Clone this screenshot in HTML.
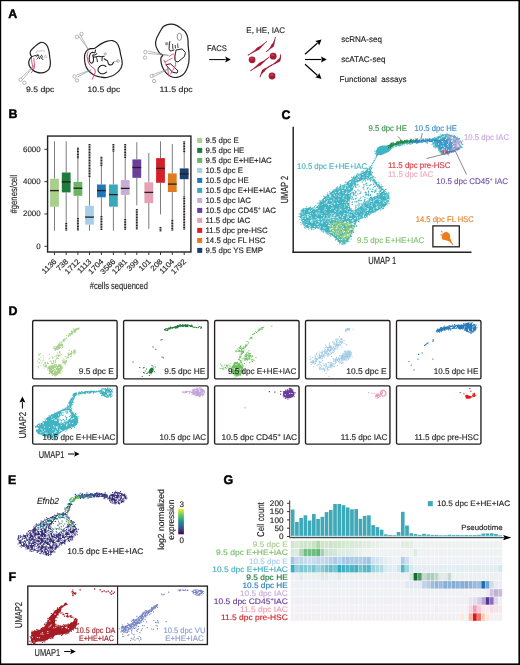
<!DOCTYPE html>
<html><head><meta charset="utf-8"><style>
html,body{margin:0;padding:0;background:#fff;}
body{width:520px;height:665px;overflow:hidden;position:relative;}
svg{position:absolute;left:0;top:0;display:block;will-change:transform;}
text{font-family:"Liberation Sans", sans-serif;text-rendering:geometricPrecision;}
</style></head><body>
<svg width="520" height="665" viewBox="0 0 520 665">
<rect x="0" y="0" width="520" height="665" fill="#fff"/>
<rect x="0.00" y="0.00" width="520.00" height="1.20" fill="#000"/>
<rect x="0.00" y="0.00" width="1.20" height="665.00" fill="#000"/>
<rect x="518.40" y="0.00" width="1.60" height="665.00" fill="#000"/>
<rect x="0.00" y="663.40" width="520.00" height="1.60" fill="#000"/>
<text transform="translate(8.30 17.90)" font-size="12.4" fill="#000" font-weight="bold" stroke="#000" stroke-width="0.45">A</text>
<text transform="translate(8.60 117.70)" font-size="12.4" fill="#000" font-weight="bold" stroke="#000" stroke-width="0.45">B</text>
<text transform="translate(281.60 118.50)" font-size="12.4" fill="#000" font-weight="bold" stroke="#000" stroke-width="0.45">C</text>
<text transform="translate(8.60 314.90)" font-size="12.4" fill="#000" font-weight="bold" stroke="#000" stroke-width="0.45">D</text>
<text transform="translate(8.00 484.30)" font-size="12.4" fill="#000" font-weight="bold" stroke="#000" stroke-width="0.45">E</text>
<text transform="translate(8.60 581.40)" font-size="12.4" fill="#000" font-weight="bold" stroke="#000" stroke-width="0.45">F</text>
<text transform="translate(223.40 483.70)" font-size="12.4" fill="#000" font-weight="bold" stroke="#000" stroke-width="0.45">G</text>
<rect x="47.6" y="136.05" width="143.3" height="115.95" fill="none" stroke="#231f20" stroke-width="1.4"/>
<line x1="44.40" y1="149.31" x2="47.40" y2="149.31" stroke="#231f20" stroke-width="0.9"/>
<text transform="translate(40.60 151.61)" font-size="7.9" fill="#231f20" text-anchor="end" stroke="#231f20" stroke-width="0.15">6000</text>
<line x1="44.40" y1="181.64" x2="47.40" y2="181.64" stroke="#231f20" stroke-width="0.9"/>
<text transform="translate(40.60 183.94)" font-size="7.9" fill="#231f20" text-anchor="end" stroke="#231f20" stroke-width="0.15">4000</text>
<line x1="44.40" y1="213.97" x2="47.40" y2="213.97" stroke="#231f20" stroke-width="0.9"/>
<text transform="translate(40.60 216.27)" font-size="7.9" fill="#231f20" text-anchor="end" stroke="#231f20" stroke-width="0.15">2000</text>
<line x1="44.40" y1="246.30" x2="47.40" y2="246.30" stroke="#231f20" stroke-width="0.9"/>
<text transform="translate(40.60 248.60)" font-size="7.9" fill="#231f20" text-anchor="end" stroke="#231f20" stroke-width="0.15">0</text>
<text transform="translate(16.60 194.00) rotate(-90)" font-size="9.8" fill="#231f20" text-anchor="middle" textLength="39.00" lengthAdjust="spacingAndGlyphs" stroke="#231f20" stroke-width="0.15">#genes/cell</text>
<line x1="54.50" y1="141.30" x2="54.50" y2="178.70" stroke="#6d6e71" stroke-width="0.9"/>
<line x1="54.50" y1="206.70" x2="54.50" y2="230.70" stroke="#6d6e71" stroke-width="0.9"/>
<rect x="50.10" y="178.70" width="8.80" height="28.00" fill="#a8cf8b"/>
<rect x="50.10" y="189.95" width="8.80" height="1.30" fill="#231f20"/>
<line x1="54.50" y1="252.20" x2="54.50" y2="255.00" stroke="#231f20" stroke-width="0.9"/>
<line x1="66.20" y1="141.30" x2="66.20" y2="172.50" stroke="#6d6e71" stroke-width="0.9"/>
<line x1="66.20" y1="192.40" x2="66.20" y2="223.00" stroke="#6d6e71" stroke-width="0.9"/>
<rect x="65.25" y="223.00" width="1.90" height="1.20" fill="#231f20"/>
<rect x="65.25" y="224.60" width="1.90" height="1.20" fill="#231f20"/>
<rect x="65.25" y="226.20" width="1.90" height="1.20" fill="#231f20"/>
<rect x="65.25" y="227.80" width="1.90" height="1.20" fill="#231f20"/>
<rect x="65.25" y="229.40" width="1.90" height="1.20" fill="#231f20"/>
<rect x="61.80" y="172.50" width="8.80" height="19.90" fill="#1e7b3c"/>
<rect x="61.80" y="181.25" width="8.80" height="1.30" fill="#231f20"/>
<line x1="66.20" y1="252.20" x2="66.20" y2="255.00" stroke="#231f20" stroke-width="0.9"/>
<line x1="77.90" y1="158.50" x2="77.90" y2="181.90" stroke="#6d6e71" stroke-width="0.9"/>
<line x1="77.90" y1="195.80" x2="77.90" y2="218.00" stroke="#6d6e71" stroke-width="0.9"/>
<rect x="76.95" y="147.60" width="1.90" height="1.20" fill="#231f20"/>
<rect x="76.95" y="149.20" width="1.90" height="1.20" fill="#231f20"/>
<rect x="76.95" y="150.80" width="1.90" height="1.20" fill="#231f20"/>
<rect x="76.95" y="152.40" width="1.90" height="1.20" fill="#231f20"/>
<rect x="76.95" y="154.00" width="1.90" height="1.20" fill="#231f20"/>
<rect x="76.95" y="155.60" width="1.90" height="1.20" fill="#231f20"/>
<rect x="76.95" y="157.20" width="1.90" height="1.20" fill="#231f20"/>
<rect x="76.95" y="218.00" width="1.90" height="1.20" fill="#231f20"/>
<rect x="76.95" y="219.60" width="1.90" height="1.20" fill="#231f20"/>
<rect x="76.95" y="221.20" width="1.90" height="1.20" fill="#231f20"/>
<rect x="76.95" y="222.80" width="1.90" height="1.20" fill="#231f20"/>
<rect x="76.95" y="224.40" width="1.90" height="1.20" fill="#231f20"/>
<rect x="76.95" y="226.00" width="1.90" height="1.20" fill="#231f20"/>
<rect x="76.95" y="227.60" width="1.90" height="1.20" fill="#231f20"/>
<rect x="76.95" y="229.20" width="1.90" height="1.20" fill="#231f20"/>
<rect x="73.50" y="181.90" width="8.80" height="13.90" fill="#6bb567"/>
<rect x="73.50" y="187.55" width="8.80" height="1.30" fill="#231f20"/>
<line x1="77.90" y1="252.20" x2="77.90" y2="255.00" stroke="#231f20" stroke-width="0.9"/>
<line x1="89.50" y1="177.40" x2="89.50" y2="205.80" stroke="#6d6e71" stroke-width="0.9"/>
<line x1="89.50" y1="224.70" x2="89.50" y2="230.70" stroke="#6d6e71" stroke-width="0.9"/>
<rect x="88.55" y="144.00" width="1.90" height="1.20" fill="#231f20"/>
<rect x="88.55" y="145.60" width="1.90" height="1.20" fill="#231f20"/>
<rect x="88.55" y="147.20" width="1.90" height="1.20" fill="#231f20"/>
<rect x="88.55" y="148.80" width="1.90" height="1.20" fill="#231f20"/>
<rect x="88.55" y="150.40" width="1.90" height="1.20" fill="#231f20"/>
<rect x="88.55" y="152.00" width="1.90" height="1.20" fill="#231f20"/>
<rect x="88.55" y="153.60" width="1.90" height="1.20" fill="#231f20"/>
<rect x="88.55" y="155.20" width="1.90" height="1.20" fill="#231f20"/>
<rect x="88.55" y="156.80" width="1.90" height="1.20" fill="#231f20"/>
<rect x="88.55" y="158.40" width="1.90" height="1.20" fill="#231f20"/>
<rect x="88.55" y="160.00" width="1.90" height="1.20" fill="#231f20"/>
<rect x="88.55" y="161.60" width="1.90" height="1.20" fill="#231f20"/>
<rect x="88.55" y="163.20" width="1.90" height="1.20" fill="#231f20"/>
<rect x="88.55" y="164.80" width="1.90" height="1.20" fill="#231f20"/>
<rect x="88.55" y="166.40" width="1.90" height="1.20" fill="#231f20"/>
<rect x="88.55" y="168.00" width="1.90" height="1.20" fill="#231f20"/>
<rect x="88.55" y="169.60" width="1.90" height="1.20" fill="#231f20"/>
<rect x="88.55" y="171.20" width="1.90" height="1.20" fill="#231f20"/>
<rect x="88.55" y="172.80" width="1.90" height="1.20" fill="#231f20"/>
<rect x="88.55" y="174.40" width="1.90" height="1.20" fill="#231f20"/>
<rect x="88.55" y="176.00" width="1.90" height="1.20" fill="#231f20"/>
<rect x="85.10" y="205.80" width="8.80" height="18.90" fill="#a7cfe9"/>
<rect x="85.10" y="216.45" width="8.80" height="1.30" fill="#231f20"/>
<line x1="89.50" y1="252.20" x2="89.50" y2="255.00" stroke="#231f20" stroke-width="0.9"/>
<line x1="101.40" y1="164.80" x2="101.40" y2="184.50" stroke="#6d6e71" stroke-width="0.9"/>
<line x1="101.40" y1="197.30" x2="101.40" y2="216.00" stroke="#6d6e71" stroke-width="0.9"/>
<rect x="100.45" y="156.70" width="1.90" height="1.20" fill="#231f20"/>
<rect x="100.45" y="158.30" width="1.90" height="1.20" fill="#231f20"/>
<rect x="100.45" y="159.90" width="1.90" height="1.20" fill="#231f20"/>
<rect x="100.45" y="161.50" width="1.90" height="1.20" fill="#231f20"/>
<rect x="100.45" y="163.10" width="1.90" height="1.20" fill="#231f20"/>
<rect x="100.45" y="164.70" width="1.90" height="1.20" fill="#231f20"/>
<rect x="100.45" y="216.00" width="1.90" height="1.20" fill="#231f20"/>
<rect x="100.45" y="217.60" width="1.90" height="1.20" fill="#231f20"/>
<rect x="100.45" y="219.20" width="1.90" height="1.20" fill="#231f20"/>
<rect x="100.45" y="220.80" width="1.90" height="1.20" fill="#231f20"/>
<rect x="100.45" y="222.40" width="1.90" height="1.20" fill="#231f20"/>
<rect x="100.45" y="224.00" width="1.90" height="1.20" fill="#231f20"/>
<rect x="100.45" y="225.60" width="1.90" height="1.20" fill="#231f20"/>
<rect x="100.45" y="227.20" width="1.90" height="1.20" fill="#231f20"/>
<rect x="100.45" y="228.80" width="1.90" height="1.20" fill="#231f20"/>
<rect x="97.00" y="184.50" width="8.80" height="12.80" fill="#1f78b8"/>
<rect x="97.00" y="189.95" width="8.80" height="1.30" fill="#231f20"/>
<line x1="101.40" y1="252.20" x2="101.40" y2="255.00" stroke="#231f20" stroke-width="0.9"/>
<line x1="113.40" y1="151.00" x2="113.40" y2="184.50" stroke="#6d6e71" stroke-width="0.9"/>
<line x1="113.40" y1="206.70" x2="113.40" y2="230.70" stroke="#6d6e71" stroke-width="0.9"/>
<rect x="112.45" y="144.00" width="1.90" height="1.20" fill="#231f20"/>
<rect x="112.45" y="145.60" width="1.90" height="1.20" fill="#231f20"/>
<rect x="112.45" y="147.20" width="1.90" height="1.20" fill="#231f20"/>
<rect x="112.45" y="148.80" width="1.90" height="1.20" fill="#231f20"/>
<rect x="112.45" y="150.40" width="1.90" height="1.20" fill="#231f20"/>
<rect x="109.00" y="184.50" width="8.80" height="22.20" fill="#3ba8b9"/>
<rect x="109.00" y="193.95" width="8.80" height="1.30" fill="#231f20"/>
<line x1="113.40" y1="252.20" x2="113.40" y2="255.00" stroke="#231f20" stroke-width="0.9"/>
<line x1="125.20" y1="157.60" x2="125.20" y2="180.10" stroke="#6d6e71" stroke-width="0.9"/>
<line x1="125.20" y1="194.90" x2="125.20" y2="219.00" stroke="#6d6e71" stroke-width="0.9"/>
<rect x="124.25" y="144.00" width="1.90" height="1.20" fill="#231f20"/>
<rect x="124.25" y="145.60" width="1.90" height="1.20" fill="#231f20"/>
<rect x="124.25" y="147.20" width="1.90" height="1.20" fill="#231f20"/>
<rect x="124.25" y="148.80" width="1.90" height="1.20" fill="#231f20"/>
<rect x="124.25" y="150.40" width="1.90" height="1.20" fill="#231f20"/>
<rect x="124.25" y="152.00" width="1.90" height="1.20" fill="#231f20"/>
<rect x="124.25" y="153.60" width="1.90" height="1.20" fill="#231f20"/>
<rect x="124.25" y="155.20" width="1.90" height="1.20" fill="#231f20"/>
<rect x="124.25" y="156.80" width="1.90" height="1.20" fill="#231f20"/>
<rect x="124.25" y="219.00" width="1.90" height="1.20" fill="#231f20"/>
<rect x="124.25" y="220.60" width="1.90" height="1.20" fill="#231f20"/>
<rect x="124.25" y="222.20" width="1.90" height="1.20" fill="#231f20"/>
<rect x="124.25" y="223.80" width="1.90" height="1.20" fill="#231f20"/>
<rect x="124.25" y="225.40" width="1.90" height="1.20" fill="#231f20"/>
<rect x="124.25" y="227.00" width="1.90" height="1.20" fill="#231f20"/>
<rect x="124.25" y="228.60" width="1.90" height="1.20" fill="#231f20"/>
<rect x="120.80" y="180.10" width="8.80" height="14.80" fill="#c8aed7"/>
<rect x="120.80" y="187.75" width="8.80" height="1.30" fill="#231f20"/>
<line x1="125.20" y1="252.20" x2="125.20" y2="255.00" stroke="#231f20" stroke-width="0.9"/>
<line x1="136.80" y1="142.20" x2="136.80" y2="159.40" stroke="#6d6e71" stroke-width="0.9"/>
<line x1="136.80" y1="177.80" x2="136.80" y2="205.40" stroke="#6d6e71" stroke-width="0.9"/>
<rect x="135.85" y="209.00" width="1.90" height="1.20" fill="#231f20"/>
<rect x="135.85" y="210.60" width="1.90" height="1.20" fill="#231f20"/>
<rect x="135.85" y="212.20" width="1.90" height="1.20" fill="#231f20"/>
<rect x="135.85" y="213.80" width="1.90" height="1.20" fill="#231f20"/>
<rect x="135.85" y="215.40" width="1.90" height="1.20" fill="#231f20"/>
<rect x="135.85" y="217.00" width="1.90" height="1.20" fill="#231f20"/>
<rect x="135.85" y="218.60" width="1.90" height="1.20" fill="#231f20"/>
<rect x="135.85" y="220.20" width="1.90" height="1.20" fill="#231f20"/>
<rect x="135.85" y="221.80" width="1.90" height="1.20" fill="#231f20"/>
<rect x="135.85" y="223.40" width="1.90" height="1.20" fill="#231f20"/>
<rect x="135.85" y="225.00" width="1.90" height="1.20" fill="#231f20"/>
<rect x="135.85" y="226.60" width="1.90" height="1.20" fill="#231f20"/>
<rect x="135.85" y="228.20" width="1.90" height="1.20" fill="#231f20"/>
<rect x="132.40" y="159.40" width="8.80" height="18.40" fill="#6a3e9b"/>
<rect x="132.40" y="166.85" width="8.80" height="1.30" fill="#231f20"/>
<line x1="136.80" y1="252.20" x2="136.80" y2="255.00" stroke="#231f20" stroke-width="0.9"/>
<line x1="148.80" y1="153.00" x2="148.80" y2="182.30" stroke="#6d6e71" stroke-width="0.9"/>
<line x1="148.80" y1="203.20" x2="148.80" y2="228.90" stroke="#6d6e71" stroke-width="0.9"/>
<rect x="144.40" y="182.30" width="8.80" height="20.90" fill="#e6a1b5"/>
<rect x="144.40" y="191.75" width="8.80" height="1.30" fill="#231f20"/>
<line x1="148.80" y1="252.20" x2="148.80" y2="255.00" stroke="#231f20" stroke-width="0.9"/>
<line x1="160.50" y1="141.30" x2="160.50" y2="158.10" stroke="#6d6e71" stroke-width="0.9"/>
<line x1="160.50" y1="182.80" x2="160.50" y2="214.40" stroke="#6d6e71" stroke-width="0.9"/>
<rect x="159.55" y="227.00" width="1.90" height="1.20" fill="#231f20"/>
<rect x="159.55" y="228.60" width="1.90" height="1.20" fill="#231f20"/>
<rect x="159.55" y="230.20" width="1.90" height="1.20" fill="#231f20"/>
<rect x="156.10" y="158.10" width="8.80" height="24.70" fill="#d42128"/>
<rect x="156.10" y="167.75" width="8.80" height="1.30" fill="#231f20"/>
<line x1="160.50" y1="252.20" x2="160.50" y2="255.00" stroke="#231f20" stroke-width="0.9"/>
<line x1="172.30" y1="144.00" x2="172.30" y2="173.40" stroke="#6d6e71" stroke-width="0.9"/>
<line x1="172.30" y1="192.00" x2="172.30" y2="219.80" stroke="#6d6e71" stroke-width="0.9"/>
<rect x="171.35" y="219.80" width="1.90" height="1.20" fill="#231f20"/>
<rect x="171.35" y="221.40" width="1.90" height="1.20" fill="#231f20"/>
<rect x="171.35" y="223.00" width="1.90" height="1.20" fill="#231f20"/>
<rect x="171.35" y="224.60" width="1.90" height="1.20" fill="#231f20"/>
<rect x="171.35" y="226.20" width="1.90" height="1.20" fill="#231f20"/>
<rect x="171.35" y="227.80" width="1.90" height="1.20" fill="#231f20"/>
<rect x="171.35" y="229.40" width="1.90" height="1.20" fill="#231f20"/>
<rect x="167.90" y="173.40" width="8.80" height="18.60" fill="#e17b21"/>
<rect x="167.90" y="183.45" width="8.80" height="1.30" fill="#231f20"/>
<line x1="172.30" y1="252.20" x2="172.30" y2="255.00" stroke="#231f20" stroke-width="0.9"/>
<line x1="184.20" y1="151.20" x2="184.20" y2="168.40" stroke="#6d6e71" stroke-width="0.9"/>
<line x1="184.20" y1="179.20" x2="184.20" y2="196.40" stroke="#6d6e71" stroke-width="0.9"/>
<rect x="183.25" y="141.30" width="1.90" height="1.20" fill="#231f20"/>
<rect x="183.25" y="142.90" width="1.90" height="1.20" fill="#231f20"/>
<rect x="183.25" y="144.50" width="1.90" height="1.20" fill="#231f20"/>
<rect x="183.25" y="146.10" width="1.90" height="1.20" fill="#231f20"/>
<rect x="183.25" y="147.70" width="1.90" height="1.20" fill="#231f20"/>
<rect x="183.25" y="149.30" width="1.90" height="1.20" fill="#231f20"/>
<rect x="183.25" y="150.90" width="1.90" height="1.20" fill="#231f20"/>
<rect x="183.25" y="196.40" width="1.90" height="1.20" fill="#231f20"/>
<rect x="183.25" y="198.00" width="1.90" height="1.20" fill="#231f20"/>
<rect x="183.25" y="199.60" width="1.90" height="1.20" fill="#231f20"/>
<rect x="183.25" y="201.20" width="1.90" height="1.20" fill="#231f20"/>
<rect x="183.25" y="202.80" width="1.90" height="1.20" fill="#231f20"/>
<rect x="183.25" y="204.40" width="1.90" height="1.20" fill="#231f20"/>
<rect x="183.25" y="206.00" width="1.90" height="1.20" fill="#231f20"/>
<rect x="183.25" y="207.60" width="1.90" height="1.20" fill="#231f20"/>
<rect x="183.25" y="209.20" width="1.90" height="1.20" fill="#231f20"/>
<rect x="183.25" y="210.80" width="1.90" height="1.20" fill="#231f20"/>
<rect x="183.25" y="212.40" width="1.90" height="1.20" fill="#231f20"/>
<rect x="183.25" y="214.00" width="1.90" height="1.20" fill="#231f20"/>
<rect x="183.25" y="215.60" width="1.90" height="1.20" fill="#231f20"/>
<rect x="183.25" y="217.20" width="1.90" height="1.20" fill="#231f20"/>
<rect x="183.25" y="218.80" width="1.90" height="1.20" fill="#231f20"/>
<rect x="183.25" y="220.40" width="1.90" height="1.20" fill="#231f20"/>
<rect x="183.25" y="222.00" width="1.90" height="1.20" fill="#231f20"/>
<rect x="183.25" y="223.60" width="1.90" height="1.20" fill="#231f20"/>
<rect x="183.25" y="225.20" width="1.90" height="1.20" fill="#231f20"/>
<rect x="183.25" y="226.80" width="1.90" height="1.20" fill="#231f20"/>
<rect x="183.25" y="228.40" width="1.90" height="1.20" fill="#231f20"/>
<rect x="179.80" y="168.40" width="8.80" height="10.80" fill="#1b3f71"/>
<rect x="179.80" y="173.15" width="8.80" height="1.30" fill="#231f20"/>
<line x1="184.20" y1="252.20" x2="184.20" y2="255.00" stroke="#231f20" stroke-width="0.9"/>
<text transform="translate(57.00 262.00) rotate(-45) scale(1.060 1)" font-size="7.6" fill="#231f20" text-anchor="end" stroke="#231f20" stroke-width="0.15">1136</text>
<text transform="translate(68.70 262.00) rotate(-45) scale(1.060 1)" font-size="7.6" fill="#231f20" text-anchor="end" stroke="#231f20" stroke-width="0.15">738</text>
<text transform="translate(80.40 262.00) rotate(-45) scale(1.060 1)" font-size="7.6" fill="#231f20" text-anchor="end" stroke="#231f20" stroke-width="0.15">1712</text>
<text transform="translate(92.00 262.00) rotate(-45) scale(1.060 1)" font-size="7.6" fill="#231f20" text-anchor="end" stroke="#231f20" stroke-width="0.15">1113</text>
<text transform="translate(103.90 262.00) rotate(-45) scale(1.060 1)" font-size="7.6" fill="#231f20" text-anchor="end" stroke="#231f20" stroke-width="0.15">1704</text>
<text transform="translate(115.90 262.00) rotate(-45) scale(1.060 1)" font-size="7.6" fill="#231f20" text-anchor="end" stroke="#231f20" stroke-width="0.15">3586</text>
<text transform="translate(127.70 262.00) rotate(-45) scale(1.060 1)" font-size="7.6" fill="#231f20" text-anchor="end" stroke="#231f20" stroke-width="0.15">1281</text>
<text transform="translate(139.30 262.00) rotate(-45) scale(1.060 1)" font-size="7.6" fill="#231f20" text-anchor="end" stroke="#231f20" stroke-width="0.15">399</text>
<text transform="translate(151.30 262.00) rotate(-45) scale(1.060 1)" font-size="7.6" fill="#231f20" text-anchor="end" stroke="#231f20" stroke-width="0.15">101</text>
<text transform="translate(163.00 262.00) rotate(-45) scale(1.060 1)" font-size="7.6" fill="#231f20" text-anchor="end" stroke="#231f20" stroke-width="0.15">208</text>
<text transform="translate(174.80 262.00) rotate(-45) scale(1.060 1)" font-size="7.6" fill="#231f20" text-anchor="end" stroke="#231f20" stroke-width="0.15">1104</text>
<text transform="translate(186.70 262.00) rotate(-45) scale(1.060 1)" font-size="7.6" fill="#231f20" text-anchor="end" stroke="#231f20" stroke-width="0.15">1792</text>
<text transform="translate(89.70 288.90)" font-size="9.8" fill="#231f20" textLength="58.30" lengthAdjust="spacingAndGlyphs" stroke="#231f20" stroke-width="0.15">#cells sequenced</text>
<rect x="197.20" y="137.90" width="5.00" height="5.00" fill="#a8cf8b"/>
<text transform="translate(205.50 142.90)" font-size="7.85" fill="#231f20" stroke="#231f20" stroke-width="0.15">9.5 dpc E</text>
<rect x="197.20" y="147.90" width="5.00" height="5.00" fill="#1e7b3c"/>
<text transform="translate(205.50 152.90)" font-size="7.85" fill="#231f20" stroke="#231f20" stroke-width="0.15">9.5 dpc HE</text>
<rect x="197.20" y="157.90" width="5.00" height="5.00" fill="#6bb567"/>
<text transform="translate(205.50 162.90)" font-size="7.85" fill="#231f20" stroke="#231f20" stroke-width="0.15">9.5 dpc E+HE+IAC</text>
<rect x="197.20" y="167.90" width="5.00" height="5.00" fill="#a7cfe9"/>
<text transform="translate(205.50 172.90)" font-size="7.85" fill="#231f20" stroke="#231f20" stroke-width="0.15">10.5 dpc E</text>
<rect x="197.20" y="177.90" width="5.00" height="5.00" fill="#1f78b8"/>
<text transform="translate(205.50 182.90)" font-size="7.85" fill="#231f20" stroke="#231f20" stroke-width="0.15">10.5 dpc HE</text>
<rect x="197.20" y="187.90" width="5.00" height="5.00" fill="#3ba8b9"/>
<text transform="translate(205.50 192.90)" font-size="7.85" fill="#231f20" stroke="#231f20" stroke-width="0.15">10.5 dpc E+HE+IAC</text>
<rect x="197.20" y="197.90" width="5.00" height="5.00" fill="#c8aed7"/>
<text transform="translate(205.50 202.90)" font-size="7.85" fill="#231f20" stroke="#231f20" stroke-width="0.15">10.5 dpc IAC</text>
<rect x="197.20" y="207.90" width="5.00" height="5.00" fill="#6a3e9b"/>
<text transform="translate(205.50 212.90)" font-size="7.85" fill="#231f20" stroke="#231f20" stroke-width="0.15">10.5 dpc CD45<tspan dy="-2.6" font-size="4.8">+</tspan><tspan dy="2.6"> IAC</tspan></text>
<rect x="197.20" y="217.90" width="5.00" height="5.00" fill="#e6a1b5"/>
<text transform="translate(205.50 222.90)" font-size="7.85" fill="#231f20" stroke="#231f20" stroke-width="0.15">11.5 dpc IAC</text>
<rect x="197.20" y="227.90" width="5.00" height="5.00" fill="#d42128"/>
<text transform="translate(205.50 232.90)" font-size="7.85" fill="#231f20" stroke="#231f20" stroke-width="0.15">11.5 dpc pre-HSC</text>
<rect x="197.20" y="237.90" width="5.00" height="5.00" fill="#e17b21"/>
<text transform="translate(205.50 242.90)" font-size="7.85" fill="#231f20" stroke="#231f20" stroke-width="0.15">14.5 dpc FL HSC</text>
<rect x="197.20" y="247.90" width="5.00" height="5.00" fill="#1b3f71"/>
<text transform="translate(205.50 252.90)" font-size="7.85" fill="#231f20" stroke="#231f20" stroke-width="0.15">9.5 dpc YS EMP</text>
<path d="M41.0 42.3 C42.3 42.1 43.9 42.8 45.0 43.5 C46.1 44.2 46.8 45.2 47.5 46.5 C48.2 47.8 48.6 49.7 49.0 51.5 C49.4 53.3 49.6 55.5 49.8 57.5 C50.0 59.5 50.5 61.6 50.4 63.5 C50.3 65.4 50.0 67.4 49.2 68.8 C48.4 70.2 47.1 71.1 45.8 71.8 C44.5 72.5 42.8 72.9 41.2 72.9 C39.7 73.0 38.0 72.6 36.5 72.1 C35.0 71.6 33.6 70.8 32.5 69.8 C31.4 68.8 30.2 67.5 29.6 66.3 C29.0 65.1 28.7 63.8 28.7 62.6 C28.7 61.4 29.3 60.0 29.8 59.0 C30.3 58.0 31.5 57.5 31.6 56.8 C31.7 56.0 30.6 55.4 30.4 54.5 C30.2 53.6 30.0 52.3 30.5 51.2 C31.0 50.1 32.2 49.1 33.3 48.0 C34.4 46.9 36.0 45.6 37.3 44.6 C38.6 43.6 39.7 42.5 41.0 42.3 Z" fill="none" stroke="#231f20" stroke-width="1.2" stroke-linecap="round" stroke-linejoin="round"/>
<path d="M32.0 56.6 C32.5 56.4 34.0 55.9 35.0 55.6 C36.0 55.3 37.5 55.1 38.0 55.0" fill="none" stroke="#231f20" stroke-width="0.9" stroke-linecap="round" stroke-linejoin="round"/>
<path d="M36.3 56.5 C36.5 56.3 37.3 55.3 37.8 55.2 C38.2 55.1 38.9 55.4 39.0 55.8 C39.1 56.2 38.5 57.1 38.2 57.6 C37.9 58.1 37.2 58.8 37.0 59.0" fill="none" stroke="#231f20" stroke-width="1.0" stroke-linecap="round" stroke-linejoin="round"/>
<path d="M39.5 58.8 C39.7 58.4 40.2 57.1 40.5 56.5 C40.8 55.9 41.2 55.2 41.5 55.2 C41.8 55.2 42.3 56.2 42.3 56.8 C42.3 57.3 41.5 58.1 41.6 58.5 C41.7 58.9 42.8 59.2 43.0 59.3" fill="none" stroke="#231f20" stroke-width="1.0" stroke-linecap="round" stroke-linejoin="round"/>
<path d="M36.0 52.8 C36.2 52.5 36.9 51.1 37.5 50.8 C38.1 50.5 38.8 51.2 39.5 51.2 C40.2 51.2 41.1 50.6 42.0 50.6 C42.9 50.6 44.2 51.1 44.6 51.2" fill="none" stroke="#999" stroke-width="0.6" stroke-linecap="round" stroke-linejoin="round"/>
<circle cx="45.6" cy="56.6" r="1.1" fill="none" stroke="#888" stroke-width="0.5"/>
<path d="M31.5 58.0 C31.6 58.7 31.6 60.7 31.8 62.0 C32.0 63.3 32.3 64.9 32.6 66.0 C32.9 67.1 33.8 67.8 33.8 68.6 C33.8 69.4 33.0 70.3 32.6 71.0 C32.2 71.7 31.4 72.5 31.2 72.8" fill="none" stroke="#e0407a" stroke-width="0.9" stroke-linecap="round" stroke-linejoin="round"/>
<path d="M33.8 58.3 C33.8 58.9 34.0 60.7 34.1 62.0 C34.2 63.3 34.6 64.9 34.6 66.0 C34.6 67.1 34.3 68.0 34.2 68.4" fill="none" stroke="#e0407a" stroke-width="0.9" stroke-linecap="round" stroke-linejoin="round"/>
<line x1="35.00" y1="64.50" x2="22.80" y2="79.50" stroke="#8a8c8e" stroke-width="0.6"/>
<line x1="35.00" y1="64.50" x2="21.09" y2="78.11" stroke="#8a8c8e" stroke-width="0.6"/>
<circle cx="20.6" cy="79.6" r="1.7" fill="none" stroke="#8a8c8e" stroke-width="0.6"/>
<circle cx="24.4" cy="82.8" r="1.7" fill="none" stroke="#8a8c8e" stroke-width="0.6"/>
<path d="M95.5 47.8 C96.8 47.0 99.5 44.7 101.5 43.6 C103.4 42.5 105.5 41.6 107.4 41.1 C109.2 40.6 110.9 40.4 112.5 40.6 C114.0 40.9 115.6 41.6 116.7 42.8 C117.8 44.0 118.6 46.0 119.2 47.8 C119.9 49.7 120.1 51.8 120.5 53.8 C120.9 55.7 121.5 58.0 121.8 59.7 C122.0 61.4 122.3 62.5 122.2 63.9 C122.0 65.3 121.7 66.7 120.9 68.2 C120.1 69.6 118.9 71.1 117.5 72.4 C116.1 73.6 114.3 74.9 112.5 75.8 C110.6 76.6 108.5 77.2 106.5 77.5 C104.6 77.7 102.4 77.3 100.6 77.0 C98.8 76.7 97.1 76.4 95.5 75.8 C94.0 75.1 92.6 74.2 91.3 73.2 C90.0 72.2 88.9 71.3 87.9 69.8 C86.9 68.4 85.9 66.6 85.4 64.8 C84.8 62.9 84.6 60.7 84.5 58.8 C84.5 57.0 84.5 55.2 85.0 53.8 C85.4 52.4 86.2 51.2 87.1 50.4 C88.0 49.5 89.3 49.0 90.5 48.7 C91.6 48.4 93.0 48.7 93.8 48.5 C94.7 48.4 94.3 48.7 95.5 47.8 Z" fill="none" stroke="#231f20" stroke-width="1.2" stroke-linecap="round" stroke-linejoin="round"/>
<path d="M95.5 50.0 C95.4 50.5 95.3 52.5 94.7 52.9 C94.1 53.3 92.9 52.0 92.2 52.2 C91.4 52.5 90.5 53.2 90.0 54.2 C89.5 55.1 89.3 56.8 89.2 58.0 C89.1 59.2 89.3 60.5 89.6 61.4 C90.0 62.3 90.7 63.2 91.3 63.2 C91.9 63.3 92.8 62.7 93.2 61.8 C93.5 60.9 93.5 59.1 93.4 58.0 C93.4 56.9 92.6 55.5 92.8 55.0 C93.0 54.5 94.0 55.3 94.7 55.0 C95.4 54.8 96.5 54.0 96.8 53.8" fill="none" stroke="#231f20" stroke-width="1.1" stroke-linecap="round" stroke-linejoin="round"/>
<path d="M93.8 57.1 C94.3 57.1 95.5 56.9 96.4 56.7 C97.2 56.6 98.1 56.3 98.9 56.3 C99.8 56.3 100.6 56.7 101.5 56.7 C102.3 56.7 103.7 56.4 104.2 56.3" fill="none" stroke="#231f20" stroke-width="1.1" stroke-linecap="round" stroke-linejoin="round"/>
<path d="M96.4 57.6 C96.5 57.9 96.9 59.0 97.1 59.7 C97.2 60.4 97.3 61.4 97.4 61.8" fill="none" stroke="#231f20" stroke-width="1.0" stroke-linecap="round" stroke-linejoin="round"/>
<path d="M102.3 57.0 C102.3 57.3 102.2 58.2 102.1 58.8 C102.1 59.5 101.9 60.4 101.9 60.7" fill="none" stroke="#231f20" stroke-width="1.0" stroke-linecap="round" stroke-linejoin="round"/>
<path d="M104.2 58.8 C104.6 59.1 105.9 59.7 106.5 60.1 C107.1 60.5 107.5 60.7 107.8 61.4 C108.1 62.0 108.0 63.3 108.4 63.9 C108.8 64.5 109.7 64.9 110.3 64.9 C111.0 65.0 111.8 64.8 112.3 64.3 C112.8 63.9 113.3 62.6 113.5 62.2" fill="none" stroke="#231f20" stroke-width="1.1" stroke-linecap="round" stroke-linejoin="round"/>
<path d="M105.9 66.5 C105.4 66.2 104.1 65.3 103.2 65.2 C102.2 65.1 101.0 65.5 100.2 66.0 C99.4 66.6 98.6 67.7 98.2 68.6 C97.9 69.4 97.9 70.3 98.2 71.1 C98.6 71.9 99.3 72.8 100.2 73.2 C101.1 73.7 102.7 73.9 103.8 73.7 C104.9 73.5 106.2 72.3 106.7 72.0" fill="none" stroke="#231f20" stroke-width="1.1" stroke-linecap="round" stroke-linejoin="round"/>
<circle cx="105.3" cy="53.8" r="1.1" fill="none" stroke="#777" stroke-width="0.6"/>
<circle cx="118.0" cy="61.0" r="1.3" fill="none" stroke="#777" stroke-width="0.6"/>
<line x1="113.50" y1="61.60" x2="116.70" y2="61.20" stroke="#777" stroke-width="0.5"/>
<path d="M88.1 51.9 C87.9 52.6 87.0 54.5 87.1 56.3 C87.2 58.1 87.8 61.1 88.6 62.9 C89.4 64.7 91.0 66.1 92.0 67.1 C93.0 68.2 94.2 68.3 94.7 69.2 C95.2 70.0 95.3 71.3 95.2 72.4 C95.1 73.5 94.5 74.6 94.0 75.8 C93.5 76.9 92.5 78.6 92.2 79.2" fill="none" stroke="#e0407a" stroke-width="1.0" stroke-linecap="round" stroke-linejoin="round"/>
<line x1="88.30" y1="49.50" x2="78.50" y2="36.00" stroke="#8a8c8e" stroke-width="0.6"/>
<line x1="88.30" y1="49.50" x2="80.28" y2="34.71" stroke="#8a8c8e" stroke-width="0.6"/>
<circle cx="77.0" cy="36.8" r="1.7" fill="none" stroke="#8a8c8e" stroke-width="0.6"/>
<circle cx="81.5" cy="34.0" r="1.7" fill="none" stroke="#8a8c8e" stroke-width="0.6"/>
<line x1="91.30" y1="69.80" x2="77.50" y2="77.00" stroke="#8a8c8e" stroke-width="0.6"/>
<line x1="91.30" y1="69.80" x2="76.48" y2="75.05" stroke="#8a8c8e" stroke-width="0.6"/>
<circle cx="74.5" cy="76.5" r="1.7" fill="none" stroke="#8a8c8e" stroke-width="0.6"/>
<circle cx="77.0" cy="80.5" r="1.7" fill="none" stroke="#8a8c8e" stroke-width="0.6"/>
<path d="M164.0 26.1 C165.5 25.3 168.3 24.3 170.5 24.2 C172.7 24.1 175.2 24.8 177.0 25.6 C178.9 26.4 180.3 27.8 181.7 28.9 C183.1 29.9 184.4 30.6 185.4 32.1 C186.4 33.6 187.3 35.4 187.7 37.7 C188.2 40.0 188.0 43.2 188.2 46.1 C188.4 49.0 189.1 52.6 189.1 55.4 C189.2 58.2 189.1 60.4 188.7 62.9 C188.2 65.4 187.4 68.3 186.3 70.3 C185.3 72.3 184.2 73.8 182.6 75.0 C181.1 76.2 178.9 77.0 177.0 77.3 C175.2 77.6 173.1 77.5 171.4 76.8 C169.7 76.2 168.2 75.0 166.8 73.6 C165.4 72.2 164.0 70.2 163.1 68.5 C162.1 66.7 161.5 64.7 161.2 62.9 C160.8 61.1 160.7 59.0 161.0 57.7 C161.3 56.5 163.0 55.9 162.9 55.2 C162.7 54.6 161.2 54.6 160.2 53.7 C159.3 52.8 158.2 51.4 157.5 49.8 C156.7 48.2 155.7 46.1 155.6 44.2 C155.4 42.4 155.9 40.5 156.5 38.6 C157.1 36.8 158.5 34.7 159.3 33.0 C160.2 31.4 160.9 30.0 161.7 28.9 C162.4 27.7 162.5 26.8 164.0 26.1 Z" fill="none" stroke="#231f20" stroke-width="1.2" stroke-linecap="round" stroke-linejoin="round"/>
<ellipse cx="179.4" cy="36.8" rx="2.2" ry="3.6" fill="none" stroke="#666" stroke-width="0.7"/>
<circle cx="166.8" cy="43.8" r="1.8" fill="#9a9a9a"/>
<path d="M169.8 41.6 C169.7 42.4 169.3 44.7 169.2 46.1 C169.1 47.5 169.0 49.2 169.3 50.0 C169.6 50.8 170.2 50.9 171.0 50.9 C171.8 50.9 173.5 50.2 174.0 50.0" fill="none" stroke="#231f20" stroke-width="1.0" stroke-linecap="round" stroke-linejoin="round"/>
<path d="M172.6 44.4 C172.6 44.8 172.7 46.1 172.7 46.8 C172.8 47.6 172.9 48.7 172.9 49.1" fill="none" stroke="#231f20" stroke-width="0.9" stroke-linecap="round" stroke-linejoin="round"/>
<path d="M175.2 45.4 C175.2 45.6 175.3 46.6 175.3 47.0 C175.4 47.5 175.6 48.0 175.6 48.1" fill="none" stroke="#231f20" stroke-width="0.9" stroke-linecap="round" stroke-linejoin="round"/>
<path d="M177.6 43.9 C177.6 44.2 177.7 45.1 177.8 45.7 C177.8 46.3 177.9 47.3 178.0 47.6" fill="none" stroke="#231f20" stroke-width="0.9" stroke-linecap="round" stroke-linejoin="round"/>
<path d="M176.1 50.0 L182.2 48.9 L185.4 52.6 L184.5 56.5 L178.0 61.9 L175.2 61.0 L174.7 57.3 Z" fill="none" stroke="#231f20" stroke-width="1.0" stroke-linejoin="round"/>
<path d="M165.8 64.7 L170.5 63.8 L178.0 70.8 L177.0 73.1 L172.4 72.2 Z" fill="none" stroke="#231f20" stroke-width="1.0" stroke-linejoin="round"/>
<path d="M164.0 60.1 C164.4 60.8 165.7 63.3 166.3 64.7 C166.9 66.1 167.4 67.2 167.7 68.5 C168.0 69.7 168.0 70.9 168.2 72.2 C168.3 73.4 168.6 75.3 168.6 75.9" fill="none" stroke="#e0407a" stroke-width="0.9" stroke-linecap="round" stroke-linejoin="round"/>
<path d="M169.1 56.5 C169.8 56.1 172.3 53.9 173.3 54.0 C174.3 54.1 174.8 55.5 175.2 57.3 C175.5 59.1 175.9 62.7 175.6 64.7 C175.3 66.7 174.2 67.8 173.3 69.4 C172.4 70.9 171.0 73.3 170.5 74.0" fill="none" stroke="#e0407a" stroke-width="0.9" stroke-linecap="round" stroke-linejoin="round"/>
<path d="M164.9 62.1 C165.5 61.8 167.4 60.7 168.6 60.1 C169.9 59.4 171.7 58.5 172.4 58.2" fill="none" stroke="#e0407a" stroke-width="0.8" stroke-linecap="round" stroke-linejoin="round"/>
<line x1="168.60" y1="55.40" x2="148.00" y2="53.40" stroke="#8a8c8e" stroke-width="0.6"/>
<line x1="168.60" y1="55.40" x2="148.21" y2="51.21" stroke="#8a8c8e" stroke-width="0.6"/>
<circle cx="145.4" cy="52.0" r="1.7" fill="none" stroke="#8a8c8e" stroke-width="0.6"/>
<circle cx="145.0" cy="57.6" r="1.7" fill="none" stroke="#8a8c8e" stroke-width="0.6"/>
<line x1="169.60" y1="68.50" x2="153.00" y2="77.00" stroke="#8a8c8e" stroke-width="0.6"/>
<line x1="169.60" y1="68.50" x2="152.00" y2="75.04" stroke="#8a8c8e" stroke-width="0.6"/>
<circle cx="151.6" cy="76.0" r="1.7" fill="none" stroke="#8a8c8e" stroke-width="0.6"/>
<circle cx="154.0" cy="81.0" r="1.7" fill="none" stroke="#8a8c8e" stroke-width="0.6"/>
<text transform="translate(26.00 92.20) scale(1.110 1)" font-size="7.8" fill="#231f20" stroke="#231f20" stroke-width="0.15">9.5 dpc</text>
<text transform="translate(87.60 92.40) scale(1.090 1)" font-size="7.8" fill="#231f20" stroke="#231f20" stroke-width="0.15">10.5 dpc</text>
<text transform="translate(159.60 92.40) scale(1.130 1)" font-size="7.8" fill="#231f20" stroke="#231f20" stroke-width="0.15">11.5 dpc</text>
<text transform="translate(207.00 51.30) scale(0.930 1)" font-size="8.2" fill="#231f20" stroke="#231f20" stroke-width="0.15">FACS</text>
<line x1="209.20" y1="59.60" x2="225.70" y2="59.60" stroke="#000" stroke-width="1.0"/>
<path d="M230.80 59.60 L225.20 62.60 L226.20 59.60 L225.20 56.60 Z" fill="#000"/>
<text transform="translate(246.30 32.50) scale(0.965 1)" font-size="8.3" fill="#231f20" stroke="#231f20" stroke-width="0.15">E, HE, IAC</text>
<path d="M248.0 55.7 L248.5 55.4 L249.2 55.0 L249.9 54.5 L250.8 54.0 L251.7 53.4 L252.8 52.9 L253.8 52.3 L254.9 51.8 L256.0 51.3 L257.1 50.7 L258.1 50.3 L259.1 49.8 L259.8 49.0 L260.5 48.2 L261.3 47.4 L262.0 46.6 L262.8 45.8 L263.5 45.0 L264.2 44.3 L264.9 43.6 L265.6 43.0 L266.2 42.5 L266.7 42.1 L267.1 41.7 L266.5 41.1 L266.1 41.4 L265.6 41.9 L265.0 42.4 L264.3 42.9 L263.6 43.6 L262.8 44.2 L261.9 44.8 L261.0 45.4 L260.1 45.9 L259.1 46.5 L258.2 47.0 L257.3 47.4 L256.6 48.1 L255.8 48.9 L255.0 49.7 L254.1 50.5 L253.1 51.2 L252.2 51.9 L251.2 52.6 L250.3 53.2 L249.5 53.7 L248.7 54.2 L248.1 54.6 L247.6 54.9 Z" fill="#a51d35"/>
<path d="M266.3 52.3 L266.6 52.0 L267.1 51.7 L267.6 51.2 L268.1 50.7 L268.8 50.2 L269.5 49.7 L270.2 49.1 L271.0 48.6 L271.7 48.1 L272.5 47.5 L273.2 46.9 L273.9 46.3 L274.1 45.4 L274.3 44.6 L274.5 43.7 L274.7 42.8 L274.8 41.9 L275.0 41.0 L275.1 40.2 L275.3 39.5 L275.5 38.8 L275.7 38.2 L275.8 37.6 L275.9 37.2 L275.1 37.0 L274.9 37.4 L274.8 37.9 L274.6 38.5 L274.5 39.2 L274.2 40.0 L273.9 40.7 L273.6 41.5 L273.2 42.3 L272.8 43.0 L272.3 43.7 L271.8 44.2 L271.3 44.7 L271.1 45.3 L270.8 46.0 L270.4 46.8 L269.9 47.5 L269.3 48.2 L268.8 48.9 L268.2 49.5 L267.6 50.0 L267.0 50.5 L266.5 51.0 L266.0 51.4 L265.7 51.7 Z" fill="#a51d35"/>
<path d="M250.7 71.3 L251.1 70.9 L251.7 70.5 L252.4 70.1 L253.1 69.6 L254.0 69.0 L254.9 68.4 L255.8 67.9 L256.8 67.4 L257.8 66.8 L258.9 66.3 L259.8 65.8 L260.8 65.4 L261.5 64.6 L262.3 63.8 L263.1 63.0 L263.9 62.2 L264.7 61.4 L265.6 60.6 L266.4 59.9 L267.2 59.2 L268.0 58.7 L268.6 58.1 L269.2 57.7 L269.7 57.4 L269.1 56.6 L268.7 57.0 L268.1 57.4 L267.4 57.9 L266.7 58.5 L265.8 59.1 L264.9 59.7 L263.9 60.4 L262.9 60.9 L261.9 61.5 L260.9 62.1 L259.9 62.6 L259.0 63.0 L258.3 63.7 L257.6 64.5 L256.8 65.3 L255.9 66.1 L255.1 66.8 L254.2 67.6 L253.4 68.2 L252.6 68.8 L251.8 69.3 L251.2 69.8 L250.6 70.2 L250.1 70.5 Z" fill="#a51d35"/>
<path d="M260.3 77.4 L260.5 77.1 L260.6 76.7 L260.8 76.2 L261.0 75.7 L261.3 75.1 L261.6 74.5 L262.0 74.0 L262.4 73.4 L262.9 72.9 L263.4 72.5 L263.9 72.1 L264.5 71.7 L264.8 71.1 L265.3 70.5 L265.9 69.8 L266.7 69.1 L267.4 68.4 L268.2 67.8 L269.0 67.2 L269.8 66.7 L270.6 66.2 L271.2 65.8 L271.8 65.5 L272.2 65.2 L271.8 64.4 L271.3 64.7 L270.8 65.1 L270.1 65.5 L269.3 65.9 L268.5 66.4 L267.6 66.9 L266.7 67.4 L265.8 67.8 L264.8 68.3 L264.0 68.7 L263.1 69.2 L262.3 69.7 L261.9 70.4 L261.6 71.2 L261.3 71.9 L261.0 72.7 L260.8 73.4 L260.6 74.1 L260.4 74.7 L260.2 75.3 L260.0 75.9 L259.8 76.3 L259.6 76.7 L259.5 77.0 Z" fill="#a51d35"/>
<path d="M267.9 67.8 L268.5 67.5 L269.2 67.0 L270.1 66.5 L271.1 66.0 L272.2 65.4 L273.4 64.8 L274.6 64.2 L275.8 63.7 L276.9 63.1 L278.0 62.6 L279.0 62.1 L279.9 61.6 L280.3 60.7 L280.6 59.9 L280.8 59.1 L280.9 58.4 L281.0 57.7 L281.0 57.1 L281.0 56.5 L281.0 56.0 L281.0 55.5 L281.0 55.1 L281.1 54.8 L281.1 54.5 L280.3 54.3 L280.2 54.6 L280.2 55.0 L280.1 55.5 L280.1 55.9 L280.0 56.4 L279.9 56.9 L279.7 57.5 L279.4 57.9 L279.1 58.4 L278.7 58.8 L278.3 59.2 L277.7 59.4 L277.3 60.1 L276.7 60.8 L275.9 61.5 L275.0 62.3 L273.9 63.1 L272.9 63.9 L271.8 64.6 L270.7 65.2 L269.7 65.7 L268.8 66.2 L268.0 66.7 L267.5 67.0 Z" fill="#a51d35"/>
<circle cx="252.1" cy="59.8" r="3.4" fill="#a51d35"/>
<ellipse cx="251.7" cy="58.599999999999994" rx="2.0" ry="1.1" fill="#c2455a" opacity="0.8"/>
<circle cx="273.2" cy="56.2" r="3.4" fill="#a51d35"/>
<ellipse cx="272.8" cy="55.0" rx="2.0" ry="1.1" fill="#c2455a" opacity="0.8"/>
<circle cx="272.0" cy="76.0" r="3.4" fill="#a51d35"/>
<ellipse cx="271.6" cy="74.8" rx="2.0" ry="1.1" fill="#c2455a" opacity="0.8"/>
<line x1="305.00" y1="54.20" x2="317.54" y2="43.03" stroke="#000" stroke-width="1.15"/>
<path d="M321.50 39.50 L319.16 45.60 L317.92 42.69 L315.17 41.12 Z" fill="#000"/>
<line x1="305.00" y1="59.50" x2="321.50" y2="59.50" stroke="#000" stroke-width="1.15"/>
<path d="M326.80 59.50 L321.00 62.50 L322.00 59.50 L321.00 56.50 Z" fill="#000"/>
<line x1="305.00" y1="64.20" x2="317.55" y2="75.46" stroke="#000" stroke-width="1.15"/>
<path d="M321.50 79.00 L315.18 77.36 L317.93 75.79 L319.19 72.89 Z" fill="#000"/>
<text transform="translate(341.20 42.30)" font-size="8.2" fill="#231f20" textLength="40.70" lengthAdjust="spacingAndGlyphs" stroke="#231f20" stroke-width="0.15">scRNA-seq</text>
<text transform="translate(341.20 62.00)" font-size="8.2" fill="#231f20" textLength="44.30" lengthAdjust="spacingAndGlyphs" stroke="#231f20" stroke-width="0.15">scATAC-seq</text>
<text transform="translate(339.60 81.50)" font-size="8.2" fill="#231f20" textLength="66.90" lengthAdjust="spacingAndGlyphs" stroke="#231f20" stroke-width="0.15">Functional&#160; assays</text>
<path d="M300.3 214.6 L301.5 220.4 L303.2 225.2 L306.0 227.6 L310.0 228.6 L315.3 227.8 L321.1 229.5 L325.7 232.0 L330.3 234.2 L336.1 238.8 L340.7 243.5 L343.0 244.6 L346.5 242.3 L351.1 236.5 L352.0 233.3 L354.4 227.3 L356.8 221.3 L360.4 218.9 L365.2 216.5 L372.5 212.9 L379.7 209.3 L385.7 205.7 L388.7 202.1 L389.3 198.5 L388.7 194.9 L385.7 191.3 L380.9 186.5 L376.1 181.6 L373.1 176.8 L371.3 173.2 L371.3 169.5 L370.6 166.6 L368.5 168.5 L364.0 172.0 L356.8 175.6 L349.6 180.4 L344.2 184.6 L336.1 188.1 L330.3 192.7 L324.5 197.3 L319.9 201.9 L317.6 206.5 L311.8 207.7 L304.9 208.3 L300.9 210.0 L300.3 214.6ZM356.7 183.1 L358.0 182.2 L359.5 181.2 L361.1 180.4 L362.6 179.7 L364.0 179.2 L365.3 179.0 L366.6 179.0 L367.9 179.2 L369.1 179.5 L370.2 179.9 L371.3 180.4 L372.3 181.0 L373.1 181.7 L373.9 182.5 L374.7 183.4 L375.4 184.3 L376.1 185.2 L376.9 186.2 L377.7 187.2 L378.4 188.2 L379.1 189.3 L379.5 190.3 L379.7 191.3 L379.5 192.2 L379.1 193.1 L378.5 193.9 L377.7 194.7 L376.9 195.5 L376.1 196.1 L375.2 196.6 L374.3 197.0 L373.3 197.3 L372.2 197.6 L371.1 198.0 L370.1 198.5 L369.1 199.2 L368.1 199.9 L367.1 200.8 L366.0 201.6 L365.0 202.5 L364.0 203.3 L363.0 204.1 L361.9 205.0 L360.9 205.9 L359.9 206.7 L358.9 207.4 L358.0 208.1 L357.1 208.7 L356.3 209.3 L355.4 209.9 L354.7 210.3 L353.9 210.5 L353.2 210.5 L352.5 210.2 L351.7 209.6 L351.0 208.9 L350.4 207.9 L349.9 206.9 L349.6 205.7 L349.5 204.4 L349.6 202.8 L349.8 201.0 L350.1 199.3 L350.5 197.6 L350.8 196.1 L351.1 194.7 L351.5 193.4 L351.9 192.2 L352.4 191.0 L352.8 189.9 L353.2 188.9 L353.5 187.9 L353.8 187.1 L354.0 186.3 L354.4 185.5 L354.9 184.8 L355.6 184.0 L356.7 183.1Z" fill="#41b4c3" fill-rule="evenodd"/>
<path d="M362.6 196.1h1.1v1.1h-1.1zM376.9 193.1h1.1v1.1h-1.1zM364.3 197.0h1.1v1.1h-1.1zM354.5 194.6h1.1v1.1h-1.1zM351.7 204.0h1.1v1.1h-1.1zM369.9 179.8h1.1v1.1h-1.1zM368.7 197.9h1.1v1.1h-1.1zM364.9 180.3h1.1v1.1h-1.1zM354.7 186.1h1.1v1.1h-1.1zM364.6 198.7h1.1v1.1h-1.1zM364.0 199.4h1.1v1.1h-1.1zM362.8 187.2h1.1v1.1h-1.1zM358.5 185.7h1.1v1.1h-1.1zM372.1 191.1h1.1v1.1h-1.1zM374.5 190.6h1.1v1.1h-1.1zM376.4 193.3h1.1v1.1h-1.1zM378.6 191.0h1.1v1.1h-1.1zM351.2 198.3h1.1v1.1h-1.1zM372.5 187.0h1.1v1.1h-1.1zM373.0 184.1h1.1v1.1h-1.1zM365.8 192.6h1.1v1.1h-1.1zM354.7 201.5h1.1v1.1h-1.1zM352.9 198.8h1.1v1.1h-1.1zM352.5 191.7h1.1v1.1h-1.1zM355.4 187.0h1.1v1.1h-1.1zM358.1 206.4h1.1v1.1h-1.1zM355.3 190.9h1.1v1.1h-1.1zM355.4 186.6h1.1v1.1h-1.1zM372.3 188.8h1.1v1.1h-1.1zM351.7 196.8h1.1v1.1h-1.1zM356.3 197.4h1.1v1.1h-1.1zM360.2 192.8h1.1v1.1h-1.1zM356.5 184.4h1.1v1.1h-1.1zM354.9 208.4h1.1v1.1h-1.1zM361.7 181.7h1.1v1.1h-1.1zM356.2 200.7h1.1v1.1h-1.1zM356.7 204.4h1.1v1.1h-1.1zM367.0 187.7h1.1v1.1h-1.1zM354.3 201.2h1.1v1.1h-1.1zM367.5 187.3h1.1v1.1h-1.1zM362.4 180.4h1.1v1.1h-1.1zM354.3 190.1h1.1v1.1h-1.1zM366.2 182.6h1.1v1.1h-1.1zM369.8 196.9h1.1v1.1h-1.1zM363.5 201.5h1.1v1.1h-1.1zM351.2 195.7h1.1v1.1h-1.1zM359.6 200.1h1.1v1.1h-1.1zM361.6 203.4h1.1v1.1h-1.1zM367.8 190.5h1.1v1.1h-1.1zM366.6 197.7h1.1v1.1h-1.1zM351.4 198.6h1.1v1.1h-1.1zM370.9 190.7h1.1v1.1h-1.1zM371.2 196.8h1.1v1.1h-1.1zM351.5 202.1h1.1v1.1h-1.1zM349.9 197.4h1.1v1.1h-1.1zM363.5 185.7h1.1v1.1h-1.1zM370.0 194.1h1.1v1.1h-1.1zM358.0 199.8h1.1v1.1h-1.1zM355.1 183.8h1.1v1.1h-1.1zM358.8 199.5h1.1v1.1h-1.1zM355.0 192.0h1.1v1.1h-1.1zM375.5 190.6h1.1v1.1h-1.1zM366.6 188.4h1.1v1.1h-1.1zM353.1 194.1h1.1v1.1h-1.1zM357.3 183.8h1.1v1.1h-1.1zM362.6 187.1h1.1v1.1h-1.1zM355.4 191.5h1.1v1.1h-1.1zM367.9 194.0h1.1v1.1h-1.1zM358.5 204.9h1.1v1.1h-1.1zM370.4 196.5h1.1v1.1h-1.1zM358.3 203.4h1.1v1.1h-1.1zM362.7 179.2h1.1v1.1h-1.1zM374.0 185.9h1.1v1.1h-1.1zM368.0 192.5h1.1v1.1h-1.1zM369.6 184.7h1.1v1.1h-1.1zM363.3 184.1h1.1v1.1h-1.1zM370.5 184.1h1.1v1.1h-1.1zM357.2 189.4h1.1v1.1h-1.1zM370.0 194.9h1.1v1.1h-1.1zM360.8 203.4h1.1v1.1h-1.1zM352.9 192.8h1.1v1.1h-1.1zM360.3 196.4h1.1v1.1h-1.1zM377.5 193.1h1.1v1.1h-1.1zM368.6 184.9h1.1v1.1h-1.1zM355.4 206.8h1.1v1.1h-1.1zM374.8 189.5h1.1v1.1h-1.1zM351.5 192.4h1.1v1.1h-1.1zM363.7 179.4h1.1v1.1h-1.1zM373.1 183.9h1.1v1.1h-1.1zM359.1 203.3h1.1v1.1h-1.1zM364.6 201.3h1.1v1.1h-1.1zM355.6 195.1h1.1v1.1h-1.1zM357.7 201.4h1.1v1.1h-1.1zM368.2 194.9h1.1v1.1h-1.1zM374.4 196.1h1.1v1.1h-1.1zM358.4 190.5h1.1v1.1h-1.1zM355.2 205.3h1.1v1.1h-1.1zM366.3 184.8h1.1v1.1h-1.1zM365.1 194.3h1.1v1.1h-1.1zM367.2 179.3h1.1v1.1h-1.1zM361.1 203.7h1.1v1.1h-1.1zM366.0 193.9h1.1v1.1h-1.1zM369.8 180.5h1.1v1.1h-1.1zM365.2 191.5h1.1v1.1h-1.1zM357.1 193.4h1.1v1.1h-1.1zM352.8 192.1h1.1v1.1h-1.1zM363.3 188.5h1.1v1.1h-1.1zM354.7 197.9h1.1v1.1h-1.1zM354.8 185.6h1.1v1.1h-1.1zM369.7 188.6h1.1v1.1h-1.1zM359.7 198.0h1.1v1.1h-1.1zM352.1 201.5h1.1v1.1h-1.1zM352.7 194.6h1.1v1.1h-1.1zM356.5 184.7h1.1v1.1h-1.1zM365.0 192.2h1.1v1.1h-1.1zM360.3 191.5h1.1v1.1h-1.1zM364.9 183.5h1.1v1.1h-1.1zM355.1 198.4h1.1v1.1h-1.1zM368.2 195.2h1.1v1.1h-1.1zM374.8 185.8h1.1v1.1h-1.1zM376.2 188.4h1.1v1.1h-1.1zM356.2 201.4h1.1v1.1h-1.1zM374.1 191.8h1.1v1.1h-1.1zM372.8 182.4h1.1v1.1h-1.1zM361.1 200.1h1.1v1.1h-1.1zM364.1 200.1h1.1v1.1h-1.1zM365.6 194.7h1.1v1.1h-1.1zM366.1 183.1h1.1v1.1h-1.1zM354.5 184.9h1.1v1.1h-1.1zM350.8 208.5h1.1v1.1h-1.1zM362.9 202.6h1.1v1.1h-1.1zM358.8 193.2h1.1v1.1h-1.1zM364.5 192.0h1.1v1.1h-1.1zM367.1 178.9h1.1v1.1h-1.1zM354.4 192.8h1.1v1.1h-1.1zM371.3 191.2h1.1v1.1h-1.1zM354.8 183.7h1.1v1.1h-1.1zM364.4 178.9h1.1v1.1h-1.1zM368.0 191.2h1.1v1.1h-1.1zM367.1 194.4h1.1v1.1h-1.1z" fill="#41b4c3"/>
<path d="M377.0 148.5 L377.3 148.1 L377.7 147.6 L378.2 147.2 L378.7 146.8 L379.4 146.5 L380.0 146.2 L380.7 146.0 L381.5 145.8 L382.4 145.6 L383.3 145.5 L384.1 145.4 L385.0 145.4 L385.9 145.4 L386.8 145.4 L387.7 145.5 L388.6 145.6 L389.4 145.8 L390.0 146.0 L390.5 146.3 L390.9 146.7 L391.2 147.1 L391.4 147.6 L391.5 148.0 L391.5 148.5 L391.3 149.0 L391.0 149.5 L390.6 150.0 L390.1 150.6 L389.5 151.1 L389.0 151.5 L388.4 151.9 L387.8 152.3 L387.1 152.6 L386.4 152.9 L385.7 153.2 L385.0 153.5 L384.3 153.8 L383.6 154.2 L382.9 154.5 L382.3 154.8 L381.6 155.1 L381.0 155.2 L380.4 155.2 L379.9 155.2 L379.3 155.1 L378.8 155.0 L378.4 154.8 L378.0 154.5 L377.7 154.1 L377.4 153.7 L377.2 153.1 L377.0 152.6 L376.9 152.0 L376.8 151.5 L376.7 151.0 L376.7 150.5 L376.6 150.0 L376.7 149.4 L376.8 149.0 L377.0 148.5Z" fill="#41b4c3" fill-rule="evenodd"/>
<path d="M436.0 138.0 L436.7 137.4 L437.5 136.8 L438.3 136.3 L439.2 135.8 L440.1 135.4 L441.0 135.0 L441.9 134.7 L442.9 134.5 L444.0 134.3 L445.0 134.2 L446.0 134.1 L446.9 134.1 L447.7 134.2 L448.5 134.3 L449.2 134.5 L450.0 134.8 L450.8 135.1 L451.7 135.4 L452.8 135.8 L453.9 136.2 L455.2 136.6 L456.4 137.1 L457.5 137.7 L458.5 138.3 L459.4 139.0 L460.2 139.9 L460.9 140.7 L461.5 141.6 L462.0 142.5 L462.3 143.3 L462.4 144.0 L462.4 144.7 L462.2 145.3 L461.9 145.9 L461.6 146.5 L461.3 147.1 L461.0 147.6 L460.6 148.2 L460.1 148.7 L459.6 149.1 L459.1 149.6 L458.5 150.0 L457.8 150.4 L457.1 150.7 L456.2 151.0 L455.4 151.3 L454.5 151.6 L453.7 151.9 L452.9 152.2 L452.1 152.6 L451.3 152.9 L450.5 153.3 L449.7 153.6 L448.8 153.8 L447.9 154.0 L446.8 154.2 L445.8 154.3 L444.7 154.4 L443.8 154.4 L443.0 154.3 L442.4 154.1 L441.8 153.8 L441.4 153.4 L441.0 152.9 L440.6 152.4 L440.2 151.9 L439.7 151.3 L439.3 150.7 L438.8 150.0 L438.3 149.3 L437.8 148.7 L437.3 148.1 L436.7 147.6 L436.0 147.2 L435.3 146.8 L434.6 146.4 L434.0 146.0 L433.5 145.5 L433.1 145.0 L432.8 144.4 L432.5 143.8 L432.4 143.2 L432.4 142.6 L432.5 142.0 L432.8 141.4 L433.3 140.7 L433.9 140.0 L434.6 139.3 L435.3 138.6 L436.0 138.0Z" fill="#41b4c3" fill-rule="evenodd"/>
<path d="M406.8 143.6h1.0v1.0h-1.0zM398.3 142.2h1.0v1.0h-1.0zM431.1 139.4h1.0v1.0h-1.0zM435.1 139.0h1.0v1.0h-1.0zM400.5 142.1h1.0v1.0h-1.0zM417.1 141.8h1.0v1.0h-1.0zM394.0 143.7h1.0v1.0h-1.0zM413.1 139.3h1.0v1.0h-1.0zM427.2 138.5h1.0v1.0h-1.0zM396.5 142.2h1.0v1.0h-1.0zM405.6 141.4h1.0v1.0h-1.0zM436.2 139.2h1.0v1.0h-1.0zM419.5 141.7h1.0v1.0h-1.0zM408.5 142.3h1.0v1.0h-1.0zM397.5 144.0h1.0v1.0h-1.0zM392.1 146.3h1.0v1.0h-1.0zM415.7 140.3h1.0v1.0h-1.0zM431.3 139.5h1.0v1.0h-1.0zM390.7 146.8h1.0v1.0h-1.0zM399.4 144.5h1.0v1.0h-1.0zM408.7 140.5h1.0v1.0h-1.0zM412.3 140.7h1.0v1.0h-1.0zM412.8 140.8h1.0v1.0h-1.0zM428.4 139.9h1.0v1.0h-1.0zM402.0 143.4h1.0v1.0h-1.0zM428.3 140.1h1.0v1.0h-1.0zM418.9 139.4h1.0v1.0h-1.0zM398.9 143.2h1.0v1.0h-1.0zM418.5 140.4h1.0v1.0h-1.0zM394.6 144.6h1.0v1.0h-1.0zM392.5 144.2h1.0v1.0h-1.0zM425.2 138.1h1.0v1.0h-1.0zM399.2 144.4h1.0v1.0h-1.0zM406.6 143.8h1.0v1.0h-1.0zM395.9 142.5h1.0v1.0h-1.0zM414.6 140.3h1.0v1.0h-1.0zM410.2 140.9h1.0v1.0h-1.0zM410.6 142.5h1.0v1.0h-1.0zM421.6 139.4h1.0v1.0h-1.0zM436.8 139.4h1.0v1.0h-1.0zM393.6 144.7h1.0v1.0h-1.0zM427.7 138.8h1.0v1.0h-1.0zM422.9 138.9h1.0v1.0h-1.0zM399.1 142.3h1.0v1.0h-1.0zM389.2 146.4h1.0v1.0h-1.0zM393.3 143.9h1.0v1.0h-1.0zM428.1 139.6h1.0v1.0h-1.0zM413.6 140.9h1.0v1.0h-1.0zM396.3 144.3h1.0v1.0h-1.0zM434.5 138.7h1.0v1.0h-1.0zM418.3 141.6h1.0v1.0h-1.0zM435.9 139.7h1.0v1.0h-1.0zM422.7 140.8h1.0v1.0h-1.0zM401.5 143.2h1.0v1.0h-1.0zM392.3 143.7h1.0v1.0h-1.0zM398.4 142.1h1.0v1.0h-1.0zM415.3 142.3h1.0v1.0h-1.0zM396.0 142.1h1.0v1.0h-1.0zM392.3 146.0h1.0v1.0h-1.0zM396.1 143.3h1.0v1.0h-1.0zM427.5 139.7h1.0v1.0h-1.0zM422.3 142.0h1.0v1.0h-1.0zM402.3 141.5h1.0v1.0h-1.0zM427.9 140.1h1.0v1.0h-1.0zM401.9 142.0h1.0v1.0h-1.0zM401.8 144.4h1.0v1.0h-1.0zM409.5 141.3h1.0v1.0h-1.0zM402.1 142.3h1.0v1.0h-1.0zM424.8 141.0h1.0v1.0h-1.0zM411.5 141.1h1.0v1.0h-1.0zM390.8 144.7h1.0v1.0h-1.0zM412.8 141.2h1.0v1.0h-1.0zM402.5 141.4h1.0v1.0h-1.0zM426.6 142.1h1.0v1.0h-1.0zM405.7 142.2h1.0v1.0h-1.0zM393.0 145.0h1.0v1.0h-1.0zM394.2 143.2h1.0v1.0h-1.0zM394.3 143.7h1.0v1.0h-1.0zM431.4 138.8h1.0v1.0h-1.0zM432.2 138.1h1.0v1.0h-1.0zM403.7 144.5h1.0v1.0h-1.0zM432.8 137.8h1.0v1.0h-1.0zM391.3 147.5h1.0v1.0h-1.0zM392.5 142.5h1.0v1.0h-1.0zM430.8 139.7h1.0v1.0h-1.0zM422.9 140.0h1.0v1.0h-1.0zM425.5 140.0h1.0v1.0h-1.0zM436.0 138.8h1.0v1.0h-1.0zM392.7 147.3h1.0v1.0h-1.0zM411.8 142.5h1.0v1.0h-1.0zM396.5 142.5h1.0v1.0h-1.0zM401.3 143.3h1.0v1.0h-1.0zM433.2 139.0h1.0v1.0h-1.0zM405.9 140.9h1.0v1.0h-1.0zM394.2 145.4h1.0v1.0h-1.0zM434.3 139.2h1.0v1.0h-1.0zM414.6 140.3h1.0v1.0h-1.0zM412.8 141.0h1.0v1.0h-1.0zM392.6 143.6h1.0v1.0h-1.0zM433.9 139.8h1.0v1.0h-1.0zM399.1 143.7h1.0v1.0h-1.0zM395.1 145.8h1.0v1.0h-1.0zM397.3 142.3h1.0v1.0h-1.0zM437.2 139.2h1.0v1.0h-1.0zM391.8 146.2h1.0v1.0h-1.0zM394.7 143.4h1.0v1.0h-1.0zM399.8 143.2h1.0v1.0h-1.0zM408.8 141.1h1.0v1.0h-1.0zM389.7 144.5h1.0v1.0h-1.0zM424.4 140.3h1.0v1.0h-1.0zM404.5 140.3h1.0v1.0h-1.0zM431.5 140.5h1.0v1.0h-1.0zM410.1 143.7h1.0v1.0h-1.0zM405.0 142.8h1.0v1.0h-1.0zM411.5 141.4h1.0v1.0h-1.0zM393.8 144.7h1.0v1.0h-1.0zM414.8 140.8h1.0v1.0h-1.0zM395.8 145.8h1.0v1.0h-1.0zM420.4 141.4h1.0v1.0h-1.0zM434.6 139.4h1.0v1.0h-1.0zM400.6 142.4h1.0v1.0h-1.0zM431.2 139.8h1.0v1.0h-1.0zM412.3 141.2h1.0v1.0h-1.0zM401.3 143.8h1.0v1.0h-1.0zM431.9 139.2h1.0v1.0h-1.0zM398.8 143.1h1.0v1.0h-1.0zM391.0 145.7h1.0v1.0h-1.0zM411.8 140.7h1.0v1.0h-1.0zM417.4 142.0h1.0v1.0h-1.0zM419.1 141.4h1.0v1.0h-1.0zM434.4 142.0h1.0v1.0h-1.0zM413.8 139.9h1.0v1.0h-1.0zM411.9 140.7h1.0v1.0h-1.0zM417.4 141.0h1.0v1.0h-1.0zM437.3 137.0h1.0v1.0h-1.0zM401.0 142.4h1.0v1.0h-1.0zM406.1 139.4h1.0v1.0h-1.0zM406.3 143.1h1.0v1.0h-1.0zM425.7 141.1h1.0v1.0h-1.0zM411.4 142.6h1.0v1.0h-1.0zM437.2 139.8h1.0v1.0h-1.0zM431.9 139.6h1.0v1.0h-1.0zM409.6 141.0h1.0v1.0h-1.0zM409.3 143.5h1.0v1.0h-1.0zM431.5 139.2h1.0v1.0h-1.0zM393.1 144.8h1.0v1.0h-1.0zM431.0 140.2h1.0v1.0h-1.0zM437.2 138.7h1.0v1.0h-1.0zM429.3 138.0h1.0v1.0h-1.0zM414.1 140.6h1.0v1.0h-1.0zM390.0 145.8h1.0v1.0h-1.0zM432.3 140.4h1.0v1.0h-1.0zM401.4 141.9h1.0v1.0h-1.0zM393.4 143.2h1.0v1.0h-1.0zM410.5 139.7h1.0v1.0h-1.0zM405.3 141.4h1.0v1.0h-1.0zM436.9 139.1h1.0v1.0h-1.0zM431.6 139.4h1.0v1.0h-1.0zM418.2 141.3h1.0v1.0h-1.0zM426.2 139.7h1.0v1.0h-1.0zM423.3 139.4h1.0v1.0h-1.0zM417.7 141.3h1.0v1.0h-1.0zM436.4 138.5h1.0v1.0h-1.0zM421.8 139.0h1.0v1.0h-1.0zM429.6 138.3h1.0v1.0h-1.0zM389.9 145.2h1.0v1.0h-1.0zM430.9 141.0h1.0v1.0h-1.0zM416.2 140.5h1.0v1.0h-1.0zM434.0 137.3h1.0v1.0h-1.0zM414.9 140.0h1.0v1.0h-1.0zM416.3 142.9h1.0v1.0h-1.0zM417.3 139.5h1.0v1.0h-1.0zM414.6 139.8h1.0v1.0h-1.0zM406.2 141.4h1.0v1.0h-1.0zM399.1 142.7h1.0v1.0h-1.0zM434.7 140.0h1.0v1.0h-1.0zM408.1 142.4h1.0v1.0h-1.0zM437.2 138.2h1.0v1.0h-1.0zM417.2 140.1h1.0v1.0h-1.0zM401.2 143.4h1.0v1.0h-1.0zM404.1 141.9h1.0v1.0h-1.0zM407.0 142.5h1.0v1.0h-1.0zM390.3 147.9h1.0v1.0h-1.0zM404.7 141.4h1.0v1.0h-1.0zM429.6 141.1h1.0v1.0h-1.0zM417.2 141.2h1.0v1.0h-1.0zM431.7 141.0h1.0v1.0h-1.0zM429.0 139.6h1.0v1.0h-1.0zM422.5 140.7h1.0v1.0h-1.0zM393.9 144.9h1.0v1.0h-1.0zM425.2 139.1h1.0v1.0h-1.0zM412.6 141.3h1.0v1.0h-1.0zM434.3 137.4h1.0v1.0h-1.0zM406.1 142.0h1.0v1.0h-1.0zM420.3 140.6h1.0v1.0h-1.0zM433.0 138.8h1.0v1.0h-1.0zM398.1 144.7h1.0v1.0h-1.0zM400.2 144.9h1.0v1.0h-1.0zM409.2 142.1h1.0v1.0h-1.0zM420.5 140.2h1.0v1.0h-1.0zM423.5 140.7h1.0v1.0h-1.0zM436.6 139.3h1.0v1.0h-1.0zM428.8 139.1h1.0v1.0h-1.0zM412.1 139.9h1.0v1.0h-1.0zM433.1 140.3h1.0v1.0h-1.0zM402.1 142.5h1.0v1.0h-1.0zM419.7 141.2h1.0v1.0h-1.0zM393.5 144.4h1.0v1.0h-1.0zM400.0 143.5h1.0v1.0h-1.0zM394.9 143.0h1.0v1.0h-1.0zM423.0 139.9h1.0v1.0h-1.0zM403.6 142.3h1.0v1.0h-1.0zM430.3 140.7h1.0v1.0h-1.0zM426.5 139.7h1.0v1.0h-1.0zM434.2 139.9h1.0v1.0h-1.0zM404.5 142.5h1.0v1.0h-1.0zM404.0 140.1h1.0v1.0h-1.0zM397.0 141.1h1.0v1.0h-1.0zM401.4 140.7h1.0v1.0h-1.0zM395.4 143.9h1.0v1.0h-1.0zM415.7 139.6h1.0v1.0h-1.0zM405.3 140.7h1.0v1.0h-1.0zM403.6 141.2h1.0v1.0h-1.0zM410.0 140.9h1.0v1.0h-1.0zM426.7 143.1h1.0v1.0h-1.0zM396.5 143.1h1.0v1.0h-1.0zM414.6 139.7h1.0v1.0h-1.0zM397.6 143.0h1.0v1.0h-1.0zM403.8 141.6h1.0v1.0h-1.0zM412.0 141.6h1.0v1.0h-1.0zM432.9 139.1h1.0v1.0h-1.0zM400.2 142.0h1.0v1.0h-1.0zM406.0 142.0h1.0v1.0h-1.0zM392.4 144.9h1.0v1.0h-1.0zM429.6 139.3h1.0v1.0h-1.0zM414.8 141.4h1.0v1.0h-1.0zM390.2 145.5h1.0v1.0h-1.0zM390.4 143.6h1.0v1.0h-1.0zM413.9 141.8h1.0v1.0h-1.0zM402.5 141.9h1.0v1.0h-1.0zM431.7 139.9h1.0v1.0h-1.0zM417.5 140.7h1.0v1.0h-1.0zM428.8 138.4h1.0v1.0h-1.0zM408.3 140.9h1.0v1.0h-1.0zM435.5 138.7h1.0v1.0h-1.0zM397.0 144.8h1.0v1.0h-1.0zM402.9 141.9h1.0v1.0h-1.0zM425.3 139.8h1.0v1.0h-1.0zM399.8 142.8h1.0v1.0h-1.0zM419.0 140.0h1.0v1.0h-1.0zM412.4 141.2h1.0v1.0h-1.0zM422.2 142.1h1.0v1.0h-1.0zM407.8 140.6h1.0v1.0h-1.0zM425.8 139.7h1.0v1.0h-1.0zM390.6 147.3h1.0v1.0h-1.0zM391.6 145.9h1.0v1.0h-1.0zM431.5 140.2h1.0v1.0h-1.0zM396.9 143.0h1.0v1.0h-1.0zM431.2 140.7h1.0v1.0h-1.0zM393.9 145.1h1.0v1.0h-1.0zM437.0 137.7h1.0v1.0h-1.0zM402.2 143.1h1.0v1.0h-1.0zM431.3 139.6h1.0v1.0h-1.0zM392.2 145.1h1.0v1.0h-1.0zM402.9 142.1h1.0v1.0h-1.0zM418.8 140.8h1.0v1.0h-1.0zM389.1 144.7h1.0v1.0h-1.0zM401.7 141.9h1.0v1.0h-1.0zM403.0 143.3h1.0v1.0h-1.0zM425.8 138.6h1.0v1.0h-1.0zM393.0 144.9h1.0v1.0h-1.0zM412.3 142.2h1.0v1.0h-1.0zM425.5 141.2h1.0v1.0h-1.0zM391.4 144.7h1.0v1.0h-1.0zM389.3 144.2h1.0v1.0h-1.0zM392.5 146.7h1.0v1.0h-1.0zM436.4 139.3h1.0v1.0h-1.0zM411.3 141.3h1.0v1.0h-1.0zM391.2 143.9h1.0v1.0h-1.0zM436.4 141.6h1.0v1.0h-1.0zM427.1 139.5h1.0v1.0h-1.0zM407.7 140.7h1.0v1.0h-1.0zM413.9 140.2h1.0v1.0h-1.0zM398.4 144.4h1.0v1.0h-1.0zM413.5 140.6h1.0v1.0h-1.0zM396.4 144.0h1.0v1.0h-1.0zM410.2 140.7h1.0v1.0h-1.0zM433.9 140.1h1.0v1.0h-1.0zM401.9 141.6h1.0v1.0h-1.0zM435.0 140.0h1.0v1.0h-1.0zM436.9 139.1h1.0v1.0h-1.0zM413.9 140.9h1.0v1.0h-1.0zM435.2 139.3h1.0v1.0h-1.0zM421.7 142.1h1.0v1.0h-1.0zM414.8 141.7h1.0v1.0h-1.0zM435.6 138.9h1.0v1.0h-1.0zM402.7 143.2h1.0v1.0h-1.0zM416.0 139.6h1.0v1.0h-1.0zM409.8 141.9h1.0v1.0h-1.0zM431.4 140.4h1.0v1.0h-1.0zM414.9 141.8h1.0v1.0h-1.0zM413.8 142.1h1.0v1.0h-1.0zM431.9 141.2h1.0v1.0h-1.0zM395.2 142.7h1.0v1.0h-1.0zM413.1 140.0h1.0v1.0h-1.0zM430.9 139.6h1.0v1.0h-1.0zM435.1 140.5h1.0v1.0h-1.0zM408.5 142.9h1.0v1.0h-1.0zM408.0 142.8h1.0v1.0h-1.0zM418.3 140.8h1.0v1.0h-1.0zM423.0 140.8h1.0v1.0h-1.0zM414.5 141.6h1.0v1.0h-1.0zM401.3 143.2h1.0v1.0h-1.0zM389.7 145.4h1.0v1.0h-1.0zM414.8 141.8h1.0v1.0h-1.0zM408.2 143.0h1.0v1.0h-1.0zM433.4 140.3h1.0v1.0h-1.0zM422.0 141.7h1.0v1.0h-1.0zM406.1 142.9h1.0v1.0h-1.0zM435.2 137.6h1.0v1.0h-1.0zM417.7 141.2h1.0v1.0h-1.0zM397.6 145.3h1.0v1.0h-1.0zM423.5 139.9h1.0v1.0h-1.0zM404.0 143.1h1.0v1.0h-1.0zM418.6 141.9h1.0v1.0h-1.0zM388.6 145.1h1.0v1.0h-1.0zM430.1 139.3h1.0v1.0h-1.0zM431.4 138.6h1.0v1.0h-1.0zM401.7 143.8h1.0v1.0h-1.0zM422.6 138.2h1.0v1.0h-1.0zM404.8 141.4h1.0v1.0h-1.0zM409.1 142.1h1.0v1.0h-1.0zM395.9 144.5h1.0v1.0h-1.0zM398.6 142.3h1.0v1.0h-1.0zM398.0 142.9h1.0v1.0h-1.0zM427.4 139.7h1.0v1.0h-1.0zM430.3 139.4h1.0v1.0h-1.0zM435.9 139.8h1.0v1.0h-1.0zM408.5 143.1h1.0v1.0h-1.0zM420.3 140.2h1.0v1.0h-1.0zM416.0 141.4h1.0v1.0h-1.0zM424.8 140.4h1.0v1.0h-1.0zM405.3 141.1h1.0v1.0h-1.0zM400.5 144.8h1.0v1.0h-1.0zM412.7 139.2h1.0v1.0h-1.0zM397.5 143.9h1.0v1.0h-1.0zM404.3 141.7h1.0v1.0h-1.0zM411.1 141.8h1.0v1.0h-1.0zM425.3 140.0h1.0v1.0h-1.0zM420.6 139.5h1.0v1.0h-1.0zM411.6 140.0h1.0v1.0h-1.0zM418.0 141.9h1.0v1.0h-1.0zM393.7 143.6h1.0v1.0h-1.0zM402.3 143.5h1.0v1.0h-1.0zM417.9 141.0h1.0v1.0h-1.0zM398.4 143.9h1.0v1.0h-1.0zM428.4 139.3h1.0v1.0h-1.0zM417.4 140.8h1.0v1.0h-1.0zM398.8 145.6h1.0v1.0h-1.0zM392.6 145.5h1.0v1.0h-1.0zM435.0 138.8h1.0v1.0h-1.0zM430.4 140.0h1.0v1.0h-1.0zM420.2 140.0h1.0v1.0h-1.0zM434.9 138.9h1.0v1.0h-1.0zM429.4 138.7h1.0v1.0h-1.0zM437.0 138.8h1.0v1.0h-1.0zM434.2 138.8h1.0v1.0h-1.0zM415.2 141.9h1.0v1.0h-1.0zM421.3 142.2h1.0v1.0h-1.0zM398.8 142.9h1.0v1.0h-1.0zM393.7 145.1h1.0v1.0h-1.0zM393.2 144.9h1.0v1.0h-1.0zM406.0 140.6h1.0v1.0h-1.0zM416.6 140.5h1.0v1.0h-1.0zM425.6 141.7h1.0v1.0h-1.0zM395.1 144.2h1.0v1.0h-1.0zM425.0 140.4h1.0v1.0h-1.0zM418.8 140.2h1.0v1.0h-1.0zM395.4 143.3h1.0v1.0h-1.0zM423.6 140.0h1.0v1.0h-1.0z" fill="#41b4c3"/>
<path d="M376.3 153.5h1.0v1.0h-1.0zM375.4 153.1h1.0v1.0h-1.0zM376.6 149.7h1.0v1.0h-1.0zM378.1 150.3h1.0v1.0h-1.0zM376.9 152.3h1.0v1.0h-1.0zM377.3 154.3h1.0v1.0h-1.0zM378.4 153.5h1.0v1.0h-1.0zM376.0 154.2h1.0v1.0h-1.0zM376.1 155.7h1.0v1.0h-1.0zM376.1 150.6h1.0v1.0h-1.0zM377.8 150.8h1.0v1.0h-1.0zM377.9 153.7h1.0v1.0h-1.0zM375.9 151.5h1.0v1.0h-1.0zM377.5 154.2h1.0v1.0h-1.0zM376.5 151.3h1.0v1.0h-1.0zM377.0 149.8h1.0v1.0h-1.0zM377.7 149.9h1.0v1.0h-1.0zM377.1 153.3h1.0v1.0h-1.0zM377.8 152.9h1.0v1.0h-1.0zM375.8 150.3h1.0v1.0h-1.0zM377.0 154.0h1.0v1.0h-1.0zM374.2 150.8h1.0v1.0h-1.0zM376.1 152.0h1.0v1.0h-1.0zM376.8 149.9h1.0v1.0h-1.0zM375.5 152.5h1.0v1.0h-1.0zM376.1 151.9h1.0v1.0h-1.0zM375.6 151.3h1.0v1.0h-1.0zM378.9 151.1h1.0v1.0h-1.0zM374.7 153.3h1.0v1.0h-1.0zM376.6 154.9h1.0v1.0h-1.0z" fill="#41b4c3"/>
<path d="M370.6 167.5 L373.5 162 L376 157.5 L378.2 153" stroke="#3db0c0" stroke-width="1.2" fill="none" stroke-dasharray="1.2 0.6"/>
<path d="M341.4 236.0h1.0v1.0h-1.0zM346.4 224.1h1.0v1.0h-1.0zM329.3 229.4h1.0v1.0h-1.0zM347.1 234.7h1.0v1.0h-1.0zM343.6 236.1h1.0v1.0h-1.0zM332.8 231.0h1.0v1.0h-1.0zM337.8 230.1h1.0v1.0h-1.0zM342.3 222.9h1.0v1.0h-1.0zM331.9 230.6h1.0v1.0h-1.0zM332.5 228.0h1.0v1.0h-1.0zM345.3 224.6h1.0v1.0h-1.0zM347.2 222.0h1.0v1.0h-1.0zM339.5 230.5h1.0v1.0h-1.0zM344.6 231.8h1.0v1.0h-1.0zM339.0 221.5h1.0v1.0h-1.0zM338.3 229.2h1.0v1.0h-1.0zM347.1 236.4h1.0v1.0h-1.0zM332.0 226.2h1.0v1.0h-1.0zM338.5 232.6h1.0v1.0h-1.0zM350.2 232.3h1.0v1.0h-1.0zM340.2 232.8h1.0v1.0h-1.0zM334.8 230.7h1.0v1.0h-1.0zM339.1 238.6h1.0v1.0h-1.0zM331.7 233.5h1.0v1.0h-1.0zM329.9 227.2h1.0v1.0h-1.0zM338.0 235.5h1.0v1.0h-1.0zM330.3 231.4h1.0v1.0h-1.0zM334.4 227.3h1.0v1.0h-1.0zM341.4 243.0h1.0v1.0h-1.0zM341.6 242.9h1.0v1.0h-1.0zM338.5 225.2h1.0v1.0h-1.0zM329.1 227.0h1.0v1.0h-1.0zM349.2 228.7h1.0v1.0h-1.0zM342.2 221.3h1.0v1.0h-1.0zM337.4 239.0h1.0v1.0h-1.0zM335.0 233.0h1.0v1.0h-1.0zM341.5 235.3h1.0v1.0h-1.0zM352.4 224.5h1.0v1.0h-1.0zM342.5 236.9h1.0v1.0h-1.0zM347.4 225.7h1.0v1.0h-1.0zM336.4 226.7h1.0v1.0h-1.0zM346.9 236.8h1.0v1.0h-1.0zM340.0 226.4h1.0v1.0h-1.0zM343.6 235.2h1.0v1.0h-1.0zM348.9 230.4h1.0v1.0h-1.0zM344.4 241.6h1.0v1.0h-1.0zM349.6 234.2h1.0v1.0h-1.0zM338.1 229.3h1.0v1.0h-1.0zM348.3 233.8h1.0v1.0h-1.0zM343.0 239.0h1.0v1.0h-1.0zM338.9 223.1h1.0v1.0h-1.0zM338.2 228.0h1.0v1.0h-1.0zM343.2 235.2h1.0v1.0h-1.0zM332.2 233.1h1.0v1.0h-1.0zM347.3 229.9h1.0v1.0h-1.0zM335.4 230.2h1.0v1.0h-1.0zM337.4 236.6h1.0v1.0h-1.0zM332.7 222.9h1.0v1.0h-1.0zM337.2 236.9h1.0v1.0h-1.0zM348.9 236.0h1.0v1.0h-1.0zM340.6 224.9h1.0v1.0h-1.0zM346.5 228.7h1.0v1.0h-1.0zM335.2 228.4h1.0v1.0h-1.0zM338.4 227.2h1.0v1.0h-1.0zM334.2 230.8h1.0v1.0h-1.0zM342.1 236.9h1.0v1.0h-1.0zM333.2 231.5h1.0v1.0h-1.0zM344.9 240.3h1.0v1.0h-1.0zM335.5 231.4h1.0v1.0h-1.0zM334.9 233.2h1.0v1.0h-1.0zM348.9 229.9h1.0v1.0h-1.0zM346.6 236.1h1.0v1.0h-1.0zM346.8 228.9h1.0v1.0h-1.0zM348.2 228.2h1.0v1.0h-1.0zM342.1 229.1h1.0v1.0h-1.0zM337.0 223.9h1.0v1.0h-1.0zM334.9 233.4h1.0v1.0h-1.0zM335.6 221.8h1.0v1.0h-1.0zM350.0 227.4h1.0v1.0h-1.0zM339.2 241.0h1.0v1.0h-1.0zM352.5 228.2h1.0v1.0h-1.0zM349.5 230.3h1.0v1.0h-1.0zM345.2 226.9h1.0v1.0h-1.0zM339.6 229.6h1.0v1.0h-1.0zM339.0 230.0h1.0v1.0h-1.0zM350.1 224.7h1.0v1.0h-1.0zM334.3 226.7h1.0v1.0h-1.0zM338.4 237.8h1.0v1.0h-1.0zM337.0 224.0h1.0v1.0h-1.0zM329.6 227.9h1.0v1.0h-1.0zM336.7 225.2h1.0v1.0h-1.0zM333.8 228.0h1.0v1.0h-1.0zM343.0 231.2h1.0v1.0h-1.0zM342.8 235.8h1.0v1.0h-1.0zM350.0 232.5h1.0v1.0h-1.0zM345.6 231.6h1.0v1.0h-1.0zM345.6 229.8h1.0v1.0h-1.0zM339.8 232.7h1.0v1.0h-1.0zM347.7 227.2h1.0v1.0h-1.0zM340.2 230.2h1.0v1.0h-1.0zM344.9 238.2h1.0v1.0h-1.0zM351.0 223.8h1.0v1.0h-1.0zM330.6 223.3h1.0v1.0h-1.0zM329.2 226.6h1.0v1.0h-1.0zM341.4 225.6h1.0v1.0h-1.0zM348.8 230.6h1.0v1.0h-1.0zM343.2 228.1h1.0v1.0h-1.0zM335.3 222.8h1.0v1.0h-1.0zM344.7 236.3h1.0v1.0h-1.0zM329.3 226.1h1.0v1.0h-1.0zM341.6 237.7h1.0v1.0h-1.0zM337.9 229.6h1.0v1.0h-1.0zM341.7 225.3h1.0v1.0h-1.0zM345.3 233.2h1.0v1.0h-1.0zM338.4 226.1h1.0v1.0h-1.0zM339.1 234.9h1.0v1.0h-1.0zM332.3 233.3h1.0v1.0h-1.0zM335.6 230.5h1.0v1.0h-1.0zM345.5 224.8h1.0v1.0h-1.0zM343.3 234.6h1.0v1.0h-1.0zM344.1 229.5h1.0v1.0h-1.0zM337.1 229.0h1.0v1.0h-1.0zM342.1 231.4h1.0v1.0h-1.0zM333.5 230.0h1.0v1.0h-1.0zM334.3 228.2h1.0v1.0h-1.0zM338.6 228.9h1.0v1.0h-1.0zM353.5 227.6h1.0v1.0h-1.0zM337.7 236.0h1.0v1.0h-1.0zM339.4 232.7h1.0v1.0h-1.0zM345.9 222.5h1.0v1.0h-1.0zM346.6 223.1h1.0v1.0h-1.0zM333.5 230.9h1.0v1.0h-1.0zM335.1 225.3h1.0v1.0h-1.0zM345.7 235.5h1.0v1.0h-1.0zM344.4 231.9h1.0v1.0h-1.0zM341.2 229.1h1.0v1.0h-1.0zM347.7 238.2h1.0v1.0h-1.0zM335.2 232.9h1.0v1.0h-1.0zM348.0 232.4h1.0v1.0h-1.0zM346.3 235.0h1.0v1.0h-1.0zM347.7 229.0h1.0v1.0h-1.0zM337.0 221.4h1.0v1.0h-1.0zM352.6 224.3h1.0v1.0h-1.0zM350.9 230.5h1.0v1.0h-1.0zM337.2 226.8h1.0v1.0h-1.0zM339.8 222.0h1.0v1.0h-1.0zM330.3 223.5h1.0v1.0h-1.0zM337.0 224.4h1.0v1.0h-1.0zM338.9 232.1h1.0v1.0h-1.0zM344.7 242.4h1.0v1.0h-1.0zM332.8 226.1h1.0v1.0h-1.0zM338.6 225.1h1.0v1.0h-1.0zM343.4 239.1h1.0v1.0h-1.0zM335.8 233.1h1.0v1.0h-1.0zM352.7 223.3h1.0v1.0h-1.0zM345.1 225.1h1.0v1.0h-1.0zM345.8 230.9h1.0v1.0h-1.0zM338.4 230.0h1.0v1.0h-1.0zM342.6 233.8h1.0v1.0h-1.0zM343.4 233.4h1.0v1.0h-1.0zM351.2 229.4h1.0v1.0h-1.0zM349.8 233.0h1.0v1.0h-1.0zM334.7 230.2h1.0v1.0h-1.0zM342.7 238.7h1.0v1.0h-1.0zM346.7 240.9h1.0v1.0h-1.0zM346.0 229.2h1.0v1.0h-1.0zM336.5 222.7h1.0v1.0h-1.0zM354.5 224.0h1.0v1.0h-1.0zM344.8 223.9h1.0v1.0h-1.0zM334.8 230.1h1.0v1.0h-1.0zM346.3 227.3h1.0v1.0h-1.0zM343.9 237.0h1.0v1.0h-1.0zM348.6 227.4h1.0v1.0h-1.0zM348.8 230.8h1.0v1.0h-1.0zM345.3 229.1h1.0v1.0h-1.0zM331.4 232.1h1.0v1.0h-1.0zM339.8 228.3h1.0v1.0h-1.0zM343.8 233.2h1.0v1.0h-1.0zM342.9 243.6h1.0v1.0h-1.0zM352.7 227.7h1.0v1.0h-1.0zM351.8 228.1h1.0v1.0h-1.0zM346.3 237.1h1.0v1.0h-1.0zM334.3 223.6h1.0v1.0h-1.0zM333.6 230.7h1.0v1.0h-1.0zM340.4 241.9h1.0v1.0h-1.0zM337.3 222.0h1.0v1.0h-1.0zM346.3 231.9h1.0v1.0h-1.0zM334.3 225.9h1.0v1.0h-1.0zM330.7 223.0h1.0v1.0h-1.0zM341.5 241.5h1.0v1.0h-1.0zM346.6 231.6h1.0v1.0h-1.0zM349.3 237.1h1.0v1.0h-1.0zM346.7 234.4h1.0v1.0h-1.0zM333.4 231.7h1.0v1.0h-1.0zM340.7 224.3h1.0v1.0h-1.0zM334.3 230.3h1.0v1.0h-1.0zM333.6 235.2h1.0v1.0h-1.0zM346.9 232.7h1.0v1.0h-1.0zM340.3 229.8h1.0v1.0h-1.0zM346.0 224.1h1.0v1.0h-1.0zM343.2 224.6h1.0v1.0h-1.0zM337.5 234.4h1.0v1.0h-1.0zM333.4 226.2h1.0v1.0h-1.0zM348.1 232.0h1.0v1.0h-1.0zM352.3 224.5h1.0v1.0h-1.0zM344.9 236.8h1.0v1.0h-1.0zM343.5 224.2h1.0v1.0h-1.0zM352.8 224.2h1.0v1.0h-1.0zM336.2 233.5h1.0v1.0h-1.0zM335.8 222.6h1.0v1.0h-1.0zM333.2 227.1h1.0v1.0h-1.0zM346.5 230.6h1.0v1.0h-1.0zM332.3 225.4h1.0v1.0h-1.0zM340.4 240.7h1.0v1.0h-1.0zM333.8 222.2h1.0v1.0h-1.0zM348.2 224.0h1.0v1.0h-1.0zM336.8 225.6h1.0v1.0h-1.0zM340.5 242.1h1.0v1.0h-1.0zM351.0 233.2h1.0v1.0h-1.0zM331.3 224.8h1.0v1.0h-1.0zM336.7 239.1h1.0v1.0h-1.0zM332.9 222.6h1.0v1.0h-1.0zM335.9 237.5h1.0v1.0h-1.0zM333.4 234.5h1.0v1.0h-1.0zM331.7 227.1h1.0v1.0h-1.0zM341.5 220.9h1.0v1.0h-1.0zM346.8 240.7h1.0v1.0h-1.0zM347.2 235.9h1.0v1.0h-1.0zM347.1 222.9h1.0v1.0h-1.0zM352.3 224.4h1.0v1.0h-1.0zM340.6 236.7h1.0v1.0h-1.0zM337.2 227.7h1.0v1.0h-1.0zM348.0 221.9h1.0v1.0h-1.0zM351.9 228.1h1.0v1.0h-1.0zM339.3 228.0h1.0v1.0h-1.0zM347.7 224.8h1.0v1.0h-1.0zM332.5 222.3h1.0v1.0h-1.0zM341.1 229.0h1.0v1.0h-1.0zM337.1 228.7h1.0v1.0h-1.0zM331.8 230.6h1.0v1.0h-1.0zM335.9 222.2h1.0v1.0h-1.0zM334.9 223.3h1.0v1.0h-1.0zM347.9 224.1h1.0v1.0h-1.0zM349.7 233.2h1.0v1.0h-1.0zM331.3 225.6h1.0v1.0h-1.0zM331.4 222.7h1.0v1.0h-1.0zM348.6 228.9h1.0v1.0h-1.0zM341.5 224.0h1.0v1.0h-1.0zM333.6 232.3h1.0v1.0h-1.0zM340.2 225.1h1.0v1.0h-1.0zM332.9 231.1h1.0v1.0h-1.0zM341.4 222.0h1.0v1.0h-1.0zM348.2 238.5h1.0v1.0h-1.0zM333.3 230.5h1.0v1.0h-1.0zM339.8 222.5h1.0v1.0h-1.0zM349.4 234.2h1.0v1.0h-1.0zM346.0 231.9h1.0v1.0h-1.0zM343.3 230.1h1.0v1.0h-1.0zM345.4 234.3h1.0v1.0h-1.0zM337.6 237.4h1.0v1.0h-1.0zM335.1 231.9h1.0v1.0h-1.0zM342.8 237.6h1.0v1.0h-1.0zM330.9 224.2h1.0v1.0h-1.0zM333.8 235.1h1.0v1.0h-1.0zM333.4 233.7h1.0v1.0h-1.0zM352.1 230.7h1.0v1.0h-1.0zM334.8 234.6h1.0v1.0h-1.0zM339.7 230.9h1.0v1.0h-1.0zM342.0 236.6h1.0v1.0h-1.0zM349.6 226.7h1.0v1.0h-1.0zM347.7 233.8h1.0v1.0h-1.0zM340.8 235.3h1.0v1.0h-1.0zM340.9 236.0h1.0v1.0h-1.0zM345.7 237.1h1.0v1.0h-1.0zM343.2 224.1h1.0v1.0h-1.0zM332.2 229.7h1.0v1.0h-1.0zM345.3 221.5h1.0v1.0h-1.0zM340.7 239.2h1.0v1.0h-1.0zM339.0 224.8h1.0v1.0h-1.0zM345.7 227.3h1.0v1.0h-1.0zM343.6 236.6h1.0v1.0h-1.0zM334.4 226.4h1.0v1.0h-1.0zM353.2 225.6h1.0v1.0h-1.0zM341.8 231.3h1.0v1.0h-1.0zM349.0 235.3h1.0v1.0h-1.0zM343.1 222.9h1.0v1.0h-1.0zM344.0 230.8h1.0v1.0h-1.0zM348.8 229.5h1.0v1.0h-1.0zM332.2 229.6h1.0v1.0h-1.0zM350.7 232.3h1.0v1.0h-1.0zM346.5 222.1h1.0v1.0h-1.0zM334.8 226.9h1.0v1.0h-1.0zM341.7 223.5h1.0v1.0h-1.0zM342.1 235.0h1.0v1.0h-1.0zM350.3 222.8h1.0v1.0h-1.0zM342.5 235.7h1.0v1.0h-1.0zM337.0 224.2h1.0v1.0h-1.0zM344.7 231.8h1.0v1.0h-1.0zM347.0 223.1h1.0v1.0h-1.0zM348.7 224.8h1.0v1.0h-1.0zM344.5 235.2h1.0v1.0h-1.0zM338.8 233.8h1.0v1.0h-1.0zM331.7 231.3h1.0v1.0h-1.0zM339.4 241.8h1.0v1.0h-1.0zM349.8 230.5h1.0v1.0h-1.0zM349.0 236.5h1.0v1.0h-1.0zM332.0 227.6h1.0v1.0h-1.0zM339.3 227.7h1.0v1.0h-1.0zM348.5 238.6h1.0v1.0h-1.0zM344.2 223.6h1.0v1.0h-1.0zM351.3 223.3h1.0v1.0h-1.0zM344.2 243.0h1.0v1.0h-1.0zM336.0 231.9h1.0v1.0h-1.0zM346.7 235.7h1.0v1.0h-1.0zM337.4 230.4h1.0v1.0h-1.0zM352.4 226.9h1.0v1.0h-1.0zM335.7 223.7h1.0v1.0h-1.0zM350.5 225.4h1.0v1.0h-1.0zM348.4 225.3h1.0v1.0h-1.0zM344.1 238.1h1.0v1.0h-1.0zM342.2 235.3h1.0v1.0h-1.0zM332.1 231.4h1.0v1.0h-1.0zM349.5 229.4h1.0v1.0h-1.0zM348.5 234.6h1.0v1.0h-1.0zM350.4 230.7h1.0v1.0h-1.0zM347.8 230.4h1.0v1.0h-1.0zM344.1 228.3h1.0v1.0h-1.0zM341.1 227.9h1.0v1.0h-1.0zM345.1 232.9h1.0v1.0h-1.0zM341.1 224.8h1.0v1.0h-1.0z" fill="#8cc760"/>
<path d="M336.1 226.7h1.0v1.0h-1.0zM348.2 236.0h1.0v1.0h-1.0zM336.9 236.6h1.0v1.0h-1.0zM339.4 238.8h1.0v1.0h-1.0zM332.1 225.9h1.0v1.0h-1.0zM352.6 229.1h1.0v1.0h-1.0zM345.5 224.2h1.0v1.0h-1.0zM343.4 236.1h1.0v1.0h-1.0zM333.3 235.9h1.0v1.0h-1.0zM332.2 228.6h1.0v1.0h-1.0zM331.2 225.5h1.0v1.0h-1.0zM344.9 241.0h1.0v1.0h-1.0zM347.0 223.4h1.0v1.0h-1.0zM344.4 235.4h1.0v1.0h-1.0zM333.7 223.0h1.0v1.0h-1.0zM334.0 231.2h1.0v1.0h-1.0zM342.1 223.1h1.0v1.0h-1.0zM350.4 222.9h1.0v1.0h-1.0zM336.3 221.4h1.0v1.0h-1.0zM348.4 223.4h1.0v1.0h-1.0zM342.7 222.9h1.0v1.0h-1.0zM341.6 236.6h1.0v1.0h-1.0zM343.0 231.3h1.0v1.0h-1.0zM341.7 230.9h1.0v1.0h-1.0zM344.6 223.0h1.0v1.0h-1.0zM341.4 226.2h1.0v1.0h-1.0zM330.7 224.1h1.0v1.0h-1.0zM347.4 234.0h1.0v1.0h-1.0zM338.1 233.9h1.0v1.0h-1.0zM353.6 226.9h1.0v1.0h-1.0zM336.9 225.1h1.0v1.0h-1.0zM345.4 231.6h1.0v1.0h-1.0zM335.7 229.8h1.0v1.0h-1.0zM329.9 228.0h1.0v1.0h-1.0zM338.4 226.6h1.0v1.0h-1.0zM329.9 224.2h1.0v1.0h-1.0zM334.2 226.1h1.0v1.0h-1.0zM351.8 226.9h1.0v1.0h-1.0zM335.5 234.7h1.0v1.0h-1.0zM353.0 227.5h1.0v1.0h-1.0zM348.9 229.3h1.0v1.0h-1.0zM343.7 234.6h1.0v1.0h-1.0zM342.3 240.2h1.0v1.0h-1.0zM338.6 229.7h1.0v1.0h-1.0zM349.2 228.1h1.0v1.0h-1.0zM341.3 228.6h1.0v1.0h-1.0zM335.9 223.2h1.0v1.0h-1.0zM334.2 236.8h1.0v1.0h-1.0zM332.7 226.8h1.0v1.0h-1.0zM340.7 233.4h1.0v1.0h-1.0zM338.9 238.9h1.0v1.0h-1.0zM335.7 229.3h1.0v1.0h-1.0zM340.1 223.8h1.0v1.0h-1.0zM334.8 224.2h1.0v1.0h-1.0zM348.0 224.2h1.0v1.0h-1.0zM346.5 225.9h1.0v1.0h-1.0zM345.9 236.0h1.0v1.0h-1.0zM346.2 233.7h1.0v1.0h-1.0zM330.2 230.2h1.0v1.0h-1.0zM335.9 231.6h1.0v1.0h-1.0z" fill="#b5d65a"/>
<path d="M406.7 140.4h1.0v1.0h-1.0zM392.5 142.2h1.0v1.0h-1.0zM389.5 145.6h1.0v1.0h-1.0zM398.2 141.8h1.0v1.0h-1.0zM411.9 141.0h1.0v1.0h-1.0zM402.2 143.1h1.0v1.0h-1.0zM389.8 146.0h1.0v1.0h-1.0zM389.6 144.7h1.0v1.0h-1.0zM412.6 140.5h1.0v1.0h-1.0zM406.9 139.8h1.0v1.0h-1.0zM417.4 142.0h1.0v1.0h-1.0zM406.6 141.1h1.0v1.0h-1.0zM394.7 142.9h1.0v1.0h-1.0zM406.7 140.5h1.0v1.0h-1.0zM408.4 140.4h1.0v1.0h-1.0zM398.9 142.2h1.0v1.0h-1.0zM396.3 143.0h1.0v1.0h-1.0zM410.4 138.8h1.0v1.0h-1.0zM403.2 142.0h1.0v1.0h-1.0zM395.4 144.2h1.0v1.0h-1.0zM417.5 140.9h1.0v1.0h-1.0zM388.5 147.4h1.0v1.0h-1.0zM410.7 140.0h1.0v1.0h-1.0zM399.8 142.8h1.0v1.0h-1.0zM396.1 141.7h1.0v1.0h-1.0zM397.9 143.0h1.0v1.0h-1.0zM398.0 142.6h1.0v1.0h-1.0zM397.8 142.1h1.0v1.0h-1.0zM402.6 141.1h1.0v1.0h-1.0zM410.3 140.5h1.0v1.0h-1.0zM402.0 142.2h1.0v1.0h-1.0zM389.3 145.7h1.0v1.0h-1.0zM397.6 143.0h1.0v1.0h-1.0zM404.0 141.7h1.0v1.0h-1.0zM408.0 140.6h1.0v1.0h-1.0zM402.7 142.3h1.0v1.0h-1.0zM404.9 141.6h1.0v1.0h-1.0zM410.5 140.2h1.0v1.0h-1.0zM404.0 142.2h1.0v1.0h-1.0zM387.4 145.3h1.0v1.0h-1.0zM389.2 145.5h1.0v1.0h-1.0zM405.6 140.5h1.0v1.0h-1.0zM390.0 144.3h1.0v1.0h-1.0zM401.0 141.6h1.0v1.0h-1.0zM388.0 147.0h1.0v1.0h-1.0zM409.5 139.8h1.0v1.0h-1.0zM405.9 141.1h1.0v1.0h-1.0zM412.6 140.8h1.0v1.0h-1.0zM396.8 141.7h1.0v1.0h-1.0zM397.8 143.6h1.0v1.0h-1.0zM417.3 140.6h1.0v1.0h-1.0zM396.4 144.3h1.0v1.0h-1.0zM391.0 143.3h1.0v1.0h-1.0zM390.6 145.2h1.0v1.0h-1.0zM405.1 141.3h1.0v1.0h-1.0zM401.9 141.6h1.0v1.0h-1.0zM396.2 141.6h1.0v1.0h-1.0zM400.4 142.2h1.0v1.0h-1.0zM396.4 143.3h1.0v1.0h-1.0zM392.3 145.5h1.0v1.0h-1.0zM408.9 141.8h1.0v1.0h-1.0zM414.5 140.2h1.0v1.0h-1.0zM390.8 143.9h1.0v1.0h-1.0zM389.6 144.5h1.0v1.0h-1.0zM400.2 141.9h1.0v1.0h-1.0zM399.3 142.5h1.0v1.0h-1.0zM390.1 145.4h1.0v1.0h-1.0zM403.6 141.2h1.0v1.0h-1.0zM408.8 142.4h1.0v1.0h-1.0zM415.0 140.4h1.0v1.0h-1.0zM404.4 139.9h1.0v1.0h-1.0zM405.3 140.9h1.0v1.0h-1.0zM394.0 144.0h1.0v1.0h-1.0zM404.0 141.1h1.0v1.0h-1.0zM403.6 141.5h1.0v1.0h-1.0zM406.2 140.3h1.0v1.0h-1.0zM393.5 143.6h1.0v1.0h-1.0zM397.6 142.2h1.0v1.0h-1.0zM402.8 141.3h1.0v1.0h-1.0zM416.3 138.5h1.0v1.0h-1.0zM401.5 142.7h1.0v1.0h-1.0zM404.8 141.6h1.0v1.0h-1.0zM409.5 141.9h1.0v1.0h-1.0zM391.4 144.9h1.0v1.0h-1.0zM412.4 141.2h1.0v1.0h-1.0zM400.6 141.8h1.0v1.0h-1.0zM407.1 141.6h1.0v1.0h-1.0zM412.9 141.1h1.0v1.0h-1.0zM415.5 139.8h1.0v1.0h-1.0zM416.3 139.0h1.0v1.0h-1.0zM398.4 141.2h1.0v1.0h-1.0zM390.0 147.1h1.0v1.0h-1.0zM397.5 142.5h1.0v1.0h-1.0zM411.1 138.7h1.0v1.0h-1.0zM393.0 144.1h1.0v1.0h-1.0zM403.0 141.0h1.0v1.0h-1.0zM405.7 141.6h1.0v1.0h-1.0zM397.7 142.5h1.0v1.0h-1.0zM396.4 142.8h1.0v1.0h-1.0zM399.4 142.6h1.0v1.0h-1.0zM395.2 143.1h1.0v1.0h-1.0zM391.1 146.1h1.0v1.0h-1.0zM401.1 142.1h1.0v1.0h-1.0zM412.9 140.4h1.0v1.0h-1.0zM410.9 140.8h1.0v1.0h-1.0zM410.6 140.3h1.0v1.0h-1.0zM396.2 143.2h1.0v1.0h-1.0zM400.0 141.1h1.0v1.0h-1.0zM405.8 141.0h1.0v1.0h-1.0zM412.7 141.2h1.0v1.0h-1.0zM406.6 141.0h1.0v1.0h-1.0zM390.4 142.9h1.0v1.0h-1.0zM410.7 141.4h1.0v1.0h-1.0zM397.2 142.5h1.0v1.0h-1.0zM406.5 141.9h1.0v1.0h-1.0zM409.7 141.4h1.0v1.0h-1.0zM387.9 145.0h1.0v1.0h-1.0zM409.2 140.5h1.0v1.0h-1.0zM400.0 142.2h1.0v1.0h-1.0zM395.7 143.2h1.0v1.0h-1.0zM390.4 145.3h1.0v1.0h-1.0zM414.0 141.1h1.0v1.0h-1.0zM392.3 143.3h1.0v1.0h-1.0zM406.6 140.7h1.0v1.0h-1.0zM416.2 139.4h1.0v1.0h-1.0zM402.1 142.4h1.0v1.0h-1.0zM391.2 142.6h1.0v1.0h-1.0zM409.5 141.0h1.0v1.0h-1.0zM393.2 143.6h1.0v1.0h-1.0zM399.6 142.5h1.0v1.0h-1.0zM401.1 142.3h1.0v1.0h-1.0zM417.1 140.6h1.0v1.0h-1.0zM398.6 141.0h1.0v1.0h-1.0zM398.3 140.8h1.0v1.0h-1.0zM397.3 142.3h1.0v1.0h-1.0zM389.6 145.4h1.0v1.0h-1.0zM391.3 144.0h1.0v1.0h-1.0zM410.4 139.4h1.0v1.0h-1.0zM391.5 144.1h1.0v1.0h-1.0zM409.1 142.2h1.0v1.0h-1.0zM398.9 142.3h1.0v1.0h-1.0zM390.0 144.4h1.0v1.0h-1.0zM414.7 140.7h1.0v1.0h-1.0zM399.6 141.4h1.0v1.0h-1.0zM414.8 138.4h1.0v1.0h-1.0zM387.6 145.3h1.0v1.0h-1.0zM406.7 140.9h1.0v1.0h-1.0zM415.1 141.3h1.0v1.0h-1.0zM387.9 145.2h1.0v1.0h-1.0zM401.5 140.6h1.0v1.0h-1.0zM390.6 143.6h1.0v1.0h-1.0zM403.4 141.5h1.0v1.0h-1.0zM404.1 141.0h1.0v1.0h-1.0zM394.7 144.0h1.0v1.0h-1.0zM409.3 141.6h1.0v1.0h-1.0zM407.2 141.0h1.0v1.0h-1.0zM400.4 140.8h1.0v1.0h-1.0zM402.4 142.2h1.0v1.0h-1.0zM389.0 145.0h1.0v1.0h-1.0zM416.8 138.2h1.0v1.0h-1.0zM413.3 141.2h1.0v1.0h-1.0zM393.0 144.2h1.0v1.0h-1.0zM412.2 140.9h1.0v1.0h-1.0zM414.3 140.8h1.0v1.0h-1.0zM393.1 144.0h1.0v1.0h-1.0zM400.0 140.0h1.0v1.0h-1.0zM402.2 143.1h1.0v1.0h-1.0zM392.4 145.0h1.0v1.0h-1.0zM409.8 140.5h1.0v1.0h-1.0zM416.9 139.5h1.0v1.0h-1.0z" fill="#268a3e"/>
<path d="M414.9 141.8h1.0v1.0h-1.0zM416.9 141.7h1.0v1.0h-1.0zM415.4 140.2h1.0v1.0h-1.0zM417.9 141.0h1.0v1.0h-1.0zM423.3 140.7h1.0v1.0h-1.0zM417.1 140.5h1.0v1.0h-1.0zM412.3 141.3h1.0v1.0h-1.0zM441.0 141.0h1.0v1.0h-1.0zM421.0 141.0h1.0v1.0h-1.0zM438.6 140.4h1.0v1.0h-1.0zM426.7 139.9h1.0v1.0h-1.0zM419.6 139.6h1.0v1.0h-1.0zM418.5 140.6h1.0v1.0h-1.0zM411.9 140.9h1.0v1.0h-1.0zM434.6 139.7h1.0v1.0h-1.0zM427.1 139.9h1.0v1.0h-1.0zM438.8 140.4h1.0v1.0h-1.0zM424.0 140.9h1.0v1.0h-1.0zM416.5 140.8h1.0v1.0h-1.0zM434.4 140.3h1.0v1.0h-1.0zM435.8 139.6h1.0v1.0h-1.0zM419.3 141.3h1.0v1.0h-1.0zM440.0 141.4h1.0v1.0h-1.0zM416.7 140.1h1.0v1.0h-1.0zM416.7 141.0h1.0v1.0h-1.0zM432.2 139.7h1.0v1.0h-1.0zM424.2 141.0h1.0v1.0h-1.0zM438.9 140.5h1.0v1.0h-1.0zM421.1 140.0h1.0v1.0h-1.0zM423.4 139.3h1.0v1.0h-1.0zM426.5 141.2h1.0v1.0h-1.0zM427.1 139.3h1.0v1.0h-1.0zM427.8 139.5h1.0v1.0h-1.0zM431.6 140.5h1.0v1.0h-1.0zM418.8 141.2h1.0v1.0h-1.0zM418.4 140.3h1.0v1.0h-1.0zM440.3 141.4h1.0v1.0h-1.0zM428.1 140.4h1.0v1.0h-1.0zM424.7 141.0h1.0v1.0h-1.0zM426.6 139.3h1.0v1.0h-1.0zM411.7 142.0h1.0v1.0h-1.0zM422.3 140.5h1.0v1.0h-1.0zM418.1 140.9h1.0v1.0h-1.0zM415.5 141.4h1.0v1.0h-1.0zM431.7 139.9h1.0v1.0h-1.0zM431.1 141.1h1.0v1.0h-1.0zM413.7 141.2h1.0v1.0h-1.0zM435.7 139.6h1.0v1.0h-1.0zM438.2 139.7h1.0v1.0h-1.0zM426.7 140.6h1.0v1.0h-1.0zM438.4 141.7h1.0v1.0h-1.0zM423.5 140.3h1.0v1.0h-1.0zM423.5 140.3h1.0v1.0h-1.0zM435.2 139.4h1.0v1.0h-1.0zM421.7 139.7h1.0v1.0h-1.0zM427.2 139.9h1.0v1.0h-1.0zM436.7 141.3h1.0v1.0h-1.0zM430.8 139.3h1.0v1.0h-1.0zM423.4 139.8h1.0v1.0h-1.0zM436.9 140.8h1.0v1.0h-1.0zM433.6 140.7h1.0v1.0h-1.0zM413.4 141.5h1.0v1.0h-1.0zM420.6 141.2h1.0v1.0h-1.0zM412.1 140.3h1.0v1.0h-1.0zM434.0 139.5h1.0v1.0h-1.0zM412.4 140.6h1.0v1.0h-1.0zM412.1 142.7h1.0v1.0h-1.0zM423.8 141.2h1.0v1.0h-1.0zM413.3 141.5h1.0v1.0h-1.0zM421.7 139.7h1.0v1.0h-1.0zM423.3 140.6h1.0v1.0h-1.0zM435.2 140.3h1.0v1.0h-1.0zM438.1 139.7h1.0v1.0h-1.0zM437.5 141.1h1.0v1.0h-1.0zM412.3 141.6h1.0v1.0h-1.0zM422.7 140.5h1.0v1.0h-1.0zM413.4 141.3h1.0v1.0h-1.0zM419.2 141.2h1.0v1.0h-1.0zM425.0 139.8h1.0v1.0h-1.0zM433.7 139.4h1.0v1.0h-1.0zM439.9 140.7h1.0v1.0h-1.0zM429.1 141.0h1.0v1.0h-1.0zM417.7 142.3h1.0v1.0h-1.0zM426.8 140.7h1.0v1.0h-1.0zM422.6 140.2h1.0v1.0h-1.0zM422.6 140.0h1.0v1.0h-1.0zM415.9 140.3h1.0v1.0h-1.0zM428.0 140.6h1.0v1.0h-1.0zM437.7 140.6h1.0v1.0h-1.0zM429.0 139.1h1.0v1.0h-1.0zM437.3 141.3h1.0v1.0h-1.0zM416.4 142.6h1.0v1.0h-1.0zM438.0 139.1h1.0v1.0h-1.0zM440.8 140.7h1.0v1.0h-1.0zM412.5 141.1h1.0v1.0h-1.0zM420.8 141.0h1.0v1.0h-1.0zM419.0 139.9h1.0v1.0h-1.0zM419.2 139.4h1.0v1.0h-1.0zM423.8 140.7h1.0v1.0h-1.0zM416.4 141.2h1.0v1.0h-1.0zM413.4 141.5h1.0v1.0h-1.0zM432.0 139.6h1.0v1.0h-1.0zM434.5 140.2h1.0v1.0h-1.0zM430.4 141.1h1.0v1.0h-1.0zM425.1 140.2h1.0v1.0h-1.0zM437.3 140.1h1.0v1.0h-1.0zM441.1 142.1h1.0v1.0h-1.0zM429.3 139.9h1.0v1.0h-1.0zM418.0 141.5h1.0v1.0h-1.0zM417.5 141.4h1.0v1.0h-1.0z" fill="#3580c4"/>
<path d="M446.0 135.0 L446.3 134.2 L447.1 134.0 L448.2 134.3 L449.5 134.9 L450.8 135.5 L452.0 136.0 L453.1 136.4 L454.2 136.8 L455.4 137.3 L456.6 137.8 L457.6 138.4 L458.5 139.0 L459.3 139.7 L460.0 140.4 L460.6 141.2 L461.2 142.0 L461.6 142.8 L461.8 143.5 L461.9 144.2 L461.8 144.9 L461.6 145.6 L461.3 146.3 L460.9 146.9 L460.5 147.5 L460.1 148.1 L459.6 148.7 L459.0 149.2 L458.4 149.7 L457.7 150.2 L457.0 150.5 L456.3 150.9 L455.5 151.5 L454.7 151.9 L453.8 152.1 L452.9 151.9 L452.0 151.0 L450.9 149.1 L449.6 146.3 L448.3 143.0 L447.1 139.7 L446.3 136.9 L446.0 135.0Z" fill="#c9a8dc" fill-rule="evenodd"/>
<path d="M449.6 145.9h1.1v1.1h-1.1zM456.3 148.9h1.1v1.1h-1.1zM448.4 137.6h1.1v1.1h-1.1zM447.8 137.5h1.1v1.1h-1.1zM453.9 137.3h1.1v1.1h-1.1zM450.1 141.3h1.1v1.1h-1.1zM458.7 144.5h1.1v1.1h-1.1zM458.3 148.1h1.1v1.1h-1.1zM458.6 147.0h1.1v1.1h-1.1zM453.2 147.2h1.1v1.1h-1.1zM454.4 141.2h1.1v1.1h-1.1zM451.2 141.3h1.1v1.1h-1.1zM450.4 135.6h1.1v1.1h-1.1zM458.5 147.9h1.1v1.1h-1.1zM454.2 147.0h1.1v1.1h-1.1zM452.5 136.7h1.1v1.1h-1.1zM448.7 142.9h1.1v1.1h-1.1zM449.5 141.8h1.1v1.1h-1.1zM455.1 140.6h1.1v1.1h-1.1zM449.2 137.7h1.1v1.1h-1.1zM448.5 140.1h1.1v1.1h-1.1zM446.1 136.0h1.1v1.1h-1.1zM458.2 148.7h1.1v1.1h-1.1zM452.0 149.2h1.1v1.1h-1.1zM451.4 146.5h1.1v1.1h-1.1zM455.0 146.6h1.1v1.1h-1.1zM448.8 144.7h1.1v1.1h-1.1zM454.7 144.2h1.1v1.1h-1.1zM451.2 146.7h1.1v1.1h-1.1zM450.9 138.8h1.1v1.1h-1.1zM447.2 137.5h1.1v1.1h-1.1zM454.3 143.3h1.1v1.1h-1.1zM447.4 138.9h1.1v1.1h-1.1zM449.7 144.3h1.1v1.1h-1.1zM451.3 148.6h1.1v1.1h-1.1zM453.3 151.0h1.1v1.1h-1.1zM453.7 142.1h1.1v1.1h-1.1zM456.1 138.8h1.1v1.1h-1.1zM459.9 146.9h1.1v1.1h-1.1zM449.6 145.9h1.1v1.1h-1.1zM454.8 139.9h1.1v1.1h-1.1zM449.3 138.7h1.1v1.1h-1.1zM448.7 139.8h1.1v1.1h-1.1zM453.1 143.5h1.1v1.1h-1.1zM450.7 138.7h1.1v1.1h-1.1zM452.4 135.9h1.1v1.1h-1.1zM450.3 140.5h1.1v1.1h-1.1zM446.0 135.8h1.1v1.1h-1.1zM451.2 141.5h1.1v1.1h-1.1zM453.1 140.2h1.1v1.1h-1.1zM450.9 148.0h1.1v1.1h-1.1zM453.7 150.2h1.1v1.1h-1.1zM452.4 143.9h1.1v1.1h-1.1zM455.3 148.7h1.1v1.1h-1.1zM458.3 143.1h1.1v1.1h-1.1zM450.2 135.0h1.1v1.1h-1.1zM446.3 134.0h1.1v1.1h-1.1zM456.8 149.2h1.1v1.1h-1.1zM452.2 144.7h1.1v1.1h-1.1zM458.7 146.4h1.1v1.1h-1.1z" fill="#41b4c3"/>
<path d="M437.0 141.0 L437.7 140.3 L438.8 139.7 L440.1 139.1 L441.4 138.6 L442.8 138.2 L444.0 138.0 L445.1 138.0 L446.2 138.2 L447.2 138.5 L448.3 138.9 L449.2 139.4 L450.0 140.0 L450.8 140.7 L451.5 141.4 L452.1 142.3 L452.6 143.2 L452.9 144.1 L453.0 145.0 L452.8 145.9 L452.3 146.8 L451.6 147.8 L450.8 148.7 L449.9 149.4 L449.0 150.0 L448.0 150.4 L446.8 150.7 L445.5 150.8 L444.2 150.9 L443.0 150.8 L442.0 150.5 L441.1 150.0 L440.3 149.4 L439.6 148.6 L439.0 147.7 L438.5 146.8 L438.0 146.0 L437.6 145.2 L437.1 144.3 L436.8 143.4 L436.6 142.5 L436.7 141.7 L437.0 141.0Z" fill="#3f8fcb" fill-rule="evenodd" opacity="0.75"/>
<path d="M441.0 150.8 L441.6 150.6 L442.6 150.4 L443.7 150.2 L444.9 150.2 L446.0 150.2 L447.0 150.3 L447.9 150.5 L448.8 150.9 L449.7 151.3 L450.4 151.8 L450.9 152.2 L451.0 152.6 L450.7 152.9 L450.0 153.3 L449.0 153.6 L447.9 153.9 L446.9 154.2 L446.0 154.3 L445.2 154.3 L444.5 154.3 L443.8 154.2 L443.1 154.1 L442.5 153.9 L442.0 153.6 L441.6 153.2 L441.2 152.7 L440.9 152.2 L440.7 151.6 L440.7 151.2 L441.0 150.8Z" fill="#e04a62" fill-rule="evenodd" opacity="0.9"/>
<path d="M446 152.6 C452 152.2 456 150.2 459.5 147.2" stroke="#6b4fb3" stroke-width="1.2" fill="none" opacity="0.8"/>
<path d="M314.5 219.9h1.0v1.0h-1.0zM319.0 227.9h1.0v1.0h-1.0zM371.7 206.1h1.0v1.0h-1.0zM344.8 184.5h1.0v1.0h-1.0zM384.5 194.8h1.0v1.0h-1.0zM340.1 209.2h1.0v1.0h-1.0zM330.3 203.9h1.0v1.0h-1.0zM376.9 184.4h1.0v1.0h-1.0zM351.5 223.0h1.0v1.0h-1.0zM373.4 181.8h1.0v1.0h-1.0zM336.3 194.6h1.0v1.0h-1.0zM340.0 196.2h1.0v1.0h-1.0zM388.3 196.3h1.0v1.0h-1.0zM343.9 204.4h1.0v1.0h-1.0zM348.8 224.5h1.0v1.0h-1.0zM319.6 213.6h1.0v1.0h-1.0zM349.3 214.7h1.0v1.0h-1.0zM330.6 212.7h1.0v1.0h-1.0zM378.4 204.4h1.0v1.0h-1.0zM368.7 203.8h1.0v1.0h-1.0zM366.2 203.5h1.0v1.0h-1.0zM346.6 222.9h1.0v1.0h-1.0zM337.7 211.4h1.0v1.0h-1.0zM347.4 187.6h1.0v1.0h-1.0zM301.9 212.4h1.0v1.0h-1.0zM351.8 186.2h1.0v1.0h-1.0zM358.1 176.0h1.0v1.0h-1.0zM347.7 191.4h1.0v1.0h-1.0zM333.4 221.5h1.0v1.0h-1.0zM305.5 225.7h1.0v1.0h-1.0zM315.4 221.6h1.0v1.0h-1.0zM322.3 220.4h1.0v1.0h-1.0zM334.4 190.2h1.0v1.0h-1.0zM380.0 189.1h1.0v1.0h-1.0zM344.6 208.9h1.0v1.0h-1.0zM327.4 220.7h1.0v1.0h-1.0zM346.6 209.8h1.0v1.0h-1.0zM386.7 193.8h1.0v1.0h-1.0zM367.4 201.0h1.0v1.0h-1.0zM345.9 196.5h1.0v1.0h-1.0zM321.8 221.0h1.0v1.0h-1.0zM334.1 204.1h1.0v1.0h-1.0zM343.6 222.0h1.0v1.0h-1.0zM334.1 214.0h1.0v1.0h-1.0zM365.9 202.2h1.0v1.0h-1.0zM329.6 216.1h1.0v1.0h-1.0zM384.5 191.2h1.0v1.0h-1.0zM313.5 219.2h1.0v1.0h-1.0zM317.6 212.7h1.0v1.0h-1.0zM383.5 202.5h1.0v1.0h-1.0zM338.7 214.2h1.0v1.0h-1.0zM303.3 213.5h1.0v1.0h-1.0zM340.2 235.9h1.0v1.0h-1.0zM348.9 183.7h1.0v1.0h-1.0zM301.4 211.5h1.0v1.0h-1.0zM326.3 215.0h1.0v1.0h-1.0zM360.4 217.0h1.0v1.0h-1.0zM336.1 220.0h1.0v1.0h-1.0zM364.6 207.0h1.0v1.0h-1.0zM331.2 207.6h1.0v1.0h-1.0zM355.7 179.7h1.0v1.0h-1.0zM363.0 204.6h1.0v1.0h-1.0zM347.3 237.0h1.0v1.0h-1.0zM386.1 196.5h1.0v1.0h-1.0zM331.1 214.0h1.0v1.0h-1.0zM353.8 225.0h1.0v1.0h-1.0zM357.4 178.7h1.0v1.0h-1.0zM378.4 194.4h1.0v1.0h-1.0zM315.7 208.2h1.0v1.0h-1.0zM337.4 211.4h1.0v1.0h-1.0zM302.1 218.0h1.0v1.0h-1.0zM382.4 206.9h1.0v1.0h-1.0zM379.5 206.2h1.0v1.0h-1.0zM337.6 216.1h1.0v1.0h-1.0zM338.1 195.6h1.0v1.0h-1.0zM343.4 186.8h1.0v1.0h-1.0zM347.7 201.9h1.0v1.0h-1.0zM352.0 228.7h1.0v1.0h-1.0zM388.2 195.5h1.0v1.0h-1.0zM358.9 211.5h1.0v1.0h-1.0zM332.8 230.6h1.0v1.0h-1.0zM344.3 202.1h1.0v1.0h-1.0zM334.5 215.1h1.0v1.0h-1.0zM353.1 220.2h1.0v1.0h-1.0zM356.2 177.5h1.0v1.0h-1.0zM344.1 221.7h1.0v1.0h-1.0zM319.2 219.6h1.0v1.0h-1.0zM329.6 216.7h1.0v1.0h-1.0zM364.3 212.5h1.0v1.0h-1.0zM339.3 205.1h1.0v1.0h-1.0zM385.4 195.3h1.0v1.0h-1.0zM356.4 215.7h1.0v1.0h-1.0zM332.3 193.1h1.0v1.0h-1.0zM340.5 206.2h1.0v1.0h-1.0zM319.7 227.7h1.0v1.0h-1.0zM301.6 216.3h1.0v1.0h-1.0zM352.0 211.6h1.0v1.0h-1.0zM335.9 225.4h1.0v1.0h-1.0zM317.9 220.7h1.0v1.0h-1.0zM321.4 212.9h1.0v1.0h-1.0zM351.1 229.9h1.0v1.0h-1.0zM346.1 217.9h1.0v1.0h-1.0zM331.6 227.3h1.0v1.0h-1.0zM351.4 180.3h1.0v1.0h-1.0zM363.9 207.5h1.0v1.0h-1.0zM358.9 217.3h1.0v1.0h-1.0zM334.4 228.6h1.0v1.0h-1.0zM309.8 217.7h1.0v1.0h-1.0zM333.1 233.6h1.0v1.0h-1.0zM337.6 220.0h1.0v1.0h-1.0zM349.3 194.5h1.0v1.0h-1.0zM365.3 207.3h1.0v1.0h-1.0zM378.0 185.3h1.0v1.0h-1.0zM323.6 228.0h1.0v1.0h-1.0zM354.3 224.1h1.0v1.0h-1.0zM362.2 206.2h1.0v1.0h-1.0zM338.1 217.9h1.0v1.0h-1.0zM340.2 225.6h1.0v1.0h-1.0zM304.1 215.8h1.0v1.0h-1.0zM326.1 200.9h1.0v1.0h-1.0zM334.7 222.9h1.0v1.0h-1.0zM383.1 193.6h1.0v1.0h-1.0zM324.6 227.2h1.0v1.0h-1.0zM371.3 179.6h1.0v1.0h-1.0zM350.8 209.3h1.0v1.0h-1.0zM355.1 179.3h1.0v1.0h-1.0zM367.5 173.7h1.0v1.0h-1.0zM382.4 190.2h1.0v1.0h-1.0zM335.1 227.8h1.0v1.0h-1.0zM338.4 234.3h1.0v1.0h-1.0zM340.8 220.1h1.0v1.0h-1.0zM307.3 221.8h1.0v1.0h-1.0zM343.1 237.0h1.0v1.0h-1.0zM314.7 208.9h1.0v1.0h-1.0zM356.4 215.2h1.0v1.0h-1.0zM385.7 200.5h1.0v1.0h-1.0zM339.0 224.6h1.0v1.0h-1.0zM331.2 208.0h1.0v1.0h-1.0zM310.1 207.7h1.0v1.0h-1.0zM341.9 226.3h1.0v1.0h-1.0zM354.6 224.2h1.0v1.0h-1.0zM347.4 224.8h1.0v1.0h-1.0zM323.3 218.5h1.0v1.0h-1.0zM347.4 185.5h1.0v1.0h-1.0zM357.1 215.1h1.0v1.0h-1.0zM347.7 220.4h1.0v1.0h-1.0zM345.2 209.3h1.0v1.0h-1.0zM337.2 219.4h1.0v1.0h-1.0zM376.1 204.4h1.0v1.0h-1.0zM333.1 192.7h1.0v1.0h-1.0zM329.6 228.2h1.0v1.0h-1.0zM320.0 226.2h1.0v1.0h-1.0zM315.2 212.5h1.0v1.0h-1.0zM375.3 203.6h1.0v1.0h-1.0zM372.8 202.3h1.0v1.0h-1.0zM316.4 211.8h1.0v1.0h-1.0zM330.3 218.5h1.0v1.0h-1.0zM318.0 206.2h1.0v1.0h-1.0zM333.7 217.0h1.0v1.0h-1.0zM348.7 228.2h1.0v1.0h-1.0zM346.5 185.6h1.0v1.0h-1.0zM331.6 205.0h1.0v1.0h-1.0zM335.3 217.3h1.0v1.0h-1.0zM336.4 216.4h1.0v1.0h-1.0zM341.8 187.3h1.0v1.0h-1.0zM370.6 199.4h1.0v1.0h-1.0zM332.0 227.6h1.0v1.0h-1.0zM339.5 241.1h1.0v1.0h-1.0zM384.1 202.7h1.0v1.0h-1.0zM322.9 227.1h1.0v1.0h-1.0zM312.2 208.7h1.0v1.0h-1.0zM343.5 236.6h1.0v1.0h-1.0zM366.8 177.4h1.0v1.0h-1.0zM343.7 198.6h1.0v1.0h-1.0zM353.1 212.7h1.0v1.0h-1.0zM365.3 210.4h1.0v1.0h-1.0zM382.3 188.0h1.0v1.0h-1.0zM308.1 211.5h1.0v1.0h-1.0zM343.0 196.0h1.0v1.0h-1.0zM330.5 195.3h1.0v1.0h-1.0zM342.3 217.1h1.0v1.0h-1.0zM348.9 212.1h1.0v1.0h-1.0zM327.8 221.1h1.0v1.0h-1.0zM351.5 187.1h1.0v1.0h-1.0zM363.8 176.4h1.0v1.0h-1.0zM353.0 179.3h1.0v1.0h-1.0zM375.3 196.4h1.0v1.0h-1.0zM346.3 227.7h1.0v1.0h-1.0zM342.0 227.2h1.0v1.0h-1.0zM322.1 204.0h1.0v1.0h-1.0zM321.5 218.0h1.0v1.0h-1.0zM342.3 216.6h1.0v1.0h-1.0zM314.4 207.5h1.0v1.0h-1.0zM342.5 186.3h1.0v1.0h-1.0zM357.1 217.4h1.0v1.0h-1.0zM356.3 181.8h1.0v1.0h-1.0zM326.4 196.2h1.0v1.0h-1.0zM330.1 209.0h1.0v1.0h-1.0zM377.8 186.9h1.0v1.0h-1.0zM346.8 215.7h1.0v1.0h-1.0zM353.7 210.9h1.0v1.0h-1.0zM371.0 178.3h1.0v1.0h-1.0zM346.5 231.0h1.0v1.0h-1.0zM346.0 200.1h1.0v1.0h-1.0zM357.3 177.6h1.0v1.0h-1.0zM377.5 206.5h1.0v1.0h-1.0zM337.7 186.8h1.0v1.0h-1.0zM341.7 218.6h1.0v1.0h-1.0zM315.4 221.6h1.0v1.0h-1.0zM338.7 220.3h1.0v1.0h-1.0zM342.9 229.5h1.0v1.0h-1.0zM345.4 242.2h1.0v1.0h-1.0zM343.4 213.6h1.0v1.0h-1.0zM341.9 242.6h1.0v1.0h-1.0zM350.6 229.9h1.0v1.0h-1.0zM346.1 227.7h1.0v1.0h-1.0zM333.1 218.9h1.0v1.0h-1.0zM370.7 212.9h1.0v1.0h-1.0zM301.7 217.3h1.0v1.0h-1.0zM310.0 225.6h1.0v1.0h-1.0zM314.8 222.2h1.0v1.0h-1.0zM306.2 214.0h1.0v1.0h-1.0zM335.2 214.6h1.0v1.0h-1.0zM343.5 213.9h1.0v1.0h-1.0zM311.7 219.6h1.0v1.0h-1.0zM355.3 215.0h1.0v1.0h-1.0zM331.6 197.0h1.0v1.0h-1.0zM327.0 216.2h1.0v1.0h-1.0zM306.7 216.6h1.0v1.0h-1.0zM363.2 207.6h1.0v1.0h-1.0zM327.6 203.6h1.0v1.0h-1.0zM348.9 199.8h1.0v1.0h-1.0zM330.7 200.7h1.0v1.0h-1.0zM317.6 223.1h1.0v1.0h-1.0zM386.7 194.2h1.0v1.0h-1.0zM338.5 188.3h1.0v1.0h-1.0zM332.3 212.7h1.0v1.0h-1.0zM342.5 191.4h1.0v1.0h-1.0zM327.1 200.0h1.0v1.0h-1.0zM368.0 199.7h1.0v1.0h-1.0zM336.8 217.1h1.0v1.0h-1.0zM324.4 209.0h1.0v1.0h-1.0zM317.1 214.2h1.0v1.0h-1.0zM347.8 217.1h1.0v1.0h-1.0zM384.7 200.8h1.0v1.0h-1.0zM332.4 201.6h1.0v1.0h-1.0zM346.9 213.9h1.0v1.0h-1.0zM318.9 227.5h1.0v1.0h-1.0zM331.5 214.4h1.0v1.0h-1.0zM346.2 202.6h1.0v1.0h-1.0zM386.5 200.6h1.0v1.0h-1.0zM332.9 222.8h1.0v1.0h-1.0zM350.1 233.0h1.0v1.0h-1.0zM349.4 232.5h1.0v1.0h-1.0zM336.4 230.6h1.0v1.0h-1.0zM339.5 194.1h1.0v1.0h-1.0zM344.4 240.9h1.0v1.0h-1.0zM352.4 226.0h1.0v1.0h-1.0zM311.3 217.5h1.0v1.0h-1.0zM379.6 187.7h1.0v1.0h-1.0zM341.4 188.3h1.0v1.0h-1.0zM352.1 189.9h1.0v1.0h-1.0zM335.8 199.8h1.0v1.0h-1.0zM345.4 199.1h1.0v1.0h-1.0zM370.2 176.3h1.0v1.0h-1.0zM348.4 201.5h1.0v1.0h-1.0zM385.8 201.1h1.0v1.0h-1.0zM310.1 213.1h1.0v1.0h-1.0zM346.2 189.3h1.0v1.0h-1.0zM358.5 207.2h1.0v1.0h-1.0zM329.9 213.2h1.0v1.0h-1.0zM330.3 229.6h1.0v1.0h-1.0zM349.0 233.7h1.0v1.0h-1.0zM370.5 175.4h1.0v1.0h-1.0zM325.7 201.8h1.0v1.0h-1.0zM386.7 202.8h1.0v1.0h-1.0zM373.1 198.4h1.0v1.0h-1.0zM340.8 227.6h1.0v1.0h-1.0zM323.7 220.8h1.0v1.0h-1.0zM342.1 230.1h1.0v1.0h-1.0zM370.4 210.1h1.0v1.0h-1.0zM317.1 208.0h1.0v1.0h-1.0zM325.8 209.0h1.0v1.0h-1.0zM377.9 199.3h1.0v1.0h-1.0zM367.9 178.2h1.0v1.0h-1.0zM339.4 222.8h1.0v1.0h-1.0zM381.0 190.6h1.0v1.0h-1.0zM307.7 213.9h1.0v1.0h-1.0zM323.9 230.1h1.0v1.0h-1.0zM363.2 173.7h1.0v1.0h-1.0zM333.1 213.3h1.0v1.0h-1.0zM360.0 175.6h1.0v1.0h-1.0zM382.8 200.4h1.0v1.0h-1.0zM345.6 232.6h1.0v1.0h-1.0zM302.5 223.5h1.0v1.0h-1.0zM319.3 222.1h1.0v1.0h-1.0zM369.9 200.8h1.0v1.0h-1.0zM315.4 218.7h1.0v1.0h-1.0zM370.5 201.0h1.0v1.0h-1.0zM335.9 231.6h1.0v1.0h-1.0zM331.6 203.2h1.0v1.0h-1.0zM375.0 199.0h1.0v1.0h-1.0zM347.7 230.0h1.0v1.0h-1.0zM342.6 243.3h1.0v1.0h-1.0zM350.6 214.9h1.0v1.0h-1.0zM369.6 178.7h1.0v1.0h-1.0zM334.5 234.4h1.0v1.0h-1.0zM335.1 234.7h1.0v1.0h-1.0zM372.8 209.4h1.0v1.0h-1.0zM352.3 181.8h1.0v1.0h-1.0zM346.0 191.4h1.0v1.0h-1.0zM339.2 209.9h1.0v1.0h-1.0zM362.0 215.4h1.0v1.0h-1.0zM376.5 207.9h1.0v1.0h-1.0zM363.1 178.4h1.0v1.0h-1.0zM340.8 232.5h1.0v1.0h-1.0zM317.4 220.2h1.0v1.0h-1.0zM300.9 217.5h1.0v1.0h-1.0zM371.3 203.1h1.0v1.0h-1.0zM368.9 201.5h1.0v1.0h-1.0zM340.5 231.4h1.0v1.0h-1.0zM339.6 221.0h1.0v1.0h-1.0zM370.6 205.1h1.0v1.0h-1.0zM362.3 177.1h1.0v1.0h-1.0zM347.7 215.5h1.0v1.0h-1.0zM376.5 203.4h1.0v1.0h-1.0zM374.2 210.6h1.0v1.0h-1.0zM316.8 214.8h1.0v1.0h-1.0zM373.2 200.9h1.0v1.0h-1.0zM327.6 221.5h1.0v1.0h-1.0zM327.4 204.0h1.0v1.0h-1.0zM348.4 188.5h1.0v1.0h-1.0zM342.3 230.8h1.0v1.0h-1.0zM305.5 221.2h1.0v1.0h-1.0zM319.4 225.8h1.0v1.0h-1.0zM333.1 223.7h1.0v1.0h-1.0zM348.1 224.0h1.0v1.0h-1.0zM350.8 233.8h1.0v1.0h-1.0zM381.7 206.6h1.0v1.0h-1.0zM331.9 205.4h1.0v1.0h-1.0zM301.8 214.0h1.0v1.0h-1.0zM352.9 183.7h1.0v1.0h-1.0zM365.8 174.8h1.0v1.0h-1.0zM345.0 201.5h1.0v1.0h-1.0zM300.5 211.7h1.0v1.0h-1.0zM346.5 216.7h1.0v1.0h-1.0zM363.3 212.3h1.0v1.0h-1.0zM347.9 216.5h1.0v1.0h-1.0zM347.5 212.7h1.0v1.0h-1.0zM373.3 180.9h1.0v1.0h-1.0zM342.3 236.1h1.0v1.0h-1.0zM373.7 207.5h1.0v1.0h-1.0zM324.9 219.7h1.0v1.0h-1.0zM338.4 211.5h1.0v1.0h-1.0zM334.2 210.0h1.0v1.0h-1.0zM370.5 200.8h1.0v1.0h-1.0zM349.3 195.2h1.0v1.0h-1.0zM357.4 175.1h1.0v1.0h-1.0zM323.3 209.9h1.0v1.0h-1.0zM303.6 222.3h1.0v1.0h-1.0zM341.0 225.0h1.0v1.0h-1.0zM307.1 215.2h1.0v1.0h-1.0zM342.9 229.7h1.0v1.0h-1.0zM323.0 229.9h1.0v1.0h-1.0zM322.5 229.8h1.0v1.0h-1.0zM303.9 211.3h1.0v1.0h-1.0zM301.8 220.2h1.0v1.0h-1.0zM337.0 236.7h1.0v1.0h-1.0zM334.1 231.2h1.0v1.0h-1.0zM369.1 212.9h1.0v1.0h-1.0zM313.5 206.9h1.0v1.0h-1.0zM346.0 199.8h1.0v1.0h-1.0zM308.6 210.0h1.0v1.0h-1.0zM342.5 226.3h1.0v1.0h-1.0zM318.4 212.9h1.0v1.0h-1.0zM318.3 218.1h1.0v1.0h-1.0zM336.9 202.0h1.0v1.0h-1.0zM304.1 215.2h1.0v1.0h-1.0zM308.8 214.7h1.0v1.0h-1.0zM372.2 176.8h1.0v1.0h-1.0zM367.2 175.0h1.0v1.0h-1.0zM378.3 196.5h1.0v1.0h-1.0zM386.6 198.4h1.0v1.0h-1.0zM319.3 204.6h1.0v1.0h-1.0zM366.6 208.0h1.0v1.0h-1.0zM340.4 228.8h1.0v1.0h-1.0zM329.8 194.8h1.0v1.0h-1.0zM348.5 188.7h1.0v1.0h-1.0zM340.4 187.5h1.0v1.0h-1.0zM339.1 228.4h1.0v1.0h-1.0zM342.9 190.0h1.0v1.0h-1.0zM343.7 214.7h1.0v1.0h-1.0zM346.5 217.8h1.0v1.0h-1.0zM352.5 223.3h1.0v1.0h-1.0zM338.4 237.2h1.0v1.0h-1.0zM368.1 205.5h1.0v1.0h-1.0zM350.6 228.9h1.0v1.0h-1.0zM344.2 205.6h1.0v1.0h-1.0zM347.8 220.7h1.0v1.0h-1.0zM373.0 208.2h1.0v1.0h-1.0zM354.2 213.9h1.0v1.0h-1.0zM350.6 223.4h1.0v1.0h-1.0zM331.2 228.6h1.0v1.0h-1.0zM349.3 218.0h1.0v1.0h-1.0zM332.8 217.7h1.0v1.0h-1.0zM355.6 211.7h1.0v1.0h-1.0zM372.5 176.7h1.0v1.0h-1.0zM333.1 199.7h1.0v1.0h-1.0zM344.8 186.2h1.0v1.0h-1.0zM344.3 238.6h1.0v1.0h-1.0zM350.6 213.9h1.0v1.0h-1.0zM326.0 222.9h1.0v1.0h-1.0zM343.8 206.8h1.0v1.0h-1.0zM359.4 215.9h1.0v1.0h-1.0zM335.3 213.3h1.0v1.0h-1.0zM340.4 223.1h1.0v1.0h-1.0zM348.0 206.0h1.0v1.0h-1.0zM353.8 225.1h1.0v1.0h-1.0zM332.9 215.8h1.0v1.0h-1.0zM336.8 234.1h1.0v1.0h-1.0zM334.1 231.2h1.0v1.0h-1.0zM345.0 192.7h1.0v1.0h-1.0zM342.0 226.6h1.0v1.0h-1.0zM338.8 207.5h1.0v1.0h-1.0zM311.9 213.3h1.0v1.0h-1.0zM336.2 194.3h1.0v1.0h-1.0zM318.6 212.2h1.0v1.0h-1.0zM373.6 207.7h1.0v1.0h-1.0zM332.4 212.9h1.0v1.0h-1.0zM303.3 223.6h1.0v1.0h-1.0zM342.0 237.8h1.0v1.0h-1.0zM307.9 216.7h1.0v1.0h-1.0zM331.3 205.0h1.0v1.0h-1.0zM346.6 213.0h1.0v1.0h-1.0zM361.3 210.5h1.0v1.0h-1.0zM350.6 192.1h1.0v1.0h-1.0zM366.7 172.7h1.0v1.0h-1.0zM369.9 200.2h1.0v1.0h-1.0zM338.7 208.8h1.0v1.0h-1.0zM341.9 201.9h1.0v1.0h-1.0zM315.4 208.8h1.0v1.0h-1.0zM345.9 217.7h1.0v1.0h-1.0zM346.8 210.5h1.0v1.0h-1.0zM351.7 187.0h1.0v1.0h-1.0zM326.0 202.8h1.0v1.0h-1.0zM386.9 195.6h1.0v1.0h-1.0zM366.4 177.0h1.0v1.0h-1.0zM307.6 220.0h1.0v1.0h-1.0zM338.6 228.5h1.0v1.0h-1.0zM353.0 183.4h1.0v1.0h-1.0zM318.0 223.4h1.0v1.0h-1.0zM349.0 201.9h1.0v1.0h-1.0zM348.9 213.7h1.0v1.0h-1.0zM329.5 200.0h1.0v1.0h-1.0zM328.0 204.8h1.0v1.0h-1.0zM339.4 219.0h1.0v1.0h-1.0zM309.7 211.1h1.0v1.0h-1.0zM332.9 234.4h1.0v1.0h-1.0zM328.4 232.6h1.0v1.0h-1.0zM333.7 194.5h1.0v1.0h-1.0zM352.2 224.3h1.0v1.0h-1.0zM305.2 216.6h1.0v1.0h-1.0zM345.1 193.3h1.0v1.0h-1.0zM332.3 230.1h1.0v1.0h-1.0zM369.2 202.2h1.0v1.0h-1.0zM331.1 207.5h1.0v1.0h-1.0zM347.3 205.0h1.0v1.0h-1.0zM367.3 202.4h1.0v1.0h-1.0zM322.4 220.5h1.0v1.0h-1.0zM380.3 203.6h1.0v1.0h-1.0zM341.4 209.8h1.0v1.0h-1.0zM310.8 222.0h1.0v1.0h-1.0zM340.1 231.7h1.0v1.0h-1.0zM385.8 197.1h1.0v1.0h-1.0zM338.4 199.2h1.0v1.0h-1.0zM342.6 226.1h1.0v1.0h-1.0zM357.3 218.8h1.0v1.0h-1.0zM335.5 232.7h1.0v1.0h-1.0zM324.5 208.0h1.0v1.0h-1.0zM349.5 233.0h1.0v1.0h-1.0zM329.8 223.5h1.0v1.0h-1.0zM364.4 202.2h1.0v1.0h-1.0zM334.1 216.2h1.0v1.0h-1.0zM376.6 205.9h1.0v1.0h-1.0zM335.4 219.3h1.0v1.0h-1.0zM312.2 219.7h1.0v1.0h-1.0zM360.5 214.3h1.0v1.0h-1.0zM325.6 198.6h1.0v1.0h-1.0zM323.8 227.4h1.0v1.0h-1.0zM356.0 212.9h1.0v1.0h-1.0zM302.4 217.9h1.0v1.0h-1.0zM313.4 219.0h1.0v1.0h-1.0zM328.6 214.6h1.0v1.0h-1.0zM359.3 209.4h1.0v1.0h-1.0zM318.8 227.7h1.0v1.0h-1.0zM316.1 218.8h1.0v1.0h-1.0zM342.7 192.2h1.0v1.0h-1.0zM333.9 231.3h1.0v1.0h-1.0zM351.1 215.5h1.0v1.0h-1.0zM359.5 209.3h1.0v1.0h-1.0zM364.5 209.5h1.0v1.0h-1.0zM304.4 215.4h1.0v1.0h-1.0zM346.2 189.2h1.0v1.0h-1.0zM326.1 212.6h1.0v1.0h-1.0zM349.5 236.6h1.0v1.0h-1.0zM329.3 195.6h1.0v1.0h-1.0zM342.7 231.2h1.0v1.0h-1.0zM332.4 202.6h1.0v1.0h-1.0zM371.3 201.1h1.0v1.0h-1.0zM379.6 187.8h1.0v1.0h-1.0zM341.2 242.6h1.0v1.0h-1.0zM344.3 222.3h1.0v1.0h-1.0zM337.7 217.6h1.0v1.0h-1.0zM380.6 200.1h1.0v1.0h-1.0zM370.1 211.8h1.0v1.0h-1.0zM358.9 174.7h1.0v1.0h-1.0zM332.9 228.3h1.0v1.0h-1.0zM324.8 206.9h1.0v1.0h-1.0zM323.8 199.9h1.0v1.0h-1.0zM367.3 200.5h1.0v1.0h-1.0zM349.1 228.5h1.0v1.0h-1.0zM327.3 218.6h1.0v1.0h-1.0zM332.1 216.9h1.0v1.0h-1.0zM351.1 212.1h1.0v1.0h-1.0zM338.0 198.8h1.0v1.0h-1.0zM310.9 216.5h1.0v1.0h-1.0zM379.7 198.7h1.0v1.0h-1.0zM309.4 214.7h1.0v1.0h-1.0zM335.4 196.1h1.0v1.0h-1.0zM379.6 189.4h1.0v1.0h-1.0zM313.6 207.5h1.0v1.0h-1.0z" fill="#a8dde4"/>
<path d="M348.6 193.1h1.0v1.0h-1.0zM345.2 192.9h1.0v1.0h-1.0zM336.1 227.9h1.0v1.0h-1.0zM349.9 181.4h1.0v1.0h-1.0zM345.4 183.2h1.0v1.0h-1.0zM336.4 227.4h1.0v1.0h-1.0zM345.7 224.8h1.0v1.0h-1.0zM367.1 211.9h1.0v1.0h-1.0zM336.7 217.2h1.0v1.0h-1.0zM341.3 239.1h1.0v1.0h-1.0zM350.8 190.7h1.0v1.0h-1.0zM325.4 218.6h1.0v1.0h-1.0zM338.5 195.6h1.0v1.0h-1.0zM344.3 235.9h1.0v1.0h-1.0zM341.7 216.5h1.0v1.0h-1.0zM315.3 216.7h1.0v1.0h-1.0zM357.9 179.1h1.0v1.0h-1.0zM302.6 215.9h1.0v1.0h-1.0zM304.5 208.9h1.0v1.0h-1.0zM386.3 202.3h1.0v1.0h-1.0zM310.2 220.9h1.0v1.0h-1.0zM353.4 222.1h1.0v1.0h-1.0zM332.7 229.9h1.0v1.0h-1.0zM329.7 196.6h1.0v1.0h-1.0zM326.4 217.5h1.0v1.0h-1.0zM332.3 217.1h1.0v1.0h-1.0zM310.8 220.4h1.0v1.0h-1.0zM371.3 179.7h1.0v1.0h-1.0zM347.2 214.2h1.0v1.0h-1.0zM321.6 221.8h1.0v1.0h-1.0zM377.3 183.0h1.0v1.0h-1.0zM344.6 234.4h1.0v1.0h-1.0zM321.4 215.0h1.0v1.0h-1.0zM341.9 189.9h1.0v1.0h-1.0zM379.3 199.2h1.0v1.0h-1.0zM309.7 214.7h1.0v1.0h-1.0zM354.0 217.9h1.0v1.0h-1.0zM307.3 216.6h1.0v1.0h-1.0zM347.3 233.9h1.0v1.0h-1.0zM358.3 176.3h1.0v1.0h-1.0zM329.7 194.2h1.0v1.0h-1.0zM351.5 220.5h1.0v1.0h-1.0zM320.9 201.0h1.0v1.0h-1.0zM344.4 188.3h1.0v1.0h-1.0zM327.6 197.9h1.0v1.0h-1.0zM348.0 208.3h1.0v1.0h-1.0zM345.7 183.2h1.0v1.0h-1.0zM367.5 208.3h1.0v1.0h-1.0zM380.0 192.1h1.0v1.0h-1.0zM330.7 216.7h1.0v1.0h-1.0zM343.2 227.9h1.0v1.0h-1.0zM344.0 231.0h1.0v1.0h-1.0zM328.6 193.3h1.0v1.0h-1.0zM363.5 213.8h1.0v1.0h-1.0zM343.2 232.3h1.0v1.0h-1.0zM342.4 218.9h1.0v1.0h-1.0zM333.9 194.7h1.0v1.0h-1.0zM329.4 195.4h1.0v1.0h-1.0zM348.8 187.9h1.0v1.0h-1.0zM345.1 187.3h1.0v1.0h-1.0zM328.8 222.7h1.0v1.0h-1.0zM339.8 215.6h1.0v1.0h-1.0zM341.1 186.2h1.0v1.0h-1.0zM368.8 169.7h1.0v1.0h-1.0zM321.4 222.6h1.0v1.0h-1.0zM337.3 232.8h1.0v1.0h-1.0zM373.4 210.4h1.0v1.0h-1.0zM373.4 177.9h1.0v1.0h-1.0zM379.7 206.4h1.0v1.0h-1.0zM366.7 209.9h1.0v1.0h-1.0zM313.6 207.9h1.0v1.0h-1.0zM347.8 208.3h1.0v1.0h-1.0zM304.7 217.9h1.0v1.0h-1.0zM328.6 204.1h1.0v1.0h-1.0zM332.6 207.6h1.0v1.0h-1.0zM387.4 199.1h1.0v1.0h-1.0zM338.2 191.7h1.0v1.0h-1.0zM302.7 219.9h1.0v1.0h-1.0zM323.8 215.5h1.0v1.0h-1.0zM329.8 225.6h1.0v1.0h-1.0zM384.5 200.6h1.0v1.0h-1.0zM350.7 234.3h1.0v1.0h-1.0zM352.9 224.0h1.0v1.0h-1.0zM328.6 193.9h1.0v1.0h-1.0zM336.8 188.5h1.0v1.0h-1.0zM306.2 223.9h1.0v1.0h-1.0zM300.6 213.8h1.0v1.0h-1.0zM307.0 214.4h1.0v1.0h-1.0zM317.8 219.1h1.0v1.0h-1.0zM355.1 217.7h1.0v1.0h-1.0zM335.3 187.8h1.0v1.0h-1.0zM353.1 223.5h1.0v1.0h-1.0zM317.2 218.2h1.0v1.0h-1.0zM309.0 226.7h1.0v1.0h-1.0zM320.9 218.7h1.0v1.0h-1.0zM330.5 215.4h1.0v1.0h-1.0zM324.0 199.1h1.0v1.0h-1.0zM338.1 186.7h1.0v1.0h-1.0zM373.6 200.1h1.0v1.0h-1.0zM343.2 215.0h1.0v1.0h-1.0zM330.8 199.8h1.0v1.0h-1.0zM372.1 178.4h1.0v1.0h-1.0zM350.0 218.2h1.0v1.0h-1.0zM317.7 225.9h1.0v1.0h-1.0zM382.8 202.2h1.0v1.0h-1.0zM308.5 224.9h1.0v1.0h-1.0zM328.1 218.1h1.0v1.0h-1.0zM329.7 220.0h1.0v1.0h-1.0zM362.0 174.0h1.0v1.0h-1.0zM346.7 235.1h1.0v1.0h-1.0zM367.6 209.3h1.0v1.0h-1.0zM321.3 200.4h1.0v1.0h-1.0zM336.8 225.7h1.0v1.0h-1.0zM340.4 208.8h1.0v1.0h-1.0zM324.4 202.7h1.0v1.0h-1.0zM328.0 224.8h1.0v1.0h-1.0zM375.2 181.1h1.0v1.0h-1.0zM384.9 191.9h1.0v1.0h-1.0zM350.5 217.9h1.0v1.0h-1.0zM315.8 213.3h1.0v1.0h-1.0zM312.0 221.5h1.0v1.0h-1.0zM318.5 220.9h1.0v1.0h-1.0zM308.9 210.4h1.0v1.0h-1.0zM378.9 189.5h1.0v1.0h-1.0zM345.8 204.3h1.0v1.0h-1.0zM326.5 201.6h1.0v1.0h-1.0zM381.6 191.0h1.0v1.0h-1.0zM362.8 215.9h1.0v1.0h-1.0zM304.7 224.4h1.0v1.0h-1.0zM314.2 226.1h1.0v1.0h-1.0zM343.5 195.4h1.0v1.0h-1.0zM337.7 231.3h1.0v1.0h-1.0zM344.2 221.8h1.0v1.0h-1.0zM348.2 222.6h1.0v1.0h-1.0zM342.5 197.6h1.0v1.0h-1.0zM358.7 176.6h1.0v1.0h-1.0zM309.9 226.6h1.0v1.0h-1.0zM340.6 242.1h1.0v1.0h-1.0zM376.4 198.4h1.0v1.0h-1.0zM347.3 220.9h1.0v1.0h-1.0zM348.1 201.5h1.0v1.0h-1.0zM349.2 182.2h1.0v1.0h-1.0zM324.4 211.5h1.0v1.0h-1.0zM348.3 234.8h1.0v1.0h-1.0zM345.5 185.1h1.0v1.0h-1.0zM367.7 168.7h1.0v1.0h-1.0zM332.0 225.3h1.0v1.0h-1.0zM349.5 224.1h1.0v1.0h-1.0zM338.1 223.8h1.0v1.0h-1.0zM387.8 199.3h1.0v1.0h-1.0zM371.4 175.7h1.0v1.0h-1.0zM350.7 229.1h1.0v1.0h-1.0zM321.1 214.7h1.0v1.0h-1.0zM348.0 231.0h1.0v1.0h-1.0zM323.2 217.2h1.0v1.0h-1.0zM333.6 198.6h1.0v1.0h-1.0zM335.7 208.8h1.0v1.0h-1.0zM381.9 190.2h1.0v1.0h-1.0zM352.1 220.5h1.0v1.0h-1.0zM332.4 218.8h1.0v1.0h-1.0zM378.7 193.4h1.0v1.0h-1.0zM370.1 175.8h1.0v1.0h-1.0zM329.7 218.2h1.0v1.0h-1.0zM363.4 205.5h1.0v1.0h-1.0zM349.5 211.1h1.0v1.0h-1.0zM339.2 190.4h1.0v1.0h-1.0zM379.2 200.9h1.0v1.0h-1.0zM314.9 207.2h1.0v1.0h-1.0zM333.5 219.2h1.0v1.0h-1.0zM339.1 239.1h1.0v1.0h-1.0zM377.0 209.9h1.0v1.0h-1.0zM350.1 228.8h1.0v1.0h-1.0zM352.4 219.3h1.0v1.0h-1.0zM363.1 214.9h1.0v1.0h-1.0zM318.6 210.3h1.0v1.0h-1.0zM329.7 232.3h1.0v1.0h-1.0zM316.6 223.9h1.0v1.0h-1.0zM351.9 223.3h1.0v1.0h-1.0zM353.6 211.4h1.0v1.0h-1.0zM376.8 207.7h1.0v1.0h-1.0zM334.1 203.1h1.0v1.0h-1.0zM352.8 185.3h1.0v1.0h-1.0zM376.2 206.8h1.0v1.0h-1.0zM337.5 203.0h1.0v1.0h-1.0zM335.2 192.0h1.0v1.0h-1.0zM329.6 229.0h1.0v1.0h-1.0zM344.3 213.0h1.0v1.0h-1.0zM346.1 192.4h1.0v1.0h-1.0zM350.5 228.0h1.0v1.0h-1.0zM345.2 221.5h1.0v1.0h-1.0zM357.2 217.3h1.0v1.0h-1.0zM310.9 209.8h1.0v1.0h-1.0zM349.8 192.1h1.0v1.0h-1.0zM382.8 195.0h1.0v1.0h-1.0zM345.4 238.8h1.0v1.0h-1.0zM357.3 210.5h1.0v1.0h-1.0zM369.0 176.7h1.0v1.0h-1.0zM333.6 215.1h1.0v1.0h-1.0zM311.2 219.6h1.0v1.0h-1.0zM328.5 225.0h1.0v1.0h-1.0zM310.3 220.2h1.0v1.0h-1.0zM338.9 191.0h1.0v1.0h-1.0zM353.5 227.2h1.0v1.0h-1.0zM331.4 231.9h1.0v1.0h-1.0zM316.2 208.0h1.0v1.0h-1.0zM307.5 215.9h1.0v1.0h-1.0zM334.7 210.7h1.0v1.0h-1.0zM355.7 182.3h1.0v1.0h-1.0zM331.2 227.9h1.0v1.0h-1.0zM367.6 170.3h1.0v1.0h-1.0zM371.4 204.6h1.0v1.0h-1.0zM370.2 167.9h1.0v1.0h-1.0z" fill="#fff"/>
<path d="M451.5 140.6h1.0v1.0h-1.0zM449.9 152.5h1.0v1.0h-1.0zM458.4 145.6h1.0v1.0h-1.0zM441.2 137.5h1.0v1.0h-1.0zM457.4 145.4h1.0v1.0h-1.0zM460.8 145.1h1.0v1.0h-1.0zM452.9 146.0h1.0v1.0h-1.0zM441.3 149.5h1.0v1.0h-1.0zM460.6 146.8h1.0v1.0h-1.0zM451.9 137.4h1.0v1.0h-1.0zM433.4 144.4h1.0v1.0h-1.0zM447.1 144.1h1.0v1.0h-1.0zM444.2 147.0h1.0v1.0h-1.0zM459.4 139.8h1.0v1.0h-1.0zM443.1 145.4h1.0v1.0h-1.0zM440.8 145.7h1.0v1.0h-1.0zM448.2 142.4h1.0v1.0h-1.0zM452.1 144.3h1.0v1.0h-1.0zM442.6 142.4h1.0v1.0h-1.0zM444.0 152.5h1.0v1.0h-1.0zM460.5 144.0h1.0v1.0h-1.0zM443.9 135.6h1.0v1.0h-1.0zM448.3 140.7h1.0v1.0h-1.0zM441.7 140.9h1.0v1.0h-1.0zM448.0 149.8h1.0v1.0h-1.0zM451.3 137.7h1.0v1.0h-1.0zM444.2 150.4h1.0v1.0h-1.0zM459.6 142.9h1.0v1.0h-1.0zM457.3 143.7h1.0v1.0h-1.0zM447.6 145.5h1.0v1.0h-1.0zM446.1 148.4h1.0v1.0h-1.0zM451.2 140.8h1.0v1.0h-1.0zM455.4 150.2h1.0v1.0h-1.0zM432.4 143.7h1.0v1.0h-1.0zM450.9 140.5h1.0v1.0h-1.0zM437.0 147.6h1.0v1.0h-1.0zM444.9 139.1h1.0v1.0h-1.0zM442.5 136.0h1.0v1.0h-1.0zM438.4 138.8h1.0v1.0h-1.0zM440.2 135.6h1.0v1.0h-1.0zM446.0 137.8h1.0v1.0h-1.0zM442.2 148.5h1.0v1.0h-1.0zM433.0 141.3h1.0v1.0h-1.0zM438.0 143.5h1.0v1.0h-1.0zM443.4 148.8h1.0v1.0h-1.0zM453.5 143.0h1.0v1.0h-1.0zM439.4 138.3h1.0v1.0h-1.0zM439.9 134.9h1.0v1.0h-1.0zM451.9 136.8h1.0v1.0h-1.0zM458.6 146.7h1.0v1.0h-1.0zM433.6 143.7h1.0v1.0h-1.0z" fill="#fff"/>
<path d="M306.2 225.8h1.0v1.0h-1.0zM313.5 228.8h1.0v1.0h-1.0zM368.6 214.3h1.0v1.0h-1.0zM383.0 207.9h1.0v1.0h-1.0zM340.2 185.4h1.0v1.0h-1.0zM346.5 181.8h1.0v1.0h-1.0zM306.2 206.3h1.0v1.0h-1.0zM350.9 235.9h1.0v1.0h-1.0zM385.4 203.8h1.0v1.0h-1.0zM372.1 172.1h1.0v1.0h-1.0zM337.5 239.8h1.0v1.0h-1.0zM354.9 223.2h1.0v1.0h-1.0zM299.9 216.9h1.0v1.0h-1.0zM341.6 244.1h1.0v1.0h-1.0zM372.8 211.4h1.0v1.0h-1.0zM365.6 168.2h1.0v1.0h-1.0zM387.7 195.5h1.0v1.0h-1.0zM368.9 214.1h1.0v1.0h-1.0zM357.8 221.0h1.0v1.0h-1.0zM336.9 186.4h1.0v1.0h-1.0zM330.4 235.4h1.0v1.0h-1.0zM323.3 195.7h1.0v1.0h-1.0zM309.8 206.6h1.0v1.0h-1.0zM372.4 211.1h1.0v1.0h-1.0zM369.4 166.2h1.0v1.0h-1.0zM360.7 172.2h1.0v1.0h-1.0zM338.4 240.9h1.0v1.0h-1.0zM353.6 175.4h1.0v1.0h-1.0zM337.6 239.4h1.0v1.0h-1.0zM327.9 233.7h1.0v1.0h-1.0zM378.5 207.7h1.0v1.0h-1.0zM367.7 212.9h1.0v1.0h-1.0zM335.6 189.5h1.0v1.0h-1.0zM314.1 206.3h1.0v1.0h-1.0zM306.1 208.6h1.0v1.0h-1.0zM351.1 229.7h1.0v1.0h-1.0zM334.0 235.2h1.0v1.0h-1.0zM379.8 206.6h1.0v1.0h-1.0zM344.4 243.4h1.0v1.0h-1.0zM299.8 216.0h1.0v1.0h-1.0zM340.0 184.2h1.0v1.0h-1.0zM388.3 193.0h1.0v1.0h-1.0zM304.5 224.4h1.0v1.0h-1.0zM344.7 181.7h1.0v1.0h-1.0zM383.2 207.6h1.0v1.0h-1.0zM379.0 207.8h1.0v1.0h-1.0zM353.0 177.0h1.0v1.0h-1.0zM311.2 228.0h1.0v1.0h-1.0zM369.4 168.7h1.0v1.0h-1.0zM332.2 234.0h1.0v1.0h-1.0zM352.7 230.5h1.0v1.0h-1.0zM351.0 231.3h1.0v1.0h-1.0zM358.3 220.5h1.0v1.0h-1.0zM362.4 171.7h1.0v1.0h-1.0zM339.5 242.0h1.0v1.0h-1.0zM377.6 208.4h1.0v1.0h-1.0zM323.4 198.0h1.0v1.0h-1.0zM369.8 166.4h1.0v1.0h-1.0zM326.4 232.9h1.0v1.0h-1.0zM300.3 222.0h1.0v1.0h-1.0zM375.3 210.6h1.0v1.0h-1.0zM349.5 179.9h1.0v1.0h-1.0zM388.4 194.5h1.0v1.0h-1.0zM350.7 238.5h1.0v1.0h-1.0zM372.1 177.1h1.0v1.0h-1.0zM330.3 193.3h1.0v1.0h-1.0zM343.2 185.0h1.0v1.0h-1.0zM335.8 187.3h1.0v1.0h-1.0zM380.9 184.6h1.0v1.0h-1.0zM351.4 233.2h1.0v1.0h-1.0zM352.2 230.7h1.0v1.0h-1.0zM376.7 210.0h1.0v1.0h-1.0zM363.7 172.8h1.0v1.0h-1.0zM320.3 202.4h1.0v1.0h-1.0zM320.4 228.9h1.0v1.0h-1.0zM338.8 240.8h1.0v1.0h-1.0zM365.8 216.2h1.0v1.0h-1.0zM367.2 168.0h1.0v1.0h-1.0zM364.9 172.3h1.0v1.0h-1.0zM370.9 168.0h1.0v1.0h-1.0zM378.7 185.8h1.0v1.0h-1.0zM388.4 196.4h1.0v1.0h-1.0zM353.3 176.3h1.0v1.0h-1.0zM318.9 200.6h1.0v1.0h-1.0zM356.1 176.6h1.0v1.0h-1.0zM388.6 203.1h1.0v1.0h-1.0zM387.9 192.2h1.0v1.0h-1.0zM374.5 211.4h1.0v1.0h-1.0zM321.2 230.2h1.0v1.0h-1.0zM322.8 231.1h1.0v1.0h-1.0zM300.3 213.9h1.0v1.0h-1.0zM311.0 208.2h1.0v1.0h-1.0zM357.9 173.8h1.0v1.0h-1.0zM331.2 192.5h1.0v1.0h-1.0zM320.4 201.5h1.0v1.0h-1.0zM374.8 181.0h1.0v1.0h-1.0zM361.4 171.0h1.0v1.0h-1.0zM307.7 227.1h1.0v1.0h-1.0zM336.1 189.2h1.0v1.0h-1.0zM308.2 228.8h1.0v1.0h-1.0zM304.9 208.1h1.0v1.0h-1.0zM329.5 193.4h1.0v1.0h-1.0zM387.4 194.5h1.0v1.0h-1.0zM373.2 210.8h1.0v1.0h-1.0zM330.0 233.4h1.0v1.0h-1.0zM368.9 214.6h1.0v1.0h-1.0zM327.2 192.6h1.0v1.0h-1.0zM321.4 230.5h1.0v1.0h-1.0zM381.1 185.9h1.0v1.0h-1.0zM362.2 217.1h1.0v1.0h-1.0zM321.3 229.6h1.0v1.0h-1.0zM370.6 173.4h1.0v1.0h-1.0zM344.3 241.3h1.0v1.0h-1.0zM366.7 170.6h1.0v1.0h-1.0zM301.4 214.3h1.0v1.0h-1.0zM326.8 194.1h1.0v1.0h-1.0zM339.7 240.9h1.0v1.0h-1.0zM310.0 207.0h1.0v1.0h-1.0zM347.9 238.1h1.0v1.0h-1.0zM381.8 208.3h1.0v1.0h-1.0zM378.2 181.7h1.0v1.0h-1.0zM366.6 168.8h1.0v1.0h-1.0zM329.7 233.3h1.0v1.0h-1.0zM379.1 183.5h1.0v1.0h-1.0zM367.0 169.5h1.0v1.0h-1.0zM384.8 189.0h1.0v1.0h-1.0zM329.9 233.5h1.0v1.0h-1.0zM300.6 217.6h1.0v1.0h-1.0zM361.5 217.8h1.0v1.0h-1.0zM364.2 214.8h1.0v1.0h-1.0zM300.3 214.2h1.0v1.0h-1.0zM382.4 186.0h1.0v1.0h-1.0zM325.4 232.0h1.0v1.0h-1.0zM374.7 177.0h1.0v1.0h-1.0zM308.7 207.1h1.0v1.0h-1.0zM300.9 215.7h1.0v1.0h-1.0zM350.2 235.3h1.0v1.0h-1.0zM357.0 173.6h1.0v1.0h-1.0zM366.8 216.5h1.0v1.0h-1.0zM369.4 213.6h1.0v1.0h-1.0zM380.3 209.5h1.0v1.0h-1.0zM317.0 206.0h1.0v1.0h-1.0zM330.6 192.1h1.0v1.0h-1.0zM365.7 170.3h1.0v1.0h-1.0zM343.7 242.9h1.0v1.0h-1.0zM382.6 207.9h1.0v1.0h-1.0zM369.3 169.5h1.0v1.0h-1.0zM356.1 174.4h1.0v1.0h-1.0zM388.3 200.2h1.0v1.0h-1.0zM335.5 239.1h1.0v1.0h-1.0zM299.3 219.1h1.0v1.0h-1.0zM336.2 238.6h1.0v1.0h-1.0zM311.3 229.0h1.0v1.0h-1.0zM351.0 230.2h1.0v1.0h-1.0zM355.6 226.0h1.0v1.0h-1.0zM306.6 225.8h1.0v1.0h-1.0zM324.2 198.1h1.0v1.0h-1.0zM317.2 202.8h1.0v1.0h-1.0zM335.5 237.3h1.0v1.0h-1.0zM301.5 220.1h1.0v1.0h-1.0zM386.7 204.6h1.0v1.0h-1.0zM372.2 210.6h1.0v1.0h-1.0zM355.3 220.2h1.0v1.0h-1.0zM341.8 185.7h1.0v1.0h-1.0zM348.4 241.0h1.0v1.0h-1.0zM329.5 234.8h1.0v1.0h-1.0zM344.9 181.4h1.0v1.0h-1.0zM355.9 224.9h1.0v1.0h-1.0zM298.5 215.9h1.0v1.0h-1.0zM332.8 235.0h1.0v1.0h-1.0zM373.6 211.4h1.0v1.0h-1.0zM334.8 237.1h1.0v1.0h-1.0zM329.7 193.5h1.0v1.0h-1.0zM370.5 171.2h1.0v1.0h-1.0zM385.0 203.4h1.0v1.0h-1.0zM377.7 184.9h1.0v1.0h-1.0zM318.2 202.6h1.0v1.0h-1.0zM353.7 226.2h1.0v1.0h-1.0zM327.0 233.4h1.0v1.0h-1.0zM333.9 235.7h1.0v1.0h-1.0zM329.1 191.3h1.0v1.0h-1.0zM369.8 211.8h1.0v1.0h-1.0zM363.7 216.8h1.0v1.0h-1.0zM386.1 202.5h1.0v1.0h-1.0zM384.1 205.7h1.0v1.0h-1.0zM367.6 213.0h1.0v1.0h-1.0zM334.7 236.2h1.0v1.0h-1.0zM356.1 175.6h1.0v1.0h-1.0zM329.8 232.9h1.0v1.0h-1.0zM302.8 221.0h1.0v1.0h-1.0zM326.8 194.6h1.0v1.0h-1.0zM371.7 172.2h1.0v1.0h-1.0zM386.7 201.0h1.0v1.0h-1.0zM339.0 243.6h1.0v1.0h-1.0zM351.8 177.6h1.0v1.0h-1.0zM315.1 227.5h1.0v1.0h-1.0zM333.2 189.7h1.0v1.0h-1.0zM351.1 176.8h1.0v1.0h-1.0zM367.7 212.8h1.0v1.0h-1.0zM339.1 240.8h1.0v1.0h-1.0zM331.9 190.8h1.0v1.0h-1.0zM358.0 218.7h1.0v1.0h-1.0zM385.3 188.9h1.0v1.0h-1.0zM304.3 227.0h1.0v1.0h-1.0zM346.4 241.5h1.0v1.0h-1.0zM337.6 241.1h1.0v1.0h-1.0zM320.0 200.4h1.0v1.0h-1.0zM387.7 197.0h1.0v1.0h-1.0zM376.3 182.6h1.0v1.0h-1.0zM372.1 176.9h1.0v1.0h-1.0zM336.6 188.5h1.0v1.0h-1.0zM300.7 223.8h1.0v1.0h-1.0zM322.0 228.7h1.0v1.0h-1.0zM353.1 232.1h1.0v1.0h-1.0zM346.5 239.8h1.0v1.0h-1.0zM360.1 216.7h1.0v1.0h-1.0zM302.4 222.5h1.0v1.0h-1.0zM304.5 227.8h1.0v1.0h-1.0zM363.2 171.7h1.0v1.0h-1.0zM383.3 204.7h1.0v1.0h-1.0zM358.4 218.9h1.0v1.0h-1.0zM361.2 216.1h1.0v1.0h-1.0zM375.5 182.1h1.0v1.0h-1.0zM366.8 215.3h1.0v1.0h-1.0zM371.5 167.3h1.0v1.0h-1.0zM302.7 207.9h1.0v1.0h-1.0zM362.8 170.4h1.0v1.0h-1.0zM389.2 198.3h1.0v1.0h-1.0zM305.7 226.0h1.0v1.0h-1.0zM353.6 224.7h1.0v1.0h-1.0zM357.3 173.2h1.0v1.0h-1.0zM364.9 216.9h1.0v1.0h-1.0zM299.7 213.2h1.0v1.0h-1.0zM314.9 228.1h1.0v1.0h-1.0zM320.7 200.7h1.0v1.0h-1.0zM352.7 231.9h1.0v1.0h-1.0zM305.9 225.4h1.0v1.0h-1.0zM351.1 229.7h1.0v1.0h-1.0zM298.7 213.6h1.0v1.0h-1.0zM346.9 239.4h1.0v1.0h-1.0zM347.7 240.5h1.0v1.0h-1.0zM379.4 208.3h1.0v1.0h-1.0zM322.7 231.8h1.0v1.0h-1.0zM373.1 175.9h1.0v1.0h-1.0zM335.0 239.4h1.0v1.0h-1.0zM315.3 205.1h1.0v1.0h-1.0zM324.3 196.3h1.0v1.0h-1.0zM319.7 229.2h1.0v1.0h-1.0zM322.1 199.4h1.0v1.0h-1.0zM369.8 166.4h1.0v1.0h-1.0zM344.5 243.0h1.0v1.0h-1.0zM346.8 240.2h1.0v1.0h-1.0zM323.4 229.6h1.0v1.0h-1.0zM311.0 227.1h1.0v1.0h-1.0zM359.6 173.5h1.0v1.0h-1.0zM339.9 241.4h1.0v1.0h-1.0zM346.7 239.2h1.0v1.0h-1.0zM329.2 233.3h1.0v1.0h-1.0zM358.5 221.1h1.0v1.0h-1.0zM387.8 196.4h1.0v1.0h-1.0z" fill="#41b4c3"/>
<path d="M442.7 153.0h1.0v1.0h-1.0zM448.3 135.1h1.0v1.0h-1.0zM449.3 134.6h1.0v1.0h-1.0zM441.8 134.7h1.0v1.0h-1.0zM446.2 134.1h1.0v1.0h-1.0zM442.0 152.9h1.0v1.0h-1.0zM460.3 145.7h1.0v1.0h-1.0zM434.2 137.4h1.0v1.0h-1.0zM456.5 149.0h1.0v1.0h-1.0zM440.6 152.7h1.0v1.0h-1.0zM456.8 138.3h1.0v1.0h-1.0zM441.4 134.9h1.0v1.0h-1.0zM435.1 147.4h1.0v1.0h-1.0zM459.1 138.1h1.0v1.0h-1.0zM455.2 151.0h1.0v1.0h-1.0zM433.4 143.7h1.0v1.0h-1.0zM457.5 138.7h1.0v1.0h-1.0zM439.7 133.8h1.0v1.0h-1.0zM446.0 153.0h1.0v1.0h-1.0zM437.7 146.9h1.0v1.0h-1.0zM434.0 146.5h1.0v1.0h-1.0zM441.3 151.8h1.0v1.0h-1.0zM441.8 134.1h1.0v1.0h-1.0zM446.6 132.8h1.0v1.0h-1.0zM459.0 148.2h1.0v1.0h-1.0zM433.4 138.2h1.0v1.0h-1.0zM457.1 148.6h1.0v1.0h-1.0zM439.5 151.1h1.0v1.0h-1.0zM452.9 135.8h1.0v1.0h-1.0zM454.2 136.3h1.0v1.0h-1.0zM447.4 153.8h1.0v1.0h-1.0zM437.9 149.4h1.0v1.0h-1.0zM459.3 147.4h1.0v1.0h-1.0zM453.9 135.0h1.0v1.0h-1.0zM452.8 151.7h1.0v1.0h-1.0zM433.0 145.8h1.0v1.0h-1.0zM461.9 140.6h1.0v1.0h-1.0zM461.1 147.0h1.0v1.0h-1.0zM460.2 146.3h1.0v1.0h-1.0zM438.4 136.8h1.0v1.0h-1.0zM442.7 153.1h1.0v1.0h-1.0zM455.2 150.5h1.0v1.0h-1.0zM462.2 143.9h1.0v1.0h-1.0zM451.6 134.5h1.0v1.0h-1.0zM456.9 136.7h1.0v1.0h-1.0zM432.7 143.1h1.0v1.0h-1.0zM448.1 154.5h1.0v1.0h-1.0zM454.4 136.1h1.0v1.0h-1.0zM444.0 154.1h1.0v1.0h-1.0zM448.3 152.3h1.0v1.0h-1.0zM454.9 135.9h1.0v1.0h-1.0zM439.4 151.7h1.0v1.0h-1.0zM441.6 153.7h1.0v1.0h-1.0zM436.6 136.5h1.0v1.0h-1.0zM440.2 135.4h1.0v1.0h-1.0zM435.4 146.5h1.0v1.0h-1.0zM431.6 144.1h1.0v1.0h-1.0zM461.6 146.8h1.0v1.0h-1.0zM439.0 136.1h1.0v1.0h-1.0zM439.3 136.2h1.0v1.0h-1.0z" fill="#41b4c3"/>
<line x1="293.20" y1="126.70" x2="293.20" y2="252.90" stroke="#231f20" stroke-width="1.45"/>
<line x1="292.50" y1="252.15" x2="471.50" y2="252.15" stroke="#231f20" stroke-width="1.45"/>
<text transform="translate(288.20 189.50) rotate(-90)" font-size="10.3" fill="#231f20" text-anchor="middle" textLength="27.50" lengthAdjust="spacingAndGlyphs" stroke="#231f20" stroke-width="0.15">UMAP 2</text>
<text transform="translate(368.20 264.30)" font-size="10.3" fill="#231f20" textLength="28.00" lengthAdjust="spacingAndGlyphs" stroke="#231f20" stroke-width="0.15">UMAP 1</text>
<text transform="translate(297.10 169.00)" font-size="8.3" fill="#45b2c2" textLength="69.90" lengthAdjust="spacingAndGlyphs" stroke="#45b2c2" stroke-width="0.15">10.5 dpc E+HE+IAC</text>
<text transform="translate(368.50 130.60)" font-size="8.3" fill="#3a904a" textLength="38.40" lengthAdjust="spacingAndGlyphs" stroke="#3a904a" stroke-width="0.15">9.5 dpc HE</text>
<text transform="translate(414.60 130.60)" font-size="8.3" fill="#3d8cc6" textLength="42.30" lengthAdjust="spacingAndGlyphs" stroke="#3d8cc6" stroke-width="0.15">10.5 dpc HE</text>
<text transform="translate(464.00 140.00)" font-size="8.3" fill="#c9a9dc" textLength="45.00" lengthAdjust="spacingAndGlyphs" stroke="#c9a9dc" stroke-width="0.15">10.5 dpc IAC</text>
<text transform="translate(388.00 168.30)" font-size="8.3" fill="#d8353c" textLength="62.50" lengthAdjust="spacingAndGlyphs" stroke="#d8353c" stroke-width="0.15">11.5 dpc pre-HSC</text>
<text transform="translate(388.00 177.00)" font-size="8.3" fill="#eeaabb" textLength="45.20" lengthAdjust="spacingAndGlyphs" stroke="#eeaabb" stroke-width="0.15">11.5 dpc IAC</text>
<text transform="translate(436.30 183.80)" font-size="8.3" fill="#7050a8" textLength="71.70" lengthAdjust="spacingAndGlyphs" stroke="#7050a8" stroke-width="0.15">10.5 dpc CD45<tspan dy="-2.8" font-size="5">+</tspan><tspan dy="2.8"> IAC</tspan></text>
<text transform="translate(357.00 243.00)" font-size="8.3" fill="#7cc26c" textLength="67.30" lengthAdjust="spacingAndGlyphs" stroke="#7cc26c" stroke-width="0.15">9.5 dpc E+HE+IAC</text>
<text transform="translate(415.70 222.00)" font-size="8.3" fill="#e8822a" textLength="58.10" lengthAdjust="spacingAndGlyphs" stroke="#e8822a" stroke-width="0.15">14.5 dpc FL HSC</text>
<line x1="397.70" y1="136.30" x2="402.50" y2="141.20" stroke="#555" stroke-width="0.7"/>
<line x1="422.30" y1="133.10" x2="420.90" y2="139.20" stroke="#555" stroke-width="0.7"/>
<line x1="426.50" y1="158.60" x2="445.00" y2="153.80" stroke="#555" stroke-width="0.7"/>
<line x1="455.50" y1="151.50" x2="466.50" y2="174.50" stroke="#555" stroke-width="0.7"/>
<rect x="432.9" y="225.9" width="26.4" height="20.9" fill="#fff" stroke="#231f20" stroke-width="1.3"/>
<path d="M442.1 234.7 C442.5 233.9 443.4 233.3 444.1 232.8 C444.8 232.3 445.6 231.8 446.3 231.8 C447.1 231.9 448.0 232.6 448.6 233.1 C449.2 233.6 449.6 234.2 449.9 235.1 C450.2 236.0 450.0 237.2 450.3 238.3 C450.6 239.4 451.2 240.6 451.6 241.6 C452.0 242.6 452.9 244.0 452.8 244.3 C452.7 244.6 451.5 243.7 450.9 243.2 C450.3 242.7 449.9 241.8 449.0 241.3 C448.1 240.8 446.8 240.6 445.7 240.3 C444.6 240.0 443.3 240.0 442.7 239.6 C442.1 239.2 441.9 238.5 441.8 237.7 C441.7 236.9 441.7 235.5 442.1 234.7 Z" fill="#f07d1a"/>
<circle cx="441.8" cy="231.6" r="0.8" fill="#e77"/><circle cx="441.2" cy="235.0" r="0.8" fill="#e77"/><circle cx="442.8" cy="233.0" r="0.6" fill="#8ad"/><circle cx="452.6" cy="244.3" r="0.6" fill="#e77"/>
<rect x="32.65" y="320.50" width="84.45" height="58.3" rx="1.4" fill="none" stroke="#231f20" stroke-width="1.35"/>
<rect x="123.60" y="320.50" width="84.45" height="58.3" rx="1.4" fill="none" stroke="#231f20" stroke-width="1.35"/>
<rect x="214.60" y="320.50" width="84.45" height="58.3" rx="1.4" fill="none" stroke="#231f20" stroke-width="1.35"/>
<rect x="305.50" y="320.50" width="84.45" height="58.3" rx="1.4" fill="none" stroke="#231f20" stroke-width="1.35"/>
<rect x="396.50" y="320.50" width="84.45" height="58.3" rx="1.4" fill="none" stroke="#231f20" stroke-width="1.35"/>
<rect x="32.65" y="385.90" width="84.45" height="58.3" rx="1.4" fill="none" stroke="#231f20" stroke-width="1.35"/>
<rect x="123.60" y="385.90" width="84.45" height="58.3" rx="1.4" fill="none" stroke="#231f20" stroke-width="1.35"/>
<rect x="214.60" y="385.90" width="84.45" height="58.3" rx="1.4" fill="none" stroke="#231f20" stroke-width="1.35"/>
<rect x="305.50" y="385.90" width="84.45" height="58.3" rx="1.4" fill="none" stroke="#231f20" stroke-width="1.35"/>
<rect x="396.50" y="385.90" width="84.45" height="58.3" rx="1.4" fill="none" stroke="#231f20" stroke-width="1.35"/>
<path d="M36.4 426.9 L38.8 428.3 L36.8 430.2 L37.8 434.1 L42.6 435.0 L47.4 437.0 L52.2 439.8 L54.2 439.4 L57.0 436.0 L60.9 432.2 L66.7 429.3 L73.4 427.3 L77.2 424.5 L78.2 420.6 L77.2 416.8 L73.4 412.9 L71.0 409.1 L71.5 405.2 L73.4 400.4 L75.0 397.2 L74.0 396.8 L73.1 398.6 L71.5 401.4 L69.5 404.3 L67.6 406.7 L63.8 409.1 L58.0 411.5 L52.2 414.4 L47.4 417.7 L43.6 422.5 L38.8 423.5 L35.9 425.4 L36.4 426.9ZM62.6 411.3 L63.6 410.9 L64.7 410.6 L65.7 410.4 L66.7 410.4 L67.6 410.5 L68.4 410.8 L69.1 411.3 L69.7 411.9 L70.2 412.6 L70.7 413.3 L71.0 413.9 L71.2 414.5 L71.3 415.1 L71.3 415.8 L71.1 416.4 L70.9 417.1 L70.5 417.7 L70.0 418.4 L69.3 419.1 L68.4 419.8 L67.5 420.4 L66.6 421.1 L65.7 421.6 L64.7 422.1 L63.7 422.6 L62.6 423.0 L61.5 423.4 L60.6 423.5 L59.9 423.5 L59.4 423.2 L59.1 422.8 L58.9 422.2 L58.8 421.5 L58.9 420.6 L59.0 419.7 L59.2 418.6 L59.5 417.2 L60.0 415.7 L60.5 414.3 L61.1 413.0 L61.8 412.0 L62.6 411.3Z" fill="#41b4c3" fill-rule="evenodd"/>
<path d="M63.2 418.9h1.0v1.0h-1.0zM61.2 419.9h1.0v1.0h-1.0zM60.2 419.6h1.0v1.0h-1.0zM66.6 411.7h1.0v1.0h-1.0zM65.0 415.8h1.0v1.0h-1.0zM70.0 415.2h1.0v1.0h-1.0zM60.8 414.2h1.0v1.0h-1.0zM61.0 412.7h1.0v1.0h-1.0zM65.6 417.1h1.0v1.0h-1.0zM62.8 412.6h1.0v1.0h-1.0zM58.7 419.6h1.0v1.0h-1.0zM61.1 420.4h1.0v1.0h-1.0zM67.4 412.4h1.0v1.0h-1.0zM66.3 412.8h1.0v1.0h-1.0zM62.5 415.1h1.0v1.0h-1.0zM62.2 412.2h1.0v1.0h-1.0zM66.1 417.1h1.0v1.0h-1.0zM66.7 411.1h1.0v1.0h-1.0zM60.7 422.0h1.0v1.0h-1.0zM65.8 419.0h1.0v1.0h-1.0zM59.5 415.1h1.0v1.0h-1.0zM64.0 420.4h1.0v1.0h-1.0zM63.9 420.3h1.0v1.0h-1.0zM65.3 411.4h1.0v1.0h-1.0zM59.6 422.8h1.0v1.0h-1.0zM62.5 419.3h1.0v1.0h-1.0zM69.0 416.1h1.0v1.0h-1.0zM64.5 420.3h1.0v1.0h-1.0zM61.8 414.8h1.0v1.0h-1.0zM66.0 418.3h1.0v1.0h-1.0z" fill="#41b4c3"/>
<path d="M101.0 390.0 L101.4 389.6 L101.9 389.3 L102.5 389.0 L103.2 388.8 L103.8 388.6 L104.5 388.4 L105.1 388.3 L105.8 388.2 L106.5 388.1 L107.2 388.1 L107.9 388.1 L108.5 388.2 L109.1 388.3 L109.6 388.5 L110.2 388.7 L110.7 388.9 L111.1 389.2 L111.5 389.5 L111.8 389.8 L112.1 390.2 L112.4 390.6 L112.5 391.1 L112.7 391.5 L112.7 392.0 L112.7 392.5 L112.6 393.1 L112.4 393.7 L112.2 394.3 L111.9 394.9 L111.5 395.3 L111.1 395.6 L110.5 395.9 L109.9 396.1 L109.3 396.3 L108.6 396.4 L108.0 396.5 L107.3 396.6 L106.7 396.6 L106.0 396.6 L105.3 396.5 L104.6 396.4 L104.0 396.2 L103.4 395.9 L102.9 395.5 L102.4 395.0 L101.9 394.5 L101.5 394.0 L101.2 393.5 L101.0 392.9 L100.8 392.3 L100.7 391.7 L100.7 391.1 L100.8 390.5 L101.0 390.0Z" fill="#41b4c3" fill-rule="evenodd"/>
<path d="M72.5 395.5 L72.5 395.1 L72.6 394.7 L72.8 394.3 L73.0 393.9 L73.2 393.6 L73.5 393.3 L73.8 393.1 L74.2 392.9 L74.6 392.8 L75.1 392.7 L75.5 392.6 L75.8 392.6 L76.1 392.7 L76.4 392.8 L76.7 392.9 L76.9 393.1 L77.1 393.4 L77.2 393.6 L77.2 393.9 L77.1 394.2 L76.9 394.6 L76.7 394.9 L76.5 395.3 L76.2 395.6 L75.9 395.9 L75.5 396.3 L75.0 396.6 L74.6 396.9 L74.2 397.1 L73.8 397.2 L73.5 397.1 L73.2 396.9 L72.9 396.6 L72.7 396.2 L72.6 395.9 L72.5 395.5Z" fill="#41b4c3" fill-rule="evenodd"/>
<path d="M70.2 400.2h1.0v1.0h-1.0zM69.8 402.5h1.0v1.0h-1.0zM70.7 398.3h1.0v1.0h-1.0zM69.6 401.5h1.0v1.0h-1.0zM69.2 401.3h1.0v1.0h-1.0zM71.0 399.2h1.0v1.0h-1.0zM70.2 401.5h1.0v1.0h-1.0zM71.3 399.4h1.0v1.0h-1.0zM68.2 402.4h1.0v1.0h-1.0zM70.8 399.2h1.0v1.0h-1.0zM72.3 397.2h1.0v1.0h-1.0zM71.5 398.5h1.0v1.0h-1.0zM70.9 398.8h1.0v1.0h-1.0zM71.8 397.3h1.0v1.0h-1.0zM69.0 401.9h1.0v1.0h-1.0zM71.9 397.4h1.0v1.0h-1.0zM69.7 402.8h1.0v1.0h-1.0zM69.0 402.9h1.0v1.0h-1.0zM70.7 400.1h1.0v1.0h-1.0zM71.0 398.4h1.0v1.0h-1.0zM69.6 400.2h1.0v1.0h-1.0zM69.6 401.5h1.0v1.0h-1.0zM68.7 402.1h1.0v1.0h-1.0zM70.7 400.6h1.0v1.0h-1.0zM72.5 397.9h1.0v1.0h-1.0zM70.1 399.2h1.0v1.0h-1.0zM69.7 401.0h1.0v1.0h-1.0zM70.9 397.9h1.0v1.0h-1.0zM69.3 401.6h1.0v1.0h-1.0zM69.8 400.9h1.0v1.0h-1.0z" fill="#41b4c3"/>
<path d="M84.4 393.3h1.0v1.0h-1.0zM99.1 390.5h1.0v1.0h-1.0zM95.9 391.0h1.0v1.0h-1.0zM91.8 391.3h1.0v1.0h-1.0zM82.2 392.1h1.0v1.0h-1.0zM90.1 391.0h1.0v1.0h-1.0zM89.6 390.7h1.0v1.0h-1.0zM100.7 389.9h1.0v1.0h-1.0zM84.7 392.4h1.0v1.0h-1.0zM85.8 390.9h1.0v1.0h-1.0zM78.9 392.1h1.0v1.0h-1.0zM89.2 391.6h1.0v1.0h-1.0zM80.6 392.3h1.0v1.0h-1.0zM98.3 390.4h1.0v1.0h-1.0zM80.1 392.1h1.0v1.0h-1.0zM100.8 390.1h1.0v1.0h-1.0zM79.7 393.2h1.0v1.0h-1.0zM85.3 391.5h1.0v1.0h-1.0zM81.1 391.1h1.0v1.0h-1.0zM101.2 390.3h1.0v1.0h-1.0zM99.6 390.3h1.0v1.0h-1.0zM88.8 391.4h1.0v1.0h-1.0zM92.3 390.9h1.0v1.0h-1.0zM78.7 394.6h1.0v1.0h-1.0zM81.9 392.3h1.0v1.0h-1.0zM77.8 393.7h1.0v1.0h-1.0zM81.9 391.4h1.0v1.0h-1.0zM89.8 392.4h1.0v1.0h-1.0zM91.7 391.2h1.0v1.0h-1.0zM90.2 391.8h1.0v1.0h-1.0zM94.4 391.8h1.0v1.0h-1.0zM81.3 392.7h1.0v1.0h-1.0zM93.4 391.0h1.0v1.0h-1.0zM79.6 393.0h1.0v1.0h-1.0zM96.0 390.8h1.0v1.0h-1.0zM98.8 390.7h1.0v1.0h-1.0zM83.0 392.1h1.0v1.0h-1.0zM83.5 392.1h1.0v1.0h-1.0zM90.1 391.9h1.0v1.0h-1.0zM88.5 391.4h1.0v1.0h-1.0zM78.1 393.1h1.0v1.0h-1.0zM85.4 391.5h1.0v1.0h-1.0zM82.9 392.7h1.0v1.0h-1.0zM79.1 391.5h1.0v1.0h-1.0zM87.4 392.4h1.0v1.0h-1.0zM99.0 391.2h1.0v1.0h-1.0zM79.2 392.7h1.0v1.0h-1.0zM87.3 391.3h1.0v1.0h-1.0zM90.4 390.9h1.0v1.0h-1.0zM84.3 392.5h1.0v1.0h-1.0zM88.5 391.3h1.0v1.0h-1.0zM79.8 393.2h1.0v1.0h-1.0zM85.0 392.5h1.0v1.0h-1.0zM86.5 392.3h1.0v1.0h-1.0zM86.6 392.1h1.0v1.0h-1.0zM89.3 391.4h1.0v1.0h-1.0zM91.3 390.8h1.0v1.0h-1.0zM84.9 391.3h1.0v1.0h-1.0zM99.3 390.5h1.0v1.0h-1.0zM91.2 391.2h1.0v1.0h-1.0zM89.1 392.4h1.0v1.0h-1.0zM93.0 390.9h1.0v1.0h-1.0zM93.1 391.1h1.0v1.0h-1.0zM88.3 391.1h1.0v1.0h-1.0zM89.4 392.2h1.0v1.0h-1.0zM86.7 391.9h1.0v1.0h-1.0zM86.7 391.1h1.0v1.0h-1.0zM85.8 391.6h1.0v1.0h-1.0zM90.5 391.6h1.0v1.0h-1.0zM92.9 392.7h1.0v1.0h-1.0zM93.6 391.2h1.0v1.0h-1.0zM80.4 392.4h1.0v1.0h-1.0zM85.5 391.4h1.0v1.0h-1.0zM89.1 391.8h1.0v1.0h-1.0zM91.8 391.3h1.0v1.0h-1.0zM86.2 391.0h1.0v1.0h-1.0zM97.5 391.4h1.0v1.0h-1.0zM76.1 392.6h1.0v1.0h-1.0zM90.6 391.9h1.0v1.0h-1.0zM100.0 391.4h1.0v1.0h-1.0zM92.8 390.8h1.0v1.0h-1.0zM89.0 392.6h1.0v1.0h-1.0zM93.5 391.3h1.0v1.0h-1.0zM97.1 391.1h1.0v1.0h-1.0zM97.7 390.7h1.0v1.0h-1.0zM83.5 392.2h1.0v1.0h-1.0zM99.0 390.8h1.0v1.0h-1.0zM84.0 392.9h1.0v1.0h-1.0zM99.7 389.9h1.0v1.0h-1.0zM88.8 392.7h1.0v1.0h-1.0zM76.3 393.4h1.0v1.0h-1.0zM80.0 393.0h1.0v1.0h-1.0zM78.0 392.5h1.0v1.0h-1.0zM94.4 390.8h1.0v1.0h-1.0zM84.2 392.3h1.0v1.0h-1.0zM94.2 391.7h1.0v1.0h-1.0zM81.4 393.4h1.0v1.0h-1.0zM84.4 391.1h1.0v1.0h-1.0zM79.6 392.5h1.0v1.0h-1.0zM98.6 390.7h1.0v1.0h-1.0zM90.8 390.6h1.0v1.0h-1.0zM95.6 391.6h1.0v1.0h-1.0zM94.8 391.5h1.0v1.0h-1.0zM84.7 392.3h1.0v1.0h-1.0zM97.7 390.8h1.0v1.0h-1.0zM87.3 392.0h1.0v1.0h-1.0zM83.7 391.8h1.0v1.0h-1.0zM79.0 392.5h1.0v1.0h-1.0zM92.9 392.0h1.0v1.0h-1.0zM90.3 391.2h1.0v1.0h-1.0z" fill="#41b4c3"/>
<path d="M48.2 435.0h1.0v1.0h-1.0zM56.4 427.3h1.0v1.0h-1.0zM71.1 418.8h1.0v1.0h-1.0zM48.5 436.2h1.0v1.0h-1.0zM42.5 431.3h1.0v1.0h-1.0zM66.6 420.7h1.0v1.0h-1.0zM59.8 429.4h1.0v1.0h-1.0zM52.3 438.8h1.0v1.0h-1.0zM55.6 431.2h1.0v1.0h-1.0zM54.2 426.5h1.0v1.0h-1.0zM71.9 422.9h1.0v1.0h-1.0zM57.6 418.2h1.0v1.0h-1.0zM71.4 418.2h1.0v1.0h-1.0zM68.4 409.9h1.0v1.0h-1.0zM44.3 429.8h1.0v1.0h-1.0zM65.9 425.3h1.0v1.0h-1.0zM54.5 435.2h1.0v1.0h-1.0zM46.1 419.9h1.0v1.0h-1.0zM72.8 417.9h1.0v1.0h-1.0zM48.9 427.0h1.0v1.0h-1.0zM57.0 428.6h1.0v1.0h-1.0zM51.3 416.6h1.0v1.0h-1.0zM44.7 432.7h1.0v1.0h-1.0zM49.0 437.7h1.0v1.0h-1.0zM69.7 407.9h1.0v1.0h-1.0zM55.5 419.3h1.0v1.0h-1.0zM46.2 436.0h1.0v1.0h-1.0zM69.2 422.4h1.0v1.0h-1.0zM57.6 417.4h1.0v1.0h-1.0zM73.2 417.5h1.0v1.0h-1.0zM52.0 433.3h1.0v1.0h-1.0zM60.8 430.1h1.0v1.0h-1.0zM66.5 423.4h1.0v1.0h-1.0zM60.8 424.9h1.0v1.0h-1.0zM63.7 423.2h1.0v1.0h-1.0zM61.5 411.3h1.0v1.0h-1.0zM53.0 425.3h1.0v1.0h-1.0zM42.7 423.3h1.0v1.0h-1.0zM71.4 426.7h1.0v1.0h-1.0zM52.5 429.2h1.0v1.0h-1.0zM54.3 419.8h1.0v1.0h-1.0zM40.4 432.2h1.0v1.0h-1.0zM66.3 407.8h1.0v1.0h-1.0zM40.5 428.4h1.0v1.0h-1.0zM71.5 411.2h1.0v1.0h-1.0zM57.3 426.3h1.0v1.0h-1.0zM53.4 418.2h1.0v1.0h-1.0zM38.1 424.9h1.0v1.0h-1.0zM54.4 432.1h1.0v1.0h-1.0zM56.0 426.5h1.0v1.0h-1.0zM46.4 432.8h1.0v1.0h-1.0zM52.3 437.9h1.0v1.0h-1.0zM35.6 425.1h1.0v1.0h-1.0zM53.1 436.6h1.0v1.0h-1.0zM43.9 426.4h1.0v1.0h-1.0zM66.3 424.6h1.0v1.0h-1.0zM68.6 405.6h1.0v1.0h-1.0zM41.7 429.6h1.0v1.0h-1.0zM39.7 423.5h1.0v1.0h-1.0zM55.2 430.4h1.0v1.0h-1.0zM58.1 414.4h1.0v1.0h-1.0zM55.8 419.9h1.0v1.0h-1.0zM59.2 429.5h1.0v1.0h-1.0zM68.6 406.8h1.0v1.0h-1.0zM51.7 419.1h1.0v1.0h-1.0zM59.0 430.9h1.0v1.0h-1.0z" fill="#fff"/>
<path d="M107.0 393.0h1.0v1.0h-1.0zM110.0 390.0h1.0v1.0h-1.0zM108.0 395.2h1.0v1.0h-1.0zM111.1 389.2h1.0v1.0h-1.0zM108.0 392.8h1.0v1.0h-1.0zM106.2 395.8h1.0v1.0h-1.0zM106.5 391.4h1.0v1.0h-1.0zM111.5 393.0h1.0v1.0h-1.0zM103.8 390.2h1.0v1.0h-1.0zM106.2 388.1h1.0v1.0h-1.0zM107.5 393.9h1.0v1.0h-1.0zM105.3 394.8h1.0v1.0h-1.0zM111.3 392.3h1.0v1.0h-1.0zM108.4 388.6h1.0v1.0h-1.0zM103.6 389.4h1.0v1.0h-1.0zM111.0 394.0h1.0v1.0h-1.0zM101.7 390.3h1.0v1.0h-1.0zM103.1 389.9h1.0v1.0h-1.0zM103.8 391.0h1.0v1.0h-1.0zM102.4 388.5h1.0v1.0h-1.0zM109.2 392.4h1.0v1.0h-1.0zM101.7 388.9h1.0v1.0h-1.0zM101.6 390.3h1.0v1.0h-1.0z" fill="#fff"/>
<path d="M76.4 416.3h1.0v1.0h-1.0zM47.7 435.8h1.0v1.0h-1.0zM42.2 434.9h1.0v1.0h-1.0zM36.2 429.5h1.0v1.0h-1.0zM69.1 401.9h1.0v1.0h-1.0zM75.5 413.9h1.0v1.0h-1.0zM67.5 406.2h1.0v1.0h-1.0zM54.5 437.0h1.0v1.0h-1.0zM44.5 418.6h1.0v1.0h-1.0zM65.2 407.6h1.0v1.0h-1.0zM48.1 436.4h1.0v1.0h-1.0zM37.0 431.6h1.0v1.0h-1.0zM71.1 427.9h1.0v1.0h-1.0zM69.9 401.2h1.0v1.0h-1.0zM76.6 417.1h1.0v1.0h-1.0zM77.4 422.1h1.0v1.0h-1.0zM71.8 404.2h1.0v1.0h-1.0zM50.7 438.5h1.0v1.0h-1.0zM57.0 434.0h1.0v1.0h-1.0zM67.1 404.7h1.0v1.0h-1.0zM68.8 405.7h1.0v1.0h-1.0zM53.7 439.1h1.0v1.0h-1.0zM55.3 437.6h1.0v1.0h-1.0zM44.1 436.4h1.0v1.0h-1.0zM57.5 432.9h1.0v1.0h-1.0zM71.6 403.5h1.0v1.0h-1.0zM49.5 414.7h1.0v1.0h-1.0zM62.3 408.5h1.0v1.0h-1.0zM43.4 420.9h1.0v1.0h-1.0zM46.9 417.3h1.0v1.0h-1.0zM72.8 402.0h1.0v1.0h-1.0zM36.0 430.5h1.0v1.0h-1.0zM75.8 416.7h1.0v1.0h-1.0zM55.7 434.7h1.0v1.0h-1.0zM73.8 425.1h1.0v1.0h-1.0zM43.9 421.9h1.0v1.0h-1.0zM71.7 398.8h1.0v1.0h-1.0zM55.1 436.3h1.0v1.0h-1.0zM72.2 398.1h1.0v1.0h-1.0zM68.4 406.2h1.0v1.0h-1.0zM74.0 426.7h1.0v1.0h-1.0zM77.8 416.3h1.0v1.0h-1.0zM66.8 406.4h1.0v1.0h-1.0zM38.2 426.8h1.0v1.0h-1.0zM76.7 418.8h1.0v1.0h-1.0zM65.0 408.1h1.0v1.0h-1.0zM34.8 425.7h1.0v1.0h-1.0zM38.0 431.5h1.0v1.0h-1.0zM73.7 396.6h1.0v1.0h-1.0zM35.1 426.7h1.0v1.0h-1.0zM70.8 409.5h1.0v1.0h-1.0zM53.4 439.5h1.0v1.0h-1.0zM56.9 434.5h1.0v1.0h-1.0zM45.6 435.4h1.0v1.0h-1.0zM45.1 435.5h1.0v1.0h-1.0zM77.3 418.0h1.0v1.0h-1.0zM72.2 401.8h1.0v1.0h-1.0zM73.4 412.5h1.0v1.0h-1.0zM51.3 413.9h1.0v1.0h-1.0zM36.0 430.2h1.0v1.0h-1.0zM37.0 426.1h1.0v1.0h-1.0zM71.2 408.1h1.0v1.0h-1.0zM43.1 433.7h1.0v1.0h-1.0zM70.6 402.2h1.0v1.0h-1.0zM56.8 434.8h1.0v1.0h-1.0zM48.3 415.5h1.0v1.0h-1.0zM60.0 431.7h1.0v1.0h-1.0zM66.5 429.2h1.0v1.0h-1.0zM42.9 434.1h1.0v1.0h-1.0zM71.8 412.2h1.0v1.0h-1.0zM69.6 403.0h1.0v1.0h-1.0zM75.0 416.1h1.0v1.0h-1.0zM36.3 431.3h1.0v1.0h-1.0zM55.0 438.1h1.0v1.0h-1.0zM42.4 433.6h1.0v1.0h-1.0zM65.6 430.4h1.0v1.0h-1.0zM69.2 402.1h1.0v1.0h-1.0zM75.0 413.0h1.0v1.0h-1.0zM42.5 421.2h1.0v1.0h-1.0zM44.6 435.3h1.0v1.0h-1.0zM44.7 434.4h1.0v1.0h-1.0zM76.5 421.2h1.0v1.0h-1.0zM70.6 405.4h1.0v1.0h-1.0zM54.1 412.6h1.0v1.0h-1.0zM46.1 418.1h1.0v1.0h-1.0zM38.5 429.2h1.0v1.0h-1.0zM58.2 435.4h1.0v1.0h-1.0zM35.9 426.3h1.0v1.0h-1.0zM66.0 429.2h1.0v1.0h-1.0zM55.4 437.5h1.0v1.0h-1.0z" fill="#41b4c3"/>
<path d="M106.4 396.9h1.0v1.0h-1.0zM108.4 395.2h1.0v1.0h-1.0zM101.8 394.5h1.0v1.0h-1.0zM108.1 396.2h1.0v1.0h-1.0zM111.7 395.2h1.0v1.0h-1.0zM106.4 395.9h1.0v1.0h-1.0zM109.4 387.8h1.0v1.0h-1.0zM104.6 396.1h1.0v1.0h-1.0zM101.1 390.9h1.0v1.0h-1.0zM101.1 394.9h1.0v1.0h-1.0zM102.5 387.9h1.0v1.0h-1.0zM111.1 389.7h1.0v1.0h-1.0zM102.1 394.6h1.0v1.0h-1.0zM107.8 395.8h1.0v1.0h-1.0zM101.4 388.8h1.0v1.0h-1.0zM107.1 387.5h1.0v1.0h-1.0zM100.9 389.5h1.0v1.0h-1.0zM99.6 392.6h1.0v1.0h-1.0zM110.0 396.4h1.0v1.0h-1.0zM111.8 388.8h1.0v1.0h-1.0zM101.6 393.6h1.0v1.0h-1.0zM100.1 393.0h1.0v1.0h-1.0zM105.2 395.7h1.0v1.0h-1.0zM110.8 393.7h1.0v1.0h-1.0zM108.3 396.3h1.0v1.0h-1.0zM105.2 396.1h1.0v1.0h-1.0zM107.1 387.9h1.0v1.0h-1.0zM101.7 388.5h1.0v1.0h-1.0zM110.8 396.1h1.0v1.0h-1.0zM107.6 396.8h1.0v1.0h-1.0z" fill="#41b4c3"/>
<path d="M48.0 367.3 L48.3 366.8 L48.8 366.5 L49.4 366.2 L50.1 365.9 L50.8 365.8 L51.5 365.6 L52.2 365.5 L53.0 365.5 L53.7 365.5 L54.5 365.6 L55.3 365.6 L56.1 365.6 L56.9 365.5 L57.7 365.4 L58.6 365.2 L59.4 365.1 L60.1 365.0 L60.7 365.0 L61.2 365.1 L61.6 365.2 L61.9 365.4 L62.1 365.6 L62.3 365.9 L62.4 366.2 L62.5 366.6 L62.4 367.2 L62.4 367.8 L62.2 368.4 L62.0 369.0 L61.8 369.6 L61.5 370.2 L61.2 370.8 L60.8 371.4 L60.4 372.0 L60.0 372.6 L59.5 373.1 L59.0 373.6 L58.5 374.1 L57.9 374.5 L57.3 374.9 L56.7 375.2 L56.1 375.4 L55.4 375.4 L54.7 375.3 L54.0 375.1 L53.3 374.8 L52.6 374.5 L52.0 374.2 L51.4 373.9 L50.9 373.6 L50.4 373.3 L50.0 372.9 L49.6 372.4 L49.2 371.9 L48.9 371.2 L48.5 370.4 L48.2 369.6 L48.0 368.7 L47.9 367.9 L48.0 367.3Z" fill="#a6d08a" fill-rule="evenodd"/>
<path d="M52.5 369.0h1.0v1.0h-1.0zM54.0 368.1h1.0v1.0h-1.0zM54.9 368.6h1.0v1.0h-1.0zM48.0 368.9h1.0v1.0h-1.0zM54.4 370.2h1.0v1.0h-1.0zM55.7 366.9h1.0v1.0h-1.0zM55.0 368.2h1.0v1.0h-1.0zM61.3 364.8h1.0v1.0h-1.0zM52.9 371.7h1.0v1.0h-1.0zM56.1 370.3h1.0v1.0h-1.0zM58.5 367.0h1.0v1.0h-1.0z" fill="#fff"/>
<path d="M60.5 372.3h1.0v1.0h-1.0zM54.3 375.3h1.0v1.0h-1.0zM47.1 369.4h1.0v1.0h-1.0zM52.1 374.9h1.0v1.0h-1.0zM48.4 368.1h1.0v1.0h-1.0zM51.3 365.4h1.0v1.0h-1.0zM55.7 365.1h1.0v1.0h-1.0zM48.8 372.9h1.0v1.0h-1.0zM55.6 364.1h1.0v1.0h-1.0zM49.6 365.4h1.0v1.0h-1.0zM53.6 364.2h1.0v1.0h-1.0zM54.8 375.4h1.0v1.0h-1.0zM60.7 364.2h1.0v1.0h-1.0zM49.3 373.0h1.0v1.0h-1.0zM56.4 373.5h1.0v1.0h-1.0zM59.5 372.8h1.0v1.0h-1.0zM52.5 365.4h1.0v1.0h-1.0zM54.0 364.8h1.0v1.0h-1.0zM50.9 372.6h1.0v1.0h-1.0zM58.0 364.4h1.0v1.0h-1.0zM58.5 364.1h1.0v1.0h-1.0zM61.7 370.4h1.0v1.0h-1.0zM51.6 364.2h1.0v1.0h-1.0zM60.2 364.6h1.0v1.0h-1.0zM59.8 364.3h1.0v1.0h-1.0zM52.3 373.4h1.0v1.0h-1.0zM61.0 367.0h1.0v1.0h-1.0zM47.7 366.9h1.0v1.0h-1.0zM55.5 375.1h1.0v1.0h-1.0zM62.4 367.5h1.0v1.0h-1.0zM52.0 374.8h1.0v1.0h-1.0zM59.0 371.9h1.0v1.0h-1.0zM50.7 372.1h1.0v1.0h-1.0zM53.6 364.2h1.0v1.0h-1.0zM58.2 365.5h1.0v1.0h-1.0zM58.5 372.3h1.0v1.0h-1.0zM61.7 367.6h1.0v1.0h-1.0zM47.2 367.6h1.0v1.0h-1.0zM61.4 367.4h1.0v1.0h-1.0zM49.9 371.4h1.0v1.0h-1.0z" fill="#a6d08a"/>
<path d="M63.2 340.5h1.0v1.0h-1.0zM77.3 328.8h1.0v1.0h-1.0zM67.8 335.4h1.0v1.0h-1.0zM62.6 339.7h1.0v1.0h-1.0zM70.9 330.9h1.0v1.0h-1.0zM69.6 333.1h1.0v1.0h-1.0zM74.6 329.2h1.0v1.0h-1.0zM57.2 346.0h1.0v1.0h-1.0zM72.0 332.3h1.0v1.0h-1.0zM69.9 335.3h1.0v1.0h-1.0zM54.8 348.1h1.0v1.0h-1.0zM75.5 328.9h1.0v1.0h-1.0zM75.0 329.8h1.0v1.0h-1.0zM72.7 332.6h1.0v1.0h-1.0zM56.3 346.3h1.0v1.0h-1.0zM76.9 328.1h1.0v1.0h-1.0zM70.9 333.0h1.0v1.0h-1.0zM61.4 341.9h1.0v1.0h-1.0zM68.8 334.3h1.0v1.0h-1.0zM76.1 328.5h1.0v1.0h-1.0zM74.9 329.3h1.0v1.0h-1.0zM70.6 333.7h1.0v1.0h-1.0zM63.5 339.5h1.0v1.0h-1.0zM63.0 339.5h1.0v1.0h-1.0zM54.3 349.4h1.0v1.0h-1.0zM72.2 332.3h1.0v1.0h-1.0zM64.3 339.4h1.0v1.0h-1.0zM75.6 328.0h1.0v1.0h-1.0zM69.8 333.6h1.0v1.0h-1.0zM55.2 348.2h1.0v1.0h-1.0zM55.0 349.3h1.0v1.0h-1.0zM71.3 330.4h1.0v1.0h-1.0zM55.9 346.7h1.0v1.0h-1.0zM76.2 328.4h1.0v1.0h-1.0zM69.9 333.7h1.0v1.0h-1.0zM63.4 338.8h1.0v1.0h-1.0zM75.3 329.9h1.0v1.0h-1.0zM64.6 339.1h1.0v1.0h-1.0zM71.5 331.4h1.0v1.0h-1.0zM64.5 338.3h1.0v1.0h-1.0zM78.7 327.4h1.0v1.0h-1.0zM71.1 333.3h1.0v1.0h-1.0zM60.7 343.2h1.0v1.0h-1.0zM77.2 327.8h1.0v1.0h-1.0zM63.7 341.3h1.0v1.0h-1.0zM71.1 331.1h1.0v1.0h-1.0zM58.8 344.3h1.0v1.0h-1.0zM58.0 345.2h1.0v1.0h-1.0zM70.6 333.8h1.0v1.0h-1.0zM68.0 336.1h1.0v1.0h-1.0zM57.0 345.5h1.0v1.0h-1.0zM70.8 333.5h1.0v1.0h-1.0zM57.0 347.4h1.0v1.0h-1.0zM71.3 332.2h1.0v1.0h-1.0zM65.9 334.9h1.0v1.0h-1.0zM76.5 328.7h1.0v1.0h-1.0zM74.7 330.8h1.0v1.0h-1.0zM78.1 328.1h1.0v1.0h-1.0zM68.7 333.3h1.0v1.0h-1.0zM57.7 345.1h1.0v1.0h-1.0zM71.7 331.9h1.0v1.0h-1.0zM66.3 337.2h1.0v1.0h-1.0zM68.0 334.8h1.0v1.0h-1.0zM77.8 329.1h1.0v1.0h-1.0zM76.8 328.3h1.0v1.0h-1.0zM75.4 329.7h1.0v1.0h-1.0zM69.5 335.3h1.0v1.0h-1.0zM59.5 341.7h1.0v1.0h-1.0zM68.0 335.1h1.0v1.0h-1.0zM71.8 333.7h1.0v1.0h-1.0zM58.6 342.9h1.0v1.0h-1.0zM59.2 343.8h1.0v1.0h-1.0zM57.7 344.8h1.0v1.0h-1.0zM66.2 337.9h1.0v1.0h-1.0zM78.0 328.1h1.0v1.0h-1.0zM74.2 329.6h1.0v1.0h-1.0zM71.4 332.1h1.0v1.0h-1.0zM72.3 330.9h1.0v1.0h-1.0zM58.4 344.9h1.0v1.0h-1.0zM62.3 340.3h1.0v1.0h-1.0z" fill="#a6d08a"/>
<path d="M59.5 347.0h1.0v1.0h-1.0zM55.8 347.9h1.0v1.0h-1.0zM59.7 344.5h1.0v1.0h-1.0zM53.1 346.4h1.0v1.0h-1.0zM57.8 347.5h1.0v1.0h-1.0zM58.0 346.5h1.0v1.0h-1.0zM54.6 349.4h1.0v1.0h-1.0zM58.9 348.1h1.0v1.0h-1.0zM54.5 346.0h1.0v1.0h-1.0zM53.3 347.9h1.0v1.0h-1.0zM60.6 345.1h1.0v1.0h-1.0zM54.5 347.2h1.0v1.0h-1.0zM62.0 344.8h1.0v1.0h-1.0zM55.1 348.9h1.0v1.0h-1.0zM60.5 343.5h1.0v1.0h-1.0zM59.6 344.3h1.0v1.0h-1.0zM58.7 347.6h1.0v1.0h-1.0zM58.3 346.0h1.0v1.0h-1.0zM60.4 343.5h1.0v1.0h-1.0zM58.1 344.3h1.0v1.0h-1.0zM60.1 346.7h1.0v1.0h-1.0zM56.4 347.6h1.0v1.0h-1.0zM54.7 348.6h1.0v1.0h-1.0zM56.5 348.0h1.0v1.0h-1.0zM58.9 345.1h1.0v1.0h-1.0zM56.2 348.7h1.0v1.0h-1.0zM57.2 349.0h1.0v1.0h-1.0zM58.7 345.3h1.0v1.0h-1.0zM55.3 348.0h1.0v1.0h-1.0zM56.5 346.2h1.0v1.0h-1.0zM62.1 343.9h1.0v1.0h-1.0zM59.2 344.5h1.0v1.0h-1.0zM61.1 345.6h1.0v1.0h-1.0zM53.7 348.0h1.0v1.0h-1.0zM56.4 347.2h1.0v1.0h-1.0zM62.3 346.1h1.0v1.0h-1.0zM61.1 344.6h1.0v1.0h-1.0zM58.2 348.3h1.0v1.0h-1.0zM61.4 344.2h1.0v1.0h-1.0zM56.1 347.9h1.0v1.0h-1.0zM58.5 346.1h1.0v1.0h-1.0zM62.1 347.1h1.0v1.0h-1.0zM57.6 347.5h1.0v1.0h-1.0zM59.4 350.9h1.0v1.0h-1.0zM55.1 349.0h1.0v1.0h-1.0zM59.2 346.2h1.0v1.0h-1.0zM60.5 345.1h1.0v1.0h-1.0zM57.1 347.1h1.0v1.0h-1.0zM61.4 341.5h1.0v1.0h-1.0zM61.0 344.7h1.0v1.0h-1.0z" fill="#a6d08a"/>
<path d="M62.8 362.5h1.0v1.0h-1.0zM67.9 354.9h1.0v1.0h-1.0zM71.4 352.0h1.0v1.0h-1.0zM67.9 353.9h1.0v1.0h-1.0zM61.9 362.3h1.0v1.0h-1.0zM73.1 350.6h1.0v1.0h-1.0zM69.6 353.9h1.0v1.0h-1.0zM63.7 359.5h1.0v1.0h-1.0zM73.0 350.6h1.0v1.0h-1.0zM62.9 361.0h1.0v1.0h-1.0zM67.4 353.2h1.0v1.0h-1.0zM70.2 353.1h1.0v1.0h-1.0zM68.2 353.9h1.0v1.0h-1.0zM62.7 362.1h1.0v1.0h-1.0zM65.0 363.5h1.0v1.0h-1.0zM65.6 357.7h1.0v1.0h-1.0zM74.4 350.7h1.0v1.0h-1.0zM73.6 350.4h1.0v1.0h-1.0zM71.3 354.3h1.0v1.0h-1.0zM63.1 361.2h1.0v1.0h-1.0zM71.0 353.0h1.0v1.0h-1.0zM64.7 356.1h1.0v1.0h-1.0zM69.1 354.1h1.0v1.0h-1.0zM74.0 349.9h1.0v1.0h-1.0zM73.8 350.8h1.0v1.0h-1.0zM67.6 357.2h1.0v1.0h-1.0zM62.8 358.6h1.0v1.0h-1.0zM68.1 352.6h1.0v1.0h-1.0zM62.3 360.1h1.0v1.0h-1.0zM74.6 352.2h1.0v1.0h-1.0zM74.1 352.9h1.0v1.0h-1.0zM70.9 353.4h1.0v1.0h-1.0zM63.9 362.1h1.0v1.0h-1.0zM71.4 352.1h1.0v1.0h-1.0zM64.6 360.8h1.0v1.0h-1.0zM68.9 353.8h1.0v1.0h-1.0zM68.2 355.7h1.0v1.0h-1.0zM74.0 351.3h1.0v1.0h-1.0zM73.8 353.3h1.0v1.0h-1.0zM73.9 353.6h1.0v1.0h-1.0zM73.4 351.7h1.0v1.0h-1.0zM71.2 350.6h1.0v1.0h-1.0zM70.2 355.8h1.0v1.0h-1.0zM74.0 349.8h1.0v1.0h-1.0zM74.7 349.7h1.0v1.0h-1.0zM64.7 362.4h1.0v1.0h-1.0zM66.0 360.4h1.0v1.0h-1.0zM71.0 351.2h1.0v1.0h-1.0zM69.8 353.3h1.0v1.0h-1.0zM72.8 352.3h1.0v1.0h-1.0zM66.3 357.4h1.0v1.0h-1.0zM65.3 360.6h1.0v1.0h-1.0zM73.9 349.4h1.0v1.0h-1.0zM68.8 350.0h1.0v1.0h-1.0zM74.6 352.3h1.0v1.0h-1.0zM65.9 360.0h1.0v1.0h-1.0zM68.1 357.2h1.0v1.0h-1.0zM68.3 355.4h1.0v1.0h-1.0zM64.5 363.1h1.0v1.0h-1.0zM70.6 352.9h1.0v1.0h-1.0zM70.7 355.8h1.0v1.0h-1.0zM75.6 351.5h1.0v1.0h-1.0zM69.9 353.3h1.0v1.0h-1.0zM72.9 350.6h1.0v1.0h-1.0zM66.0 361.7h1.0v1.0h-1.0zM64.1 361.2h1.0v1.0h-1.0zM70.8 352.8h1.0v1.0h-1.0zM63.7 363.8h1.0v1.0h-1.0zM66.9 356.5h1.0v1.0h-1.0zM64.9 361.5h1.0v1.0h-1.0z" fill="#a6d08a"/>
<path d="M73.6 328.7h1.0v1.0h-1.0zM73.7 330.0h1.0v1.0h-1.0zM74.1 330.6h1.0v1.0h-1.0zM73.6 330.6h1.0v1.0h-1.0zM72.7 328.2h1.0v1.0h-1.0zM74.8 329.6h1.0v1.0h-1.0zM73.8 329.2h1.0v1.0h-1.0zM74.5 330.8h1.0v1.0h-1.0zM73.9 331.0h1.0v1.0h-1.0zM73.3 329.6h1.0v1.0h-1.0zM74.4 331.9h1.0v1.0h-1.0zM74.2 331.4h1.0v1.0h-1.0zM74.8 330.1h1.0v1.0h-1.0zM74.3 330.1h1.0v1.0h-1.0zM74.7 330.4h1.0v1.0h-1.0zM73.9 330.0h1.0v1.0h-1.0zM74.5 331.3h1.0v1.0h-1.0zM75.3 330.0h1.0v1.0h-1.0zM74.9 331.2h1.0v1.0h-1.0zM75.1 330.0h1.0v1.0h-1.0z" fill="#a6d08a"/>
<path d="M42.4 360.3h1.0v1.0h-1.0zM38.6 358.1h1.0v1.0h-1.0zM38.4 353.2h1.0v1.0h-1.0zM42.7 354.8h1.0v1.0h-1.0zM43.2 364.2h1.0v1.0h-1.0zM37.7 362.4h1.0v1.0h-1.0zM39.7 364.9h1.0v1.0h-1.0zM51.7 356.2h1.0v1.0h-1.0zM54.0 363.8h1.0v1.0h-1.0zM38.5 359.1h1.0v1.0h-1.0zM51.0 366.8h1.0v1.0h-1.0zM40.4 356.8h1.0v1.0h-1.0zM52.5 367.4h1.0v1.0h-1.0zM38.9 354.3h1.0v1.0h-1.0zM52.0 357.8h1.0v1.0h-1.0zM44.7 366.1h1.0v1.0h-1.0zM51.9 362.9h1.0v1.0h-1.0zM54.4 364.0h1.0v1.0h-1.0zM53.2 362.6h1.0v1.0h-1.0zM48.9 353.9h1.0v1.0h-1.0zM55.2 366.7h1.0v1.0h-1.0zM44.0 362.4h1.0v1.0h-1.0zM37.3 360.5h1.0v1.0h-1.0zM49.5 357.4h1.0v1.0h-1.0zM45.3 365.5h1.0v1.0h-1.0zM39.9 359.8h1.0v1.0h-1.0zM38.7 358.8h1.0v1.0h-1.0zM54.7 362.2h1.0v1.0h-1.0zM37.6 365.9h1.0v1.0h-1.0zM50.2 360.8h1.0v1.0h-1.0zM42.8 357.5h1.0v1.0h-1.0zM40.7 362.3h1.0v1.0h-1.0zM38.0 367.2h1.0v1.0h-1.0zM39.1 362.4h1.0v1.0h-1.0zM48.5 358.4h1.0v1.0h-1.0zM42.6 359.6h1.0v1.0h-1.0zM43.6 367.6h1.0v1.0h-1.0zM49.9 360.8h1.0v1.0h-1.0zM50.3 360.4h1.0v1.0h-1.0zM40.0 353.3h1.0v1.0h-1.0zM56.4 365.7h1.0v1.0h-1.0zM38.9 362.2h1.0v1.0h-1.0zM52.7 366.4h1.0v1.0h-1.0zM38.3 355.0h1.0v1.0h-1.0zM44.8 362.0h1.0v1.0h-1.0z" fill="#a6d08a"/>
<path d="M56.7 352.6h1.0v1.0h-1.0zM58.9 354.7h1.0v1.0h-1.0zM47.0 361.4h1.0v1.0h-1.0zM58.7 352.3h1.0v1.0h-1.0zM44.7 366.3h1.0v1.0h-1.0zM57.9 355.0h1.0v1.0h-1.0zM59.6 355.6h1.0v1.0h-1.0zM54.9 361.5h1.0v1.0h-1.0zM59.7 352.4h1.0v1.0h-1.0zM59.0 351.8h1.0v1.0h-1.0zM53.0 360.9h1.0v1.0h-1.0zM45.6 366.1h1.0v1.0h-1.0zM55.9 355.6h1.0v1.0h-1.0zM47.8 363.1h1.0v1.0h-1.0zM52.9 359.9h1.0v1.0h-1.0zM45.0 363.3h1.0v1.0h-1.0zM51.1 362.9h1.0v1.0h-1.0zM58.5 354.2h1.0v1.0h-1.0zM46.7 362.9h1.0v1.0h-1.0zM48.6 365.9h1.0v1.0h-1.0zM45.7 364.4h1.0v1.0h-1.0zM57.9 357.9h1.0v1.0h-1.0zM56.6 358.0h1.0v1.0h-1.0zM46.0 364.8h1.0v1.0h-1.0zM52.6 357.6h1.0v1.0h-1.0zM55.1 360.4h1.0v1.0h-1.0zM54.7 359.4h1.0v1.0h-1.0zM45.6 366.4h1.0v1.0h-1.0zM45.7 365.1h1.0v1.0h-1.0zM43.2 364.8h1.0v1.0h-1.0zM56.5 356.9h1.0v1.0h-1.0zM54.7 359.8h1.0v1.0h-1.0zM60.7 353.9h1.0v1.0h-1.0zM44.3 365.5h1.0v1.0h-1.0zM56.4 355.3h1.0v1.0h-1.0zM51.2 361.7h1.0v1.0h-1.0zM55.9 358.5h1.0v1.0h-1.0zM57.8 356.1h1.0v1.0h-1.0zM57.1 354.6h1.0v1.0h-1.0zM54.5 355.8h1.0v1.0h-1.0z" fill="#a6d08a"/>
<path d="M170.3 327.3h1.0v1.0h-1.0zM186.5 325.2h1.0v1.0h-1.0zM169.8 326.6h1.0v1.0h-1.0zM174.5 326.2h1.0v1.0h-1.0zM190.6 325.5h1.0v1.0h-1.0zM181.0 324.9h1.0v1.0h-1.0zM179.7 324.6h1.0v1.0h-1.0zM175.1 327.8h1.0v1.0h-1.0zM191.0 325.7h1.0v1.0h-1.0zM170.7 327.4h1.0v1.0h-1.0zM176.8 326.3h1.0v1.0h-1.0zM180.7 325.3h1.0v1.0h-1.0zM173.8 327.0h1.0v1.0h-1.0zM184.8 324.1h1.0v1.0h-1.0zM169.0 328.0h1.0v1.0h-1.0zM186.9 324.6h1.0v1.0h-1.0zM176.8 327.4h1.0v1.0h-1.0zM186.5 324.3h1.0v1.0h-1.0zM186.6 325.5h1.0v1.0h-1.0zM168.3 327.5h1.0v1.0h-1.0zM191.1 325.5h1.0v1.0h-1.0zM175.6 326.3h1.0v1.0h-1.0zM175.2 326.8h1.0v1.0h-1.0zM167.2 329.9h1.0v1.0h-1.0zM188.9 324.9h1.0v1.0h-1.0zM173.5 326.7h1.0v1.0h-1.0zM176.1 326.9h1.0v1.0h-1.0zM181.7 326.1h1.0v1.0h-1.0zM190.9 326.0h1.0v1.0h-1.0zM191.5 324.9h1.0v1.0h-1.0zM189.7 325.0h1.0v1.0h-1.0zM178.0 325.4h1.0v1.0h-1.0zM186.3 326.1h1.0v1.0h-1.0zM187.0 324.7h1.0v1.0h-1.0zM164.5 329.3h1.0v1.0h-1.0zM179.9 325.8h1.0v1.0h-1.0zM179.6 324.8h1.0v1.0h-1.0zM169.8 327.3h1.0v1.0h-1.0zM183.9 325.0h1.0v1.0h-1.0zM190.9 325.4h1.0v1.0h-1.0zM165.0 328.6h1.0v1.0h-1.0zM180.1 325.8h1.0v1.0h-1.0zM191.2 324.6h1.0v1.0h-1.0zM171.7 326.9h1.0v1.0h-1.0zM177.0 326.6h1.0v1.0h-1.0zM175.4 326.9h1.0v1.0h-1.0zM185.5 325.7h1.0v1.0h-1.0zM190.3 325.9h1.0v1.0h-1.0zM164.0 329.2h1.0v1.0h-1.0zM183.8 324.7h1.0v1.0h-1.0zM178.9 324.5h1.0v1.0h-1.0zM171.4 327.3h1.0v1.0h-1.0zM183.1 325.0h1.0v1.0h-1.0zM176.7 325.4h1.0v1.0h-1.0zM164.3 329.6h1.0v1.0h-1.0zM185.4 324.8h1.0v1.0h-1.0zM191.1 325.7h1.0v1.0h-1.0zM187.5 324.6h1.0v1.0h-1.0zM174.2 326.3h1.0v1.0h-1.0zM181.8 326.1h1.0v1.0h-1.0zM182.6 324.9h1.0v1.0h-1.0zM184.3 325.2h1.0v1.0h-1.0zM172.6 327.0h1.0v1.0h-1.0zM167.3 328.5h1.0v1.0h-1.0zM187.8 325.2h1.0v1.0h-1.0zM165.4 329.7h1.0v1.0h-1.0zM184.9 325.2h1.0v1.0h-1.0zM171.2 327.5h1.0v1.0h-1.0zM189.6 325.4h1.0v1.0h-1.0zM190.2 325.4h1.0v1.0h-1.0zM165.5 328.4h1.0v1.0h-1.0zM185.4 325.3h1.0v1.0h-1.0zM167.7 328.6h1.0v1.0h-1.0zM184.1 325.0h1.0v1.0h-1.0zM189.5 325.3h1.0v1.0h-1.0zM182.1 325.4h1.0v1.0h-1.0zM175.6 326.2h1.0v1.0h-1.0zM166.4 327.9h1.0v1.0h-1.0zM179.3 325.1h1.0v1.0h-1.0zM180.5 324.7h1.0v1.0h-1.0zM180.7 325.6h1.0v1.0h-1.0zM187.6 324.8h1.0v1.0h-1.0zM179.7 325.5h1.0v1.0h-1.0zM178.1 325.7h1.0v1.0h-1.0zM175.0 326.8h1.0v1.0h-1.0zM187.3 326.3h1.0v1.0h-1.0zM176.5 327.5h1.0v1.0h-1.0zM167.2 329.3h1.0v1.0h-1.0zM177.5 325.1h1.0v1.0h-1.0zM181.8 325.1h1.0v1.0h-1.0zM180.2 324.2h1.0v1.0h-1.0zM186.4 325.1h1.0v1.0h-1.0zM173.5 327.2h1.0v1.0h-1.0zM176.9 324.9h1.0v1.0h-1.0zM166.5 330.1h1.0v1.0h-1.0zM169.5 328.4h1.0v1.0h-1.0zM186.0 325.4h1.0v1.0h-1.0zM168.2 328.6h1.0v1.0h-1.0zM186.4 325.7h1.0v1.0h-1.0zM186.2 325.5h1.0v1.0h-1.0zM178.2 326.0h1.0v1.0h-1.0zM186.8 325.2h1.0v1.0h-1.0zM172.1 327.7h1.0v1.0h-1.0zM185.5 325.6h1.0v1.0h-1.0zM172.0 327.4h1.0v1.0h-1.0zM176.8 326.4h1.0v1.0h-1.0zM185.4 326.0h1.0v1.0h-1.0zM182.6 325.9h1.0v1.0h-1.0zM179.1 325.7h1.0v1.0h-1.0zM177.6 326.1h1.0v1.0h-1.0zM175.0 326.4h1.0v1.0h-1.0zM168.2 328.1h1.0v1.0h-1.0zM164.2 329.4h1.0v1.0h-1.0zM178.4 325.9h1.0v1.0h-1.0zM175.7 326.1h1.0v1.0h-1.0zM189.2 325.6h1.0v1.0h-1.0zM177.0 326.7h1.0v1.0h-1.0zM184.9 325.7h1.0v1.0h-1.0zM177.2 326.8h1.0v1.0h-1.0zM182.5 324.8h1.0v1.0h-1.0zM164.3 329.0h1.0v1.0h-1.0zM168.5 328.5h1.0v1.0h-1.0zM177.4 325.6h1.0v1.0h-1.0zM184.7 324.5h1.0v1.0h-1.0zM184.4 325.1h1.0v1.0h-1.0zM177.6 326.7h1.0v1.0h-1.0zM184.7 325.5h1.0v1.0h-1.0zM183.6 325.6h1.0v1.0h-1.0zM183.8 325.5h1.0v1.0h-1.0zM185.3 326.2h1.0v1.0h-1.0zM181.5 325.3h1.0v1.0h-1.0zM170.0 327.7h1.0v1.0h-1.0zM184.9 325.6h1.0v1.0h-1.0zM164.7 329.2h1.0v1.0h-1.0zM173.3 327.2h1.0v1.0h-1.0zM189.7 325.3h1.0v1.0h-1.0zM185.5 326.1h1.0v1.0h-1.0zM182.3 324.1h1.0v1.0h-1.0zM169.0 327.5h1.0v1.0h-1.0zM182.1 325.7h1.0v1.0h-1.0z" fill="#1f7a35"/>
<path d="M200.7 327.8h1.0v1.0h-1.0zM196.0 327.0h1.0v1.0h-1.0zM200.5 326.2h1.0v1.0h-1.0zM192.9 326.8h1.0v1.0h-1.0zM201.0 326.8h1.0v1.0h-1.0zM194.7 326.7h1.0v1.0h-1.0zM197.4 327.3h1.0v1.0h-1.0zM191.6 326.1h1.0v1.0h-1.0zM192.1 326.3h1.0v1.0h-1.0zM194.0 326.7h1.0v1.0h-1.0zM198.9 326.1h1.0v1.0h-1.0zM200.0 327.5h1.0v1.0h-1.0zM200.0 327.6h1.0v1.0h-1.0zM197.9 326.7h1.0v1.0h-1.0z" fill="#1f7a35"/>
<path d="M149.0 370.5 L149.2 370.1 L149.5 369.6 L149.9 369.1 L150.2 368.6 L150.6 368.3 L151.0 368.0 L151.4 367.9 L151.9 367.8 L152.4 367.8 L152.9 367.9 L153.2 368.0 L153.5 368.3 L153.6 368.7 L153.7 369.2 L153.6 369.8 L153.5 370.4 L153.4 371.0 L153.2 371.5 L152.9 371.9 L152.6 372.3 L152.2 372.7 L151.8 373.1 L151.4 373.3 L151.0 373.5 L150.6 373.6 L150.1 373.6 L149.6 373.5 L149.1 373.4 L148.7 373.2 L148.5 373.0 L148.4 372.7 L148.4 372.3 L148.5 371.9 L148.6 371.4 L148.8 370.9 L149.0 370.5Z" fill="#1f7a35" fill-rule="evenodd"/>
<path d="M148.9 374.9h1.0v1.0h-1.0zM146.3 373.1h1.0v1.0h-1.0zM154.0 371.2h1.0v1.0h-1.0zM150.7 373.3h1.0v1.0h-1.0zM152.7 366.4h1.0v1.0h-1.0zM141.7 376.0h1.0v1.0h-1.0zM150.9 368.6h1.0v1.0h-1.0zM150.9 367.7h1.0v1.0h-1.0zM144.8 370.4h1.0v1.0h-1.0zM142.7 367.4h1.0v1.0h-1.0zM147.1 372.5h1.0v1.0h-1.0zM144.1 372.6h1.0v1.0h-1.0zM154.7 366.6h1.0v1.0h-1.0zM143.5 366.9h1.0v1.0h-1.0zM149.8 370.1h1.0v1.0h-1.0zM146.0 368.5h1.0v1.0h-1.0z" fill="#1f7a35"/>
<rect x="160.50" y="339.50" width="1.10" height="1.10" fill="#1f7a35"/>
<rect x="161.50" y="339.00" width="1.10" height="1.10" fill="#1f7a35"/>
<rect x="152.50" y="346.50" width="1.10" height="1.10" fill="#1f7a35"/>
<rect x="155.30" y="348.80" width="1.10" height="1.10" fill="#1f7a35"/>
<rect x="161.50" y="356.50" width="1.10" height="1.10" fill="#1f7a35"/>
<rect x="162.80" y="357.30" width="1.10" height="1.10" fill="#1f7a35"/>
<rect x="132.50" y="361.50" width="1.10" height="1.10" fill="#1f7a35"/>
<rect x="139.20" y="367.00" width="1.10" height="1.10" fill="#1f7a35"/>
<rect x="143.00" y="372.00" width="1.10" height="1.10" fill="#1f7a35"/>
<rect x="151.50" y="365.00" width="1.10" height="1.10" fill="#1f7a35"/>
<path d="M235.8 362.5 L236.3 362.5 L236.8 362.6 L237.4 362.7 L237.9 362.9 L238.5 363.2 L239.0 363.5 L239.5 363.8 L240.1 364.2 L240.6 364.6 L241.1 365.0 L241.6 365.5 L242.0 366.0 L242.4 366.5 L242.8 367.1 L243.2 367.7 L243.5 368.4 L243.7 369.0 L243.8 369.6 L243.7 370.2 L243.5 370.8 L243.2 371.4 L242.8 371.9 L242.4 372.5 L242.0 373.0 L241.6 373.5 L241.1 374.0 L240.5 374.4 L240.0 374.8 L239.5 375.2 L239.0 375.5 L238.6 375.8 L238.3 376.1 L238.0 376.3 L237.7 376.5 L237.4 376.6 L237.0 376.6 L236.6 376.5 L236.1 376.4 L235.5 376.1 L235.0 375.8 L234.5 375.4 L234.0 375.0 L233.5 374.5 L232.9 373.8 L232.4 373.1 L231.9 372.4 L231.5 371.7 L231.2 371.0 L231.1 370.4 L231.0 369.7 L231.0 369.1 L231.2 368.5 L231.3 367.9 L231.5 367.3 L231.7 366.8 L232.0 366.3 L232.4 365.8 L232.7 365.3 L233.1 364.9 L233.5 364.5 L233.9 364.1 L234.2 363.7 L234.6 363.3 L235.0 362.9 L235.4 362.7 L235.8 362.5Z" fill="#6cbd5f" fill-rule="evenodd"/>
<path d="M231.4 368.1h1.0v1.0h-1.0zM233.7 368.3h1.0v1.0h-1.0zM233.8 374.1h1.0v1.0h-1.0zM237.7 372.5h1.0v1.0h-1.0zM242.4 369.0h1.0v1.0h-1.0zM236.5 363.8h1.0v1.0h-1.0zM235.2 364.3h1.0v1.0h-1.0zM239.8 368.4h1.0v1.0h-1.0zM237.0 369.4h1.0v1.0h-1.0zM235.2 374.4h1.0v1.0h-1.0zM239.6 371.8h1.0v1.0h-1.0zM234.6 368.8h1.0v1.0h-1.0z" fill="#fff"/>
<path d="M237.8 363.4h1.0v1.0h-1.0zM234.2 362.4h1.0v1.0h-1.0zM233.4 363.2h1.0v1.0h-1.0zM234.2 373.8h1.0v1.0h-1.0zM242.9 365.6h1.0v1.0h-1.0zM242.2 364.6h1.0v1.0h-1.0zM240.3 374.8h1.0v1.0h-1.0zM239.1 362.8h1.0v1.0h-1.0zM240.3 372.4h1.0v1.0h-1.0zM235.8 362.3h1.0v1.0h-1.0zM233.0 364.8h1.0v1.0h-1.0zM241.5 364.3h1.0v1.0h-1.0zM242.7 373.0h1.0v1.0h-1.0zM234.6 363.1h1.0v1.0h-1.0zM231.0 368.0h1.0v1.0h-1.0zM234.7 361.9h1.0v1.0h-1.0zM237.0 361.9h1.0v1.0h-1.0zM239.4 373.4h1.0v1.0h-1.0zM235.4 362.8h1.0v1.0h-1.0zM243.2 372.2h1.0v1.0h-1.0zM234.6 374.3h1.0v1.0h-1.0zM234.3 374.4h1.0v1.0h-1.0zM239.9 374.3h1.0v1.0h-1.0zM236.0 362.9h1.0v1.0h-1.0zM234.6 376.4h1.0v1.0h-1.0zM241.6 365.8h1.0v1.0h-1.0zM232.6 371.7h1.0v1.0h-1.0zM240.1 373.7h1.0v1.0h-1.0zM230.6 372.7h1.0v1.0h-1.0zM233.8 362.6h1.0v1.0h-1.0zM235.1 363.1h1.0v1.0h-1.0zM230.2 366.4h1.0v1.0h-1.0zM239.3 374.5h1.0v1.0h-1.0zM243.0 370.3h1.0v1.0h-1.0zM242.9 369.8h1.0v1.0h-1.0zM231.6 371.3h1.0v1.0h-1.0zM231.3 368.2h1.0v1.0h-1.0zM241.7 371.6h1.0v1.0h-1.0zM229.5 369.4h1.0v1.0h-1.0zM232.0 373.0h1.0v1.0h-1.0z" fill="#6cbd5f"/>
<path d="M246.6 341.0h1.0v1.0h-1.0zM242.8 347.9h1.0v1.0h-1.0zM242.9 348.0h1.0v1.0h-1.0zM243.6 346.2h1.0v1.0h-1.0zM245.4 345.0h1.0v1.0h-1.0zM251.4 336.7h1.0v1.0h-1.0zM259.6 328.1h1.0v1.0h-1.0zM242.8 346.8h1.0v1.0h-1.0zM246.8 344.4h1.0v1.0h-1.0zM243.5 349.5h1.0v1.0h-1.0zM243.2 349.6h1.0v1.0h-1.0zM263.2 326.7h1.0v1.0h-1.0zM250.7 337.0h1.0v1.0h-1.0zM239.6 353.6h1.0v1.0h-1.0zM253.4 333.6h1.0v1.0h-1.0zM240.4 356.3h1.0v1.0h-1.0zM238.4 359.0h1.0v1.0h-1.0zM245.0 345.8h1.0v1.0h-1.0zM258.5 330.1h1.0v1.0h-1.0zM239.3 356.9h1.0v1.0h-1.0zM244.2 347.4h1.0v1.0h-1.0zM250.9 336.9h1.0v1.0h-1.0zM251.3 337.5h1.0v1.0h-1.0zM246.1 344.5h1.0v1.0h-1.0zM245.7 345.7h1.0v1.0h-1.0zM239.7 357.4h1.0v1.0h-1.0zM252.1 334.0h1.0v1.0h-1.0zM244.9 344.5h1.0v1.0h-1.0zM262.2 326.9h1.0v1.0h-1.0zM244.9 346.4h1.0v1.0h-1.0zM260.8 328.7h1.0v1.0h-1.0zM262.0 328.5h1.0v1.0h-1.0zM257.7 328.8h1.0v1.0h-1.0zM259.0 329.1h1.0v1.0h-1.0zM253.4 333.8h1.0v1.0h-1.0zM250.1 337.0h1.0v1.0h-1.0zM254.2 332.8h1.0v1.0h-1.0zM258.0 330.1h1.0v1.0h-1.0zM248.7 338.4h1.0v1.0h-1.0zM242.3 350.9h1.0v1.0h-1.0zM242.2 351.3h1.0v1.0h-1.0zM240.4 355.5h1.0v1.0h-1.0zM260.2 329.2h1.0v1.0h-1.0zM238.8 357.6h1.0v1.0h-1.0zM250.5 337.9h1.0v1.0h-1.0zM240.2 356.3h1.0v1.0h-1.0zM248.2 341.8h1.0v1.0h-1.0zM241.7 351.8h1.0v1.0h-1.0zM247.7 343.2h1.0v1.0h-1.0zM255.3 331.1h1.0v1.0h-1.0zM253.6 333.0h1.0v1.0h-1.0zM238.4 359.0h1.0v1.0h-1.0zM239.2 355.6h1.0v1.0h-1.0zM261.2 327.6h1.0v1.0h-1.0zM241.5 353.3h1.0v1.0h-1.0zM251.0 337.8h1.0v1.0h-1.0zM238.0 359.1h1.0v1.0h-1.0zM257.4 330.8h1.0v1.0h-1.0zM256.0 331.9h1.0v1.0h-1.0zM261.3 327.0h1.0v1.0h-1.0z" fill="#6cbd5f"/>
<path d="M241.1 353.3h1.0v1.0h-1.0zM236.3 350.3h1.0v1.0h-1.0zM239.4 350.1h1.0v1.0h-1.0zM241.2 349.0h1.0v1.0h-1.0zM235.3 350.4h1.0v1.0h-1.0zM239.7 346.8h1.0v1.0h-1.0zM240.1 346.0h1.0v1.0h-1.0zM241.6 351.4h1.0v1.0h-1.0zM240.3 348.0h1.0v1.0h-1.0zM239.5 347.5h1.0v1.0h-1.0zM239.9 345.7h1.0v1.0h-1.0zM241.5 349.8h1.0v1.0h-1.0zM243.1 351.8h1.0v1.0h-1.0zM239.3 350.2h1.0v1.0h-1.0zM243.1 351.9h1.0v1.0h-1.0zM239.2 349.9h1.0v1.0h-1.0zM241.6 350.5h1.0v1.0h-1.0zM240.9 351.5h1.0v1.0h-1.0zM241.1 349.8h1.0v1.0h-1.0zM239.3 347.9h1.0v1.0h-1.0zM240.3 345.6h1.0v1.0h-1.0zM240.9 354.1h1.0v1.0h-1.0zM243.3 350.7h1.0v1.0h-1.0zM241.3 352.8h1.0v1.0h-1.0zM241.3 347.3h1.0v1.0h-1.0zM238.6 349.5h1.0v1.0h-1.0zM241.9 348.1h1.0v1.0h-1.0zM238.8 351.1h1.0v1.0h-1.0zM236.7 348.5h1.0v1.0h-1.0zM238.4 347.3h1.0v1.0h-1.0zM241.1 350.7h1.0v1.0h-1.0zM238.2 349.8h1.0v1.0h-1.0zM240.4 351.1h1.0v1.0h-1.0zM240.4 351.2h1.0v1.0h-1.0zM235.5 351.2h1.0v1.0h-1.0zM243.0 352.1h1.0v1.0h-1.0zM241.2 353.3h1.0v1.0h-1.0zM242.8 351.0h1.0v1.0h-1.0zM237.5 351.1h1.0v1.0h-1.0zM241.5 353.0h1.0v1.0h-1.0z" fill="#6cbd5f"/>
<path d="M249.7 355.4h1.0v1.0h-1.0zM247.0 358.8h1.0v1.0h-1.0zM246.2 353.2h1.0v1.0h-1.0zM247.6 353.7h1.0v1.0h-1.0zM247.6 351.6h1.0v1.0h-1.0zM252.0 355.8h1.0v1.0h-1.0zM246.0 355.6h1.0v1.0h-1.0zM250.0 353.2h1.0v1.0h-1.0zM249.1 353.3h1.0v1.0h-1.0zM255.5 357.1h1.0v1.0h-1.0zM252.7 359.3h1.0v1.0h-1.0zM251.2 356.6h1.0v1.0h-1.0zM249.8 355.1h1.0v1.0h-1.0zM248.1 353.1h1.0v1.0h-1.0zM251.7 360.7h1.0v1.0h-1.0zM247.9 355.4h1.0v1.0h-1.0zM252.1 361.3h1.0v1.0h-1.0zM252.0 361.0h1.0v1.0h-1.0zM249.4 358.4h1.0v1.0h-1.0zM249.5 355.5h1.0v1.0h-1.0zM249.2 354.8h1.0v1.0h-1.0zM245.3 353.9h1.0v1.0h-1.0zM253.6 360.2h1.0v1.0h-1.0zM251.5 355.1h1.0v1.0h-1.0zM246.6 354.6h1.0v1.0h-1.0zM249.2 362.0h1.0v1.0h-1.0zM249.3 356.0h1.0v1.0h-1.0zM248.7 350.0h1.0v1.0h-1.0zM249.3 354.6h1.0v1.0h-1.0zM249.2 357.4h1.0v1.0h-1.0zM246.2 356.5h1.0v1.0h-1.0zM247.3 357.5h1.0v1.0h-1.0zM251.3 359.6h1.0v1.0h-1.0zM248.7 357.2h1.0v1.0h-1.0zM246.4 352.2h1.0v1.0h-1.0zM248.3 356.0h1.0v1.0h-1.0zM247.6 355.1h1.0v1.0h-1.0zM248.8 353.2h1.0v1.0h-1.0zM251.0 356.4h1.0v1.0h-1.0zM251.6 358.8h1.0v1.0h-1.0zM248.7 358.6h1.0v1.0h-1.0zM248.6 355.8h1.0v1.0h-1.0zM244.6 354.7h1.0v1.0h-1.0zM253.7 360.2h1.0v1.0h-1.0zM249.9 355.7h1.0v1.0h-1.0z" fill="#6cbd5f"/>
<path d="M246.8 359.7h1.0v1.0h-1.0zM246.3 356.3h1.0v1.0h-1.0zM239.9 359.9h1.0v1.0h-1.0zM241.4 359.7h1.0v1.0h-1.0zM245.4 355.8h1.0v1.0h-1.0zM244.0 362.9h1.0v1.0h-1.0zM244.3 359.3h1.0v1.0h-1.0zM238.8 359.2h1.0v1.0h-1.0zM246.1 358.8h1.0v1.0h-1.0zM240.6 361.8h1.0v1.0h-1.0zM244.7 359.0h1.0v1.0h-1.0zM244.4 359.9h1.0v1.0h-1.0zM242.3 358.2h1.0v1.0h-1.0zM245.0 357.9h1.0v1.0h-1.0zM247.8 358.5h1.0v1.0h-1.0zM244.5 358.3h1.0v1.0h-1.0zM243.6 357.7h1.0v1.0h-1.0zM241.4 362.8h1.0v1.0h-1.0zM245.7 355.0h1.0v1.0h-1.0zM245.4 358.5h1.0v1.0h-1.0zM239.6 360.1h1.0v1.0h-1.0zM240.8 361.6h1.0v1.0h-1.0zM244.5 356.5h1.0v1.0h-1.0zM240.3 362.2h1.0v1.0h-1.0zM245.7 355.1h1.0v1.0h-1.0zM246.6 359.0h1.0v1.0h-1.0zM240.3 361.1h1.0v1.0h-1.0zM244.7 355.8h1.0v1.0h-1.0zM245.8 357.7h1.0v1.0h-1.0zM248.4 358.2h1.0v1.0h-1.0z" fill="#6cbd5f"/>
<rect x="271.20" y="325.60" width="1.10" height="1.10" fill="#6cbd5f"/>
<path d="M224.3 364.5h1.0v1.0h-1.0zM229.2 365.5h1.0v1.0h-1.0zM225.6 366.2h1.0v1.0h-1.0zM223.5 366.7h1.0v1.0h-1.0zM229.9 363.2h1.0v1.0h-1.0zM226.0 364.4h1.0v1.0h-1.0zM227.1 366.6h1.0v1.0h-1.0zM220.1 363.4h1.0v1.0h-1.0zM225.6 368.1h1.0v1.0h-1.0zM228.7 367.9h1.0v1.0h-1.0zM221.2 364.9h1.0v1.0h-1.0zM226.2 365.0h1.0v1.0h-1.0zM222.2 368.5h1.0v1.0h-1.0zM226.8 365.2h1.0v1.0h-1.0zM225.0 367.1h1.0v1.0h-1.0zM228.3 367.6h1.0v1.0h-1.0zM223.4 368.8h1.0v1.0h-1.0zM228.3 364.4h1.0v1.0h-1.0zM221.6 365.4h1.0v1.0h-1.0zM222.6 368.2h1.0v1.0h-1.0zM219.7 367.9h1.0v1.0h-1.0zM221.4 367.8h1.0v1.0h-1.0z" fill="#6cbd5f"/>
<path d="M321.0 355.2h1.0v1.0h-1.0zM341.7 338.8h1.0v1.0h-1.0zM338.1 344.7h1.0v1.0h-1.0zM317.2 358.5h1.0v1.0h-1.0zM312.2 361.4h1.0v1.0h-1.0zM333.0 346.6h1.0v1.0h-1.0zM323.6 355.7h1.0v1.0h-1.0zM319.4 351.6h1.0v1.0h-1.0zM315.9 358.8h1.0v1.0h-1.0zM331.7 347.7h1.0v1.0h-1.0zM318.7 361.4h1.0v1.0h-1.0zM327.4 356.0h1.0v1.0h-1.0zM343.6 342.7h1.0v1.0h-1.0zM318.5 356.9h1.0v1.0h-1.0zM315.4 359.6h1.0v1.0h-1.0zM329.7 354.0h1.0v1.0h-1.0zM321.8 357.9h1.0v1.0h-1.0zM323.5 353.9h1.0v1.0h-1.0zM312.6 360.9h1.0v1.0h-1.0zM325.4 354.8h1.0v1.0h-1.0zM323.6 347.5h1.0v1.0h-1.0zM319.0 354.5h1.0v1.0h-1.0zM313.2 359.9h1.0v1.0h-1.0zM330.2 350.4h1.0v1.0h-1.0zM325.6 351.2h1.0v1.0h-1.0zM335.2 345.6h1.0v1.0h-1.0zM328.8 345.6h1.0v1.0h-1.0zM336.4 340.0h1.0v1.0h-1.0zM311.9 362.5h1.0v1.0h-1.0zM334.7 348.1h1.0v1.0h-1.0zM325.4 349.2h1.0v1.0h-1.0zM318.6 357.4h1.0v1.0h-1.0zM340.4 344.3h1.0v1.0h-1.0zM325.5 351.6h1.0v1.0h-1.0zM314.1 358.6h1.0v1.0h-1.0zM330.0 347.0h1.0v1.0h-1.0zM316.5 352.6h1.0v1.0h-1.0zM321.4 356.5h1.0v1.0h-1.0zM327.0 349.2h1.0v1.0h-1.0zM340.0 344.2h1.0v1.0h-1.0zM328.1 353.2h1.0v1.0h-1.0zM324.9 351.7h1.0v1.0h-1.0zM328.8 344.3h1.0v1.0h-1.0zM320.1 356.2h1.0v1.0h-1.0zM310.2 361.2h1.0v1.0h-1.0zM319.0 357.7h1.0v1.0h-1.0zM328.5 346.9h1.0v1.0h-1.0zM329.0 342.4h1.0v1.0h-1.0zM327.4 348.3h1.0v1.0h-1.0zM321.5 358.2h1.0v1.0h-1.0zM312.2 357.1h1.0v1.0h-1.0zM320.1 355.2h1.0v1.0h-1.0zM332.9 343.2h1.0v1.0h-1.0zM337.6 342.0h1.0v1.0h-1.0zM310.8 361.6h1.0v1.0h-1.0zM333.5 348.4h1.0v1.0h-1.0zM319.7 358.1h1.0v1.0h-1.0zM325.0 352.2h1.0v1.0h-1.0zM325.7 351.7h1.0v1.0h-1.0zM315.0 357.5h1.0v1.0h-1.0zM334.8 345.5h1.0v1.0h-1.0zM337.7 338.5h1.0v1.0h-1.0zM321.6 351.4h1.0v1.0h-1.0zM315.1 360.7h1.0v1.0h-1.0zM337.7 343.7h1.0v1.0h-1.0zM340.0 341.3h1.0v1.0h-1.0zM327.2 354.8h1.0v1.0h-1.0zM319.3 362.3h1.0v1.0h-1.0zM326.1 353.3h1.0v1.0h-1.0zM326.2 351.6h1.0v1.0h-1.0zM334.9 348.3h1.0v1.0h-1.0zM333.2 349.9h1.0v1.0h-1.0zM333.9 348.9h1.0v1.0h-1.0zM310.0 361.5h1.0v1.0h-1.0zM312.5 361.9h1.0v1.0h-1.0zM319.0 356.0h1.0v1.0h-1.0zM331.3 346.9h1.0v1.0h-1.0zM325.8 346.1h1.0v1.0h-1.0zM321.5 355.7h1.0v1.0h-1.0zM318.9 356.8h1.0v1.0h-1.0zM343.4 340.2h1.0v1.0h-1.0zM332.8 352.1h1.0v1.0h-1.0zM329.6 346.2h1.0v1.0h-1.0zM336.3 340.9h1.0v1.0h-1.0zM311.8 360.2h1.0v1.0h-1.0zM336.8 348.5h1.0v1.0h-1.0zM330.6 346.8h1.0v1.0h-1.0zM328.6 346.9h1.0v1.0h-1.0zM329.4 349.8h1.0v1.0h-1.0zM318.8 355.1h1.0v1.0h-1.0zM321.8 356.4h1.0v1.0h-1.0zM328.9 354.4h1.0v1.0h-1.0zM313.6 363.2h1.0v1.0h-1.0zM335.8 341.4h1.0v1.0h-1.0zM333.3 343.4h1.0v1.0h-1.0zM329.1 350.9h1.0v1.0h-1.0zM342.2 341.7h1.0v1.0h-1.0zM325.1 344.4h1.0v1.0h-1.0zM327.5 349.1h1.0v1.0h-1.0zM330.4 352.0h1.0v1.0h-1.0zM336.6 346.8h1.0v1.0h-1.0zM316.0 353.4h1.0v1.0h-1.0zM332.5 348.8h1.0v1.0h-1.0zM330.5 349.1h1.0v1.0h-1.0zM311.1 364.1h1.0v1.0h-1.0zM317.0 355.6h1.0v1.0h-1.0zM324.2 353.0h1.0v1.0h-1.0zM339.2 340.0h1.0v1.0h-1.0zM330.6 345.7h1.0v1.0h-1.0zM330.4 347.6h1.0v1.0h-1.0zM320.8 361.6h1.0v1.0h-1.0zM323.3 356.4h1.0v1.0h-1.0zM333.3 341.5h1.0v1.0h-1.0zM323.3 354.1h1.0v1.0h-1.0zM337.1 343.5h1.0v1.0h-1.0zM326.9 347.6h1.0v1.0h-1.0zM321.1 358.5h1.0v1.0h-1.0zM328.9 347.3h1.0v1.0h-1.0zM330.2 350.6h1.0v1.0h-1.0zM336.2 345.2h1.0v1.0h-1.0zM329.5 348.8h1.0v1.0h-1.0zM339.3 343.3h1.0v1.0h-1.0zM337.3 344.3h1.0v1.0h-1.0zM327.6 349.0h1.0v1.0h-1.0zM323.4 350.8h1.0v1.0h-1.0zM331.8 348.3h1.0v1.0h-1.0zM329.4 349.7h1.0v1.0h-1.0zM316.6 359.3h1.0v1.0h-1.0zM338.0 345.4h1.0v1.0h-1.0zM320.7 352.0h1.0v1.0h-1.0zM327.1 349.4h1.0v1.0h-1.0zM340.4 338.8h1.0v1.0h-1.0zM341.4 342.3h1.0v1.0h-1.0zM319.9 357.0h1.0v1.0h-1.0zM341.2 346.5h1.0v1.0h-1.0zM322.3 350.2h1.0v1.0h-1.0zM328.2 350.1h1.0v1.0h-1.0zM331.4 348.0h1.0v1.0h-1.0zM330.8 353.1h1.0v1.0h-1.0zM325.3 346.9h1.0v1.0h-1.0zM309.6 356.3h1.0v1.0h-1.0zM324.3 349.6h1.0v1.0h-1.0zM329.5 345.2h1.0v1.0h-1.0zM324.1 352.8h1.0v1.0h-1.0zM315.5 354.3h1.0v1.0h-1.0zM335.1 346.2h1.0v1.0h-1.0zM311.3 361.8h1.0v1.0h-1.0zM313.8 361.4h1.0v1.0h-1.0zM310.3 361.8h1.0v1.0h-1.0zM330.7 345.6h1.0v1.0h-1.0zM337.8 343.7h1.0v1.0h-1.0zM315.0 361.5h1.0v1.0h-1.0zM317.2 364.5h1.0v1.0h-1.0zM341.1 338.9h1.0v1.0h-1.0zM315.4 356.2h1.0v1.0h-1.0zM313.2 362.3h1.0v1.0h-1.0zM333.9 350.6h1.0v1.0h-1.0zM335.9 338.6h1.0v1.0h-1.0zM320.9 356.3h1.0v1.0h-1.0zM324.4 350.7h1.0v1.0h-1.0zM313.1 361.6h1.0v1.0h-1.0zM322.5 355.1h1.0v1.0h-1.0zM333.5 343.7h1.0v1.0h-1.0zM319.7 355.8h1.0v1.0h-1.0zM323.1 355.3h1.0v1.0h-1.0zM341.6 340.7h1.0v1.0h-1.0zM335.3 343.6h1.0v1.0h-1.0zM326.4 349.9h1.0v1.0h-1.0zM336.3 344.5h1.0v1.0h-1.0zM321.8 352.7h1.0v1.0h-1.0zM331.5 349.8h1.0v1.0h-1.0zM314.1 363.4h1.0v1.0h-1.0zM337.0 343.5h1.0v1.0h-1.0zM334.5 347.9h1.0v1.0h-1.0zM332.2 351.5h1.0v1.0h-1.0zM319.1 356.7h1.0v1.0h-1.0zM315.5 360.3h1.0v1.0h-1.0zM314.5 355.4h1.0v1.0h-1.0zM336.1 342.2h1.0v1.0h-1.0zM316.1 360.5h1.0v1.0h-1.0zM325.4 353.0h1.0v1.0h-1.0zM318.6 353.5h1.0v1.0h-1.0zM333.8 350.7h1.0v1.0h-1.0zM332.8 346.8h1.0v1.0h-1.0zM326.9 354.0h1.0v1.0h-1.0zM340.2 342.0h1.0v1.0h-1.0zM340.6 340.6h1.0v1.0h-1.0zM339.0 336.1h1.0v1.0h-1.0zM322.1 360.0h1.0v1.0h-1.0zM335.1 339.5h1.0v1.0h-1.0zM318.0 357.4h1.0v1.0h-1.0zM318.0 357.2h1.0v1.0h-1.0zM338.8 344.6h1.0v1.0h-1.0zM319.0 360.9h1.0v1.0h-1.0zM345.9 343.7h1.0v1.0h-1.0zM327.8 346.6h1.0v1.0h-1.0zM343.7 339.9h1.0v1.0h-1.0zM315.0 362.9h1.0v1.0h-1.0zM332.4 351.8h1.0v1.0h-1.0zM335.7 343.5h1.0v1.0h-1.0zM341.0 343.1h1.0v1.0h-1.0zM333.8 342.0h1.0v1.0h-1.0zM315.7 359.4h1.0v1.0h-1.0zM336.4 348.6h1.0v1.0h-1.0zM322.1 351.7h1.0v1.0h-1.0zM336.3 344.0h1.0v1.0h-1.0zM324.5 351.6h1.0v1.0h-1.0zM326.4 353.3h1.0v1.0h-1.0zM339.0 341.6h1.0v1.0h-1.0zM322.7 355.0h1.0v1.0h-1.0zM323.7 356.7h1.0v1.0h-1.0zM327.7 347.8h1.0v1.0h-1.0zM318.8 353.9h1.0v1.0h-1.0zM327.6 352.5h1.0v1.0h-1.0zM327.9 354.4h1.0v1.0h-1.0zM321.5 354.1h1.0v1.0h-1.0zM334.5 345.8h1.0v1.0h-1.0zM323.8 354.6h1.0v1.0h-1.0zM327.1 349.5h1.0v1.0h-1.0zM330.7 346.6h1.0v1.0h-1.0zM340.6 340.4h1.0v1.0h-1.0zM328.6 352.8h1.0v1.0h-1.0zM337.1 345.6h1.0v1.0h-1.0zM326.8 347.0h1.0v1.0h-1.0zM316.3 357.9h1.0v1.0h-1.0zM311.3 361.4h1.0v1.0h-1.0zM315.4 360.9h1.0v1.0h-1.0zM314.9 357.9h1.0v1.0h-1.0zM334.3 343.4h1.0v1.0h-1.0zM331.8 347.6h1.0v1.0h-1.0zM346.4 344.3h1.0v1.0h-1.0zM329.1 350.3h1.0v1.0h-1.0zM333.0 343.2h1.0v1.0h-1.0zM320.9 353.5h1.0v1.0h-1.0zM332.1 341.6h1.0v1.0h-1.0zM330.2 350.1h1.0v1.0h-1.0zM335.9 341.3h1.0v1.0h-1.0zM323.3 354.9h1.0v1.0h-1.0zM327.9 349.0h1.0v1.0h-1.0zM310.4 358.3h1.0v1.0h-1.0zM341.3 337.9h1.0v1.0h-1.0zM335.7 344.5h1.0v1.0h-1.0zM317.7 364.4h1.0v1.0h-1.0zM328.2 350.0h1.0v1.0h-1.0zM329.7 347.5h1.0v1.0h-1.0zM340.4 341.5h1.0v1.0h-1.0zM309.6 359.0h1.0v1.0h-1.0zM334.8 348.6h1.0v1.0h-1.0zM314.8 358.2h1.0v1.0h-1.0zM322.0 356.3h1.0v1.0h-1.0zM319.9 361.7h1.0v1.0h-1.0zM339.6 344.8h1.0v1.0h-1.0zM323.7 354.2h1.0v1.0h-1.0zM331.1 353.1h1.0v1.0h-1.0zM337.0 339.6h1.0v1.0h-1.0zM330.8 347.0h1.0v1.0h-1.0zM337.5 347.2h1.0v1.0h-1.0zM326.7 350.3h1.0v1.0h-1.0zM327.0 351.2h1.0v1.0h-1.0zM334.6 346.7h1.0v1.0h-1.0z" fill="#9dc9e3"/>
<path d="M318.7 363.5h1.0v1.0h-1.0zM328.5 361.8h1.0v1.0h-1.0zM335.0 359.1h1.0v1.0h-1.0zM341.6 360.5h1.0v1.0h-1.0zM339.4 362.7h1.0v1.0h-1.0zM329.9 364.3h1.0v1.0h-1.0zM330.2 362.3h1.0v1.0h-1.0zM325.9 363.9h1.0v1.0h-1.0zM342.5 353.5h1.0v1.0h-1.0zM322.6 368.3h1.0v1.0h-1.0zM330.5 366.9h1.0v1.0h-1.0zM327.4 366.2h1.0v1.0h-1.0zM330.7 365.3h1.0v1.0h-1.0zM340.9 362.7h1.0v1.0h-1.0zM329.7 363.5h1.0v1.0h-1.0zM348.2 354.0h1.0v1.0h-1.0zM346.5 353.7h1.0v1.0h-1.0zM348.2 353.4h1.0v1.0h-1.0zM326.5 368.1h1.0v1.0h-1.0zM331.6 364.7h1.0v1.0h-1.0zM345.6 356.0h1.0v1.0h-1.0zM333.4 363.4h1.0v1.0h-1.0zM319.8 367.3h1.0v1.0h-1.0zM345.1 353.5h1.0v1.0h-1.0zM348.1 354.4h1.0v1.0h-1.0zM336.7 364.9h1.0v1.0h-1.0zM349.4 355.5h1.0v1.0h-1.0zM349.8 354.3h1.0v1.0h-1.0zM320.6 367.5h1.0v1.0h-1.0zM331.6 365.8h1.0v1.0h-1.0zM350.3 354.3h1.0v1.0h-1.0zM328.5 369.3h1.0v1.0h-1.0zM346.4 355.7h1.0v1.0h-1.0zM349.8 353.9h1.0v1.0h-1.0zM319.2 368.1h1.0v1.0h-1.0zM336.7 359.5h1.0v1.0h-1.0zM328.3 363.4h1.0v1.0h-1.0zM341.3 355.6h1.0v1.0h-1.0zM323.0 367.5h1.0v1.0h-1.0zM337.0 359.1h1.0v1.0h-1.0zM344.3 356.6h1.0v1.0h-1.0zM333.5 359.8h1.0v1.0h-1.0zM324.3 368.5h1.0v1.0h-1.0zM342.1 355.4h1.0v1.0h-1.0zM348.6 353.1h1.0v1.0h-1.0zM333.5 360.8h1.0v1.0h-1.0zM324.5 365.8h1.0v1.0h-1.0zM341.9 362.2h1.0v1.0h-1.0zM324.0 364.5h1.0v1.0h-1.0zM344.2 356.0h1.0v1.0h-1.0zM344.6 355.5h1.0v1.0h-1.0zM325.3 367.0h1.0v1.0h-1.0zM336.6 360.4h1.0v1.0h-1.0zM342.4 357.8h1.0v1.0h-1.0zM338.2 359.6h1.0v1.0h-1.0zM330.8 364.9h1.0v1.0h-1.0zM337.9 361.1h1.0v1.0h-1.0zM320.7 368.6h1.0v1.0h-1.0zM318.9 366.5h1.0v1.0h-1.0zM337.9 357.6h1.0v1.0h-1.0zM329.4 365.0h1.0v1.0h-1.0zM344.2 356.6h1.0v1.0h-1.0zM335.9 361.7h1.0v1.0h-1.0zM328.4 366.7h1.0v1.0h-1.0zM331.3 363.8h1.0v1.0h-1.0zM342.8 356.2h1.0v1.0h-1.0zM327.1 367.6h1.0v1.0h-1.0zM324.2 368.9h1.0v1.0h-1.0zM348.8 352.0h1.0v1.0h-1.0zM334.8 358.5h1.0v1.0h-1.0zM347.0 356.4h1.0v1.0h-1.0zM323.2 364.7h1.0v1.0h-1.0zM340.6 360.2h1.0v1.0h-1.0zM340.8 358.2h1.0v1.0h-1.0zM323.2 367.9h1.0v1.0h-1.0zM335.5 358.9h1.0v1.0h-1.0zM335.9 357.8h1.0v1.0h-1.0zM338.1 359.3h1.0v1.0h-1.0zM329.1 366.2h1.0v1.0h-1.0zM341.8 356.8h1.0v1.0h-1.0zM333.3 364.3h1.0v1.0h-1.0zM335.1 362.8h1.0v1.0h-1.0zM322.7 363.3h1.0v1.0h-1.0zM339.6 354.9h1.0v1.0h-1.0zM335.5 359.3h1.0v1.0h-1.0zM342.2 356.0h1.0v1.0h-1.0zM339.2 355.4h1.0v1.0h-1.0zM339.1 359.1h1.0v1.0h-1.0zM322.1 368.7h1.0v1.0h-1.0zM330.2 366.6h1.0v1.0h-1.0zM339.1 355.8h1.0v1.0h-1.0zM341.6 358.5h1.0v1.0h-1.0zM347.7 352.5h1.0v1.0h-1.0zM349.1 353.1h1.0v1.0h-1.0zM329.9 364.9h1.0v1.0h-1.0zM331.1 362.4h1.0v1.0h-1.0zM341.2 362.9h1.0v1.0h-1.0zM347.6 351.5h1.0v1.0h-1.0zM335.0 361.6h1.0v1.0h-1.0zM333.5 358.8h1.0v1.0h-1.0zM341.3 356.1h1.0v1.0h-1.0zM330.2 366.4h1.0v1.0h-1.0zM323.8 368.9h1.0v1.0h-1.0zM334.7 360.8h1.0v1.0h-1.0zM340.8 358.1h1.0v1.0h-1.0zM339.1 360.3h1.0v1.0h-1.0zM327.5 366.9h1.0v1.0h-1.0zM332.7 365.7h1.0v1.0h-1.0zM345.4 350.2h1.0v1.0h-1.0zM343.3 357.1h1.0v1.0h-1.0zM339.2 358.1h1.0v1.0h-1.0zM345.6 354.9h1.0v1.0h-1.0zM324.2 368.6h1.0v1.0h-1.0zM343.8 350.8h1.0v1.0h-1.0zM346.2 355.7h1.0v1.0h-1.0zM342.0 355.0h1.0v1.0h-1.0zM340.4 356.9h1.0v1.0h-1.0zM337.6 358.1h1.0v1.0h-1.0zM344.0 359.0h1.0v1.0h-1.0zM348.4 356.0h1.0v1.0h-1.0zM324.2 370.8h1.0v1.0h-1.0zM333.4 362.6h1.0v1.0h-1.0zM336.6 359.3h1.0v1.0h-1.0zM330.2 365.6h1.0v1.0h-1.0zM349.4 355.6h1.0v1.0h-1.0zM328.3 366.8h1.0v1.0h-1.0zM340.2 361.7h1.0v1.0h-1.0zM325.9 365.2h1.0v1.0h-1.0zM347.6 350.6h1.0v1.0h-1.0zM347.7 356.8h1.0v1.0h-1.0zM330.6 367.6h1.0v1.0h-1.0zM348.2 358.9h1.0v1.0h-1.0zM326.6 368.8h1.0v1.0h-1.0zM325.1 363.8h1.0v1.0h-1.0zM321.4 365.8h1.0v1.0h-1.0zM325.4 365.5h1.0v1.0h-1.0zM319.3 368.9h1.0v1.0h-1.0zM320.9 368.5h1.0v1.0h-1.0zM325.8 363.5h1.0v1.0h-1.0zM330.5 364.4h1.0v1.0h-1.0zM325.4 363.6h1.0v1.0h-1.0zM331.7 363.1h1.0v1.0h-1.0zM332.6 358.2h1.0v1.0h-1.0zM320.5 364.7h1.0v1.0h-1.0zM345.8 356.1h1.0v1.0h-1.0zM337.9 357.7h1.0v1.0h-1.0zM347.0 355.4h1.0v1.0h-1.0zM319.9 364.6h1.0v1.0h-1.0zM327.3 369.1h1.0v1.0h-1.0zM326.9 370.6h1.0v1.0h-1.0zM331.7 362.8h1.0v1.0h-1.0zM327.5 362.1h1.0v1.0h-1.0zM345.8 352.9h1.0v1.0h-1.0zM324.4 369.9h1.0v1.0h-1.0zM349.6 357.8h1.0v1.0h-1.0zM332.0 364.7h1.0v1.0h-1.0zM340.6 360.2h1.0v1.0h-1.0zM344.5 351.0h1.0v1.0h-1.0zM346.2 360.1h1.0v1.0h-1.0zM334.2 366.1h1.0v1.0h-1.0zM326.2 365.8h1.0v1.0h-1.0zM351.5 355.9h1.0v1.0h-1.0zM339.3 361.5h1.0v1.0h-1.0zM335.1 360.0h1.0v1.0h-1.0zM320.8 367.9h1.0v1.0h-1.0zM317.8 364.3h1.0v1.0h-1.0zM337.0 360.0h1.0v1.0h-1.0zM348.8 353.5h1.0v1.0h-1.0zM343.1 362.2h1.0v1.0h-1.0zM324.3 369.9h1.0v1.0h-1.0z" fill="#9dc9e3"/>
<path d="M341.0 356.0 L341.4 355.3 L342.0 354.6 L342.7 353.8 L343.4 353.1 L344.2 352.5 L345.0 352.0 L345.8 351.6 L346.7 351.2 L347.6 350.8 L348.5 350.6 L349.3 350.5 L350.0 350.5 L350.6 350.7 L351.0 351.0 L351.4 351.4 L351.7 351.9 L351.9 352.4 L352.0 353.0 L351.9 353.7 L351.7 354.4 L351.4 355.2 L351.0 356.0 L350.6 356.8 L350.0 357.5 L349.3 358.1 L348.5 358.7 L347.6 359.3 L346.7 359.8 L345.8 360.2 L345.0 360.5 L344.2 360.7 L343.4 360.7 L342.7 360.7 L342.0 360.6 L341.4 360.3 L341.0 360.0 L340.7 359.5 L340.6 358.9 L340.5 358.2 L340.6 357.5 L340.7 356.7 L341.0 356.0Z" fill="#9dc9e3" fill-rule="evenodd" opacity="0.75"/>
<path d="M345.5 328.5h1.0v1.0h-1.0zM346.7 329.1h1.0v1.0h-1.0zM347.1 328.0h1.0v1.0h-1.0zM345.6 329.7h1.0v1.0h-1.0zM345.2 329.7h1.0v1.0h-1.0zM345.4 331.2h1.0v1.0h-1.0zM345.9 328.5h1.0v1.0h-1.0zM346.8 329.6h1.0v1.0h-1.0zM348.8 329.6h1.0v1.0h-1.0zM345.4 329.2h1.0v1.0h-1.0zM348.8 329.2h1.0v1.0h-1.0zM348.2 328.0h1.0v1.0h-1.0zM348.9 329.2h1.0v1.0h-1.0zM345.6 329.4h1.0v1.0h-1.0zM348.3 328.6h1.0v1.0h-1.0zM345.2 330.5h1.0v1.0h-1.0zM348.2 328.8h1.0v1.0h-1.0zM347.6 329.4h1.0v1.0h-1.0zM345.1 329.9h1.0v1.0h-1.0zM349.1 328.2h1.0v1.0h-1.0zM345.5 330.3h1.0v1.0h-1.0zM348.3 329.4h1.0v1.0h-1.0z" fill="#9dc9e3"/>
<rect x="352.70" y="328.70" width="1.00" height="1.00" fill="#9dc9e3"/>
<rect x="325.60" y="373.00" width="1.00" height="1.00" fill="#9dc9e3"/>
<rect x="328.50" y="376.00" width="1.00" height="1.00" fill="#9dc9e3"/>
<rect x="313.00" y="366.00" width="1.00" height="1.00" fill="#9dc9e3"/>
<rect x="336.00" y="357.00" width="1.00" height="1.00" fill="#9dc9e3"/>
<rect x="331.00" y="356.00" width="1.00" height="1.00" fill="#9dc9e3"/>
<path d="M436.2 330.2 L436.6 329.9 L437.1 329.6 L437.7 329.3 L438.5 329.0 L439.2 328.7 L440.0 328.4 L440.8 328.1 L441.6 327.8 L442.4 327.5 L443.3 327.3 L444.2 327.0 L445.0 326.8 L445.8 326.6 L446.6 326.4 L447.4 326.2 L448.3 326.1 L449.1 325.9 L450.0 325.8 L450.9 325.7 L451.9 325.6 L452.9 325.5 L454.0 325.4 L455.0 325.3 L456.0 325.2 L457.0 325.1 L458.1 325.1 L459.2 325.0 L460.2 325.0 L461.1 324.9 L462.0 324.8 L462.7 324.7 L463.4 324.5 L464.0 324.4 L464.5 324.2 L465.0 324.0 L465.5 323.8 L466.0 323.6 L466.4 323.4 L466.8 323.1 L467.2 322.9 L467.6 322.7 L468.0 322.6 L468.5 322.5 L468.9 322.5 L469.4 322.5 L469.9 322.6 L470.5 322.7 L471.0 322.8 L471.6 322.9 L472.2 323.1 L472.8 323.3 L473.4 323.6 L474.0 323.9 L474.5 324.2 L474.9 324.6 L475.3 325.0 L475.6 325.5 L475.9 326.0 L476.1 326.5 L476.2 327.0 L476.3 327.6 L476.3 328.2 L476.2 328.8 L476.1 329.4 L475.8 330.0 L475.5 330.5 L475.0 331.0 L474.4 331.4 L473.7 331.8 L473.0 332.2 L472.2 332.4 L471.5 332.6 L470.8 332.7 L470.2 332.7 L469.5 332.6 L468.9 332.4 L468.2 332.2 L467.5 332.0 L466.8 331.7 L466.1 331.2 L465.4 330.8 L464.7 330.3 L463.9 329.8 L463.0 329.5 L462.0 329.3 L460.8 329.1 L459.6 329.0 L458.4 328.9 L457.1 328.8 L456.0 328.8 L454.9 328.8 L453.9 328.8 L452.9 328.9 L451.9 329.0 L450.9 329.1 L450.0 329.2 L449.1 329.3 L448.3 329.4 L447.4 329.5 L446.6 329.7 L445.8 329.8 L445.0 330.0 L444.1 330.2 L443.3 330.5 L442.4 330.8 L441.5 331.0 L440.7 331.3 L440.0 331.5 L439.4 331.7 L438.8 331.9 L438.2 332.1 L437.8 332.2 L437.3 332.2 L437.0 332.2 L436.7 332.0 L436.4 331.7 L436.2 331.4 L436.0 331.0 L436.0 330.6 L436.2 330.2Z" fill="#2b7bbb" fill-rule="evenodd"/>
<path d="M468.2 330.0h1.0v1.0h-1.0zM472.3 326.4h1.0v1.0h-1.0zM448.6 325.6h1.0v1.0h-1.0zM455.3 326.9h1.0v1.0h-1.0zM457.2 327.7h1.0v1.0h-1.0zM464.3 326.5h1.0v1.0h-1.0zM472.0 328.7h1.0v1.0h-1.0zM473.6 325.4h1.0v1.0h-1.0zM436.6 331.3h1.0v1.0h-1.0zM467.9 328.8h1.0v1.0h-1.0zM450.4 326.9h1.0v1.0h-1.0zM469.3 322.8h1.0v1.0h-1.0zM452.2 326.5h1.0v1.0h-1.0zM450.7 328.2h1.0v1.0h-1.0zM463.6 328.4h1.0v1.0h-1.0zM455.9 325.7h1.0v1.0h-1.0zM469.4 331.0h1.0v1.0h-1.0zM444.4 329.5h1.0v1.0h-1.0zM472.2 322.9h1.0v1.0h-1.0zM463.4 329.1h1.0v1.0h-1.0zM472.3 323.9h1.0v1.0h-1.0zM472.3 330.2h1.0v1.0h-1.0zM451.2 326.9h1.0v1.0h-1.0z" fill="#fff"/>
<path d="M475.0 327.7h1.0v1.0h-1.0zM443.0 326.5h1.0v1.0h-1.0zM439.8 328.1h1.0v1.0h-1.0zM451.8 324.6h1.0v1.0h-1.0zM450.0 329.5h1.0v1.0h-1.0zM448.6 325.0h1.0v1.0h-1.0zM450.6 328.6h1.0v1.0h-1.0zM466.9 330.6h1.0v1.0h-1.0zM455.5 324.6h1.0v1.0h-1.0zM449.9 325.8h1.0v1.0h-1.0zM437.4 329.3h1.0v1.0h-1.0zM466.0 323.0h1.0v1.0h-1.0zM451.7 325.9h1.0v1.0h-1.0zM463.2 323.8h1.0v1.0h-1.0zM439.4 330.8h1.0v1.0h-1.0zM463.4 323.3h1.0v1.0h-1.0zM441.7 329.8h1.0v1.0h-1.0zM466.4 331.1h1.0v1.0h-1.0zM441.1 331.3h1.0v1.0h-1.0zM467.6 322.7h1.0v1.0h-1.0zM464.3 329.6h1.0v1.0h-1.0zM464.2 329.8h1.0v1.0h-1.0zM472.3 331.8h1.0v1.0h-1.0zM438.8 331.7h1.0v1.0h-1.0zM457.8 324.2h1.0v1.0h-1.0zM449.1 325.6h1.0v1.0h-1.0zM470.7 333.0h1.0v1.0h-1.0zM457.5 325.3h1.0v1.0h-1.0zM459.1 324.8h1.0v1.0h-1.0zM471.6 321.9h1.0v1.0h-1.0zM436.7 331.5h1.0v1.0h-1.0zM457.2 324.8h1.0v1.0h-1.0zM461.6 324.9h1.0v1.0h-1.0zM437.3 328.6h1.0v1.0h-1.0zM466.3 330.6h1.0v1.0h-1.0zM444.1 325.5h1.0v1.0h-1.0zM474.4 324.4h1.0v1.0h-1.0zM475.8 324.5h1.0v1.0h-1.0zM458.9 324.9h1.0v1.0h-1.0zM474.4 329.3h1.0v1.0h-1.0zM440.0 328.0h1.0v1.0h-1.0zM469.8 332.3h1.0v1.0h-1.0zM440.9 327.1h1.0v1.0h-1.0zM463.0 323.3h1.0v1.0h-1.0zM448.5 329.6h1.0v1.0h-1.0zM439.0 329.0h1.0v1.0h-1.0zM438.2 331.1h1.0v1.0h-1.0zM475.2 328.6h1.0v1.0h-1.0zM439.9 327.2h1.0v1.0h-1.0zM476.5 327.3h1.0v1.0h-1.0zM444.0 329.5h1.0v1.0h-1.0zM456.0 324.9h1.0v1.0h-1.0zM447.9 328.6h1.0v1.0h-1.0zM444.0 329.1h1.0v1.0h-1.0zM472.7 330.6h1.0v1.0h-1.0zM444.5 330.0h1.0v1.0h-1.0zM454.1 324.1h1.0v1.0h-1.0zM459.3 327.9h1.0v1.0h-1.0zM473.6 330.0h1.0v1.0h-1.0zM464.7 322.8h1.0v1.0h-1.0zM466.4 323.0h1.0v1.0h-1.0zM473.4 324.3h1.0v1.0h-1.0zM467.3 322.9h1.0v1.0h-1.0zM459.2 328.4h1.0v1.0h-1.0zM436.3 331.1h1.0v1.0h-1.0zM443.6 328.7h1.0v1.0h-1.0zM459.7 328.7h1.0v1.0h-1.0zM460.2 325.3h1.0v1.0h-1.0zM467.0 323.2h1.0v1.0h-1.0zM460.7 323.8h1.0v1.0h-1.0z" fill="#2b7bbb"/>
<rect x="432.60" y="339.10" width="1.10" height="1.10" fill="#2b7bbb"/>
<rect x="432.80" y="340.10" width="1.10" height="1.10" fill="#2b7bbb"/>
<rect x="432.40" y="340.80" width="1.10" height="1.10" fill="#2b7bbb"/>
<rect x="424.00" y="344.90" width="1.10" height="1.10" fill="#2b7bbb"/>
<rect x="424.90" y="344.20" width="1.10" height="1.10" fill="#2b7bbb"/>
<rect x="425.90" y="343.50" width="1.10" height="1.10" fill="#2b7bbb"/>
<rect x="426.80" y="342.80" width="1.10" height="1.10" fill="#2b7bbb"/>
<rect x="427.60" y="342.30" width="1.10" height="1.10" fill="#2b7bbb"/>
<rect x="421.60" y="352.40" width="1.10" height="1.10" fill="#2b7bbb"/>
<rect x="418.00" y="354.00" width="1.10" height="1.10" fill="#2b7bbb"/>
<rect x="418.20" y="353.60" width="1.10" height="1.10" fill="#2b7bbb"/>
<rect x="417.40" y="358.60" width="1.10" height="1.10" fill="#2b7bbb"/>
<rect x="432.30" y="358.60" width="1.10" height="1.10" fill="#2b7bbb"/>
<rect x="408.40" y="361.00" width="1.10" height="1.10" fill="#2b7bbb"/>
<rect x="410.70" y="364.60" width="1.10" height="1.10" fill="#2b7bbb"/>
<rect x="413.40" y="369.40" width="1.10" height="1.10" fill="#2b7bbb"/>
<path d="M192.5 391.0 L192.9 390.5 L193.4 390.1 L193.9 389.6 L194.6 389.2 L195.3 388.9 L196.0 388.6 L196.8 388.4 L197.6 388.3 L198.5 388.2 L199.4 388.2 L200.2 388.3 L201.0 388.4 L201.7 388.6 L202.4 388.8 L203.1 389.1 L203.6 389.4 L204.1 389.8 L204.5 390.2 L204.7 390.7 L204.9 391.3 L205.0 392.0 L204.9 392.7 L204.8 393.3 L204.5 393.8 L204.1 394.3 L203.5 394.7 L202.8 395.0 L202.1 395.4 L201.3 395.6 L200.5 395.8 L199.7 395.9 L198.8 395.9 L197.9 395.9 L197.1 395.9 L196.2 395.7 L195.5 395.6 L194.8 395.4 L194.2 395.2 L193.7 395.0 L193.2 394.7 L192.8 394.4 L192.5 394.0 L192.3 393.6 L192.1 393.1 L192.1 392.6 L192.1 392.0 L192.3 391.5 L192.5 391.0Z" fill="#c4a5d8" fill-rule="evenodd"/>
<path d="M203.3 391.5h1.0v1.0h-1.0zM198.9 390.5h1.0v1.0h-1.0zM193.1 390.5h1.0v1.0h-1.0zM198.7 388.7h1.0v1.0h-1.0zM199.6 390.6h1.0v1.0h-1.0zM203.3 392.8h1.0v1.0h-1.0zM201.5 392.7h1.0v1.0h-1.0zM195.4 390.0h1.0v1.0h-1.0zM194.3 393.7h1.0v1.0h-1.0z" fill="#fff"/>
<path d="M203.6 394.7h1.0v1.0h-1.0zM200.5 387.8h1.0v1.0h-1.0zM192.3 390.1h1.0v1.0h-1.0zM191.5 392.0h1.0v1.0h-1.0zM194.3 393.9h1.0v1.0h-1.0zM191.8 389.3h1.0v1.0h-1.0zM203.5 390.9h1.0v1.0h-1.0zM203.9 391.4h1.0v1.0h-1.0zM199.4 396.3h1.0v1.0h-1.0zM204.2 391.7h1.0v1.0h-1.0zM196.4 387.2h1.0v1.0h-1.0zM199.5 395.8h1.0v1.0h-1.0zM198.7 395.9h1.0v1.0h-1.0zM193.8 388.6h1.0v1.0h-1.0zM195.4 395.5h1.0v1.0h-1.0zM202.9 393.5h1.0v1.0h-1.0zM200.2 388.6h1.0v1.0h-1.0zM192.9 389.4h1.0v1.0h-1.0zM199.3 387.1h1.0v1.0h-1.0zM191.6 394.0h1.0v1.0h-1.0zM195.7 395.3h1.0v1.0h-1.0zM192.4 392.2h1.0v1.0h-1.0zM193.0 390.7h1.0v1.0h-1.0zM202.6 393.8h1.0v1.0h-1.0zM194.9 388.8h1.0v1.0h-1.0zM197.7 394.5h1.0v1.0h-1.0zM202.1 395.6h1.0v1.0h-1.0zM199.8 395.0h1.0v1.0h-1.0zM195.7 388.7h1.0v1.0h-1.0zM192.9 389.7h1.0v1.0h-1.0z" fill="#c4a5d8"/>
<path d="M182.0 391.6h1.0v1.0h-1.0zM182.8 391.9h1.0v1.0h-1.0zM191.0 391.9h1.0v1.0h-1.0zM186.0 390.7h1.0v1.0h-1.0zM189.7 391.5h1.0v1.0h-1.0zM185.0 392.0h1.0v1.0h-1.0zM186.2 391.7h1.0v1.0h-1.0zM189.0 391.3h1.0v1.0h-1.0zM189.0 392.7h1.0v1.0h-1.0zM185.7 392.1h1.0v1.0h-1.0zM186.8 391.1h1.0v1.0h-1.0zM191.1 392.1h1.0v1.0h-1.0zM184.7 391.2h1.0v1.0h-1.0zM190.2 390.6h1.0v1.0h-1.0zM188.3 391.0h1.0v1.0h-1.0zM185.1 391.5h1.0v1.0h-1.0zM185.0 392.0h1.0v1.0h-1.0zM183.3 390.7h1.0v1.0h-1.0zM183.9 392.4h1.0v1.0h-1.0zM181.7 391.6h1.0v1.0h-1.0zM185.2 391.4h1.0v1.0h-1.0zM190.9 391.8h1.0v1.0h-1.0zM185.7 390.7h1.0v1.0h-1.0zM186.6 390.7h1.0v1.0h-1.0zM189.6 391.5h1.0v1.0h-1.0z" fill="#c4a5d8"/>
<path d="M284.0 391.5 L284.5 391.1 L285.0 390.7 L285.7 390.4 L286.3 390.1 L286.9 389.8 L287.5 389.5 L288.0 389.2 L288.4 388.9 L288.8 388.6 L289.2 388.4 L289.6 388.3 L290.0 388.3 L290.4 388.5 L290.8 388.8 L291.3 389.1 L291.7 389.6 L292.1 390.0 L292.5 390.5 L292.9 391.0 L293.4 391.4 L293.9 391.9 L294.3 392.4 L294.7 393.0 L294.8 393.5 L294.8 394.1 L294.6 394.6 L294.3 395.2 L293.9 395.8 L293.5 396.4 L293.0 396.8 L292.5 397.2 L291.8 397.5 L291.1 397.8 L290.4 398.0 L289.7 398.1 L289.0 398.2 L288.3 398.2 L287.6 398.2 L286.9 398.1 L286.2 398.0 L285.6 397.8 L285.0 397.5 L284.5 397.1 L284.1 396.7 L283.7 396.1 L283.4 395.6 L283.1 395.0 L283.0 394.5 L283.0 394.0 L283.0 393.5 L283.2 392.9 L283.4 392.4 L283.7 391.9 L284.0 391.5Z" fill="#6a3d9b" fill-rule="evenodd"/>
<path d="M291.5 392.9h1.0v1.0h-1.0zM294.3 393.2h1.0v1.0h-1.0zM288.3 389.2h1.0v1.0h-1.0zM285.7 389.7h1.0v1.0h-1.0zM289.2 393.1h1.0v1.0h-1.0zM284.8 394.2h1.0v1.0h-1.0z" fill="#fff"/>
<path d="M292.8 392.0h1.0v1.0h-1.0zM294.5 391.9h1.0v1.0h-1.0zM284.2 396.1h1.0v1.0h-1.0zM287.4 398.7h1.0v1.0h-1.0zM294.5 392.4h1.0v1.0h-1.0zM291.1 388.5h1.0v1.0h-1.0zM291.3 389.2h1.0v1.0h-1.0zM283.9 390.9h1.0v1.0h-1.0zM283.1 391.5h1.0v1.0h-1.0zM292.0 390.5h1.0v1.0h-1.0zM292.3 391.5h1.0v1.0h-1.0zM283.3 394.5h1.0v1.0h-1.0zM293.8 396.3h1.0v1.0h-1.0zM285.1 389.8h1.0v1.0h-1.0zM283.4 396.4h1.0v1.0h-1.0zM283.3 391.6h1.0v1.0h-1.0zM286.8 389.2h1.0v1.0h-1.0zM282.8 391.3h1.0v1.0h-1.0zM283.8 395.9h1.0v1.0h-1.0zM290.3 389.1h1.0v1.0h-1.0zM289.1 387.7h1.0v1.0h-1.0zM284.8 398.1h1.0v1.0h-1.0zM282.6 395.2h1.0v1.0h-1.0zM289.1 397.3h1.0v1.0h-1.0zM283.0 391.4h1.0v1.0h-1.0zM286.2 397.4h1.0v1.0h-1.0zM289.4 387.7h1.0v1.0h-1.0zM283.8 392.0h1.0v1.0h-1.0zM289.9 388.1h1.0v1.0h-1.0zM292.4 389.6h1.0v1.0h-1.0z" fill="#6a3d9b"/>
<rect x="268.80" y="391.00" width="1.20" height="1.20" fill="#6a3d9b"/>
<rect x="274.20" y="391.50" width="1.20" height="1.20" fill="#6a3d9b"/>
<rect x="280.20" y="390.80" width="1.20" height="1.20" fill="#6a3d9b"/>
<rect x="244.50" y="407.20" width="1.20" height="1.20" fill="#b49ad0"/>
<rect x="280.00" y="393.50" width="1.20" height="1.20" fill="#6a3d9b"/>
<path d="M375.2 395.5 L375.4 395.1 L375.6 394.7 L375.9 394.4 L376.3 394.0 L376.6 393.8 L377.0 393.6 L377.4 393.5 L377.9 393.5 L378.4 393.6 L378.8 393.7 L379.2 393.9 L379.5 394.2 L379.6 394.6 L379.7 395.0 L379.7 395.5 L379.6 396.1 L379.5 396.6 L379.3 397.0 L379.1 397.4 L378.8 397.7 L378.5 398.0 L378.2 398.3 L377.8 398.5 L377.5 398.6 L377.2 398.6 L376.8 398.6 L376.4 398.6 L376.0 398.4 L375.7 398.2 L375.5 398.0 L375.3 397.7 L375.2 397.3 L375.1 396.8 L375.1 396.4 L375.1 395.9 L375.2 395.5Z" fill="#ef8fb0" fill-rule="evenodd" opacity="0.9"/>
<path d="M375.5 397.2h1.0v1.0h-1.0zM376.3 397.3h1.0v1.0h-1.0zM378.3 396.0h1.0v1.0h-1.0z" fill="#fff"/>
<ellipse cx="383.2" cy="393.2" rx="2.6" ry="2.9" transform="rotate(-30 383.2 393.2)" fill="none" stroke="#ef8fb0" stroke-width="1.3" opacity="0.85"/>
<path d="M380.4 394.3h1.0v1.0h-1.0zM379.3 395.6h1.0v1.0h-1.0zM380.3 393.7h1.0v1.0h-1.0zM379.1 395.5h1.0v1.0h-1.0zM380.5 393.6h1.0v1.0h-1.0zM382.0 391.6h1.0v1.0h-1.0zM380.7 392.5h1.0v1.0h-1.0zM381.8 392.7h1.0v1.0h-1.0zM379.3 395.9h1.0v1.0h-1.0zM379.8 395.9h1.0v1.0h-1.0z" fill="#ef8fb0"/>
<rect x="368.00" y="392.30" width="1.00" height="1.00" fill="#ef8fb0"/>
<rect x="371.20" y="392.80" width="1.00" height="1.00" fill="#ef8fb0"/>
<rect x="373.70" y="393.10" width="1.00" height="1.00" fill="#ef8fb0"/>
<rect x="381.00" y="390.20" width="1.00" height="1.00" fill="#ef8fb0"/>
<path d="M465.3 395.5 L465.4 395.2 L465.7 395.0 L466.0 394.9 L466.3 394.8 L466.6 394.8 L467.0 394.8 L467.4 394.9 L467.8 395.0 L468.2 395.2 L468.7 395.4 L469.1 395.6 L469.5 395.8 L469.9 395.9 L470.3 396.0 L470.7 396.0 L471.0 396.1 L471.3 396.2 L471.5 396.3 L471.6 396.5 L471.6 396.8 L471.5 397.1 L471.4 397.5 L471.2 397.8 L471.0 398.0 L470.7 398.2 L470.3 398.4 L469.9 398.5 L469.4 398.7 L468.9 398.8 L468.5 398.8 L468.1 398.8 L467.6 398.8 L467.1 398.8 L466.7 398.7 L466.3 398.5 L466.0 398.3 L465.8 397.9 L465.5 397.5 L465.4 396.9 L465.3 396.4 L465.3 395.9 L465.3 395.5Z" fill="#e41a1c" fill-rule="evenodd"/>
<path d="M472.6 394.8h1.0v1.0h-1.0zM472.2 395.5h1.0v1.0h-1.0zM474.0 393.7h1.0v1.0h-1.0zM474.0 394.4h1.0v1.0h-1.0zM473.5 394.9h1.0v1.0h-1.0zM472.5 394.4h1.0v1.0h-1.0zM473.6 394.3h1.0v1.0h-1.0zM473.2 395.9h1.0v1.0h-1.0zM472.4 394.6h1.0v1.0h-1.0zM473.4 393.7h1.0v1.0h-1.0zM473.9 392.8h1.0v1.0h-1.0zM473.8 395.4h1.0v1.0h-1.0zM473.7 393.1h1.0v1.0h-1.0zM472.1 395.2h1.0v1.0h-1.0zM471.4 396.4h1.0v1.0h-1.0zM474.1 395.9h1.0v1.0h-1.0z" fill="#e41a1c"/>
<rect x="469.30" y="388.00" width="1.10" height="1.10" fill="#e41a1c"/>
<rect x="470.30" y="390.80" width="1.10" height="1.10" fill="#e41a1c"/>
<rect x="459.60" y="392.00" width="1.10" height="1.10" fill="#e41a1c"/>
<rect x="463.40" y="393.30" width="1.10" height="1.10" fill="#e41a1c"/>
<rect x="472.50" y="393.30" width="1.10" height="1.10" fill="#e41a1c"/>
<rect x="475.20" y="394.80" width="1.10" height="1.10" fill="#e41a1c"/>
<text transform="translate(78.80 374.30)" font-size="8.3" fill="#231f20" textLength="34.95" lengthAdjust="spacingAndGlyphs" stroke="#231f20" stroke-width="0.15">9.5 dpc E</text>
<text transform="translate(164.30 374.30)" font-size="8.3" fill="#231f20" textLength="41.00" lengthAdjust="spacingAndGlyphs" stroke="#231f20" stroke-width="0.15">9.5 dpc HE</text>
<text transform="translate(227.90 374.30)" font-size="8.3" fill="#231f20" textLength="68.40" lengthAdjust="spacingAndGlyphs" stroke="#231f20" stroke-width="0.15">9.5 dpc E+HE+IAC</text>
<text transform="translate(346.30 374.30)" font-size="8.3" fill="#231f20" textLength="40.30" lengthAdjust="spacingAndGlyphs" stroke="#231f20" stroke-width="0.15">10.5 dpc E</text>
<text transform="translate(433.80 374.30)" font-size="8.3" fill="#231f20" textLength="44.50" lengthAdjust="spacingAndGlyphs" stroke="#231f20" stroke-width="0.15">10.5 dpc HE</text>
<text transform="translate(42.40 440.10)" font-size="8.3" fill="#231f20" textLength="73.00" lengthAdjust="spacingAndGlyphs" stroke="#231f20" stroke-width="0.15">10.5 dpc E+HE+IAC</text>
<text transform="translate(159.40 440.10)" font-size="8.3" fill="#231f20" textLength="46.80" lengthAdjust="spacingAndGlyphs" stroke="#231f20" stroke-width="0.15">10.5 dpc IAC</text>
<text transform="translate(221.50 440.10)" font-size="8.3" fill="#231f20" textLength="75.60" lengthAdjust="spacingAndGlyphs" stroke="#231f20" stroke-width="0.15">10.5 dpc CD45<tspan dy="-2.8" font-size="5.6">+</tspan><tspan dy="2.8"> IAC</tspan></text>
<text transform="translate(340.70 440.10)" font-size="8.3" fill="#231f20" textLength="46.60" lengthAdjust="spacingAndGlyphs" stroke="#231f20" stroke-width="0.15">11.5 dpc IAC</text>
<text transform="translate(414.40 440.10)" font-size="8.3" fill="#231f20" textLength="64.40" lengthAdjust="spacingAndGlyphs" stroke="#231f20" stroke-width="0.15">11.5 dpc pre-HSC</text>
<text transform="translate(25.70 438.30) rotate(-90)" font-size="10.0" fill="#231f20" textLength="26.40" lengthAdjust="spacingAndGlyphs" stroke="#231f20" stroke-width="0.15">UMAP2</text>
<line x1="22.40" y1="408.60" x2="22.40" y2="402.10" stroke="#000" stroke-width="1.0"/>
<path d="M22.40 396.60 L25.40 402.60 L22.40 401.60 L19.40 402.60 Z" fill="#000"/>
<text transform="translate(38.70 457.50)" font-size="10.0" fill="#231f20" textLength="25.70" lengthAdjust="spacingAndGlyphs" stroke="#231f20" stroke-width="0.15">UMAP1</text>
<line x1="68.10" y1="454.00" x2="74.70" y2="454.00" stroke="#000" stroke-width="1.0"/>
<path d="M79.60 454.00 L74.20 456.70 L75.20 454.00 L74.20 451.30 Z" fill="#000"/>
<path d="M17.8 540.5 L19.4 543.8 L23.4 546.5 L28.8 549.2 L34.2 550.6 L39.6 551.9 L43.6 554.6 L47.6 556.0 L51.7 553.3 L55.7 549.2 L59.8 545.2 L65.1 542.5 L70.5 539.8 L74.6 537.1 L77.3 533.1 L77.3 529.0 L74.6 525.0 L71.0 521.0 L68.6 518.3 L67.2 514.9 L68.0 511.0 L69.5 507.0 L70.8 503.5 L69.6 503.2 L67.8 506.2 L65.8 509.5 L63.8 512.2 L61.8 513.6 L58.4 514.2 L54.4 515.6 L49.0 518.3 L42.3 521.6 L36.9 525.0 L32.8 529.0 L27.5 534.4 L22.1 535.8 L18.0 537.1 L17.8 540.5ZM55.9 519.1 L57.0 518.8 L58.2 518.4 L59.6 518.1 L60.8 517.9 L62.0 517.8 L63.1 517.8 L64.2 517.9 L65.3 518.0 L66.3 518.2 L67.2 518.5 L68.0 518.8 L68.6 519.1 L69.1 519.5 L69.5 520.0 L69.7 520.5 L69.9 521.0 L70.0 521.5 L70.0 522.0 L69.9 522.6 L69.7 523.2 L69.4 523.8 L69.0 524.4 L68.5 525.0 L67.9 525.6 L67.2 526.2 L66.4 526.8 L65.6 527.3 L64.8 527.9 L64.0 528.5 L63.3 529.1 L62.7 529.7 L62.0 530.3 L61.4 530.9 L60.7 531.5 L60.0 532.0 L59.2 532.5 L58.4 533.1 L57.5 533.7 L56.6 534.1 L55.8 534.4 L55.0 534.5 L54.3 534.3 L53.6 533.8 L53.0 533.2 L52.4 532.5 L51.9 531.7 L51.5 531.0 L51.2 530.2 L51.0 529.4 L50.9 528.5 L50.9 527.6 L50.9 526.8 L51.0 526.0 L51.2 525.3 L51.5 524.5 L51.8 523.8 L52.2 523.2 L52.6 522.6 L53.0 522.0 L53.3 521.5 L53.5 521.0 L53.7 520.6 L54.0 520.2 L54.4 519.9 L55.0 519.5 L55.9 519.1Z" fill="#3b2f78" fill-rule="evenodd"/>
<path d="M61.5 520.5h1.0v1.0h-1.0zM59.3 528.4h1.0v1.0h-1.0zM54.5 521.0h1.0v1.0h-1.0zM55.9 528.9h1.0v1.0h-1.0zM54.4 533.5h1.0v1.0h-1.0zM52.1 530.2h1.0v1.0h-1.0zM57.4 525.2h1.0v1.0h-1.0zM56.6 527.9h1.0v1.0h-1.0zM58.1 520.8h1.0v1.0h-1.0zM58.6 522.4h1.0v1.0h-1.0zM52.5 531.0h1.0v1.0h-1.0zM67.3 523.9h1.0v1.0h-1.0zM57.6 524.4h1.0v1.0h-1.0zM58.1 528.5h1.0v1.0h-1.0zM60.6 523.1h1.0v1.0h-1.0zM50.8 529.1h1.0v1.0h-1.0zM50.6 526.7h1.0v1.0h-1.0zM53.3 528.7h1.0v1.0h-1.0zM64.3 523.4h1.0v1.0h-1.0zM62.9 525.2h1.0v1.0h-1.0zM56.3 531.8h1.0v1.0h-1.0zM66.4 519.3h1.0v1.0h-1.0zM67.4 524.8h1.0v1.0h-1.0zM67.4 519.6h1.0v1.0h-1.0zM56.8 518.4h1.0v1.0h-1.0zM60.9 528.8h1.0v1.0h-1.0zM57.1 518.3h1.0v1.0h-1.0zM55.7 531.1h1.0v1.0h-1.0zM55.2 520.7h1.0v1.0h-1.0zM67.6 522.6h1.0v1.0h-1.0zM52.2 528.2h1.0v1.0h-1.0zM59.1 526.8h1.0v1.0h-1.0zM65.8 521.3h1.0v1.0h-1.0zM55.6 528.3h1.0v1.0h-1.0zM60.9 526.2h1.0v1.0h-1.0zM56.8 532.9h1.0v1.0h-1.0zM55.9 528.6h1.0v1.0h-1.0zM67.5 524.0h1.0v1.0h-1.0zM52.7 523.0h1.0v1.0h-1.0zM57.4 524.8h1.0v1.0h-1.0z" fill="#3b4f8c"/>
<path d="M59.6 528.4h1.0v1.0h-1.0zM62.2 529.0h1.0v1.0h-1.0zM53.5 521.0h1.0v1.0h-1.0zM59.1 523.8h1.0v1.0h-1.0zM59.3 523.2h1.0v1.0h-1.0zM54.7 527.4h1.0v1.0h-1.0zM68.0 520.1h1.0v1.0h-1.0zM59.0 523.1h1.0v1.0h-1.0zM62.0 521.5h1.0v1.0h-1.0zM51.6 528.6h1.0v1.0h-1.0zM56.2 528.1h1.0v1.0h-1.0zM63.0 525.3h1.0v1.0h-1.0z" fill="#5ec962"/>
<path d="M109.1 496.1 L109.5 495.6 L110.1 495.2 L110.7 494.8 L111.4 494.4 L112.1 494.0 L112.8 493.6 L113.4 493.2 L114.0 492.8 L114.6 492.5 L115.2 492.2 L115.8 491.9 L116.5 491.8 L117.3 491.8 L118.1 491.9 L119.0 492.1 L119.8 492.4 L120.6 492.7 L121.4 493.0 L122.1 493.3 L122.8 493.7 L123.5 494.2 L124.1 494.6 L124.6 495.1 L125.1 495.5 L125.5 495.9 L125.8 496.3 L126.0 496.7 L126.2 497.1 L126.3 497.5 L126.3 497.9 L126.2 498.4 L126.0 498.9 L125.7 499.4 L125.4 500.0 L125.0 500.5 L124.5 501.0 L123.9 501.5 L123.3 502.0 L122.5 502.4 L121.8 502.9 L121.0 503.2 L120.2 503.5 L119.4 503.7 L118.5 503.8 L117.7 503.8 L116.8 503.7 L116.0 503.6 L115.2 503.5 L114.5 503.3 L113.8 503.0 L113.2 502.7 L112.6 502.3 L112.0 502.0 L111.5 501.6 L111.0 501.2 L110.5 500.9 L110.1 500.5 L109.7 500.1 L109.3 499.6 L109.1 499.2 L108.9 498.7 L108.8 498.2 L108.7 497.7 L108.7 497.1 L108.9 496.6 L109.1 496.1Z" fill="#3b2f78" fill-rule="evenodd"/>
<path d="M69.1 500.0 L69.2 499.6 L69.4 499.2 L69.7 498.8 L70.1 498.4 L70.6 498.1 L71.0 497.8 L71.5 497.6 L72.0 497.4 L72.5 497.3 L73.1 497.2 L73.6 497.1 L74.0 497.2 L74.4 497.3 L74.7 497.6 L75.0 497.9 L75.3 498.2 L75.4 498.6 L75.5 499.0 L75.4 499.4 L75.3 499.9 L75.0 500.4 L74.7 501.0 L74.4 501.4 L74.0 501.8 L73.6 502.1 L73.1 502.4 L72.5 502.6 L72.0 502.8 L71.5 502.9 L71.0 502.8 L70.6 502.5 L70.1 502.1 L69.7 501.6 L69.4 501.0 L69.2 500.5 L69.1 500.0Z" fill="#58b86a" fill-rule="evenodd"/>
<path d="M73.2 496.7h1.0v1.0h-1.0zM72.1 498.0h1.0v1.0h-1.0zM70.5 500.1h1.0v1.0h-1.0zM71.8 498.3h1.0v1.0h-1.0zM71.4 498.9h1.0v1.0h-1.0zM71.6 502.1h1.0v1.0h-1.0z" fill="#fff"/>
<path d="M79.4 495.5h1.0v1.0h-1.0zM97.9 494.1h1.0v1.0h-1.0zM94.4 493.3h1.0v1.0h-1.0zM93.2 495.6h1.0v1.0h-1.0zM75.7 495.3h1.0v1.0h-1.0zM91.6 494.4h1.0v1.0h-1.0zM103.4 495.0h1.0v1.0h-1.0zM81.9 494.6h1.0v1.0h-1.0zM78.9 496.8h1.0v1.0h-1.0zM94.4 492.9h1.0v1.0h-1.0zM88.9 494.1h1.0v1.0h-1.0zM91.9 494.7h1.0v1.0h-1.0zM79.2 494.9h1.0v1.0h-1.0zM96.6 493.3h1.0v1.0h-1.0zM82.8 496.4h1.0v1.0h-1.0zM97.1 495.0h1.0v1.0h-1.0zM91.3 494.7h1.0v1.0h-1.0zM87.5 493.8h1.0v1.0h-1.0zM104.2 495.6h1.0v1.0h-1.0zM93.9 495.2h1.0v1.0h-1.0zM95.2 493.2h1.0v1.0h-1.0zM89.1 495.4h1.0v1.0h-1.0zM96.4 496.0h1.0v1.0h-1.0zM95.4 493.1h1.0v1.0h-1.0zM90.0 495.9h1.0v1.0h-1.0zM95.0 494.1h1.0v1.0h-1.0zM103.1 494.6h1.0v1.0h-1.0zM99.0 493.6h1.0v1.0h-1.0zM94.3 495.9h1.0v1.0h-1.0zM92.0 493.9h1.0v1.0h-1.0zM106.6 494.4h1.0v1.0h-1.0zM105.3 495.1h1.0v1.0h-1.0zM105.5 495.6h1.0v1.0h-1.0zM102.6 495.3h1.0v1.0h-1.0zM103.6 494.4h1.0v1.0h-1.0zM97.0 495.0h1.0v1.0h-1.0zM105.3 495.6h1.0v1.0h-1.0zM96.2 495.6h1.0v1.0h-1.0zM81.7 495.2h1.0v1.0h-1.0zM90.3 495.1h1.0v1.0h-1.0zM82.2 496.6h1.0v1.0h-1.0zM79.6 496.5h1.0v1.0h-1.0zM78.7 496.9h1.0v1.0h-1.0zM85.1 496.2h1.0v1.0h-1.0zM98.5 493.8h1.0v1.0h-1.0zM80.8 496.3h1.0v1.0h-1.0zM84.3 495.3h1.0v1.0h-1.0zM89.8 494.0h1.0v1.0h-1.0zM101.0 495.4h1.0v1.0h-1.0zM102.3 493.8h1.0v1.0h-1.0zM95.6 494.5h1.0v1.0h-1.0zM80.2 496.4h1.0v1.0h-1.0zM100.6 493.1h1.0v1.0h-1.0zM106.1 496.8h1.0v1.0h-1.0zM104.7 495.1h1.0v1.0h-1.0zM83.6 495.5h1.0v1.0h-1.0zM81.6 494.7h1.0v1.0h-1.0zM104.9 493.9h1.0v1.0h-1.0zM97.6 496.0h1.0v1.0h-1.0zM90.1 494.4h1.0v1.0h-1.0zM102.0 494.6h1.0v1.0h-1.0zM98.3 496.5h1.0v1.0h-1.0zM102.9 495.7h1.0v1.0h-1.0zM105.6 495.6h1.0v1.0h-1.0zM79.0 494.6h1.0v1.0h-1.0zM90.4 495.2h1.0v1.0h-1.0zM103.2 496.0h1.0v1.0h-1.0zM78.9 495.8h1.0v1.0h-1.0zM104.6 494.4h1.0v1.0h-1.0zM79.2 496.3h1.0v1.0h-1.0zM74.8 496.3h1.0v1.0h-1.0zM92.8 494.2h1.0v1.0h-1.0zM105.2 492.5h1.0v1.0h-1.0zM76.9 496.9h1.0v1.0h-1.0zM99.4 494.7h1.0v1.0h-1.0zM75.1 494.1h1.0v1.0h-1.0zM91.1 493.3h1.0v1.0h-1.0zM90.0 494.2h1.0v1.0h-1.0zM83.8 497.3h1.0v1.0h-1.0zM97.6 493.2h1.0v1.0h-1.0zM106.0 495.0h1.0v1.0h-1.0zM97.3 494.3h1.0v1.0h-1.0zM78.1 496.3h1.0v1.0h-1.0zM81.1 494.1h1.0v1.0h-1.0zM79.7 496.6h1.0v1.0h-1.0zM106.5 495.8h1.0v1.0h-1.0zM82.1 496.1h1.0v1.0h-1.0zM85.6 494.8h1.0v1.0h-1.0zM89.9 493.0h1.0v1.0h-1.0zM82.7 497.8h1.0v1.0h-1.0zM90.4 494.9h1.0v1.0h-1.0zM97.2 495.0h1.0v1.0h-1.0zM85.5 493.5h1.0v1.0h-1.0zM77.6 496.6h1.0v1.0h-1.0zM76.1 495.4h1.0v1.0h-1.0zM74.6 493.8h1.0v1.0h-1.0zM89.5 496.9h1.0v1.0h-1.0zM107.0 495.5h1.0v1.0h-1.0zM91.9 495.0h1.0v1.0h-1.0zM90.0 494.7h1.0v1.0h-1.0zM102.5 494.0h1.0v1.0h-1.0zM89.3 495.6h1.0v1.0h-1.0zM87.1 496.2h1.0v1.0h-1.0zM81.8 492.9h1.0v1.0h-1.0zM85.2 495.9h1.0v1.0h-1.0zM101.4 493.0h1.0v1.0h-1.0zM96.8 496.3h1.0v1.0h-1.0zM95.3 493.4h1.0v1.0h-1.0zM84.1 497.3h1.0v1.0h-1.0zM102.5 496.1h1.0v1.0h-1.0zM103.8 494.9h1.0v1.0h-1.0zM104.8 497.1h1.0v1.0h-1.0zM81.4 496.4h1.0v1.0h-1.0zM81.8 495.8h1.0v1.0h-1.0zM96.8 495.3h1.0v1.0h-1.0zM97.3 492.6h1.0v1.0h-1.0zM106.4 496.7h1.0v1.0h-1.0zM104.8 495.0h1.0v1.0h-1.0zM98.1 494.6h1.0v1.0h-1.0zM80.4 497.4h1.0v1.0h-1.0zM87.7 495.1h1.0v1.0h-1.0zM92.1 494.5h1.0v1.0h-1.0zM88.8 494.8h1.0v1.0h-1.0zM91.7 495.1h1.0v1.0h-1.0zM85.6 496.2h1.0v1.0h-1.0zM96.8 495.1h1.0v1.0h-1.0zM77.3 496.6h1.0v1.0h-1.0zM89.9 494.3h1.0v1.0h-1.0zM86.7 496.6h1.0v1.0h-1.0zM98.9 492.7h1.0v1.0h-1.0zM84.1 494.4h1.0v1.0h-1.0zM91.4 496.6h1.0v1.0h-1.0zM95.4 494.3h1.0v1.0h-1.0zM87.1 494.3h1.0v1.0h-1.0zM106.0 494.3h1.0v1.0h-1.0zM79.9 497.9h1.0v1.0h-1.0zM74.9 496.1h1.0v1.0h-1.0zM94.1 494.5h1.0v1.0h-1.0zM99.7 495.9h1.0v1.0h-1.0zM86.8 495.4h1.0v1.0h-1.0zM104.1 496.5h1.0v1.0h-1.0zM99.0 492.7h1.0v1.0h-1.0zM85.8 494.2h1.0v1.0h-1.0zM86.5 494.2h1.0v1.0h-1.0zM83.9 494.0h1.0v1.0h-1.0zM82.2 493.7h1.0v1.0h-1.0zM86.3 495.7h1.0v1.0h-1.0zM87.4 495.9h1.0v1.0h-1.0zM77.6 495.8h1.0v1.0h-1.0zM101.1 494.0h1.0v1.0h-1.0zM82.5 495.3h1.0v1.0h-1.0zM79.7 492.8h1.0v1.0h-1.0zM86.8 496.2h1.0v1.0h-1.0zM85.3 495.1h1.0v1.0h-1.0zM79.7 496.5h1.0v1.0h-1.0zM103.5 494.2h1.0v1.0h-1.0zM92.9 496.1h1.0v1.0h-1.0zM103.6 498.3h1.0v1.0h-1.0zM99.2 493.1h1.0v1.0h-1.0zM105.7 494.3h1.0v1.0h-1.0zM81.1 495.9h1.0v1.0h-1.0zM88.4 496.8h1.0v1.0h-1.0zM106.7 496.2h1.0v1.0h-1.0zM79.7 494.8h1.0v1.0h-1.0zM94.5 493.3h1.0v1.0h-1.0zM100.2 493.8h1.0v1.0h-1.0zM90.3 495.9h1.0v1.0h-1.0zM79.7 495.0h1.0v1.0h-1.0zM101.3 496.0h1.0v1.0h-1.0zM104.6 497.4h1.0v1.0h-1.0zM81.1 496.3h1.0v1.0h-1.0zM89.6 496.5h1.0v1.0h-1.0zM86.8 495.1h1.0v1.0h-1.0zM78.7 495.2h1.0v1.0h-1.0zM92.7 496.6h1.0v1.0h-1.0zM77.7 494.4h1.0v1.0h-1.0zM99.1 493.3h1.0v1.0h-1.0zM87.6 497.7h1.0v1.0h-1.0zM77.8 495.7h1.0v1.0h-1.0zM80.5 497.1h1.0v1.0h-1.0zM99.9 493.8h1.0v1.0h-1.0zM82.4 497.2h1.0v1.0h-1.0zM90.6 494.3h1.0v1.0h-1.0zM84.0 494.8h1.0v1.0h-1.0zM102.2 494.1h1.0v1.0h-1.0zM94.8 495.1h1.0v1.0h-1.0zM97.1 495.4h1.0v1.0h-1.0zM102.7 493.9h1.0v1.0h-1.0zM103.5 497.4h1.0v1.0h-1.0zM97.4 493.4h1.0v1.0h-1.0zM97.4 494.1h1.0v1.0h-1.0zM104.7 495.6h1.0v1.0h-1.0zM88.1 494.2h1.0v1.0h-1.0zM99.2 495.8h1.0v1.0h-1.0zM101.6 496.3h1.0v1.0h-1.0zM105.2 496.6h1.0v1.0h-1.0zM106.4 496.9h1.0v1.0h-1.0zM103.8 494.6h1.0v1.0h-1.0zM94.0 496.5h1.0v1.0h-1.0zM86.5 492.3h1.0v1.0h-1.0zM78.7 496.2h1.0v1.0h-1.0zM104.5 492.6h1.0v1.0h-1.0zM89.7 494.2h1.0v1.0h-1.0zM102.4 495.1h1.0v1.0h-1.0zM83.5 495.8h1.0v1.0h-1.0zM105.0 495.6h1.0v1.0h-1.0zM88.2 495.1h1.0v1.0h-1.0zM90.3 494.3h1.0v1.0h-1.0zM99.0 494.7h1.0v1.0h-1.0zM90.3 494.0h1.0v1.0h-1.0zM101.2 495.2h1.0v1.0h-1.0zM93.8 494.3h1.0v1.0h-1.0zM103.9 493.7h1.0v1.0h-1.0zM84.2 494.0h1.0v1.0h-1.0zM90.8 496.7h1.0v1.0h-1.0zM93.0 494.8h1.0v1.0h-1.0zM80.6 496.6h1.0v1.0h-1.0zM75.7 496.6h1.0v1.0h-1.0zM98.2 496.0h1.0v1.0h-1.0zM79.3 496.9h1.0v1.0h-1.0zM75.4 496.8h1.0v1.0h-1.0zM96.2 492.9h1.0v1.0h-1.0zM97.8 494.4h1.0v1.0h-1.0zM88.4 494.2h1.0v1.0h-1.0zM94.0 495.6h1.0v1.0h-1.0zM90.5 493.5h1.0v1.0h-1.0zM101.4 495.3h1.0v1.0h-1.0zM80.5 495.2h1.0v1.0h-1.0zM75.0 497.6h1.0v1.0h-1.0zM93.5 494.0h1.0v1.0h-1.0zM91.7 493.2h1.0v1.0h-1.0zM96.1 492.2h1.0v1.0h-1.0zM80.1 495.3h1.0v1.0h-1.0zM87.1 495.4h1.0v1.0h-1.0zM98.9 493.7h1.0v1.0h-1.0zM103.0 493.7h1.0v1.0h-1.0zM107.2 495.6h1.0v1.0h-1.0zM95.8 496.2h1.0v1.0h-1.0zM75.8 498.0h1.0v1.0h-1.0zM96.6 494.4h1.0v1.0h-1.0z" fill="#3b3f86"/>
<path d="M91.1 494.0h1.0v1.0h-1.0zM87.0 495.5h1.0v1.0h-1.0zM78.4 497.0h1.0v1.0h-1.0zM76.8 497.0h1.0v1.0h-1.0zM81.2 496.8h1.0v1.0h-1.0zM76.5 495.8h1.0v1.0h-1.0zM76.1 497.0h1.0v1.0h-1.0zM75.4 498.2h1.0v1.0h-1.0zM78.5 496.5h1.0v1.0h-1.0zM83.5 495.8h1.0v1.0h-1.0zM77.5 495.6h1.0v1.0h-1.0zM86.9 495.8h1.0v1.0h-1.0zM81.6 496.0h1.0v1.0h-1.0zM88.5 494.3h1.0v1.0h-1.0zM78.7 495.6h1.0v1.0h-1.0zM90.6 495.6h1.0v1.0h-1.0zM85.0 495.0h1.0v1.0h-1.0zM79.4 496.1h1.0v1.0h-1.0zM78.6 497.6h1.0v1.0h-1.0zM89.7 494.9h1.0v1.0h-1.0zM83.5 495.5h1.0v1.0h-1.0zM82.7 495.2h1.0v1.0h-1.0zM77.0 496.1h1.0v1.0h-1.0zM76.4 496.9h1.0v1.0h-1.0zM90.2 496.0h1.0v1.0h-1.0zM86.5 496.0h1.0v1.0h-1.0zM75.7 494.7h1.0v1.0h-1.0zM91.3 495.1h1.0v1.0h-1.0zM84.1 495.7h1.0v1.0h-1.0zM79.4 495.0h1.0v1.0h-1.0zM83.8 495.0h1.0v1.0h-1.0zM88.4 494.8h1.0v1.0h-1.0zM82.1 495.7h1.0v1.0h-1.0zM82.1 495.5h1.0v1.0h-1.0zM75.3 496.2h1.0v1.0h-1.0zM83.7 494.5h1.0v1.0h-1.0zM84.1 495.2h1.0v1.0h-1.0zM81.1 495.5h1.0v1.0h-1.0zM84.3 495.1h1.0v1.0h-1.0zM82.6 495.2h1.0v1.0h-1.0zM80.1 495.0h1.0v1.0h-1.0zM80.1 495.6h1.0v1.0h-1.0zM86.2 495.8h1.0v1.0h-1.0zM91.1 494.3h1.0v1.0h-1.0zM79.9 496.3h1.0v1.0h-1.0zM80.7 495.7h1.0v1.0h-1.0zM88.5 496.0h1.0v1.0h-1.0zM89.3 495.3h1.0v1.0h-1.0zM90.5 494.7h1.0v1.0h-1.0zM80.2 495.4h1.0v1.0h-1.0z" fill="#2a8a8c"/>
<path d="M75.8 497.7h1.0v1.0h-1.0zM75.7 497.4h1.0v1.0h-1.0zM77.3 497.6h1.0v1.0h-1.0zM77.6 498.0h1.0v1.0h-1.0zM76.0 498.0h1.0v1.0h-1.0zM78.2 496.8h1.0v1.0h-1.0zM76.3 498.2h1.0v1.0h-1.0zM78.3 497.5h1.0v1.0h-1.0zM76.6 497.5h1.0v1.0h-1.0zM78.5 497.0h1.0v1.0h-1.0zM75.7 496.0h1.0v1.0h-1.0zM77.7 497.4h1.0v1.0h-1.0zM78.1 496.0h1.0v1.0h-1.0zM78.2 496.0h1.0v1.0h-1.0zM77.9 496.8h1.0v1.0h-1.0z" fill="#7ad151"/>
<path d="M65.0 511.7h1.0v1.0h-1.0zM69.6 505.1h1.0v1.0h-1.0zM68.6 505.9h1.0v1.0h-1.0zM70.8 503.1h1.0v1.0h-1.0zM68.8 504.1h1.0v1.0h-1.0zM67.3 509.2h1.0v1.0h-1.0zM69.2 506.1h1.0v1.0h-1.0zM68.5 508.8h1.0v1.0h-1.0zM68.6 506.6h1.0v1.0h-1.0zM66.4 508.5h1.0v1.0h-1.0zM68.9 506.9h1.0v1.0h-1.0zM68.5 505.0h1.0v1.0h-1.0zM69.3 504.4h1.0v1.0h-1.0zM67.5 508.6h1.0v1.0h-1.0zM66.2 510.5h1.0v1.0h-1.0zM68.5 506.9h1.0v1.0h-1.0zM67.0 512.3h1.0v1.0h-1.0zM67.2 503.8h1.0v1.0h-1.0zM65.3 510.5h1.0v1.0h-1.0zM66.2 510.5h1.0v1.0h-1.0zM68.6 508.4h1.0v1.0h-1.0zM66.6 513.0h1.0v1.0h-1.0zM69.2 504.4h1.0v1.0h-1.0zM68.2 506.3h1.0v1.0h-1.0zM68.6 503.8h1.0v1.0h-1.0zM68.6 503.0h1.0v1.0h-1.0zM67.9 503.6h1.0v1.0h-1.0zM68.6 504.9h1.0v1.0h-1.0zM70.2 503.5h1.0v1.0h-1.0zM68.0 509.2h1.0v1.0h-1.0zM68.6 508.4h1.0v1.0h-1.0zM68.7 505.7h1.0v1.0h-1.0zM66.7 511.2h1.0v1.0h-1.0zM67.2 512.0h1.0v1.0h-1.0zM67.1 511.3h1.0v1.0h-1.0zM66.9 510.0h1.0v1.0h-1.0zM65.9 507.8h1.0v1.0h-1.0zM68.6 504.4h1.0v1.0h-1.0zM68.1 507.5h1.0v1.0h-1.0zM67.3 508.3h1.0v1.0h-1.0zM67.0 508.3h1.0v1.0h-1.0zM69.3 505.9h1.0v1.0h-1.0zM66.6 507.9h1.0v1.0h-1.0zM66.5 511.1h1.0v1.0h-1.0zM69.8 502.7h1.0v1.0h-1.0zM69.5 504.3h1.0v1.0h-1.0zM68.2 505.8h1.0v1.0h-1.0zM68.6 504.5h1.0v1.0h-1.0zM68.8 504.8h1.0v1.0h-1.0zM68.2 502.9h1.0v1.0h-1.0z" fill="#2a9d8f"/>
<path d="M67.1 510.6h1.0v1.0h-1.0zM65.3 510.7h1.0v1.0h-1.0zM68.5 505.3h1.0v1.0h-1.0zM69.6 504.2h1.0v1.0h-1.0zM68.4 505.6h1.0v1.0h-1.0zM67.6 508.6h1.0v1.0h-1.0zM68.1 505.5h1.0v1.0h-1.0zM67.7 505.7h1.0v1.0h-1.0zM67.0 506.2h1.0v1.0h-1.0zM69.7 504.9h1.0v1.0h-1.0zM67.2 511.8h1.0v1.0h-1.0zM67.6 510.2h1.0v1.0h-1.0zM67.7 507.2h1.0v1.0h-1.0zM64.6 510.9h1.0v1.0h-1.0zM66.5 507.8h1.0v1.0h-1.0zM66.1 509.1h1.0v1.0h-1.0zM64.8 509.8h1.0v1.0h-1.0zM67.2 509.2h1.0v1.0h-1.0z" fill="#7ad151"/>
<path d="M62.4 512.8h1.0v1.0h-1.0zM47.6 520.2h1.0v1.0h-1.0zM60.0 516.9h1.0v1.0h-1.0zM44.7 520.9h1.0v1.0h-1.0zM62.2 515.1h1.0v1.0h-1.0zM59.7 513.6h1.0v1.0h-1.0zM41.6 525.7h1.0v1.0h-1.0zM64.7 515.7h1.0v1.0h-1.0zM40.0 527.3h1.0v1.0h-1.0zM50.5 518.9h1.0v1.0h-1.0zM56.9 516.2h1.0v1.0h-1.0zM52.7 519.0h1.0v1.0h-1.0zM57.1 514.3h1.0v1.0h-1.0zM62.5 515.8h1.0v1.0h-1.0zM59.6 517.5h1.0v1.0h-1.0zM63.8 516.9h1.0v1.0h-1.0zM50.7 519.8h1.0v1.0h-1.0zM40.9 524.3h1.0v1.0h-1.0zM41.9 522.5h1.0v1.0h-1.0zM57.4 516.1h1.0v1.0h-1.0zM48.4 523.2h1.0v1.0h-1.0zM37.6 527.9h1.0v1.0h-1.0zM51.2 519.4h1.0v1.0h-1.0zM63.1 513.8h1.0v1.0h-1.0zM63.9 516.9h1.0v1.0h-1.0zM38.5 523.6h1.0v1.0h-1.0zM42.9 527.8h1.0v1.0h-1.0zM65.2 512.7h1.0v1.0h-1.0zM41.1 522.7h1.0v1.0h-1.0zM42.9 521.2h1.0v1.0h-1.0zM59.4 516.8h1.0v1.0h-1.0zM46.9 519.0h1.0v1.0h-1.0zM51.7 520.2h1.0v1.0h-1.0zM47.0 521.2h1.0v1.0h-1.0zM37.0 524.3h1.0v1.0h-1.0zM51.8 519.7h1.0v1.0h-1.0zM59.9 515.8h1.0v1.0h-1.0zM45.7 522.9h1.0v1.0h-1.0zM55.9 518.2h1.0v1.0h-1.0zM63.7 513.2h1.0v1.0h-1.0zM40.1 523.4h1.0v1.0h-1.0zM39.7 524.6h1.0v1.0h-1.0zM46.4 523.9h1.0v1.0h-1.0zM41.2 528.1h1.0v1.0h-1.0zM43.1 522.1h1.0v1.0h-1.0zM43.7 525.2h1.0v1.0h-1.0zM50.1 517.3h1.0v1.0h-1.0zM47.2 522.9h1.0v1.0h-1.0zM38.5 528.9h1.0v1.0h-1.0zM49.3 521.4h1.0v1.0h-1.0zM40.9 521.9h1.0v1.0h-1.0zM39.1 523.1h1.0v1.0h-1.0zM60.7 516.6h1.0v1.0h-1.0zM37.8 526.5h1.0v1.0h-1.0zM46.3 522.1h1.0v1.0h-1.0zM45.6 519.4h1.0v1.0h-1.0zM37.8 524.9h1.0v1.0h-1.0zM45.4 520.9h1.0v1.0h-1.0zM50.1 520.7h1.0v1.0h-1.0zM58.2 514.1h1.0v1.0h-1.0zM43.0 525.8h1.0v1.0h-1.0zM40.5 525.8h1.0v1.0h-1.0zM50.0 519.3h1.0v1.0h-1.0zM49.7 521.6h1.0v1.0h-1.0zM54.4 516.3h1.0v1.0h-1.0zM62.3 516.7h1.0v1.0h-1.0zM47.3 522.0h1.0v1.0h-1.0zM38.3 525.8h1.0v1.0h-1.0zM39.6 522.9h1.0v1.0h-1.0zM43.8 526.0h1.0v1.0h-1.0zM45.0 521.9h1.0v1.0h-1.0zM37.7 524.4h1.0v1.0h-1.0zM63.3 512.2h1.0v1.0h-1.0zM64.4 515.7h1.0v1.0h-1.0zM57.5 515.4h1.0v1.0h-1.0zM66.2 515.4h1.0v1.0h-1.0zM56.8 516.3h1.0v1.0h-1.0zM48.1 523.4h1.0v1.0h-1.0zM52.5 519.7h1.0v1.0h-1.0zM40.0 523.6h1.0v1.0h-1.0zM36.9 528.0h1.0v1.0h-1.0zM60.9 514.9h1.0v1.0h-1.0zM43.0 525.2h1.0v1.0h-1.0zM55.8 515.8h1.0v1.0h-1.0zM41.3 527.7h1.0v1.0h-1.0zM46.6 520.0h1.0v1.0h-1.0zM40.0 526.0h1.0v1.0h-1.0zM55.9 518.5h1.0v1.0h-1.0zM55.9 517.0h1.0v1.0h-1.0zM64.3 514.5h1.0v1.0h-1.0zM45.5 524.8h1.0v1.0h-1.0zM39.0 522.9h1.0v1.0h-1.0zM40.5 525.6h1.0v1.0h-1.0zM51.5 518.4h1.0v1.0h-1.0zM56.3 515.7h1.0v1.0h-1.0zM64.2 514.0h1.0v1.0h-1.0zM59.5 514.3h1.0v1.0h-1.0zM50.0 520.8h1.0v1.0h-1.0zM50.5 518.2h1.0v1.0h-1.0zM44.1 522.3h1.0v1.0h-1.0zM48.2 521.0h1.0v1.0h-1.0zM39.7 526.5h1.0v1.0h-1.0zM64.3 517.4h1.0v1.0h-1.0zM39.8 524.4h1.0v1.0h-1.0zM57.9 514.6h1.0v1.0h-1.0zM45.8 520.0h1.0v1.0h-1.0zM53.9 517.8h1.0v1.0h-1.0zM52.9 518.9h1.0v1.0h-1.0zM42.6 525.6h1.0v1.0h-1.0zM47.2 519.0h1.0v1.0h-1.0zM45.7 523.6h1.0v1.0h-1.0zM55.8 518.0h1.0v1.0h-1.0zM43.0 522.4h1.0v1.0h-1.0zM46.6 522.3h1.0v1.0h-1.0zM58.9 515.9h1.0v1.0h-1.0zM48.1 518.6h1.0v1.0h-1.0zM62.3 513.2h1.0v1.0h-1.0zM46.1 523.2h1.0v1.0h-1.0zM41.5 524.0h1.0v1.0h-1.0zM50.5 517.9h1.0v1.0h-1.0zM41.8 525.8h1.0v1.0h-1.0zM49.2 519.1h1.0v1.0h-1.0zM49.6 522.3h1.0v1.0h-1.0zM64.8 515.6h1.0v1.0h-1.0zM50.1 521.2h1.0v1.0h-1.0zM57.0 516.9h1.0v1.0h-1.0zM62.7 514.3h1.0v1.0h-1.0zM56.2 517.6h1.0v1.0h-1.0zM41.1 528.5h1.0v1.0h-1.0zM47.1 523.4h1.0v1.0h-1.0zM39.3 525.7h1.0v1.0h-1.0zM40.0 524.6h1.0v1.0h-1.0zM67.1 515.7h1.0v1.0h-1.0zM38.8 529.0h1.0v1.0h-1.0zM40.5 528.3h1.0v1.0h-1.0zM41.3 526.4h1.0v1.0h-1.0zM59.0 514.3h1.0v1.0h-1.0zM56.5 517.4h1.0v1.0h-1.0zM67.0 517.1h1.0v1.0h-1.0zM52.5 519.6h1.0v1.0h-1.0z" fill="#26828e"/>
<path d="M43.7 522.6h1.0v1.0h-1.0zM51.4 517.5h1.0v1.0h-1.0zM60.3 516.4h1.0v1.0h-1.0zM65.2 517.0h1.0v1.0h-1.0zM59.6 514.3h1.0v1.0h-1.0zM63.6 516.1h1.0v1.0h-1.0zM59.4 517.3h1.0v1.0h-1.0zM43.3 522.4h1.0v1.0h-1.0zM46.9 518.9h1.0v1.0h-1.0zM51.8 519.0h1.0v1.0h-1.0zM55.8 516.5h1.0v1.0h-1.0zM49.2 519.4h1.0v1.0h-1.0zM66.6 514.6h1.0v1.0h-1.0zM38.7 528.6h1.0v1.0h-1.0zM53.3 518.0h1.0v1.0h-1.0zM40.5 523.7h1.0v1.0h-1.0zM37.7 525.1h1.0v1.0h-1.0zM41.5 527.9h1.0v1.0h-1.0zM64.3 516.5h1.0v1.0h-1.0zM57.5 517.4h1.0v1.0h-1.0zM40.1 527.0h1.0v1.0h-1.0zM58.5 516.2h1.0v1.0h-1.0zM47.3 523.0h1.0v1.0h-1.0zM64.6 515.4h1.0v1.0h-1.0zM48.0 523.3h1.0v1.0h-1.0zM54.7 515.8h1.0v1.0h-1.0zM56.8 516.6h1.0v1.0h-1.0zM44.6 521.3h1.0v1.0h-1.0zM48.7 517.8h1.0v1.0h-1.0zM47.1 523.1h1.0v1.0h-1.0zM41.2 525.1h1.0v1.0h-1.0zM58.2 517.6h1.0v1.0h-1.0zM48.7 523.0h1.0v1.0h-1.0zM49.3 521.2h1.0v1.0h-1.0zM65.2 517.1h1.0v1.0h-1.0zM65.0 514.6h1.0v1.0h-1.0zM60.6 513.4h1.0v1.0h-1.0zM59.5 515.1h1.0v1.0h-1.0zM47.3 523.1h1.0v1.0h-1.0zM45.2 522.5h1.0v1.0h-1.0z" fill="#5ec962"/>
<path d="M55.4 539.0h1.0v1.0h-1.0zM46.0 531.6h1.0v1.0h-1.0zM69.0 530.6h1.0v1.0h-1.0zM64.1 536.1h1.0v1.0h-1.0zM39.3 548.2h1.0v1.0h-1.0zM45.7 539.6h1.0v1.0h-1.0zM28.3 542.5h1.0v1.0h-1.0zM74.0 535.1h1.0v1.0h-1.0zM67.6 532.9h1.0v1.0h-1.0zM49.4 534.0h1.0v1.0h-1.0zM39.7 545.4h1.0v1.0h-1.0zM28.8 534.6h1.0v1.0h-1.0zM21.4 537.9h1.0v1.0h-1.0zM67.0 538.8h1.0v1.0h-1.0zM47.5 530.7h1.0v1.0h-1.0zM33.2 531.2h1.0v1.0h-1.0zM35.6 549.9h1.0v1.0h-1.0zM37.2 529.7h1.0v1.0h-1.0zM23.5 538.6h1.0v1.0h-1.0zM48.5 544.9h1.0v1.0h-1.0zM25.7 534.9h1.0v1.0h-1.0zM64.6 528.4h1.0v1.0h-1.0zM51.9 542.9h1.0v1.0h-1.0zM53.3 537.0h1.0v1.0h-1.0zM24.3 546.0h1.0v1.0h-1.0zM28.7 537.6h1.0v1.0h-1.0zM48.5 527.4h1.0v1.0h-1.0zM37.3 526.6h1.0v1.0h-1.0zM61.6 534.8h1.0v1.0h-1.0zM73.1 535.3h1.0v1.0h-1.0zM34.8 528.4h1.0v1.0h-1.0zM46.1 534.6h1.0v1.0h-1.0zM65.8 536.0h1.0v1.0h-1.0zM17.8 538.8h1.0v1.0h-1.0zM44.2 551.2h1.0v1.0h-1.0zM37.0 546.4h1.0v1.0h-1.0zM53.3 533.7h1.0v1.0h-1.0zM49.6 552.8h1.0v1.0h-1.0zM50.6 537.2h1.0v1.0h-1.0zM39.0 544.3h1.0v1.0h-1.0zM63.9 529.6h1.0v1.0h-1.0zM36.8 534.9h1.0v1.0h-1.0zM76.3 531.7h1.0v1.0h-1.0zM48.2 532.7h1.0v1.0h-1.0zM51.4 542.7h1.0v1.0h-1.0zM68.9 532.5h1.0v1.0h-1.0zM61.6 514.5h1.0v1.0h-1.0zM76.7 531.8h1.0v1.0h-1.0zM64.9 528.8h1.0v1.0h-1.0zM70.7 533.7h1.0v1.0h-1.0zM34.9 539.2h1.0v1.0h-1.0zM60.0 540.5h1.0v1.0h-1.0zM70.8 532.8h1.0v1.0h-1.0zM26.8 543.8h1.0v1.0h-1.0zM53.0 546.3h1.0v1.0h-1.0zM27.3 543.2h1.0v1.0h-1.0zM57.9 543.6h1.0v1.0h-1.0zM20.4 537.2h1.0v1.0h-1.0zM55.4 548.5h1.0v1.0h-1.0zM46.1 533.7h1.0v1.0h-1.0zM68.4 507.3h1.0v1.0h-1.0zM47.2 533.2h1.0v1.0h-1.0zM68.9 529.4h1.0v1.0h-1.0zM62.0 512.8h1.0v1.0h-1.0zM47.5 537.4h1.0v1.0h-1.0zM36.9 527.8h1.0v1.0h-1.0zM58.6 533.7h1.0v1.0h-1.0zM48.4 539.9h1.0v1.0h-1.0zM43.3 520.4h1.0v1.0h-1.0zM51.8 532.0h1.0v1.0h-1.0zM61.4 516.4h1.0v1.0h-1.0zM43.7 553.5h1.0v1.0h-1.0zM43.0 551.3h1.0v1.0h-1.0zM31.0 537.2h1.0v1.0h-1.0zM46.4 528.0h1.0v1.0h-1.0zM50.7 518.9h1.0v1.0h-1.0zM28.9 541.3h1.0v1.0h-1.0zM62.2 539.4h1.0v1.0h-1.0zM63.5 534.2h1.0v1.0h-1.0zM50.0 532.6h1.0v1.0h-1.0zM55.7 516.8h1.0v1.0h-1.0zM32.3 548.9h1.0v1.0h-1.0zM45.5 550.1h1.0v1.0h-1.0zM51.6 517.7h1.0v1.0h-1.0zM38.8 544.4h1.0v1.0h-1.0zM54.2 539.7h1.0v1.0h-1.0zM57.4 535.3h1.0v1.0h-1.0zM41.0 549.9h1.0v1.0h-1.0zM30.2 548.7h1.0v1.0h-1.0zM34.9 535.5h1.0v1.0h-1.0zM39.8 527.2h1.0v1.0h-1.0zM63.2 540.0h1.0v1.0h-1.0zM23.4 542.7h1.0v1.0h-1.0zM21.7 542.2h1.0v1.0h-1.0zM23.7 540.9h1.0v1.0h-1.0zM51.5 551.6h1.0v1.0h-1.0zM36.8 525.9h1.0v1.0h-1.0zM49.7 543.4h1.0v1.0h-1.0zM28.4 541.1h1.0v1.0h-1.0zM63.2 515.5h1.0v1.0h-1.0zM39.5 534.4h1.0v1.0h-1.0zM38.5 541.8h1.0v1.0h-1.0zM38.6 548.0h1.0v1.0h-1.0zM63.9 529.3h1.0v1.0h-1.0zM59.0 542.7h1.0v1.0h-1.0zM56.9 535.1h1.0v1.0h-1.0zM50.9 549.1h1.0v1.0h-1.0zM49.3 539.8h1.0v1.0h-1.0zM45.6 541.6h1.0v1.0h-1.0zM36.3 529.8h1.0v1.0h-1.0z" fill="#2a788e"/>
<path d="M72.6 527.1h1.0v1.0h-1.0zM70.8 523.8h1.0v1.0h-1.0zM68.2 522.8h1.0v1.0h-1.0zM71.9 528.7h1.0v1.0h-1.0zM71.8 523.4h1.0v1.0h-1.0zM71.6 524.2h1.0v1.0h-1.0zM70.0 521.0h1.0v1.0h-1.0zM69.9 523.0h1.0v1.0h-1.0zM73.9 526.6h1.0v1.0h-1.0zM69.2 524.9h1.0v1.0h-1.0zM70.0 521.2h1.0v1.0h-1.0zM69.4 522.8h1.0v1.0h-1.0zM68.3 523.9h1.0v1.0h-1.0zM72.1 528.6h1.0v1.0h-1.0zM70.7 524.6h1.0v1.0h-1.0zM71.7 529.0h1.0v1.0h-1.0zM72.8 524.2h1.0v1.0h-1.0zM69.2 525.5h1.0v1.0h-1.0zM73.9 527.1h1.0v1.0h-1.0zM67.8 521.4h1.0v1.0h-1.0zM68.7 521.0h1.0v1.0h-1.0zM74.3 527.7h1.0v1.0h-1.0zM66.2 519.3h1.0v1.0h-1.0zM69.2 523.0h1.0v1.0h-1.0zM70.2 524.7h1.0v1.0h-1.0z" fill="#5ec962"/>
<path d="M25.1 545.8h1.0v1.0h-1.0zM69.7 523.0h1.0v1.0h-1.0zM29.3 547.8h1.0v1.0h-1.0zM54.6 539.2h1.0v1.0h-1.0zM44.0 521.0h1.0v1.0h-1.0zM46.1 550.3h1.0v1.0h-1.0zM41.5 552.7h1.0v1.0h-1.0zM64.0 512.3h1.0v1.0h-1.0zM26.3 541.4h1.0v1.0h-1.0zM53.9 549.8h1.0v1.0h-1.0zM41.2 544.0h1.0v1.0h-1.0zM75.1 533.5h1.0v1.0h-1.0zM34.8 540.7h1.0v1.0h-1.0zM76.5 529.8h1.0v1.0h-1.0zM23.4 537.0h1.0v1.0h-1.0zM73.8 535.6h1.0v1.0h-1.0zM45.5 537.5h1.0v1.0h-1.0zM45.8 536.2h1.0v1.0h-1.0zM54.7 535.9h1.0v1.0h-1.0zM47.2 536.0h1.0v1.0h-1.0zM21.7 540.0h1.0v1.0h-1.0zM76.0 532.3h1.0v1.0h-1.0zM70.3 522.8h1.0v1.0h-1.0zM26.8 537.8h1.0v1.0h-1.0zM33.8 548.0h1.0v1.0h-1.0zM35.8 544.5h1.0v1.0h-1.0zM19.5 539.3h1.0v1.0h-1.0zM66.1 514.4h1.0v1.0h-1.0zM63.5 534.2h1.0v1.0h-1.0zM69.6 526.4h1.0v1.0h-1.0zM68.4 528.4h1.0v1.0h-1.0zM41.9 536.9h1.0v1.0h-1.0zM71.2 521.4h1.0v1.0h-1.0zM49.8 526.5h1.0v1.0h-1.0zM61.1 535.7h1.0v1.0h-1.0zM73.5 536.5h1.0v1.0h-1.0zM36.3 535.7h1.0v1.0h-1.0zM56.6 543.4h1.0v1.0h-1.0zM70.2 532.9h1.0v1.0h-1.0zM48.1 532.8h1.0v1.0h-1.0zM61.3 540.9h1.0v1.0h-1.0zM36.2 541.6h1.0v1.0h-1.0zM65.0 517.3h1.0v1.0h-1.0zM47.0 551.9h1.0v1.0h-1.0zM25.1 538.6h1.0v1.0h-1.0zM27.1 544.1h1.0v1.0h-1.0zM42.5 553.2h1.0v1.0h-1.0zM42.5 537.4h1.0v1.0h-1.0zM49.6 518.1h1.0v1.0h-1.0zM52.0 520.0h1.0v1.0h-1.0zM75.6 527.3h1.0v1.0h-1.0zM57.4 545.3h1.0v1.0h-1.0zM68.3 535.1h1.0v1.0h-1.0zM27.6 537.0h1.0v1.0h-1.0zM26.6 541.1h1.0v1.0h-1.0zM27.7 538.4h1.0v1.0h-1.0zM53.7 547.4h1.0v1.0h-1.0zM34.6 537.5h1.0v1.0h-1.0zM50.9 545.3h1.0v1.0h-1.0zM35.9 549.6h1.0v1.0h-1.0zM22.7 540.1h1.0v1.0h-1.0zM66.4 540.0h1.0v1.0h-1.0zM60.9 515.7h1.0v1.0h-1.0zM44.2 545.1h1.0v1.0h-1.0zM39.2 539.5h1.0v1.0h-1.0zM58.8 536.5h1.0v1.0h-1.0zM27.1 542.4h1.0v1.0h-1.0zM41.9 552.0h1.0v1.0h-1.0zM55.4 541.6h1.0v1.0h-1.0zM57.8 514.8h1.0v1.0h-1.0zM72.0 524.6h1.0v1.0h-1.0zM21.3 541.2h1.0v1.0h-1.0zM70.9 526.5h1.0v1.0h-1.0zM53.8 515.7h1.0v1.0h-1.0zM35.8 539.3h1.0v1.0h-1.0zM74.2 528.0h1.0v1.0h-1.0zM66.0 538.2h1.0v1.0h-1.0zM70.6 537.2h1.0v1.0h-1.0zM36.4 527.1h1.0v1.0h-1.0zM42.9 542.2h1.0v1.0h-1.0zM48.5 532.8h1.0v1.0h-1.0zM38.9 528.7h1.0v1.0h-1.0zM50.7 544.0h1.0v1.0h-1.0zM53.8 543.4h1.0v1.0h-1.0zM43.0 535.4h1.0v1.0h-1.0zM37.1 538.6h1.0v1.0h-1.0zM64.3 514.9h1.0v1.0h-1.0zM50.1 524.8h1.0v1.0h-1.0zM40.0 533.3h1.0v1.0h-1.0zM48.6 546.3h1.0v1.0h-1.0zM49.1 552.7h1.0v1.0h-1.0zM47.3 531.7h1.0v1.0h-1.0zM70.7 537.7h1.0v1.0h-1.0zM42.7 548.8h1.0v1.0h-1.0zM60.7 531.2h1.0v1.0h-1.0zM67.0 539.8h1.0v1.0h-1.0zM50.0 522.0h1.0v1.0h-1.0zM35.3 545.8h1.0v1.0h-1.0zM63.9 535.4h1.0v1.0h-1.0zM47.7 539.7h1.0v1.0h-1.0zM39.5 544.4h1.0v1.0h-1.0zM65.8 536.7h1.0v1.0h-1.0zM50.6 541.7h1.0v1.0h-1.0zM59.9 515.6h1.0v1.0h-1.0zM52.5 534.8h1.0v1.0h-1.0zM68.6 527.0h1.0v1.0h-1.0zM28.0 535.5h1.0v1.0h-1.0zM45.6 537.4h1.0v1.0h-1.0zM39.8 551.3h1.0v1.0h-1.0zM45.8 534.2h1.0v1.0h-1.0zM18.2 541.0h1.0v1.0h-1.0zM54.4 546.1h1.0v1.0h-1.0zM23.1 538.8h1.0v1.0h-1.0zM30.1 547.8h1.0v1.0h-1.0zM66.9 517.8h1.0v1.0h-1.0zM48.0 545.0h1.0v1.0h-1.0zM46.3 532.8h1.0v1.0h-1.0zM71.6 525.2h1.0v1.0h-1.0zM33.0 546.5h1.0v1.0h-1.0zM39.7 532.1h1.0v1.0h-1.0zM40.0 540.7h1.0v1.0h-1.0zM54.9 540.2h1.0v1.0h-1.0zM26.5 537.2h1.0v1.0h-1.0zM56.4 542.1h1.0v1.0h-1.0zM62.6 515.9h1.0v1.0h-1.0zM71.8 537.6h1.0v1.0h-1.0zM57.5 542.2h1.0v1.0h-1.0zM61.6 538.5h1.0v1.0h-1.0zM42.1 522.6h1.0v1.0h-1.0zM46.4 528.2h1.0v1.0h-1.0zM38.7 528.0h1.0v1.0h-1.0zM43.7 526.2h1.0v1.0h-1.0zM29.6 541.3h1.0v1.0h-1.0zM65.1 531.3h1.0v1.0h-1.0zM40.3 530.0h1.0v1.0h-1.0zM46.4 547.6h1.0v1.0h-1.0zM40.1 528.3h1.0v1.0h-1.0zM47.8 540.7h1.0v1.0h-1.0zM31.8 534.2h1.0v1.0h-1.0zM68.5 527.8h1.0v1.0h-1.0zM26.6 543.1h1.0v1.0h-1.0zM73.2 534.1h1.0v1.0h-1.0zM47.6 532.7h1.0v1.0h-1.0zM43.6 545.5h1.0v1.0h-1.0zM56.6 539.4h1.0v1.0h-1.0zM61.2 539.3h1.0v1.0h-1.0zM37.8 548.6h1.0v1.0h-1.0zM46.7 521.7h1.0v1.0h-1.0zM46.5 537.0h1.0v1.0h-1.0zM40.7 522.3h1.0v1.0h-1.0zM61.2 533.4h1.0v1.0h-1.0zM71.3 528.3h1.0v1.0h-1.0zM48.3 518.9h1.0v1.0h-1.0zM22.9 540.8h1.0v1.0h-1.0zM50.3 518.1h1.0v1.0h-1.0zM40.0 532.9h1.0v1.0h-1.0zM49.1 529.1h1.0v1.0h-1.0zM68.8 532.6h1.0v1.0h-1.0zM47.3 534.3h1.0v1.0h-1.0zM59.1 542.7h1.0v1.0h-1.0zM43.7 552.6h1.0v1.0h-1.0zM53.7 538.2h1.0v1.0h-1.0zM45.5 544.2h1.0v1.0h-1.0zM50.4 536.7h1.0v1.0h-1.0zM67.3 536.9h1.0v1.0h-1.0zM37.1 549.6h1.0v1.0h-1.0zM31.2 531.8h1.0v1.0h-1.0zM45.5 519.7h1.0v1.0h-1.0zM69.2 504.7h1.0v1.0h-1.0zM57.8 517.8h1.0v1.0h-1.0zM64.9 538.4h1.0v1.0h-1.0zM36.6 547.3h1.0v1.0h-1.0zM42.8 529.2h1.0v1.0h-1.0zM67.4 530.9h1.0v1.0h-1.0zM61.1 515.5h1.0v1.0h-1.0zM72.9 527.5h1.0v1.0h-1.0zM46.2 534.4h1.0v1.0h-1.0zM39.5 547.6h1.0v1.0h-1.0zM19.1 539.0h1.0v1.0h-1.0zM66.0 511.3h1.0v1.0h-1.0zM30.1 543.7h1.0v1.0h-1.0zM39.9 545.0h1.0v1.0h-1.0zM36.0 536.9h1.0v1.0h-1.0zM54.5 538.7h1.0v1.0h-1.0zM47.1 548.5h1.0v1.0h-1.0zM64.3 533.4h1.0v1.0h-1.0zM70.9 534.3h1.0v1.0h-1.0zM41.8 552.4h1.0v1.0h-1.0zM39.1 523.2h1.0v1.0h-1.0zM69.4 537.9h1.0v1.0h-1.0zM43.1 550.7h1.0v1.0h-1.0zM63.4 539.0h1.0v1.0h-1.0zM32.6 543.9h1.0v1.0h-1.0zM48.7 542.4h1.0v1.0h-1.0zM53.4 548.2h1.0v1.0h-1.0zM54.7 534.5h1.0v1.0h-1.0zM64.0 529.3h1.0v1.0h-1.0zM20.0 537.9h1.0v1.0h-1.0zM29.2 545.8h1.0v1.0h-1.0zM69.8 535.0h1.0v1.0h-1.0zM68.7 531.5h1.0v1.0h-1.0zM60.8 535.5h1.0v1.0h-1.0zM52.0 533.8h1.0v1.0h-1.0zM36.3 544.6h1.0v1.0h-1.0zM71.3 528.9h1.0v1.0h-1.0zM50.5 549.7h1.0v1.0h-1.0zM33.7 536.8h1.0v1.0h-1.0zM57.1 538.0h1.0v1.0h-1.0zM37.5 523.9h1.0v1.0h-1.0zM37.3 545.9h1.0v1.0h-1.0zM34.3 545.4h1.0v1.0h-1.0zM38.9 524.4h1.0v1.0h-1.0zM60.5 536.6h1.0v1.0h-1.0zM52.2 533.0h1.0v1.0h-1.0zM68.7 539.1h1.0v1.0h-1.0zM24.8 543.5h1.0v1.0h-1.0zM52.3 539.3h1.0v1.0h-1.0zM62.8 538.3h1.0v1.0h-1.0zM23.6 536.9h1.0v1.0h-1.0zM52.2 518.4h1.0v1.0h-1.0zM56.6 537.4h1.0v1.0h-1.0zM51.0 544.0h1.0v1.0h-1.0zM26.0 535.7h1.0v1.0h-1.0zM47.4 554.3h1.0v1.0h-1.0zM43.7 540.4h1.0v1.0h-1.0zM62.7 538.6h1.0v1.0h-1.0zM43.5 539.3h1.0v1.0h-1.0zM45.8 539.4h1.0v1.0h-1.0zM35.7 544.1h1.0v1.0h-1.0zM36.6 529.6h1.0v1.0h-1.0zM20.2 544.0h1.0v1.0h-1.0zM60.1 543.5h1.0v1.0h-1.0zM43.6 553.5h1.0v1.0h-1.0zM36.2 531.5h1.0v1.0h-1.0zM59.5 539.3h1.0v1.0h-1.0zM42.4 544.5h1.0v1.0h-1.0zM45.0 543.4h1.0v1.0h-1.0zM46.6 531.4h1.0v1.0h-1.0zM51.3 537.4h1.0v1.0h-1.0zM51.0 542.8h1.0v1.0h-1.0zM38.9 531.7h1.0v1.0h-1.0zM40.6 536.6h1.0v1.0h-1.0zM47.2 555.2h1.0v1.0h-1.0zM69.9 523.2h1.0v1.0h-1.0zM36.3 536.1h1.0v1.0h-1.0zM50.7 531.8h1.0v1.0h-1.0zM41.6 526.9h1.0v1.0h-1.0zM30.5 542.3h1.0v1.0h-1.0zM36.6 542.3h1.0v1.0h-1.0zM49.1 542.0h1.0v1.0h-1.0zM67.7 535.6h1.0v1.0h-1.0zM46.4 540.8h1.0v1.0h-1.0zM41.6 542.8h1.0v1.0h-1.0zM36.0 530.8h1.0v1.0h-1.0zM37.1 528.3h1.0v1.0h-1.0zM41.9 543.0h1.0v1.0h-1.0zM47.4 554.4h1.0v1.0h-1.0zM37.9 542.5h1.0v1.0h-1.0zM31.6 531.4h1.0v1.0h-1.0zM55.4 539.9h1.0v1.0h-1.0zM27.3 542.3h1.0v1.0h-1.0zM63.5 538.3h1.0v1.0h-1.0zM31.0 532.2h1.0v1.0h-1.0zM47.6 522.1h1.0v1.0h-1.0zM37.7 526.1h1.0v1.0h-1.0zM62.9 540.8h1.0v1.0h-1.0zM38.2 535.3h1.0v1.0h-1.0zM47.9 522.3h1.0v1.0h-1.0zM47.1 526.3h1.0v1.0h-1.0zM49.2 551.6h1.0v1.0h-1.0zM75.8 529.4h1.0v1.0h-1.0zM47.6 524.8h1.0v1.0h-1.0zM47.6 529.0h1.0v1.0h-1.0zM56.7 543.9h1.0v1.0h-1.0zM40.4 551.6h1.0v1.0h-1.0zM27.3 543.5h1.0v1.0h-1.0zM59.7 540.4h1.0v1.0h-1.0zM45.6 549.9h1.0v1.0h-1.0zM37.6 539.0h1.0v1.0h-1.0zM66.8 539.4h1.0v1.0h-1.0zM46.3 534.2h1.0v1.0h-1.0zM19.1 543.4h1.0v1.0h-1.0zM52.8 545.5h1.0v1.0h-1.0zM65.2 535.0h1.0v1.0h-1.0zM60.9 537.1h1.0v1.0h-1.0zM43.5 548.6h1.0v1.0h-1.0zM49.8 534.9h1.0v1.0h-1.0zM72.9 527.5h1.0v1.0h-1.0zM52.1 549.8h1.0v1.0h-1.0zM72.3 535.1h1.0v1.0h-1.0zM28.6 547.5h1.0v1.0h-1.0zM56.2 539.0h1.0v1.0h-1.0zM31.0 541.5h1.0v1.0h-1.0zM66.9 516.8h1.0v1.0h-1.0zM66.7 527.6h1.0v1.0h-1.0zM51.2 543.1h1.0v1.0h-1.0zM43.5 527.5h1.0v1.0h-1.0zM57.3 542.7h1.0v1.0h-1.0zM32.3 541.4h1.0v1.0h-1.0zM73.1 536.5h1.0v1.0h-1.0zM58.4 543.4h1.0v1.0h-1.0zM71.7 527.3h1.0v1.0h-1.0zM35.8 537.5h1.0v1.0h-1.0zM39.1 535.3h1.0v1.0h-1.0zM67.9 505.9h1.0v1.0h-1.0zM39.1 542.2h1.0v1.0h-1.0zM58.7 515.7h1.0v1.0h-1.0zM27.4 538.0h1.0v1.0h-1.0zM27.4 538.5h1.0v1.0h-1.0zM32.1 544.1h1.0v1.0h-1.0zM55.7 541.9h1.0v1.0h-1.0zM22.0 544.1h1.0v1.0h-1.0zM43.8 526.7h1.0v1.0h-1.0zM40.0 551.4h1.0v1.0h-1.0zM41.8 549.3h1.0v1.0h-1.0zM52.0 543.6h1.0v1.0h-1.0zM18.9 538.0h1.0v1.0h-1.0zM46.4 530.0h1.0v1.0h-1.0zM31.2 530.4h1.0v1.0h-1.0zM42.0 528.8h1.0v1.0h-1.0zM36.9 535.4h1.0v1.0h-1.0zM35.3 549.6h1.0v1.0h-1.0zM45.8 520.5h1.0v1.0h-1.0zM32.8 548.3h1.0v1.0h-1.0zM47.2 528.1h1.0v1.0h-1.0zM66.0 510.4h1.0v1.0h-1.0zM66.3 513.3h1.0v1.0h-1.0zM42.0 552.2h1.0v1.0h-1.0zM44.9 532.9h1.0v1.0h-1.0zM63.5 533.1h1.0v1.0h-1.0zM26.2 546.4h1.0v1.0h-1.0zM24.1 539.1h1.0v1.0h-1.0zM38.0 530.0h1.0v1.0h-1.0zM28.8 535.9h1.0v1.0h-1.0zM45.8 544.4h1.0v1.0h-1.0zM35.1 548.0h1.0v1.0h-1.0zM34.8 546.9h1.0v1.0h-1.0zM44.5 527.6h1.0v1.0h-1.0zM22.6 538.6h1.0v1.0h-1.0zM43.1 553.3h1.0v1.0h-1.0zM53.2 549.0h1.0v1.0h-1.0zM62.4 538.0h1.0v1.0h-1.0zM21.7 536.8h1.0v1.0h-1.0zM45.1 533.0h1.0v1.0h-1.0zM59.9 532.4h1.0v1.0h-1.0zM47.3 544.9h1.0v1.0h-1.0zM49.1 526.4h1.0v1.0h-1.0zM50.0 529.9h1.0v1.0h-1.0zM21.4 536.6h1.0v1.0h-1.0zM40.0 536.7h1.0v1.0h-1.0zM32.2 540.1h1.0v1.0h-1.0zM67.1 515.7h1.0v1.0h-1.0zM27.2 541.1h1.0v1.0h-1.0zM19.2 543.3h1.0v1.0h-1.0zM35.4 535.7h1.0v1.0h-1.0zM38.9 548.4h1.0v1.0h-1.0zM23.1 538.6h1.0v1.0h-1.0zM49.8 535.9h1.0v1.0h-1.0zM68.2 518.4h1.0v1.0h-1.0zM50.6 548.7h1.0v1.0h-1.0zM33.6 537.9h1.0v1.0h-1.0zM65.5 528.1h1.0v1.0h-1.0zM35.7 544.7h1.0v1.0h-1.0zM49.9 518.7h1.0v1.0h-1.0zM65.4 528.1h1.0v1.0h-1.0zM33.7 538.3h1.0v1.0h-1.0zM45.5 525.3h1.0v1.0h-1.0zM25.7 540.4h1.0v1.0h-1.0zM17.6 539.8h1.0v1.0h-1.0zM41.0 527.0h1.0v1.0h-1.0zM46.9 526.8h1.0v1.0h-1.0zM38.6 550.6h1.0v1.0h-1.0zM47.0 545.1h1.0v1.0h-1.0zM39.0 539.5h1.0v1.0h-1.0zM30.6 532.6h1.0v1.0h-1.0zM60.5 540.9h1.0v1.0h-1.0zM46.8 551.5h1.0v1.0h-1.0zM28.4 540.0h1.0v1.0h-1.0zM58.7 542.4h1.0v1.0h-1.0zM18.0 538.5h1.0v1.0h-1.0zM44.9 526.2h1.0v1.0h-1.0zM46.7 528.9h1.0v1.0h-1.0zM46.2 534.4h1.0v1.0h-1.0zM33.1 535.2h1.0v1.0h-1.0zM28.2 533.0h1.0v1.0h-1.0zM54.6 543.2h1.0v1.0h-1.0zM67.6 539.9h1.0v1.0h-1.0zM64.0 516.2h1.0v1.0h-1.0zM35.9 543.7h1.0v1.0h-1.0zM36.0 535.6h1.0v1.0h-1.0zM74.1 531.7h1.0v1.0h-1.0zM73.5 533.3h1.0v1.0h-1.0zM67.3 529.3h1.0v1.0h-1.0zM70.7 530.0h1.0v1.0h-1.0zM65.6 540.6h1.0v1.0h-1.0zM23.9 542.0h1.0v1.0h-1.0zM67.8 535.1h1.0v1.0h-1.0zM40.0 550.5h1.0v1.0h-1.0zM18.9 536.6h1.0v1.0h-1.0zM49.5 534.5h1.0v1.0h-1.0zM37.1 548.4h1.0v1.0h-1.0zM48.6 550.2h1.0v1.0h-1.0zM23.4 539.2h1.0v1.0h-1.0zM57.2 533.3h1.0v1.0h-1.0zM44.9 545.2h1.0v1.0h-1.0zM33.3 547.0h1.0v1.0h-1.0zM62.0 532.2h1.0v1.0h-1.0zM34.6 540.4h1.0v1.0h-1.0zM43.1 550.4h1.0v1.0h-1.0zM54.0 541.1h1.0v1.0h-1.0zM53.5 546.8h1.0v1.0h-1.0zM66.0 516.9h1.0v1.0h-1.0zM49.5 531.9h1.0v1.0h-1.0zM32.4 541.6h1.0v1.0h-1.0zM38.9 526.1h1.0v1.0h-1.0zM66.0 527.8h1.0v1.0h-1.0zM52.5 534.8h1.0v1.0h-1.0zM66.8 512.6h1.0v1.0h-1.0zM49.3 533.5h1.0v1.0h-1.0zM36.9 525.7h1.0v1.0h-1.0zM71.8 533.2h1.0v1.0h-1.0zM25.0 539.5h1.0v1.0h-1.0zM70.3 526.3h1.0v1.0h-1.0zM41.7 525.1h1.0v1.0h-1.0zM43.6 547.4h1.0v1.0h-1.0zM48.1 549.0h1.0v1.0h-1.0zM73.2 524.6h1.0v1.0h-1.0zM49.4 529.4h1.0v1.0h-1.0zM41.4 523.8h1.0v1.0h-1.0zM66.2 509.2h1.0v1.0h-1.0zM69.3 528.3h1.0v1.0h-1.0zM52.8 537.7h1.0v1.0h-1.0zM50.7 519.0h1.0v1.0h-1.0zM36.4 548.7h1.0v1.0h-1.0zM35.7 527.9h1.0v1.0h-1.0zM73.9 535.6h1.0v1.0h-1.0zM27.7 536.7h1.0v1.0h-1.0zM31.0 540.8h1.0v1.0h-1.0zM31.5 530.6h1.0v1.0h-1.0zM32.2 533.3h1.0v1.0h-1.0zM21.7 540.3h1.0v1.0h-1.0zM57.0 516.0h1.0v1.0h-1.0zM47.7 546.0h1.0v1.0h-1.0zM35.7 548.7h1.0v1.0h-1.0zM54.5 538.1h1.0v1.0h-1.0zM54.6 544.7h1.0v1.0h-1.0zM68.0 506.6h1.0v1.0h-1.0zM48.9 548.5h1.0v1.0h-1.0zM44.5 523.0h1.0v1.0h-1.0zM56.3 517.1h1.0v1.0h-1.0zM38.7 527.1h1.0v1.0h-1.0zM49.1 521.8h1.0v1.0h-1.0zM46.6 546.5h1.0v1.0h-1.0zM39.0 530.2h1.0v1.0h-1.0zM44.3 537.0h1.0v1.0h-1.0zM67.4 508.7h1.0v1.0h-1.0zM28.4 535.1h1.0v1.0h-1.0zM65.5 537.3h1.0v1.0h-1.0zM35.9 545.2h1.0v1.0h-1.0zM72.6 534.5h1.0v1.0h-1.0zM50.2 544.3h1.0v1.0h-1.0zM34.7 531.6h1.0v1.0h-1.0zM44.3 543.6h1.0v1.0h-1.0zM67.3 534.9h1.0v1.0h-1.0zM64.2 510.7h1.0v1.0h-1.0zM22.1 543.0h1.0v1.0h-1.0zM48.8 553.1h1.0v1.0h-1.0zM48.6 538.3h1.0v1.0h-1.0zM20.2 538.2h1.0v1.0h-1.0zM64.6 512.0h1.0v1.0h-1.0zM33.1 548.5h1.0v1.0h-1.0zM18.4 538.7h1.0v1.0h-1.0zM35.7 526.7h1.0v1.0h-1.0zM21.0 537.5h1.0v1.0h-1.0zM52.8 534.8h1.0v1.0h-1.0zM25.8 541.9h1.0v1.0h-1.0zM67.1 528.6h1.0v1.0h-1.0zM26.3 543.0h1.0v1.0h-1.0zM61.0 515.3h1.0v1.0h-1.0zM64.7 529.2h1.0v1.0h-1.0zM36.7 532.6h1.0v1.0h-1.0zM56.7 542.8h1.0v1.0h-1.0zM21.5 539.8h1.0v1.0h-1.0zM64.5 516.1h1.0v1.0h-1.0zM39.2 550.7h1.0v1.0h-1.0zM64.2 531.5h1.0v1.0h-1.0zM48.8 530.5h1.0v1.0h-1.0zM20.8 538.6h1.0v1.0h-1.0zM43.1 530.8h1.0v1.0h-1.0zM67.9 540.2h1.0v1.0h-1.0zM43.7 552.8h1.0v1.0h-1.0zM36.5 536.9h1.0v1.0h-1.0zM50.3 543.3h1.0v1.0h-1.0zM31.3 537.2h1.0v1.0h-1.0zM44.7 539.0h1.0v1.0h-1.0zM65.9 516.0h1.0v1.0h-1.0zM62.4 531.7h1.0v1.0h-1.0zM21.4 542.7h1.0v1.0h-1.0zM57.9 544.3h1.0v1.0h-1.0zM37.4 542.3h1.0v1.0h-1.0zM66.3 530.1h1.0v1.0h-1.0zM43.3 550.2h1.0v1.0h-1.0zM34.5 543.1h1.0v1.0h-1.0zM45.4 524.6h1.0v1.0h-1.0zM48.3 530.9h1.0v1.0h-1.0zM64.7 527.8h1.0v1.0h-1.0zM23.2 540.1h1.0v1.0h-1.0zM76.3 532.7h1.0v1.0h-1.0zM27.6 544.4h1.0v1.0h-1.0zM33.2 547.0h1.0v1.0h-1.0zM59.8 532.8h1.0v1.0h-1.0zM24.6 545.5h1.0v1.0h-1.0zM58.6 542.0h1.0v1.0h-1.0zM22.4 535.4h1.0v1.0h-1.0zM33.3 533.6h1.0v1.0h-1.0zM37.4 542.6h1.0v1.0h-1.0zM47.6 535.5h1.0v1.0h-1.0zM61.5 533.9h1.0v1.0h-1.0zM44.0 520.9h1.0v1.0h-1.0zM29.5 544.1h1.0v1.0h-1.0zM62.4 529.4h1.0v1.0h-1.0zM69.7 534.1h1.0v1.0h-1.0zM57.2 517.1h1.0v1.0h-1.0zM65.0 538.1h1.0v1.0h-1.0zM66.8 530.6h1.0v1.0h-1.0zM62.1 531.6h1.0v1.0h-1.0zM28.8 534.0h1.0v1.0h-1.0zM40.2 545.8h1.0v1.0h-1.0zM41.2 527.1h1.0v1.0h-1.0zM74.8 531.7h1.0v1.0h-1.0zM65.1 528.9h1.0v1.0h-1.0zM53.1 516.2h1.0v1.0h-1.0zM74.9 530.5h1.0v1.0h-1.0zM43.3 531.7h1.0v1.0h-1.0zM45.9 544.1h1.0v1.0h-1.0zM63.5 531.7h1.0v1.0h-1.0zM39.1 549.9h1.0v1.0h-1.0zM47.2 551.5h1.0v1.0h-1.0zM18.9 537.5h1.0v1.0h-1.0zM44.5 553.6h1.0v1.0h-1.0zM39.2 529.9h1.0v1.0h-1.0zM35.6 547.1h1.0v1.0h-1.0zM65.9 541.0h1.0v1.0h-1.0zM38.4 544.8h1.0v1.0h-1.0zM29.9 538.6h1.0v1.0h-1.0zM63.9 532.8h1.0v1.0h-1.0zM66.1 512.9h1.0v1.0h-1.0zM61.8 539.8h1.0v1.0h-1.0zM65.4 531.6h1.0v1.0h-1.0zM48.1 536.8h1.0v1.0h-1.0z" fill="#fff"/>
<path d="M113.1 496.8h1.0v1.0h-1.0zM117.8 492.5h1.0v1.0h-1.0zM117.0 502.8h1.0v1.0h-1.0zM118.1 497.5h1.0v1.0h-1.0zM122.1 496.7h1.0v1.0h-1.0zM113.1 501.3h1.0v1.0h-1.0zM123.8 497.9h1.0v1.0h-1.0zM117.3 492.1h1.0v1.0h-1.0zM111.3 500.6h1.0v1.0h-1.0zM121.0 498.8h1.0v1.0h-1.0zM110.6 500.0h1.0v1.0h-1.0zM119.9 496.6h1.0v1.0h-1.0zM115.7 493.1h1.0v1.0h-1.0zM115.2 496.0h1.0v1.0h-1.0zM116.7 503.1h1.0v1.0h-1.0zM124.3 499.6h1.0v1.0h-1.0zM122.0 497.6h1.0v1.0h-1.0zM119.6 500.8h1.0v1.0h-1.0zM116.4 498.3h1.0v1.0h-1.0zM120.0 502.5h1.0v1.0h-1.0zM122.0 496.3h1.0v1.0h-1.0zM116.6 500.6h1.0v1.0h-1.0zM121.5 495.6h1.0v1.0h-1.0zM115.2 498.6h1.0v1.0h-1.0zM116.9 499.3h1.0v1.0h-1.0zM123.2 496.3h1.0v1.0h-1.0zM118.4 493.7h1.0v1.0h-1.0zM122.5 499.7h1.0v1.0h-1.0zM118.9 495.4h1.0v1.0h-1.0zM112.8 500.5h1.0v1.0h-1.0zM118.4 501.5h1.0v1.0h-1.0zM110.9 500.0h1.0v1.0h-1.0zM115.7 501.3h1.0v1.0h-1.0zM116.1 494.0h1.0v1.0h-1.0zM122.2 499.7h1.0v1.0h-1.0zM117.0 499.8h1.0v1.0h-1.0zM123.7 498.8h1.0v1.0h-1.0zM122.3 501.4h1.0v1.0h-1.0zM110.4 496.0h1.0v1.0h-1.0zM119.2 501.0h1.0v1.0h-1.0zM112.7 493.0h1.0v1.0h-1.0zM109.6 499.3h1.0v1.0h-1.0zM110.7 496.3h1.0v1.0h-1.0zM120.2 500.6h1.0v1.0h-1.0zM117.7 499.6h1.0v1.0h-1.0zM119.7 494.1h1.0v1.0h-1.0zM112.7 502.2h1.0v1.0h-1.0zM109.2 495.0h1.0v1.0h-1.0zM120.1 494.1h1.0v1.0h-1.0zM123.7 499.3h1.0v1.0h-1.0zM114.6 494.2h1.0v1.0h-1.0zM114.9 492.7h1.0v1.0h-1.0zM110.6 497.4h1.0v1.0h-1.0zM124.9 499.0h1.0v1.0h-1.0zM119.6 502.2h1.0v1.0h-1.0zM118.4 498.1h1.0v1.0h-1.0zM118.7 497.6h1.0v1.0h-1.0zM123.2 496.9h1.0v1.0h-1.0zM117.0 502.3h1.0v1.0h-1.0zM114.4 497.5h1.0v1.0h-1.0zM119.2 498.4h1.0v1.0h-1.0z" fill="#fff"/>
<path d="M22.4 546.1h1.0v1.0h-1.0zM40.4 553.2h1.0v1.0h-1.0zM70.9 520.0h1.0v1.0h-1.0zM78.1 528.7h1.0v1.0h-1.0zM68.1 510.4h1.0v1.0h-1.0zM24.5 535.5h1.0v1.0h-1.0zM25.5 548.5h1.0v1.0h-1.0zM68.0 540.2h1.0v1.0h-1.0zM67.0 511.6h1.0v1.0h-1.0zM63.9 543.1h1.0v1.0h-1.0zM68.9 503.1h1.0v1.0h-1.0zM18.7 537.8h1.0v1.0h-1.0zM47.9 555.1h1.0v1.0h-1.0zM27.2 546.5h1.0v1.0h-1.0zM30.4 550.2h1.0v1.0h-1.0zM68.7 509.6h1.0v1.0h-1.0zM66.4 516.5h1.0v1.0h-1.0zM72.3 521.8h1.0v1.0h-1.0zM40.6 520.6h1.0v1.0h-1.0zM41.5 551.4h1.0v1.0h-1.0zM29.4 550.5h1.0v1.0h-1.0zM57.1 512.8h1.0v1.0h-1.0zM69.0 517.4h1.0v1.0h-1.0zM71.2 521.0h1.0v1.0h-1.0zM68.2 540.2h1.0v1.0h-1.0zM73.8 522.1h1.0v1.0h-1.0zM21.2 545.1h1.0v1.0h-1.0zM32.8 550.4h1.0v1.0h-1.0zM32.2 530.7h1.0v1.0h-1.0zM72.5 521.2h1.0v1.0h-1.0zM19.8 542.1h1.0v1.0h-1.0zM34.6 528.1h1.0v1.0h-1.0zM35.5 523.8h1.0v1.0h-1.0zM39.4 523.9h1.0v1.0h-1.0zM71.9 537.8h1.0v1.0h-1.0zM58.4 546.4h1.0v1.0h-1.0zM26.7 532.4h1.0v1.0h-1.0zM52.6 516.0h1.0v1.0h-1.0zM28.1 530.8h1.0v1.0h-1.0zM46.2 517.3h1.0v1.0h-1.0zM26.2 533.1h1.0v1.0h-1.0zM34.5 525.6h1.0v1.0h-1.0zM36.5 550.3h1.0v1.0h-1.0zM18.3 535.0h1.0v1.0h-1.0zM66.4 506.9h1.0v1.0h-1.0zM67.5 516.6h1.0v1.0h-1.0zM54.9 548.5h1.0v1.0h-1.0zM53.9 514.4h1.0v1.0h-1.0zM17.5 537.8h1.0v1.0h-1.0zM25.9 546.1h1.0v1.0h-1.0zM42.7 553.3h1.0v1.0h-1.0zM53.4 551.5h1.0v1.0h-1.0zM47.5 517.9h1.0v1.0h-1.0zM44.4 518.7h1.0v1.0h-1.0zM33.1 526.4h1.0v1.0h-1.0zM19.9 534.7h1.0v1.0h-1.0zM54.5 551.4h1.0v1.0h-1.0zM56.4 546.6h1.0v1.0h-1.0zM41.5 521.2h1.0v1.0h-1.0zM71.8 536.5h1.0v1.0h-1.0zM72.0 539.3h1.0v1.0h-1.0zM26.3 533.2h1.0v1.0h-1.0zM37.7 524.8h1.0v1.0h-1.0zM36.7 552.0h1.0v1.0h-1.0zM47.9 553.6h1.0v1.0h-1.0zM50.1 517.0h1.0v1.0h-1.0zM51.8 515.9h1.0v1.0h-1.0zM50.1 554.6h1.0v1.0h-1.0zM72.6 523.4h1.0v1.0h-1.0zM33.6 548.6h1.0v1.0h-1.0zM27.1 548.5h1.0v1.0h-1.0zM68.5 506.0h1.0v1.0h-1.0zM34.6 549.4h1.0v1.0h-1.0zM70.7 537.2h1.0v1.0h-1.0zM35.9 523.7h1.0v1.0h-1.0zM50.6 554.0h1.0v1.0h-1.0zM68.1 540.0h1.0v1.0h-1.0zM70.9 539.5h1.0v1.0h-1.0zM18.8 542.6h1.0v1.0h-1.0zM17.9 535.9h1.0v1.0h-1.0zM73.8 526.0h1.0v1.0h-1.0zM70.6 537.3h1.0v1.0h-1.0zM64.6 507.6h1.0v1.0h-1.0zM66.1 516.3h1.0v1.0h-1.0zM75.7 528.5h1.0v1.0h-1.0zM39.2 550.2h1.0v1.0h-1.0zM73.5 521.7h1.0v1.0h-1.0zM77.1 534.3h1.0v1.0h-1.0zM70.8 503.9h1.0v1.0h-1.0zM68.6 503.4h1.0v1.0h-1.0zM59.2 543.2h1.0v1.0h-1.0zM36.7 549.8h1.0v1.0h-1.0zM40.2 522.4h1.0v1.0h-1.0zM69.9 504.7h1.0v1.0h-1.0zM30.5 530.1h1.0v1.0h-1.0zM19.8 542.6h1.0v1.0h-1.0zM39.3 553.0h1.0v1.0h-1.0zM37.5 551.3h1.0v1.0h-1.0zM67.1 506.1h1.0v1.0h-1.0zM64.5 508.8h1.0v1.0h-1.0zM27.7 548.1h1.0v1.0h-1.0zM67.8 517.4h1.0v1.0h-1.0zM27.9 531.2h1.0v1.0h-1.0zM23.0 534.5h1.0v1.0h-1.0zM31.3 550.9h1.0v1.0h-1.0zM62.3 513.8h1.0v1.0h-1.0zM46.5 518.8h1.0v1.0h-1.0zM28.3 547.8h1.0v1.0h-1.0zM69.6 506.5h1.0v1.0h-1.0zM58.5 513.1h1.0v1.0h-1.0zM17.6 539.1h1.0v1.0h-1.0zM65.5 514.0h1.0v1.0h-1.0zM69.8 506.6h1.0v1.0h-1.0zM75.2 524.1h1.0v1.0h-1.0zM20.8 546.4h1.0v1.0h-1.0zM71.4 503.9h1.0v1.0h-1.0zM49.6 518.5h1.0v1.0h-1.0zM40.0 523.2h1.0v1.0h-1.0zM64.5 543.6h1.0v1.0h-1.0zM17.6 543.6h1.0v1.0h-1.0zM40.5 550.7h1.0v1.0h-1.0zM68.8 508.2h1.0v1.0h-1.0zM69.3 504.0h1.0v1.0h-1.0zM69.0 540.9h1.0v1.0h-1.0zM36.1 523.4h1.0v1.0h-1.0zM29.1 530.0h1.0v1.0h-1.0zM72.6 521.2h1.0v1.0h-1.0zM61.1 544.4h1.0v1.0h-1.0zM19.7 545.4h1.0v1.0h-1.0zM69.8 539.6h1.0v1.0h-1.0z" fill="#3b2f78"/>
<path d="M111.6 502.4h1.0v1.0h-1.0zM108.4 498.1h1.0v1.0h-1.0zM124.3 495.1h1.0v1.0h-1.0zM114.9 490.8h1.0v1.0h-1.0zM125.8 495.4h1.0v1.0h-1.0zM118.9 503.4h1.0v1.0h-1.0zM124.4 494.1h1.0v1.0h-1.0zM117.3 491.9h1.0v1.0h-1.0zM109.0 499.9h1.0v1.0h-1.0zM112.7 502.7h1.0v1.0h-1.0zM114.6 503.6h1.0v1.0h-1.0zM123.2 501.5h1.0v1.0h-1.0zM110.8 500.1h1.0v1.0h-1.0zM112.1 492.1h1.0v1.0h-1.0zM126.5 497.5h1.0v1.0h-1.0zM117.9 492.6h1.0v1.0h-1.0zM107.3 498.5h1.0v1.0h-1.0zM109.5 495.1h1.0v1.0h-1.0zM109.3 497.7h1.0v1.0h-1.0zM117.8 502.7h1.0v1.0h-1.0zM125.6 498.4h1.0v1.0h-1.0zM110.3 501.8h1.0v1.0h-1.0zM118.3 502.7h1.0v1.0h-1.0zM114.8 492.3h1.0v1.0h-1.0zM115.4 492.6h1.0v1.0h-1.0zM114.6 503.1h1.0v1.0h-1.0zM121.8 500.7h1.0v1.0h-1.0zM123.9 493.5h1.0v1.0h-1.0zM118.0 502.3h1.0v1.0h-1.0zM114.8 492.3h1.0v1.0h-1.0zM123.9 495.0h1.0v1.0h-1.0zM124.6 497.7h1.0v1.0h-1.0zM122.1 500.5h1.0v1.0h-1.0zM107.3 497.2h1.0v1.0h-1.0zM109.1 498.2h1.0v1.0h-1.0zM114.1 492.2h1.0v1.0h-1.0zM120.0 491.0h1.0v1.0h-1.0zM110.5 493.7h1.0v1.0h-1.0zM109.6 501.3h1.0v1.0h-1.0zM121.9 501.0h1.0v1.0h-1.0z" fill="#3b2f78"/>
<text transform="translate(37.00 503.60)" font-size="8.9" fill="#231f20" font-style="italic" textLength="22.00" lengthAdjust="spacingAndGlyphs" stroke="#231f20" stroke-width="0.15">Efnb2</text>
<text transform="translate(67.30 553.80)" font-size="8.2" fill="#231f20" textLength="76.10" lengthAdjust="spacingAndGlyphs" stroke="#231f20" stroke-width="0.15">10.5 dpc E+HE+IAC</text>
<defs><linearGradient id="vir" x1="0" y1="1" x2="0" y2="0"><stop offset="0" stop-color="#440154"/><stop offset="0.25" stop-color="#3b528b"/><stop offset="0.5" stop-color="#21918c"/><stop offset="0.75" stop-color="#5ec962"/><stop offset="1" stop-color="#fde725"/></linearGradient></defs>
<rect x="178.20" y="509.00" width="5.70" height="25.30" fill="url(#vir)"/>
<text transform="translate(181.60 506.60)" font-size="8.0" fill="#231f20" text-anchor="middle" stroke="#231f20" stroke-width="0.15">3</text>
<text transform="translate(181.60 542.90)" font-size="8.0" fill="#231f20" text-anchor="middle" stroke="#231f20" stroke-width="0.15">0</text>
<text transform="translate(163.50 549.70) rotate(-90)" font-size="8.8" fill="#231f20" textLength="60.50" lengthAdjust="spacingAndGlyphs" stroke="#231f20" stroke-width="0.15">log2 normalized</text>
<text transform="translate(174.00 539.70) rotate(-90)" font-size="8.8" fill="#231f20" textLength="40.00" lengthAdjust="spacingAndGlyphs" stroke="#231f20" stroke-width="0.15">expression</text>
<rect x="27.8" y="586.1" width="179.6" height="58.4" fill="none" stroke="#231f20" stroke-width="1.35"/>
<line x1="117.60" y1="586.10" x2="117.60" y2="644.40" stroke="#231f20" stroke-width="1.1"/>
<path d="M31.2 641.4 L31.0 641.0 L30.9 640.6 L30.9 640.1 L31.0 639.6 L31.1 638.9 L31.2 638.2 L31.3 637.3 L31.3 636.1 L31.4 634.9 L31.6 633.7 L31.8 632.7 L32.2 631.9 L32.7 631.4 L33.4 631.2 L34.1 631.1 L34.9 631.0 L35.7 631.0 L36.5 630.8 L37.3 630.5 L38.2 630.3 L39.2 629.9 L40.1 629.6 L41.0 629.2 L41.8 628.7 L42.6 628.1 L43.4 627.5 L44.1 626.8 L44.8 626.1 L45.4 625.3 L46.0 624.5 L46.5 623.7 L46.8 622.8 L47.1 621.9 L47.4 620.9 L47.7 620.0 L48.1 619.2 L48.6 618.4 L49.0 617.7 L49.6 617.0 L50.1 616.3 L50.7 615.6 L51.3 614.9 L51.9 614.2 L52.6 613.4 L53.3 612.7 L54.1 612.0 L54.8 611.3 L55.5 610.7 L56.2 610.1 L57.0 609.6 L57.8 609.1 L58.5 608.6 L59.1 608.2 L59.7 608.0 L60.2 607.9 L60.6 607.9 L60.9 607.9 L61.2 608.1 L61.4 608.3 L61.5 608.5 L61.6 608.7 L61.5 609.0 L61.5 609.4 L61.3 609.8 L61.1 610.2 L60.8 610.7 L60.4 611.3 L59.9 611.9 L59.3 612.7 L58.7 613.4 L58.1 614.2 L57.6 614.9 L57.2 615.6 L56.8 616.3 L56.4 617.0 L56.0 617.8 L55.7 618.5 L55.5 619.2 L55.3 619.9 L55.1 620.6 L55.0 621.4 L55.0 622.1 L54.9 622.8 L55.0 623.4 L55.1 624.0 L55.2 624.7 L55.4 625.3 L55.6 625.9 L56.0 626.3 L56.6 626.6 L57.4 626.7 L58.4 626.7 L59.5 626.6 L60.7 626.4 L61.9 626.2 L62.9 626.0 L63.9 625.8 L64.8 625.6 L65.7 625.4 L66.6 625.1 L67.4 624.8 L68.2 624.5 L69.0 624.2 L69.8 623.9 L70.5 623.5 L71.2 623.1 L71.8 622.7 L72.4 622.3 L72.9 621.8 L73.3 621.3 L73.7 620.7 L74.0 620.1 L74.3 619.6 L74.6 619.2 L74.8 618.9 L75.0 618.5 L75.1 618.3 L75.3 618.1 L75.4 618.0 L75.6 618.1 L75.9 618.4 L76.2 618.8 L76.5 619.4 L76.8 620.0 L77.0 620.7 L77.2 621.3 L77.3 621.9 L77.3 622.6 L77.3 623.3 L77.2 624.1 L77.0 624.8 L76.7 625.5 L76.2 626.2 L75.6 626.9 L74.8 627.7 L74.0 628.4 L73.2 629.1 L72.4 629.7 L71.6 630.3 L70.7 630.9 L69.9 631.5 L69.0 632.0 L68.1 632.5 L67.2 632.9 L66.3 633.3 L65.4 633.6 L64.6 633.9 L63.7 634.1 L62.8 634.3 L61.9 634.5 L61.0 634.6 L60.1 634.7 L59.2 634.7 L58.3 634.7 L57.4 634.8 L56.6 635.0 L55.8 635.3 L55.1 635.6 L54.4 636.0 L53.7 636.4 L53.0 636.8 L52.3 637.2 L51.6 637.6 L50.9 637.9 L50.2 638.3 L49.5 638.6 L48.8 639.0 L48.1 639.3 L47.4 639.6 L46.7 639.9 L46.1 640.2 L45.4 640.5 L44.7 640.7 L43.9 640.9 L43.1 641.0 L42.2 641.1 L41.3 641.2 L40.3 641.2 L39.4 641.3 L38.6 641.4 L37.8 641.6 L37.0 641.8 L36.3 642.0 L35.6 642.2 L34.9 642.3 L34.3 642.4 L33.7 642.4 L33.1 642.3 L32.5 642.2 L32.0 642.0 L31.5 641.7 L31.2 641.4Z" fill="#a51c24" fill-rule="evenodd"/>
<path d="M67.9 628.2h1.0v1.0h-1.0zM50.3 637.1h1.0v1.0h-1.0zM55.0 613.7h1.0v1.0h-1.0zM47.4 632.8h1.0v1.0h-1.0zM36.8 636.9h1.0v1.0h-1.0zM40.5 633.4h1.0v1.0h-1.0zM53.3 627.3h1.0v1.0h-1.0zM47.3 631.1h1.0v1.0h-1.0zM66.2 627.5h1.0v1.0h-1.0zM49.2 620.5h1.0v1.0h-1.0zM50.7 624.5h1.0v1.0h-1.0zM61.7 626.9h1.0v1.0h-1.0zM74.9 620.1h1.0v1.0h-1.0zM38.8 637.3h1.0v1.0h-1.0zM33.6 640.4h1.0v1.0h-1.0zM42.4 633.8h1.0v1.0h-1.0zM67.0 625.3h1.0v1.0h-1.0zM41.9 632.3h1.0v1.0h-1.0zM65.3 627.0h1.0v1.0h-1.0zM61.1 627.2h1.0v1.0h-1.0zM66.2 627.5h1.0v1.0h-1.0zM47.9 619.1h1.0v1.0h-1.0zM55.3 627.1h1.0v1.0h-1.0zM55.0 618.5h1.0v1.0h-1.0zM48.5 626.6h1.0v1.0h-1.0zM31.8 636.8h1.0v1.0h-1.0zM49.8 625.6h1.0v1.0h-1.0zM54.1 613.5h1.0v1.0h-1.0zM65.7 626.4h1.0v1.0h-1.0z" fill="#fff"/>
<path d="M62.4 625.7h1.1v1.1h-1.1zM57.7 609.6h1.1v1.1h-1.1zM68.7 630.4h1.1v1.1h-1.1zM54.2 625.6h1.1v1.1h-1.1zM68.4 631.2h1.1v1.1h-1.1zM37.6 629.6h1.1v1.1h-1.1zM34.8 641.5h1.1v1.1h-1.1zM57.1 613.6h1.1v1.1h-1.1zM42.1 626.9h1.1v1.1h-1.1zM62.2 633.9h1.1v1.1h-1.1zM55.6 614.3h1.1v1.1h-1.1zM64.0 625.0h1.1v1.1h-1.1zM34.1 630.8h1.1v1.1h-1.1zM59.8 625.3h1.1v1.1h-1.1zM40.5 640.3h1.1v1.1h-1.1zM67.0 625.3h1.1v1.1h-1.1zM54.8 615.5h1.1v1.1h-1.1zM74.5 627.3h1.1v1.1h-1.1zM53.7 625.3h1.1v1.1h-1.1zM73.2 617.4h1.1v1.1h-1.1zM51.8 636.9h1.1v1.1h-1.1zM56.7 608.8h1.1v1.1h-1.1zM47.6 619.6h1.1v1.1h-1.1zM75.5 618.0h1.1v1.1h-1.1zM58.0 625.7h1.1v1.1h-1.1zM73.0 627.1h1.1v1.1h-1.1zM31.4 633.4h1.1v1.1h-1.1zM58.1 632.8h1.1v1.1h-1.1zM62.2 632.5h1.1v1.1h-1.1zM75.7 620.8h1.1v1.1h-1.1zM68.2 632.3h1.1v1.1h-1.1zM70.6 629.6h1.1v1.1h-1.1zM65.4 624.0h1.1v1.1h-1.1zM38.8 639.9h1.1v1.1h-1.1zM61.2 634.7h1.1v1.1h-1.1zM44.5 623.8h1.1v1.1h-1.1zM57.6 614.3h1.1v1.1h-1.1zM67.1 632.5h1.1v1.1h-1.1zM30.6 642.4h1.1v1.1h-1.1zM55.1 615.7h1.1v1.1h-1.1zM61.2 626.2h1.1v1.1h-1.1zM52.1 636.0h1.1v1.1h-1.1zM44.3 623.4h1.1v1.1h-1.1zM33.4 642.1h1.1v1.1h-1.1zM63.3 624.1h1.1v1.1h-1.1zM61.6 625.2h1.1v1.1h-1.1zM45.2 625.2h1.1v1.1h-1.1zM74.8 626.2h1.1v1.1h-1.1zM53.7 634.0h1.1v1.1h-1.1zM52.7 637.5h1.1v1.1h-1.1zM64.5 625.4h1.1v1.1h-1.1zM46.6 639.1h1.1v1.1h-1.1zM55.2 623.8h1.1v1.1h-1.1zM49.6 617.2h1.1v1.1h-1.1zM31.2 638.4h1.1v1.1h-1.1zM34.3 643.1h1.1v1.1h-1.1zM45.6 622.2h1.1v1.1h-1.1zM56.6 633.4h1.1v1.1h-1.1zM42.6 640.2h1.1v1.1h-1.1zM63.9 625.1h1.1v1.1h-1.1zM69.5 623.9h1.1v1.1h-1.1zM56.5 610.4h1.1v1.1h-1.1zM47.6 622.4h1.1v1.1h-1.1zM56.5 624.8h1.1v1.1h-1.1zM37.1 630.4h1.1v1.1h-1.1zM44.2 641.3h1.1v1.1h-1.1zM30.2 637.4h1.1v1.1h-1.1zM61.1 634.8h1.1v1.1h-1.1zM56.4 616.9h1.1v1.1h-1.1zM29.4 640.8h1.1v1.1h-1.1zM59.7 610.3h1.1v1.1h-1.1zM71.9 628.6h1.1v1.1h-1.1zM44.6 639.7h1.1v1.1h-1.1zM76.1 620.9h1.1v1.1h-1.1zM59.2 608.9h1.1v1.1h-1.1zM41.6 629.2h1.1v1.1h-1.1zM56.6 625.4h1.1v1.1h-1.1zM59.5 610.9h1.1v1.1h-1.1zM43.8 624.2h1.1v1.1h-1.1zM53.5 613.3h1.1v1.1h-1.1zM65.0 633.4h1.1v1.1h-1.1zM72.9 629.3h1.1v1.1h-1.1zM40.5 628.4h1.1v1.1h-1.1zM59.1 609.4h1.1v1.1h-1.1zM36.2 631.0h1.1v1.1h-1.1zM36.7 631.3h1.1v1.1h-1.1zM66.0 631.3h1.1v1.1h-1.1zM77.8 623.0h1.1v1.1h-1.1zM38.7 639.5h1.1v1.1h-1.1zM72.5 627.8h1.1v1.1h-1.1zM74.4 627.3h1.1v1.1h-1.1zM53.6 610.4h1.1v1.1h-1.1zM70.7 621.9h1.1v1.1h-1.1zM76.9 619.4h1.1v1.1h-1.1zM32.8 631.7h1.1v1.1h-1.1zM75.4 618.2h1.1v1.1h-1.1zM70.4 628.7h1.1v1.1h-1.1zM67.8 623.4h1.1v1.1h-1.1zM33.1 643.0h1.1v1.1h-1.1zM58.8 626.4h1.1v1.1h-1.1zM47.4 617.8h1.1v1.1h-1.1zM33.6 640.7h1.1v1.1h-1.1zM46.8 622.9h1.1v1.1h-1.1zM39.3 640.4h1.1v1.1h-1.1zM51.7 637.7h1.1v1.1h-1.1zM57.1 607.3h1.1v1.1h-1.1zM60.1 626.4h1.1v1.1h-1.1zM59.0 606.9h1.1v1.1h-1.1zM73.1 626.8h1.1v1.1h-1.1zM52.9 636.0h1.1v1.1h-1.1zM31.3 632.0h1.1v1.1h-1.1zM40.6 629.5h1.1v1.1h-1.1zM38.0 630.7h1.1v1.1h-1.1zM34.4 630.1h1.1v1.1h-1.1zM73.9 619.2h1.1v1.1h-1.1zM60.3 612.4h1.1v1.1h-1.1zM56.6 614.2h1.1v1.1h-1.1zM53.2 621.0h1.1v1.1h-1.1zM76.3 619.2h1.1v1.1h-1.1zM29.7 636.2h1.1v1.1h-1.1zM54.5 612.0h1.1v1.1h-1.1zM42.4 640.6h1.1v1.1h-1.1zM50.8 613.1h1.1v1.1h-1.1zM67.4 624.3h1.1v1.1h-1.1zM54.6 611.4h1.1v1.1h-1.1zM55.4 620.1h1.1v1.1h-1.1zM41.7 628.5h1.1v1.1h-1.1zM68.0 630.3h1.1v1.1h-1.1zM59.4 612.2h1.1v1.1h-1.1zM50.2 638.1h1.1v1.1h-1.1zM56.7 613.8h1.1v1.1h-1.1zM41.0 627.8h1.1v1.1h-1.1zM35.8 631.6h1.1v1.1h-1.1zM74.6 619.6h1.1v1.1h-1.1zM53.7 611.9h1.1v1.1h-1.1zM70.0 623.0h1.1v1.1h-1.1zM77.4 623.8h1.1v1.1h-1.1zM75.9 619.5h1.1v1.1h-1.1zM31.5 630.7h1.1v1.1h-1.1zM57.1 607.9h1.1v1.1h-1.1zM41.8 641.9h1.1v1.1h-1.1zM56.4 626.5h1.1v1.1h-1.1zM32.0 641.8h1.1v1.1h-1.1zM36.4 630.5h1.1v1.1h-1.1zM58.3 624.8h1.1v1.1h-1.1zM30.9 632.5h1.1v1.1h-1.1zM60.5 627.2h1.1v1.1h-1.1zM36.3 629.0h1.1v1.1h-1.1zM49.2 617.1h1.1v1.1h-1.1zM70.7 631.0h1.1v1.1h-1.1zM49.2 618.3h1.1v1.1h-1.1zM31.1 635.0h1.1v1.1h-1.1zM66.3 633.1h1.1v1.1h-1.1zM42.6 639.7h1.1v1.1h-1.1zM75.3 627.8h1.1v1.1h-1.1zM55.1 609.9h1.1v1.1h-1.1zM69.4 629.6h1.1v1.1h-1.1zM30.9 636.7h1.1v1.1h-1.1zM50.4 637.0h1.1v1.1h-1.1zM45.5 638.2h1.1v1.1h-1.1z" fill="#a51c24"/>
<path d="M59.9 608.0h1.1v1.1h-1.1zM60.1 607.5h1.1v1.1h-1.1zM66.2 603.9h1.1v1.1h-1.1zM61.6 606.1h1.1v1.1h-1.1zM65.6 603.7h1.1v1.1h-1.1zM61.8 606.3h1.1v1.1h-1.1zM61.3 607.0h1.1v1.1h-1.1zM59.8 607.3h1.1v1.1h-1.1zM63.8 605.0h1.1v1.1h-1.1zM62.5 605.5h1.1v1.1h-1.1zM66.0 603.4h1.1v1.1h-1.1zM65.1 603.8h1.1v1.1h-1.1zM59.8 608.3h1.1v1.1h-1.1zM60.7 606.0h1.1v1.1h-1.1zM65.4 603.5h1.1v1.1h-1.1zM64.8 603.1h1.1v1.1h-1.1zM60.2 606.2h1.1v1.1h-1.1zM64.9 603.2h1.1v1.1h-1.1zM60.8 605.3h1.1v1.1h-1.1zM63.2 605.5h1.1v1.1h-1.1zM63.8 603.6h1.1v1.1h-1.1zM65.4 602.6h1.1v1.1h-1.1zM62.5 604.9h1.1v1.1h-1.1zM59.0 607.2h1.1v1.1h-1.1zM64.9 604.3h1.1v1.1h-1.1zM66.5 604.1h1.1v1.1h-1.1zM64.1 604.5h1.1v1.1h-1.1zM62.2 606.0h1.1v1.1h-1.1zM59.2 606.8h1.1v1.1h-1.1zM61.6 606.1h1.1v1.1h-1.1z" fill="#a51c24"/>
<path d="M71.2 616.9h1.1v1.1h-1.1zM63.9 615.6h1.1v1.1h-1.1zM69.7 615.2h1.1v1.1h-1.1zM67.7 616.4h1.1v1.1h-1.1zM61.6 612.3h1.1v1.1h-1.1zM67.1 614.5h1.1v1.1h-1.1zM70.8 615.3h1.1v1.1h-1.1zM65.1 612.9h1.1v1.1h-1.1zM66.6 615.3h1.1v1.1h-1.1zM62.5 614.1h1.1v1.1h-1.1zM71.7 616.5h1.1v1.1h-1.1zM66.8 616.3h1.1v1.1h-1.1zM65.7 615.7h1.1v1.1h-1.1zM70.1 615.3h1.1v1.1h-1.1zM63.3 613.6h1.1v1.1h-1.1zM69.9 616.4h1.1v1.1h-1.1zM67.6 616.2h1.1v1.1h-1.1zM66.9 615.6h1.1v1.1h-1.1zM67.3 613.2h1.1v1.1h-1.1zM66.1 612.8h1.1v1.1h-1.1zM68.4 615.7h1.1v1.1h-1.1zM66.7 613.0h1.1v1.1h-1.1z" fill="#a51c24"/>
<path d="M72.4 595.2h1.1v1.1h-1.1zM72.3 595.0h1.1v1.1h-1.1zM73.5 592.5h1.1v1.1h-1.1zM71.8 591.1h1.1v1.1h-1.1zM72.2 594.8h1.1v1.1h-1.1zM74.0 592.8h1.1v1.1h-1.1zM73.5 592.6h1.1v1.1h-1.1zM72.7 592.1h1.1v1.1h-1.1zM71.3 591.5h1.1v1.1h-1.1zM72.2 593.1h1.1v1.1h-1.1zM72.8 591.6h1.1v1.1h-1.1zM72.7 594.5h1.1v1.1h-1.1zM74.9 592.3h1.1v1.1h-1.1zM72.2 589.4h1.1v1.1h-1.1zM75.3 592.6h1.1v1.1h-1.1zM74.6 593.8h1.1v1.1h-1.1z" fill="#a51c24"/>
<rect x="79.50" y="589.20" width="1.30" height="1.30" fill="#a51c24"/>
<rect x="94.00" y="588.30" width="1.30" height="1.30" fill="#a51c24"/>
<rect x="99.50" y="589.20" width="1.30" height="1.30" fill="#a51c24"/>
<rect x="103.50" y="590.30" width="1.30" height="1.30" fill="#a51c24"/>
<rect x="105.50" y="591.20" width="1.30" height="1.30" fill="#a51c24"/>
<rect x="107.50" y="590.60" width="1.30" height="1.30" fill="#a51c24"/>
<rect x="109.50" y="592.20" width="1.30" height="1.30" fill="#a51c24"/>
<rect x="111.00" y="590.50" width="1.30" height="1.30" fill="#a51c24"/>
<rect x="112.50" y="592.80" width="1.30" height="1.30" fill="#a51c24"/>
<rect x="113.80" y="591.50" width="1.30" height="1.30" fill="#a51c24"/>
<rect x="110.80" y="593.60" width="1.30" height="1.30" fill="#a51c24"/>
<rect x="101.50" y="591.00" width="1.30" height="1.30" fill="#a51c24"/>
<text transform="translate(75.80 632.80)" font-size="8.0" fill="#a8232c" textLength="39.60" lengthAdjust="spacingAndGlyphs" stroke="#a8232c" stroke-width="0.15">10.5 dpc DA</text>
<text transform="translate(78.90 640.60)" font-size="8.0" fill="#a8232c" textLength="35.10" lengthAdjust="spacingAndGlyphs" stroke="#a8232c" stroke-width="0.15">E+HE+IAC</text>
<path d="M121.2 626.6 L121.5 626.3 L122.0 626.0 L122.5 625.9 L123.1 625.9 L123.7 625.8 L124.3 625.7 L125.0 625.6 L125.7 625.5 L126.4 625.4 L127.2 625.3 L127.9 625.2 L128.6 625.0 L129.2 624.7 L129.7 624.5 L130.2 624.1 L130.7 623.8 L131.2 623.4 L131.8 622.9 L132.4 622.4 L133.1 621.8 L133.8 621.2 L134.6 620.5 L135.3 619.8 L136.0 619.2 L136.7 618.6 L137.4 618.0 L138.0 617.4 L138.7 616.7 L139.4 616.1 L140.2 615.5 L141.0 614.9 L141.9 614.2 L142.8 613.6 L143.7 613.0 L144.6 612.4 L145.5 611.8 L146.4 611.2 L147.3 610.7 L148.2 610.2 L149.0 609.7 L149.9 609.2 L150.8 608.6 L151.7 608.0 L152.7 607.3 L153.7 606.6 L154.6 605.9 L155.4 605.3 L156.1 604.9 L156.6 604.6 L157.0 604.4 L157.2 604.3 L157.4 604.2 L157.6 604.2 L157.7 604.3 L157.8 604.4 L158.0 604.6 L158.0 604.8 L158.0 605.1 L157.9 605.5 L157.7 605.9 L157.3 606.4 L156.8 607.0 L156.1 607.6 L155.4 608.3 L154.7 609.0 L154.0 609.6 L153.3 610.2 L152.6 610.7 L151.9 611.2 L151.1 611.7 L150.4 612.2 L149.7 612.8 L149.0 613.4 L148.3 614.1 L147.5 614.9 L146.8 615.6 L146.1 616.3 L145.5 617.0 L144.9 617.7 L144.4 618.3 L143.8 619.0 L143.3 619.6 L142.8 620.2 L142.3 620.8 L141.8 621.3 L141.3 621.8 L140.9 622.2 L140.4 622.6 L139.8 623.0 L139.2 623.4 L138.4 623.8 L137.5 624.1 L136.6 624.4 L135.6 624.7 L134.7 625.1 L133.9 625.5 L133.3 626.0 L132.7 626.5 L132.2 627.1 L131.8 627.7 L131.3 628.2 L130.7 628.7 L130.0 629.1 L129.3 629.5 L128.6 629.9 L127.9 630.2 L127.2 630.5 L126.5 630.8 L125.9 631.1 L125.3 631.3 L124.8 631.5 L124.2 631.7 L123.8 631.9 L123.3 631.9 L122.9 631.9 L122.4 631.8 L122.0 631.7 L121.7 631.5 L121.4 631.2 L121.2 630.8 L121.0 630.2 L120.9 629.5 L120.9 628.7 L120.9 627.9 L121.0 627.1 L121.2 626.6Z" fill="#7b8ac6" fill-rule="evenodd"/>
<path d="M132.1 625.0h1.0v1.0h-1.0zM123.8 625.5h1.0v1.0h-1.0zM126.7 628.0h1.0v1.0h-1.0zM137.3 619.4h1.0v1.0h-1.0zM149.7 609.4h1.0v1.0h-1.0zM146.5 612.5h1.0v1.0h-1.0zM126.8 629.9h1.0v1.0h-1.0zM142.4 617.5h1.0v1.0h-1.0zM129.2 626.8h1.0v1.0h-1.0zM127.8 626.2h1.0v1.0h-1.0zM139.3 617.5h1.0v1.0h-1.0zM133.8 622.9h1.0v1.0h-1.0zM126.7 628.7h1.0v1.0h-1.0zM150.8 611.0h1.0v1.0h-1.0zM146.1 613.7h1.0v1.0h-1.0zM138.3 621.6h1.0v1.0h-1.0zM127.9 626.1h1.0v1.0h-1.0zM143.9 613.5h1.0v1.0h-1.0zM133.8 623.4h1.0v1.0h-1.0zM140.3 618.9h1.0v1.0h-1.0zM121.9 629.1h1.0v1.0h-1.0zM122.4 628.3h1.0v1.0h-1.0zM143.4 616.3h1.0v1.0h-1.0zM142.9 614.1h1.0v1.0h-1.0zM130.4 624.0h1.0v1.0h-1.0zM120.9 628.3h1.0v1.0h-1.0zM139.2 621.2h1.0v1.0h-1.0zM153.4 608.4h1.0v1.0h-1.0zM144.1 617.2h1.0v1.0h-1.0zM140.7 620.2h1.0v1.0h-1.0zM157.0 604.4h1.0v1.0h-1.0zM123.4 630.8h1.0v1.0h-1.0zM124.6 630.1h1.0v1.0h-1.0zM137.6 618.1h1.0v1.0h-1.0zM120.8 629.5h1.0v1.0h-1.0zM143.0 614.9h1.0v1.0h-1.0zM133.5 624.0h1.0v1.0h-1.0zM135.4 620.7h1.0v1.0h-1.0zM122.6 631.0h1.0v1.0h-1.0z" fill="#fff"/>
<path d="M153.6 605.4h1.1v1.1h-1.1zM125.1 629.2h1.1v1.1h-1.1zM145.8 612.0h1.1v1.1h-1.1zM121.6 629.8h1.1v1.1h-1.1zM123.0 626.8h1.1v1.1h-1.1zM142.0 614.4h1.1v1.1h-1.1zM135.1 619.3h1.1v1.1h-1.1zM153.2 606.7h1.1v1.1h-1.1zM135.6 622.8h1.1v1.1h-1.1zM130.2 626.4h1.1v1.1h-1.1zM146.5 614.7h1.1v1.1h-1.1zM134.6 623.9h1.1v1.1h-1.1zM133.8 625.2h1.1v1.1h-1.1zM121.8 629.9h1.1v1.1h-1.1zM137.4 618.2h1.1v1.1h-1.1zM151.6 610.0h1.1v1.1h-1.1zM132.7 624.7h1.1v1.1h-1.1zM142.5 617.5h1.1v1.1h-1.1zM132.6 619.3h1.1v1.1h-1.1zM143.3 611.8h1.1v1.1h-1.1zM131.1 620.6h1.1v1.1h-1.1zM155.7 605.3h1.1v1.1h-1.1zM135.2 624.3h1.1v1.1h-1.1zM127.8 629.2h1.1v1.1h-1.1zM150.2 613.2h1.1v1.1h-1.1zM145.9 610.2h1.1v1.1h-1.1zM128.1 624.0h1.1v1.1h-1.1zM149.0 614.2h1.1v1.1h-1.1zM142.9 613.7h1.1v1.1h-1.1zM153.1 606.7h1.1v1.1h-1.1zM133.2 619.4h1.1v1.1h-1.1zM133.7 623.8h1.1v1.1h-1.1zM130.6 623.3h1.1v1.1h-1.1zM135.4 623.2h1.1v1.1h-1.1zM137.5 622.3h1.1v1.1h-1.1zM151.8 607.4h1.1v1.1h-1.1zM141.8 613.5h1.1v1.1h-1.1zM137.2 622.3h1.1v1.1h-1.1zM138.4 622.3h1.1v1.1h-1.1zM131.4 623.9h1.1v1.1h-1.1zM152.4 608.0h1.1v1.1h-1.1zM127.4 625.0h1.1v1.1h-1.1zM154.8 605.8h1.1v1.1h-1.1zM136.4 623.7h1.1v1.1h-1.1zM139.0 622.8h1.1v1.1h-1.1zM120.2 631.4h1.1v1.1h-1.1zM122.7 630.0h1.1v1.1h-1.1zM144.3 612.5h1.1v1.1h-1.1zM130.9 626.5h1.1v1.1h-1.1zM123.5 631.1h1.1v1.1h-1.1zM156.0 604.4h1.1v1.1h-1.1zM154.7 607.4h1.1v1.1h-1.1zM132.6 627.5h1.1v1.1h-1.1zM141.5 614.2h1.1v1.1h-1.1zM146.6 611.4h1.1v1.1h-1.1zM153.1 607.6h1.1v1.1h-1.1zM157.0 607.0h1.1v1.1h-1.1zM144.7 618.7h1.1v1.1h-1.1zM140.5 622.1h1.1v1.1h-1.1zM144.2 610.4h1.1v1.1h-1.1zM156.2 605.4h1.1v1.1h-1.1zM138.9 621.4h1.1v1.1h-1.1zM156.8 604.1h1.1v1.1h-1.1zM153.0 611.3h1.1v1.1h-1.1zM156.5 604.5h1.1v1.1h-1.1zM127.5 623.4h1.1v1.1h-1.1zM121.2 629.4h1.1v1.1h-1.1zM145.3 610.0h1.1v1.1h-1.1zM124.8 630.3h1.1v1.1h-1.1zM156.9 604.2h1.1v1.1h-1.1zM126.6 631.6h1.1v1.1h-1.1zM133.4 618.8h1.1v1.1h-1.1zM128.4 630.7h1.1v1.1h-1.1zM125.9 626.3h1.1v1.1h-1.1zM136.3 615.8h1.1v1.1h-1.1zM121.0 627.3h1.1v1.1h-1.1zM151.9 608.2h1.1v1.1h-1.1zM125.4 632.1h1.1v1.1h-1.1zM147.0 612.7h1.1v1.1h-1.1zM123.0 630.3h1.1v1.1h-1.1zM140.9 619.9h1.1v1.1h-1.1zM153.2 607.5h1.1v1.1h-1.1zM133.8 620.0h1.1v1.1h-1.1zM125.9 625.7h1.1v1.1h-1.1zM133.9 624.5h1.1v1.1h-1.1zM152.9 607.6h1.1v1.1h-1.1zM153.2 606.5h1.1v1.1h-1.1zM136.2 625.3h1.1v1.1h-1.1zM142.2 612.5h1.1v1.1h-1.1zM145.5 616.5h1.1v1.1h-1.1zM121.9 624.5h1.1v1.1h-1.1zM150.9 610.8h1.1v1.1h-1.1zM121.9 627.2h1.1v1.1h-1.1zM133.9 621.5h1.1v1.1h-1.1zM127.3 623.0h1.1v1.1h-1.1zM132.6 624.2h1.1v1.1h-1.1zM134.9 622.8h1.1v1.1h-1.1zM129.4 624.1h1.1v1.1h-1.1zM132.0 619.9h1.1v1.1h-1.1zM131.5 628.3h1.1v1.1h-1.1zM150.3 610.5h1.1v1.1h-1.1zM121.6 630.9h1.1v1.1h-1.1zM118.7 628.2h1.1v1.1h-1.1zM137.6 617.5h1.1v1.1h-1.1zM156.2 604.4h1.1v1.1h-1.1zM143.3 616.2h1.1v1.1h-1.1zM142.0 615.0h1.1v1.1h-1.1zM151.0 607.1h1.1v1.1h-1.1zM133.5 626.1h1.1v1.1h-1.1zM133.1 627.2h1.1v1.1h-1.1z" fill="#7b8ac6"/>
<path d="M131.4 633.2h1.1v1.1h-1.1zM136.6 638.1h1.1v1.1h-1.1zM128.4 634.2h1.1v1.1h-1.1zM133.8 636.6h1.1v1.1h-1.1zM140.1 637.2h1.1v1.1h-1.1zM138.6 635.9h1.1v1.1h-1.1zM127.0 630.3h1.1v1.1h-1.1zM122.1 633.6h1.1v1.1h-1.1zM125.0 630.3h1.1v1.1h-1.1zM124.8 626.1h1.1v1.1h-1.1zM136.6 630.9h1.1v1.1h-1.1zM134.4 639.6h1.1v1.1h-1.1zM127.5 634.7h1.1v1.1h-1.1zM124.4 627.8h1.1v1.1h-1.1zM135.3 627.3h1.1v1.1h-1.1zM140.8 629.8h1.1v1.1h-1.1zM138.7 640.5h1.1v1.1h-1.1zM123.4 632.0h1.1v1.1h-1.1zM131.4 629.5h1.1v1.1h-1.1zM126.8 631.9h1.1v1.1h-1.1zM131.0 630.0h1.1v1.1h-1.1zM133.5 634.1h1.1v1.1h-1.1zM132.4 626.5h1.1v1.1h-1.1zM139.3 631.9h1.1v1.1h-1.1zM129.7 628.7h1.1v1.1h-1.1zM127.3 634.9h1.1v1.1h-1.1zM130.1 639.9h1.1v1.1h-1.1zM130.9 631.5h1.1v1.1h-1.1zM137.9 638.2h1.1v1.1h-1.1zM140.3 638.8h1.1v1.1h-1.1zM132.9 638.4h1.1v1.1h-1.1zM124.7 627.5h1.1v1.1h-1.1zM122.1 636.0h1.1v1.1h-1.1zM137.1 629.0h1.1v1.1h-1.1zM136.3 629.7h1.1v1.1h-1.1zM138.1 628.4h1.1v1.1h-1.1zM127.3 630.6h1.1v1.1h-1.1zM130.8 637.7h1.1v1.1h-1.1zM131.6 638.4h1.1v1.1h-1.1zM123.3 635.7h1.1v1.1h-1.1z" fill="#7b8ac6"/>
<path d="M134.8 624.1h1.1v1.1h-1.1zM157.8 622.3h1.1v1.1h-1.1zM141.7 628.2h1.1v1.1h-1.1zM155.5 625.2h1.1v1.1h-1.1zM157.0 628.4h1.1v1.1h-1.1zM146.1 621.4h1.1v1.1h-1.1zM143.7 625.2h1.1v1.1h-1.1zM133.1 620.3h1.1v1.1h-1.1zM157.4 621.4h1.1v1.1h-1.1zM155.4 621.8h1.1v1.1h-1.1zM152.8 628.6h1.1v1.1h-1.1zM157.0 628.0h1.1v1.1h-1.1zM141.0 620.1h1.1v1.1h-1.1zM143.0 620.7h1.1v1.1h-1.1zM141.9 625.1h1.1v1.1h-1.1zM137.9 626.0h1.1v1.1h-1.1zM156.7 625.4h1.1v1.1h-1.1zM146.8 627.1h1.1v1.1h-1.1zM134.0 627.9h1.1v1.1h-1.1zM135.5 625.2h1.1v1.1h-1.1zM153.2 620.0h1.1v1.1h-1.1zM151.0 628.5h1.1v1.1h-1.1z" fill="#7b8ac6"/>
<path d="M184.8 589.3h1.1v1.1h-1.1zM182.3 589.3h1.1v1.1h-1.1zM186.9 590.0h1.1v1.1h-1.1zM183.7 589.9h1.1v1.1h-1.1zM177.6 589.6h1.1v1.1h-1.1zM187.2 589.5h1.1v1.1h-1.1zM179.3 590.3h1.1v1.1h-1.1zM179.4 589.0h1.1v1.1h-1.1zM179.1 590.1h1.1v1.1h-1.1zM179.0 589.9h1.1v1.1h-1.1zM182.8 590.0h1.1v1.1h-1.1zM185.5 589.7h1.1v1.1h-1.1zM180.4 589.6h1.1v1.1h-1.1zM187.3 590.0h1.1v1.1h-1.1z" fill="#7b8ac6"/>
<path d="M191.5 591.0 L191.7 590.6 L192.2 590.3 L192.8 590.0 L193.5 589.8 L194.3 589.6 L195.0 589.5 L195.8 589.4 L196.6 589.3 L197.5 589.3 L198.4 589.4 L199.2 589.5 L200.0 589.6 L200.8 589.8 L201.6 590.1 L202.4 590.4 L203.1 590.7 L203.6 591.1 L204.0 591.5 L204.2 592.0 L204.2 592.5 L204.0 593.0 L203.8 593.6 L203.4 594.1 L203.0 594.5 L202.5 594.8 L201.8 595.2 L201.0 595.4 L200.1 595.6 L199.3 595.8 L198.5 595.8 L197.7 595.8 L196.9 595.6 L196.1 595.4 L195.4 595.2 L194.6 594.9 L194.0 594.5 L193.4 594.0 L192.8 593.4 L192.2 592.8 L191.8 592.1 L191.5 591.5 L191.5 591.0Z" fill="#7b8ac6" fill-rule="evenodd"/>
<path d="M198.3 592.3h1.0v1.0h-1.0zM196.5 593.8h1.0v1.0h-1.0zM196.4 589.7h1.0v1.0h-1.0zM199.1 589.1h1.0v1.0h-1.0zM191.7 590.1h1.0v1.0h-1.0zM198.9 591.5h1.0v1.0h-1.0zM201.4 593.9h1.0v1.0h-1.0zM194.3 593.8h1.0v1.0h-1.0zM203.1 592.1h1.0v1.0h-1.0zM193.6 590.5h1.0v1.0h-1.0zM202.1 593.2h1.0v1.0h-1.0zM200.5 594.1h1.0v1.0h-1.0zM194.3 593.0h1.0v1.0h-1.0zM191.8 592.3h1.0v1.0h-1.0zM197.9 589.0h1.0v1.0h-1.0zM197.7 593.0h1.0v1.0h-1.0zM194.1 591.0h1.0v1.0h-1.0zM200.3 594.7h1.0v1.0h-1.0zM199.6 591.9h1.0v1.0h-1.0zM193.8 592.9h1.0v1.0h-1.0zM196.9 590.4h1.0v1.0h-1.0z" fill="#fff"/>
<rect x="161.00" y="593.50" width="1.20" height="1.20" fill="#7b8ac6"/>
<rect x="162.40" y="594.20" width="1.20" height="1.20" fill="#7b8ac6"/>
<rect x="163.50" y="593.80" width="1.20" height="1.20" fill="#7b8ac6"/>
<rect x="168.00" y="591.60" width="1.20" height="1.20" fill="#7b8ac6"/>
<rect x="155.00" y="622.00" width="1.20" height="1.20" fill="#7b8ac6"/>
<rect x="157.00" y="620.00" width="1.20" height="1.20" fill="#7b8ac6"/>
<rect x="165.50" y="621.00" width="1.20" height="1.20" fill="#7b8ac6"/>
<text transform="translate(163.40 632.80)" font-size="8.0" fill="#8e9bd1" textLength="42.00" lengthAdjust="spacingAndGlyphs" stroke="#8e9bd1" stroke-width="0.15">10.5 dpc VU</text>
<text transform="translate(165.20 640.60)" font-size="8.0" fill="#8e9bd1" textLength="38.40" lengthAdjust="spacingAndGlyphs" stroke="#8e9bd1" stroke-width="0.15">E+HE+IAC</text>
<text transform="translate(22.00 628.00) rotate(-90)" font-size="10.0" fill="#231f20" textLength="26.00" lengthAdjust="spacingAndGlyphs" stroke="#231f20" stroke-width="0.15">UMAP2</text>
<text transform="translate(34.50 655.70)" font-size="10.0" fill="#231f20" textLength="25.70" lengthAdjust="spacingAndGlyphs" stroke="#231f20" stroke-width="0.15">UMAP1</text>
<line x1="64.20" y1="651.50" x2="70.70" y2="651.50" stroke="#000" stroke-width="1.0"/>
<path d="M75.80 651.50 L70.20 654.20 L71.20 651.50 L70.20 648.80 Z" fill="#000"/>
<rect x="290.85" y="509.50" width="3.64" height="26.70" fill="#3ea9b8"/>
<rect x="295.09" y="522.00" width="3.64" height="14.20" fill="#3ea9b8"/>
<rect x="299.32" y="518.00" width="3.64" height="18.20" fill="#3ea9b8"/>
<rect x="303.56" y="515.30" width="3.64" height="20.90" fill="#3ea9b8"/>
<rect x="307.79" y="520.50" width="3.64" height="15.70" fill="#3ea9b8"/>
<rect x="312.03" y="513.90" width="3.64" height="22.30" fill="#3ea9b8"/>
<rect x="316.26" y="519.00" width="3.64" height="17.20" fill="#3ea9b8"/>
<rect x="320.50" y="516.80" width="3.64" height="19.40" fill="#3ea9b8"/>
<rect x="324.73" y="512.10" width="3.64" height="24.10" fill="#3ea9b8"/>
<rect x="328.97" y="509.90" width="3.64" height="26.30" fill="#3ea9b8"/>
<rect x="333.20" y="504.00" width="3.64" height="32.20" fill="#3ea9b8"/>
<rect x="337.44" y="504.00" width="3.64" height="32.20" fill="#3ea9b8"/>
<rect x="341.67" y="505.20" width="3.64" height="31.00" fill="#3ea9b8"/>
<rect x="345.91" y="507.50" width="3.64" height="28.70" fill="#3ea9b8"/>
<rect x="350.14" y="509.30" width="3.64" height="26.90" fill="#3ea9b8"/>
<rect x="354.38" y="509.10" width="3.64" height="27.10" fill="#3ea9b8"/>
<rect x="358.61" y="518.80" width="3.64" height="17.40" fill="#3ea9b8"/>
<rect x="362.85" y="515.90" width="3.64" height="20.30" fill="#3ea9b8"/>
<rect x="367.08" y="515.30" width="3.64" height="20.90" fill="#3ea9b8"/>
<rect x="371.32" y="525.10" width="3.64" height="11.10" fill="#3ea9b8"/>
<rect x="375.55" y="527.10" width="3.64" height="9.10" fill="#3ea9b8"/>
<rect x="379.79" y="529.70" width="3.64" height="6.50" fill="#3ea9b8"/>
<rect x="384.02" y="534.30" width="3.64" height="1.90" fill="#3ea9b8"/>
<rect x="388.25" y="534.90" width="3.64" height="1.30" fill="#3ea9b8"/>
<rect x="392.49" y="535.20" width="3.64" height="1.00" fill="#3ea9b8"/>
<rect x="396.73" y="532.00" width="3.64" height="4.20" fill="#3ea9b8"/>
<rect x="400.96" y="511.80" width="3.64" height="24.40" fill="#3ea9b8"/>
<rect x="405.20" y="525.50" width="3.64" height="10.70" fill="#3ea9b8"/>
<rect x="409.43" y="533.20" width="3.64" height="3.00" fill="#3ea9b8"/>
<rect x="413.67" y="534.10" width="3.64" height="2.10" fill="#3ea9b8"/>
<rect x="417.90" y="534.90" width="3.64" height="1.30" fill="#3ea9b8"/>
<rect x="422.13" y="533.80" width="3.64" height="2.40" fill="#3ea9b8"/>
<rect x="426.37" y="534.50" width="3.64" height="1.70" fill="#3ea9b8"/>
<rect x="430.61" y="534.90" width="3.64" height="1.30" fill="#3ea9b8"/>
<rect x="434.84" y="534.90" width="3.64" height="1.30" fill="#3ea9b8"/>
<rect x="439.08" y="535.30" width="3.64" height="0.90" fill="#3ea9b8"/>
<rect x="443.31" y="535.30" width="3.64" height="0.90" fill="#3ea9b8"/>
<rect x="447.55" y="534.70" width="3.64" height="1.50" fill="#3ea9b8"/>
<rect x="451.78" y="535.00" width="3.64" height="1.20" fill="#3ea9b8"/>
<rect x="456.02" y="534.90" width="3.64" height="1.30" fill="#3ea9b8"/>
<rect x="460.25" y="535.20" width="3.64" height="1.00" fill="#3ea9b8"/>
<rect x="464.49" y="535.00" width="3.64" height="1.20" fill="#3ea9b8"/>
<rect x="468.72" y="535.20" width="3.64" height="1.00" fill="#3ea9b8"/>
<rect x="472.96" y="535.10" width="3.64" height="1.10" fill="#3ea9b8"/>
<rect x="477.19" y="534.80" width="3.64" height="1.40" fill="#3ea9b8"/>
<rect x="481.43" y="533.60" width="3.64" height="2.60" fill="#3ea9b8"/>
<rect x="485.66" y="533.40" width="3.64" height="2.80" fill="#3ea9b8"/>
<rect x="489.90" y="533.30" width="3.64" height="2.90" fill="#3ea9b8"/>
<rect x="494.13" y="533.90" width="3.64" height="2.30" fill="#3ea9b8"/>
<rect x="498.37" y="535.30" width="3.64" height="0.90" fill="#3ea9b8"/>
<rect x="290.60" y="535.70" width="211.70" height="0.80" fill="#9fd8df"/>
<line x1="289.70" y1="500.30" x2="289.70" y2="537.30" stroke="#231f20" stroke-width="0.9"/>
<line x1="287.00" y1="536.50" x2="289.70" y2="536.50" stroke="#231f20" stroke-width="0.9"/>
<text transform="translate(283.50 539.20) scale(1.020 1)" font-size="8.0" fill="#231f20" text-anchor="end" stroke="#231f20" stroke-width="0.15">0</text>
<line x1="287.00" y1="528.20" x2="289.70" y2="528.20" stroke="#231f20" stroke-width="0.9"/>
<text transform="translate(283.50 530.90) scale(1.020 1)" font-size="8.0" fill="#231f20" text-anchor="end" stroke="#231f20" stroke-width="0.15">50</text>
<line x1="287.00" y1="519.90" x2="289.70" y2="519.90" stroke="#231f20" stroke-width="0.9"/>
<text transform="translate(283.50 522.60) scale(1.020 1)" font-size="8.0" fill="#231f20" text-anchor="end" stroke="#231f20" stroke-width="0.15">100</text>
<line x1="287.00" y1="511.60" x2="289.70" y2="511.60" stroke="#231f20" stroke-width="0.9"/>
<text transform="translate(283.50 514.30) scale(1.020 1)" font-size="8.0" fill="#231f20" text-anchor="end" stroke="#231f20" stroke-width="0.15">150</text>
<line x1="287.00" y1="503.30" x2="289.70" y2="503.30" stroke="#231f20" stroke-width="0.9"/>
<text transform="translate(283.50 506.00) scale(1.020 1)" font-size="8.0" fill="#231f20" text-anchor="end" stroke="#231f20" stroke-width="0.15">200</text>
<path d="M289.5 537.6 L504 537.6" stroke="#4d4d4f" stroke-width="1.3"/>
<path d="M511.3 537.6 L503.2 534.9 L504.4 537.6 L503.2 540.3 Z" fill="#000"/>
<text transform="translate(264.20 536.90) rotate(-90)" font-size="9.8" fill="#231f20" textLength="34.60" lengthAdjust="spacingAndGlyphs" stroke="#231f20" stroke-width="0.15">Cell count</text>
<text transform="translate(461.20 530.00)" font-size="7.6" fill="#231f20" textLength="41.30" lengthAdjust="spacingAndGlyphs" stroke="#231f20" stroke-width="0.15">Pseudotime</text>
<rect x="427.80" y="501.10" width="5.00" height="5.10" fill="#3ea9b8"/>
<text transform="translate(437.00 506.25)" font-size="7.8" fill="#231f20" textLength="73.00" lengthAdjust="spacingAndGlyphs" stroke="#231f20" stroke-width="0.15">10.5 dpc E+HE+IAC</text>
<rect x="290.75" y="540.70" width="3.89" height="7.52" fill="#d1e6cc"/>
<rect x="294.99" y="540.70" width="3.89" height="7.52" fill="#d8e9d5"/>
<rect x="299.22" y="540.70" width="3.89" height="7.52" fill="#d1e6cc"/>
<rect x="303.45" y="540.70" width="3.89" height="7.52" fill="#cee5c8"/>
<rect x="307.69" y="540.70" width="3.89" height="7.52" fill="#d1e6cc"/>
<rect x="311.93" y="540.70" width="3.89" height="7.52" fill="#c8e2c1"/>
<rect x="316.16" y="540.70" width="3.89" height="7.52" fill="#afd8a2"/>
<rect x="320.39" y="540.70" width="3.89" height="7.52" fill="#cee5c8"/>
<rect x="324.63" y="540.70" width="3.89" height="7.52" fill="#d1e6cc"/>
<rect x="328.87" y="540.70" width="3.89" height="7.52" fill="#cce4c5"/>
<rect x="333.10" y="540.70" width="3.89" height="7.52" fill="#d1e6cc"/>
<rect x="337.33" y="540.70" width="3.89" height="7.52" fill="#d1e6cc"/>
<rect x="341.57" y="540.70" width="3.89" height="7.52" fill="#d4e7d0"/>
<rect x="345.81" y="540.70" width="3.89" height="7.52" fill="#d8e9d5"/>
<rect x="350.04" y="540.70" width="3.89" height="7.52" fill="#d8e9d5"/>
<rect x="354.27" y="540.70" width="3.89" height="7.52" fill="#daead8"/>
<rect x="358.51" y="540.70" width="3.89" height="7.52" fill="#daead8"/>
<rect x="362.75" y="540.70" width="3.89" height="7.52" fill="#e1ece0"/>
<rect x="366.98" y="540.70" width="3.89" height="7.52" fill="#e1ece0"/>
<rect x="371.22" y="540.70" width="3.89" height="7.52" fill="#e7efe8"/>
<rect x="375.45" y="540.70" width="3.89" height="7.52" fill="#e9f0eb"/>
<rect x="379.69" y="540.70" width="3.89" height="7.52" fill="#ecf1ee"/>
<rect x="383.92" y="540.70" width="3.89" height="7.52" fill="#eef2f1"/>
<rect x="388.15" y="540.70" width="3.89" height="7.52" fill="#eef2f1"/>
<rect x="392.39" y="540.70" width="3.89" height="7.52" fill="#eef2f1"/>
<rect x="396.62" y="540.70" width="3.89" height="7.52" fill="#eef2f1"/>
<rect x="400.86" y="540.70" width="3.89" height="7.52" fill="#e2ede1"/>
<rect x="405.10" y="540.70" width="3.89" height="7.52" fill="#e2ede1"/>
<rect x="409.33" y="540.70" width="3.89" height="7.52" fill="#e4eee4"/>
<rect x="413.56" y="540.70" width="3.89" height="7.52" fill="#eef2f1"/>
<rect x="417.80" y="540.70" width="3.89" height="7.52" fill="#eef2f1"/>
<rect x="422.03" y="540.70" width="3.89" height="7.52" fill="#eef2f1"/>
<rect x="426.27" y="540.70" width="3.89" height="7.52" fill="#eef2f1"/>
<rect x="430.50" y="540.70" width="3.89" height="7.52" fill="#eef2f1"/>
<rect x="434.74" y="540.70" width="3.89" height="7.52" fill="#eef2f1"/>
<rect x="438.98" y="540.70" width="3.89" height="7.52" fill="#eef2f1"/>
<rect x="443.21" y="540.70" width="3.89" height="7.52" fill="#eef2f1"/>
<rect x="447.45" y="540.70" width="3.89" height="7.52" fill="#eef2f1"/>
<rect x="451.68" y="540.70" width="3.89" height="7.52" fill="#eef2f1"/>
<rect x="455.92" y="540.70" width="3.89" height="7.52" fill="#eef2f1"/>
<rect x="460.15" y="540.70" width="3.89" height="7.52" fill="#eef2f1"/>
<rect x="464.38" y="540.70" width="3.89" height="7.52" fill="#eef2f1"/>
<rect x="468.62" y="540.70" width="3.89" height="7.52" fill="#eef2f1"/>
<rect x="472.86" y="540.70" width="3.89" height="7.52" fill="#eef2f1"/>
<rect x="477.09" y="540.70" width="3.89" height="7.52" fill="#eef2f1"/>
<rect x="481.33" y="540.70" width="3.89" height="7.52" fill="#eef2f1"/>
<rect x="485.56" y="540.70" width="3.89" height="7.52" fill="#eef2f1"/>
<rect x="489.80" y="540.70" width="3.89" height="7.52" fill="#eef2f1"/>
<rect x="494.03" y="540.70" width="3.89" height="7.52" fill="#eef2f1"/>
<rect x="498.26" y="540.70" width="3.89" height="7.52" fill="#eef2f1"/>
<rect x="290.75" y="548.77" width="3.89" height="7.52" fill="#d8e8de"/>
<rect x="294.99" y="548.77" width="3.89" height="7.52" fill="#ddebe3"/>
<rect x="299.22" y="548.77" width="3.89" height="7.52" fill="#aed6b9"/>
<rect x="303.45" y="548.77" width="3.89" height="7.52" fill="#70bc81"/>
<rect x="307.69" y="548.77" width="3.89" height="7.52" fill="#74bd84"/>
<rect x="311.93" y="548.77" width="3.89" height="7.52" fill="#70bc81"/>
<rect x="316.16" y="548.77" width="3.89" height="7.52" fill="#65b777"/>
<rect x="320.39" y="548.77" width="3.89" height="7.52" fill="#a1d1ad"/>
<rect x="324.63" y="548.77" width="3.89" height="7.52" fill="#cbe3d3"/>
<rect x="328.87" y="548.77" width="3.89" height="7.52" fill="#cfe4d6"/>
<rect x="333.10" y="548.77" width="3.89" height="7.52" fill="#d2e6d9"/>
<rect x="337.33" y="548.77" width="3.89" height="7.52" fill="#ddebe3"/>
<rect x="341.57" y="548.77" width="3.89" height="7.52" fill="#ddebe3"/>
<rect x="345.81" y="548.77" width="3.89" height="7.52" fill="#ddebe3"/>
<rect x="350.04" y="548.77" width="3.89" height="7.52" fill="#e1ece7"/>
<rect x="354.27" y="548.77" width="3.89" height="7.52" fill="#e4eeea"/>
<rect x="358.51" y="548.77" width="3.89" height="7.52" fill="#e8efed"/>
<rect x="362.75" y="548.77" width="3.89" height="7.52" fill="#eef2f2"/>
<rect x="366.98" y="548.77" width="3.89" height="7.52" fill="#eef2f2"/>
<rect x="371.22" y="548.77" width="3.89" height="7.52" fill="#eef2f2"/>
<rect x="375.45" y="548.77" width="3.89" height="7.52" fill="#eef2f2"/>
<rect x="379.69" y="548.77" width="3.89" height="7.52" fill="#eef2f2"/>
<rect x="383.92" y="548.77" width="3.89" height="7.52" fill="#eef2f2"/>
<rect x="388.15" y="548.77" width="3.89" height="7.52" fill="#eef2f2"/>
<rect x="392.39" y="548.77" width="3.89" height="7.52" fill="#eef2f2"/>
<rect x="396.62" y="548.77" width="3.89" height="7.52" fill="#eef2f2"/>
<rect x="400.86" y="548.77" width="3.89" height="7.52" fill="#eef2f2"/>
<rect x="405.10" y="548.77" width="3.89" height="7.52" fill="#eef2f2"/>
<rect x="409.33" y="548.77" width="3.89" height="7.52" fill="#eef2f2"/>
<rect x="413.56" y="548.77" width="3.89" height="7.52" fill="#ddebe3"/>
<rect x="417.80" y="548.77" width="3.89" height="7.52" fill="#eef2f2"/>
<rect x="422.03" y="548.77" width="3.89" height="7.52" fill="#eef2f2"/>
<rect x="426.27" y="548.77" width="3.89" height="7.52" fill="#eef2f2"/>
<rect x="430.50" y="548.77" width="3.89" height="7.52" fill="#eef2f2"/>
<rect x="434.74" y="548.77" width="3.89" height="7.52" fill="#eef2f2"/>
<rect x="438.98" y="548.77" width="3.89" height="7.52" fill="#eef2f2"/>
<rect x="443.21" y="548.77" width="3.89" height="7.52" fill="#eef2f2"/>
<rect x="447.45" y="548.77" width="3.89" height="7.52" fill="#eef2f2"/>
<rect x="451.68" y="548.77" width="3.89" height="7.52" fill="#eef2f2"/>
<rect x="455.92" y="548.77" width="3.89" height="7.52" fill="#eef2f2"/>
<rect x="460.15" y="548.77" width="3.89" height="7.52" fill="#eef2f2"/>
<rect x="464.38" y="548.77" width="3.89" height="7.52" fill="#eef2f2"/>
<rect x="468.62" y="548.77" width="3.89" height="7.52" fill="#eef2f2"/>
<rect x="472.86" y="548.77" width="3.89" height="7.52" fill="#eef2f2"/>
<rect x="477.09" y="548.77" width="3.89" height="7.52" fill="#eef2f2"/>
<rect x="481.33" y="548.77" width="3.89" height="7.52" fill="#eef2f2"/>
<rect x="485.56" y="548.77" width="3.89" height="7.52" fill="#eef2f2"/>
<rect x="489.80" y="548.77" width="3.89" height="7.52" fill="#eef2f2"/>
<rect x="494.03" y="548.77" width="3.89" height="7.52" fill="#eef2f2"/>
<rect x="498.26" y="548.77" width="3.89" height="7.52" fill="#eef2f2"/>
<rect x="290.75" y="556.84" width="3.89" height="7.52" fill="#a2c5e4"/>
<rect x="294.99" y="556.84" width="3.89" height="7.52" fill="#c4d9ec"/>
<rect x="299.22" y="556.84" width="3.89" height="7.52" fill="#c1d7eb"/>
<rect x="303.45" y="556.84" width="3.89" height="7.52" fill="#c9dced"/>
<rect x="307.69" y="556.84" width="3.89" height="7.52" fill="#cedeee"/>
<rect x="311.93" y="556.84" width="3.89" height="7.52" fill="#c9dced"/>
<rect x="316.16" y="556.84" width="3.89" height="7.52" fill="#c1d7eb"/>
<rect x="320.39" y="556.84" width="3.89" height="7.52" fill="#c4d9ec"/>
<rect x="324.63" y="556.84" width="3.89" height="7.52" fill="#bdd5eb"/>
<rect x="328.87" y="556.84" width="3.89" height="7.52" fill="#b7d1e9"/>
<rect x="333.10" y="556.84" width="3.89" height="7.52" fill="#accbe7"/>
<rect x="337.33" y="556.84" width="3.89" height="7.52" fill="#bad3ea"/>
<rect x="341.57" y="556.84" width="3.89" height="7.52" fill="#a7c8e5"/>
<rect x="345.81" y="556.84" width="3.89" height="7.52" fill="#a2c5e4"/>
<rect x="350.04" y="556.84" width="3.89" height="7.52" fill="#accbe7"/>
<rect x="354.27" y="556.84" width="3.89" height="7.52" fill="#a9c9e6"/>
<rect x="358.51" y="556.84" width="3.89" height="7.52" fill="#b0cde7"/>
<rect x="362.75" y="556.84" width="3.89" height="7.52" fill="#a7c8e5"/>
<rect x="366.98" y="556.84" width="3.89" height="7.52" fill="#a2c5e4"/>
<rect x="371.22" y="556.84" width="3.89" height="7.52" fill="#d1e0ef"/>
<rect x="375.45" y="556.84" width="3.89" height="7.52" fill="#d5e2f0"/>
<rect x="379.69" y="556.84" width="3.89" height="7.52" fill="#dfe8f2"/>
<rect x="383.92" y="556.84" width="3.89" height="7.52" fill="#e6ecf4"/>
<rect x="388.15" y="556.84" width="3.89" height="7.52" fill="#ebeff5"/>
<rect x="392.39" y="556.84" width="3.89" height="7.52" fill="#eef1f6"/>
<rect x="396.62" y="556.84" width="3.89" height="7.52" fill="#eef1f6"/>
<rect x="400.86" y="556.84" width="3.89" height="7.52" fill="#b0cde7"/>
<rect x="405.10" y="556.84" width="3.89" height="7.52" fill="#cedeee"/>
<rect x="409.33" y="556.84" width="3.89" height="7.52" fill="#ebeff5"/>
<rect x="413.56" y="556.84" width="3.89" height="7.52" fill="#eef1f6"/>
<rect x="417.80" y="556.84" width="3.89" height="7.52" fill="#eef1f6"/>
<rect x="422.03" y="556.84" width="3.89" height="7.52" fill="#eef1f6"/>
<rect x="426.27" y="556.84" width="3.89" height="7.52" fill="#eef1f6"/>
<rect x="430.50" y="556.84" width="3.89" height="7.52" fill="#eef1f6"/>
<rect x="434.74" y="556.84" width="3.89" height="7.52" fill="#eef1f6"/>
<rect x="438.98" y="556.84" width="3.89" height="7.52" fill="#eef1f6"/>
<rect x="443.21" y="556.84" width="3.89" height="7.52" fill="#eef1f6"/>
<rect x="447.45" y="556.84" width="3.89" height="7.52" fill="#eef1f6"/>
<rect x="451.68" y="556.84" width="3.89" height="7.52" fill="#eef1f6"/>
<rect x="455.92" y="556.84" width="3.89" height="7.52" fill="#eef1f6"/>
<rect x="460.15" y="556.84" width="3.89" height="7.52" fill="#eef1f6"/>
<rect x="464.38" y="556.84" width="3.89" height="7.52" fill="#eef1f6"/>
<rect x="468.62" y="556.84" width="3.89" height="7.52" fill="#eef1f6"/>
<rect x="472.86" y="556.84" width="3.89" height="7.52" fill="#eef1f6"/>
<rect x="477.09" y="556.84" width="3.89" height="7.52" fill="#eef1f6"/>
<rect x="481.33" y="556.84" width="3.89" height="7.52" fill="#eef1f6"/>
<rect x="485.56" y="556.84" width="3.89" height="7.52" fill="#eef1f6"/>
<rect x="489.80" y="556.84" width="3.89" height="7.52" fill="#eef1f6"/>
<rect x="494.03" y="556.84" width="3.89" height="7.52" fill="#eef1f6"/>
<rect x="498.26" y="556.84" width="3.89" height="7.52" fill="#eef1f6"/>
<rect x="290.75" y="564.91" width="3.89" height="7.52" fill="#38aec0"/>
<rect x="294.99" y="564.91" width="3.89" height="7.52" fill="#90cfda"/>
<rect x="299.22" y="564.91" width="3.89" height="7.52" fill="#7ac7d3"/>
<rect x="303.45" y="564.91" width="3.89" height="7.52" fill="#85cbd6"/>
<rect x="307.69" y="564.91" width="3.89" height="7.52" fill="#90cfda"/>
<rect x="311.93" y="564.91" width="3.89" height="7.52" fill="#7ac7d3"/>
<rect x="316.16" y="564.91" width="3.89" height="7.52" fill="#9bd3dd"/>
<rect x="320.39" y="564.91" width="3.89" height="7.52" fill="#85cbd6"/>
<rect x="324.63" y="564.91" width="3.89" height="7.52" fill="#6fc3d0"/>
<rect x="328.87" y="564.91" width="3.89" height="7.52" fill="#64bfcd"/>
<rect x="333.10" y="564.91" width="3.89" height="7.52" fill="#7ac7d3"/>
<rect x="337.33" y="564.91" width="3.89" height="7.52" fill="#2daabc"/>
<rect x="341.57" y="564.91" width="3.89" height="7.52" fill="#43b2c3"/>
<rect x="345.81" y="564.91" width="3.89" height="7.52" fill="#4eb6c6"/>
<rect x="350.04" y="564.91" width="3.89" height="7.52" fill="#47b4c4"/>
<rect x="354.27" y="564.91" width="3.89" height="7.52" fill="#3fb1c2"/>
<rect x="358.51" y="564.91" width="3.89" height="7.52" fill="#6fc3d0"/>
<rect x="362.75" y="564.91" width="3.89" height="7.52" fill="#59bbca"/>
<rect x="366.98" y="564.91" width="3.89" height="7.52" fill="#55b9c8"/>
<rect x="371.22" y="564.91" width="3.89" height="7.52" fill="#9bd3dd"/>
<rect x="375.45" y="564.91" width="3.89" height="7.52" fill="#addae2"/>
<rect x="379.69" y="564.91" width="3.89" height="7.52" fill="#b1dbe4"/>
<rect x="383.92" y="564.91" width="3.89" height="7.52" fill="#d9eaef"/>
<rect x="388.15" y="564.91" width="3.89" height="7.52" fill="#ddecf0"/>
<rect x="392.39" y="564.91" width="3.89" height="7.52" fill="#e1edf2"/>
<rect x="396.62" y="564.91" width="3.89" height="7.52" fill="#d0e7ed"/>
<rect x="400.86" y="564.91" width="3.89" height="7.52" fill="#55b9c8"/>
<rect x="405.10" y="564.91" width="3.89" height="7.52" fill="#9fd5de"/>
<rect x="409.33" y="564.91" width="3.89" height="7.52" fill="#d4e9ee"/>
<rect x="413.56" y="564.91" width="3.89" height="7.52" fill="#e4eef2"/>
<rect x="417.80" y="564.91" width="3.89" height="7.52" fill="#e4eef2"/>
<rect x="422.03" y="564.91" width="3.89" height="7.52" fill="#e4eef2"/>
<rect x="426.27" y="564.91" width="3.89" height="7.52" fill="#e4eef2"/>
<rect x="430.50" y="564.91" width="3.89" height="7.52" fill="#e4eef2"/>
<rect x="434.74" y="564.91" width="3.89" height="7.52" fill="#e4eef2"/>
<rect x="438.98" y="564.91" width="3.89" height="7.52" fill="#e4eef2"/>
<rect x="443.21" y="564.91" width="3.89" height="7.52" fill="#e4eef2"/>
<rect x="447.45" y="564.91" width="3.89" height="7.52" fill="#e4eef2"/>
<rect x="451.68" y="564.91" width="3.89" height="7.52" fill="#e4eef2"/>
<rect x="455.92" y="564.91" width="3.89" height="7.52" fill="#e4eef2"/>
<rect x="460.15" y="564.91" width="3.89" height="7.52" fill="#e4eef2"/>
<rect x="464.38" y="564.91" width="3.89" height="7.52" fill="#e4eef2"/>
<rect x="468.62" y="564.91" width="3.89" height="7.52" fill="#e4eef2"/>
<rect x="472.86" y="564.91" width="3.89" height="7.52" fill="#e4eef2"/>
<rect x="477.09" y="564.91" width="3.89" height="7.52" fill="#e4eef2"/>
<rect x="481.33" y="564.91" width="3.89" height="7.52" fill="#e4eef2"/>
<rect x="485.56" y="564.91" width="3.89" height="7.52" fill="#e4eef2"/>
<rect x="489.80" y="564.91" width="3.89" height="7.52" fill="#e4eef2"/>
<rect x="494.03" y="564.91" width="3.89" height="7.52" fill="#e4eef2"/>
<rect x="498.26" y="564.91" width="3.89" height="7.52" fill="#d2e8ed"/>
<rect x="290.75" y="572.98" width="3.89" height="7.52" fill="#ecf0f1"/>
<rect x="294.99" y="572.98" width="3.89" height="7.52" fill="#ecf0f1"/>
<rect x="299.22" y="572.98" width="3.89" height="7.52" fill="#e3eae9"/>
<rect x="303.45" y="572.98" width="3.89" height="7.52" fill="#ecf0f1"/>
<rect x="307.69" y="572.98" width="3.89" height="7.52" fill="#ecf0f1"/>
<rect x="311.93" y="572.98" width="3.89" height="7.52" fill="#ecf0f1"/>
<rect x="316.16" y="572.98" width="3.89" height="7.52" fill="#ecf0f1"/>
<rect x="320.39" y="572.98" width="3.89" height="7.52" fill="#e0e9e7"/>
<rect x="324.63" y="572.98" width="3.89" height="7.52" fill="#e3eae9"/>
<rect x="328.87" y="572.98" width="3.89" height="7.52" fill="#ecf0f1"/>
<rect x="333.10" y="572.98" width="3.89" height="7.52" fill="#ecf0f1"/>
<rect x="337.33" y="572.98" width="3.89" height="7.52" fill="#e3eae9"/>
<rect x="341.57" y="572.98" width="3.89" height="7.52" fill="#ecf0f1"/>
<rect x="345.81" y="572.98" width="3.89" height="7.52" fill="#ecf0f1"/>
<rect x="350.04" y="572.98" width="3.89" height="7.52" fill="#ecf0f1"/>
<rect x="354.27" y="572.98" width="3.89" height="7.52" fill="#ecf0f1"/>
<rect x="358.51" y="572.98" width="3.89" height="7.52" fill="#ecf0f1"/>
<rect x="362.75" y="572.98" width="3.89" height="7.52" fill="#ecf0f1"/>
<rect x="366.98" y="572.98" width="3.89" height="7.52" fill="#ecf0f1"/>
<rect x="371.22" y="572.98" width="3.89" height="7.52" fill="#ecf0f1"/>
<rect x="375.45" y="572.98" width="3.89" height="7.52" fill="#ecf0f1"/>
<rect x="379.69" y="572.98" width="3.89" height="7.52" fill="#ecf0f1"/>
<rect x="383.92" y="572.98" width="3.89" height="7.52" fill="#ecf0f1"/>
<rect x="388.15" y="572.98" width="3.89" height="7.52" fill="#ecf0f1"/>
<rect x="392.39" y="572.98" width="3.89" height="7.52" fill="#ecf0f1"/>
<rect x="396.62" y="572.98" width="3.89" height="7.52" fill="#ecf0f1"/>
<rect x="400.86" y="572.98" width="3.89" height="7.52" fill="#ecf0f1"/>
<rect x="405.10" y="572.98" width="3.89" height="7.52" fill="#ecf0f1"/>
<rect x="409.33" y="572.98" width="3.89" height="7.52" fill="#d7e4de"/>
<rect x="413.56" y="572.98" width="3.89" height="7.52" fill="#12702e"/>
<rect x="417.80" y="572.98" width="3.89" height="7.52" fill="#55976c"/>
<rect x="422.03" y="572.98" width="3.89" height="7.52" fill="#c5d9ce"/>
<rect x="426.27" y="572.98" width="3.89" height="7.52" fill="#adcbba"/>
<rect x="430.50" y="572.98" width="3.89" height="7.52" fill="#adcbba"/>
<rect x="434.74" y="572.98" width="3.89" height="7.52" fill="#c0d6ca"/>
<rect x="438.98" y="572.98" width="3.89" height="7.52" fill="#e0e9e7"/>
<rect x="443.21" y="572.98" width="3.89" height="7.52" fill="#e0e9e7"/>
<rect x="447.45" y="572.98" width="3.89" height="7.52" fill="#c5d9ce"/>
<rect x="451.68" y="572.98" width="3.89" height="7.52" fill="#ecf0f1"/>
<rect x="455.92" y="572.98" width="3.89" height="7.52" fill="#ecf0f1"/>
<rect x="460.15" y="572.98" width="3.89" height="7.52" fill="#ecf0f1"/>
<rect x="464.38" y="572.98" width="3.89" height="7.52" fill="#ecf0f1"/>
<rect x="468.62" y="572.98" width="3.89" height="7.52" fill="#ecf0f1"/>
<rect x="472.86" y="572.98" width="3.89" height="7.52" fill="#ecf0f1"/>
<rect x="477.09" y="572.98" width="3.89" height="7.52" fill="#ecf0f1"/>
<rect x="481.33" y="572.98" width="3.89" height="7.52" fill="#ecf0f1"/>
<rect x="485.56" y="572.98" width="3.89" height="7.52" fill="#ecf0f1"/>
<rect x="489.80" y="572.98" width="3.89" height="7.52" fill="#ecf0f1"/>
<rect x="494.03" y="572.98" width="3.89" height="7.52" fill="#ecf0f1"/>
<rect x="498.26" y="572.98" width="3.89" height="7.52" fill="#ecf0f1"/>
<rect x="290.75" y="581.05" width="3.89" height="7.52" fill="#edf0f5"/>
<rect x="294.99" y="581.05" width="3.89" height="7.52" fill="#edf0f5"/>
<rect x="299.22" y="581.05" width="3.89" height="7.52" fill="#edf0f5"/>
<rect x="303.45" y="581.05" width="3.89" height="7.52" fill="#edf0f5"/>
<rect x="307.69" y="581.05" width="3.89" height="7.52" fill="#edf0f5"/>
<rect x="311.93" y="581.05" width="3.89" height="7.52" fill="#edf0f5"/>
<rect x="316.16" y="581.05" width="3.89" height="7.52" fill="#edf0f5"/>
<rect x="320.39" y="581.05" width="3.89" height="7.52" fill="#edf0f5"/>
<rect x="324.63" y="581.05" width="3.89" height="7.52" fill="#edf0f5"/>
<rect x="328.87" y="581.05" width="3.89" height="7.52" fill="#edf0f5"/>
<rect x="333.10" y="581.05" width="3.89" height="7.52" fill="#edf0f5"/>
<rect x="337.33" y="581.05" width="3.89" height="7.52" fill="#edf0f5"/>
<rect x="341.57" y="581.05" width="3.89" height="7.52" fill="#edf0f5"/>
<rect x="345.81" y="581.05" width="3.89" height="7.52" fill="#edf0f5"/>
<rect x="350.04" y="581.05" width="3.89" height="7.52" fill="#edf0f5"/>
<rect x="354.27" y="581.05" width="3.89" height="7.52" fill="#edf0f5"/>
<rect x="358.51" y="581.05" width="3.89" height="7.52" fill="#edf0f5"/>
<rect x="362.75" y="581.05" width="3.89" height="7.52" fill="#edf0f5"/>
<rect x="366.98" y="581.05" width="3.89" height="7.52" fill="#edf0f5"/>
<rect x="371.22" y="581.05" width="3.89" height="7.52" fill="#edf0f5"/>
<rect x="375.45" y="581.05" width="3.89" height="7.52" fill="#edf0f5"/>
<rect x="379.69" y="581.05" width="3.89" height="7.52" fill="#edf0f5"/>
<rect x="383.92" y="581.05" width="3.89" height="7.52" fill="#edf0f5"/>
<rect x="388.15" y="581.05" width="3.89" height="7.52" fill="#edf0f5"/>
<rect x="392.39" y="581.05" width="3.89" height="7.52" fill="#edf0f5"/>
<rect x="396.62" y="581.05" width="3.89" height="7.52" fill="#edf0f5"/>
<rect x="400.86" y="581.05" width="3.89" height="7.52" fill="#edf0f5"/>
<rect x="405.10" y="581.05" width="3.89" height="7.52" fill="#e3e9f2"/>
<rect x="409.33" y="581.05" width="3.89" height="7.52" fill="#e3e9f2"/>
<rect x="413.56" y="581.05" width="3.89" height="7.52" fill="#e3e9f2"/>
<rect x="417.80" y="581.05" width="3.89" height="7.52" fill="#e3e9f2"/>
<rect x="422.03" y="581.05" width="3.89" height="7.52" fill="#c1d3e7"/>
<rect x="426.27" y="581.05" width="3.89" height="7.52" fill="#b7cce4"/>
<rect x="430.50" y="581.05" width="3.89" height="7.52" fill="#9fbcdd"/>
<rect x="434.74" y="581.05" width="3.89" height="7.52" fill="#93b4d9"/>
<rect x="438.98" y="581.05" width="3.89" height="7.52" fill="#9fbcdd"/>
<rect x="443.21" y="581.05" width="3.89" height="7.52" fill="#8aafd6"/>
<rect x="447.45" y="581.05" width="3.89" height="7.52" fill="#8eb2d8"/>
<rect x="451.68" y="581.05" width="3.89" height="7.52" fill="#84abd4"/>
<rect x="455.92" y="581.05" width="3.89" height="7.52" fill="#8eb2d8"/>
<rect x="460.15" y="581.05" width="3.89" height="7.52" fill="#8aafd6"/>
<rect x="464.38" y="581.05" width="3.89" height="7.52" fill="#84abd4"/>
<rect x="468.62" y="581.05" width="3.89" height="7.52" fill="#8eb2d8"/>
<rect x="472.86" y="581.05" width="3.89" height="7.52" fill="#99b8db"/>
<rect x="477.09" y="581.05" width="3.89" height="7.52" fill="#9fbcdd"/>
<rect x="481.33" y="581.05" width="3.89" height="7.52" fill="#1c6db5"/>
<rect x="485.56" y="581.05" width="3.89" height="7.52" fill="#76a2d0"/>
<rect x="489.80" y="581.05" width="3.89" height="7.52" fill="#cfdcec"/>
<rect x="494.03" y="581.05" width="3.89" height="7.52" fill="#e7ecf3"/>
<rect x="498.26" y="581.05" width="3.89" height="7.52" fill="#ebeff4"/>
<rect x="290.75" y="589.12" width="3.89" height="7.52" fill="#f0f1f5"/>
<rect x="294.99" y="589.12" width="3.89" height="7.52" fill="#f0f1f5"/>
<rect x="299.22" y="589.12" width="3.89" height="7.52" fill="#f0f1f5"/>
<rect x="303.45" y="589.12" width="3.89" height="7.52" fill="#f0f1f5"/>
<rect x="307.69" y="589.12" width="3.89" height="7.52" fill="#f0f1f5"/>
<rect x="311.93" y="589.12" width="3.89" height="7.52" fill="#f0f1f5"/>
<rect x="316.16" y="589.12" width="3.89" height="7.52" fill="#f0f1f5"/>
<rect x="320.39" y="589.12" width="3.89" height="7.52" fill="#f0f1f5"/>
<rect x="324.63" y="589.12" width="3.89" height="7.52" fill="#f0f1f5"/>
<rect x="328.87" y="589.12" width="3.89" height="7.52" fill="#f0f1f5"/>
<rect x="333.10" y="589.12" width="3.89" height="7.52" fill="#f0f1f5"/>
<rect x="337.33" y="589.12" width="3.89" height="7.52" fill="#f0f1f5"/>
<rect x="341.57" y="589.12" width="3.89" height="7.52" fill="#f0f1f5"/>
<rect x="345.81" y="589.12" width="3.89" height="7.52" fill="#f0f1f5"/>
<rect x="350.04" y="589.12" width="3.89" height="7.52" fill="#f0f1f5"/>
<rect x="354.27" y="589.12" width="3.89" height="7.52" fill="#f0f1f5"/>
<rect x="358.51" y="589.12" width="3.89" height="7.52" fill="#f0f1f5"/>
<rect x="362.75" y="589.12" width="3.89" height="7.52" fill="#f0f1f5"/>
<rect x="366.98" y="589.12" width="3.89" height="7.52" fill="#f0f1f5"/>
<rect x="371.22" y="589.12" width="3.89" height="7.52" fill="#f0f1f5"/>
<rect x="375.45" y="589.12" width="3.89" height="7.52" fill="#f0f1f5"/>
<rect x="379.69" y="589.12" width="3.89" height="7.52" fill="#f0f1f5"/>
<rect x="383.92" y="589.12" width="3.89" height="7.52" fill="#f0f1f5"/>
<rect x="388.15" y="589.12" width="3.89" height="7.52" fill="#f0f1f5"/>
<rect x="392.39" y="589.12" width="3.89" height="7.52" fill="#f0f1f5"/>
<rect x="396.62" y="589.12" width="3.89" height="7.52" fill="#f0f1f5"/>
<rect x="400.86" y="589.12" width="3.89" height="7.52" fill="#f0f1f5"/>
<rect x="405.10" y="589.12" width="3.89" height="7.52" fill="#f0f1f5"/>
<rect x="409.33" y="589.12" width="3.89" height="7.52" fill="#f0f1f5"/>
<rect x="413.56" y="589.12" width="3.89" height="7.52" fill="#f0f1f5"/>
<rect x="417.80" y="589.12" width="3.89" height="7.52" fill="#f0f1f5"/>
<rect x="422.03" y="589.12" width="3.89" height="7.52" fill="#f0f1f5"/>
<rect x="426.27" y="589.12" width="3.89" height="7.52" fill="#f0f1f5"/>
<rect x="430.50" y="589.12" width="3.89" height="7.52" fill="#f0f1f5"/>
<rect x="434.74" y="589.12" width="3.89" height="7.52" fill="#f0f1f5"/>
<rect x="438.98" y="589.12" width="3.89" height="7.52" fill="#f0f1f5"/>
<rect x="443.21" y="589.12" width="3.89" height="7.52" fill="#f0f1f5"/>
<rect x="447.45" y="589.12" width="3.89" height="7.52" fill="#f0f1f5"/>
<rect x="451.68" y="589.12" width="3.89" height="7.52" fill="#f0f1f5"/>
<rect x="455.92" y="589.12" width="3.89" height="7.52" fill="#f0f1f5"/>
<rect x="460.15" y="589.12" width="3.89" height="7.52" fill="#f0f1f5"/>
<rect x="464.38" y="589.12" width="3.89" height="7.52" fill="#f0f1f5"/>
<rect x="468.62" y="589.12" width="3.89" height="7.52" fill="#f0f1f5"/>
<rect x="472.86" y="589.12" width="3.89" height="7.52" fill="#f0f1f5"/>
<rect x="477.09" y="589.12" width="3.89" height="7.52" fill="#f0f1f5"/>
<rect x="481.33" y="589.12" width="3.89" height="7.52" fill="#f0f1f5"/>
<rect x="485.56" y="589.12" width="3.89" height="7.52" fill="#ebe9f1"/>
<rect x="489.80" y="589.12" width="3.89" height="7.52" fill="#cfc4de"/>
<rect x="494.03" y="589.12" width="3.89" height="7.52" fill="#c0b0d4"/>
<rect x="498.26" y="589.12" width="3.89" height="7.52" fill="#c8bada"/>
<rect x="290.75" y="597.19" width="3.89" height="7.52" fill="#efeff4"/>
<rect x="294.99" y="597.19" width="3.89" height="7.52" fill="#efeff4"/>
<rect x="299.22" y="597.19" width="3.89" height="7.52" fill="#efeff4"/>
<rect x="303.45" y="597.19" width="3.89" height="7.52" fill="#efeff4"/>
<rect x="307.69" y="597.19" width="3.89" height="7.52" fill="#efeff4"/>
<rect x="311.93" y="597.19" width="3.89" height="7.52" fill="#efeff4"/>
<rect x="316.16" y="597.19" width="3.89" height="7.52" fill="#efeff4"/>
<rect x="320.39" y="597.19" width="3.89" height="7.52" fill="#efeff4"/>
<rect x="324.63" y="597.19" width="3.89" height="7.52" fill="#efeff4"/>
<rect x="328.87" y="597.19" width="3.89" height="7.52" fill="#efeff4"/>
<rect x="333.10" y="597.19" width="3.89" height="7.52" fill="#efeff4"/>
<rect x="337.33" y="597.19" width="3.89" height="7.52" fill="#efeff4"/>
<rect x="341.57" y="597.19" width="3.89" height="7.52" fill="#efeff4"/>
<rect x="345.81" y="597.19" width="3.89" height="7.52" fill="#efeff4"/>
<rect x="350.04" y="597.19" width="3.89" height="7.52" fill="#efeff4"/>
<rect x="354.27" y="597.19" width="3.89" height="7.52" fill="#efeff4"/>
<rect x="358.51" y="597.19" width="3.89" height="7.52" fill="#efeff4"/>
<rect x="362.75" y="597.19" width="3.89" height="7.52" fill="#efeff4"/>
<rect x="366.98" y="597.19" width="3.89" height="7.52" fill="#efeff4"/>
<rect x="371.22" y="597.19" width="3.89" height="7.52" fill="#efeff4"/>
<rect x="375.45" y="597.19" width="3.89" height="7.52" fill="#efeff4"/>
<rect x="379.69" y="597.19" width="3.89" height="7.52" fill="#efeff4"/>
<rect x="383.92" y="597.19" width="3.89" height="7.52" fill="#efeff4"/>
<rect x="388.15" y="597.19" width="3.89" height="7.52" fill="#efeff4"/>
<rect x="392.39" y="597.19" width="3.89" height="7.52" fill="#efeff4"/>
<rect x="396.62" y="597.19" width="3.89" height="7.52" fill="#efeff4"/>
<rect x="400.86" y="597.19" width="3.89" height="7.52" fill="#efeff4"/>
<rect x="405.10" y="597.19" width="3.89" height="7.52" fill="#efeff4"/>
<rect x="409.33" y="597.19" width="3.89" height="7.52" fill="#efeff4"/>
<rect x="413.56" y="597.19" width="3.89" height="7.52" fill="#efeff4"/>
<rect x="417.80" y="597.19" width="3.89" height="7.52" fill="#efeff4"/>
<rect x="422.03" y="597.19" width="3.89" height="7.52" fill="#efeff4"/>
<rect x="426.27" y="597.19" width="3.89" height="7.52" fill="#efeff4"/>
<rect x="430.50" y="597.19" width="3.89" height="7.52" fill="#efeff4"/>
<rect x="434.74" y="597.19" width="3.89" height="7.52" fill="#efeff4"/>
<rect x="438.98" y="597.19" width="3.89" height="7.52" fill="#efeff4"/>
<rect x="443.21" y="597.19" width="3.89" height="7.52" fill="#efeff4"/>
<rect x="447.45" y="597.19" width="3.89" height="7.52" fill="#efeff4"/>
<rect x="451.68" y="597.19" width="3.89" height="7.52" fill="#efeff4"/>
<rect x="455.92" y="597.19" width="3.89" height="7.52" fill="#efeff4"/>
<rect x="460.15" y="597.19" width="3.89" height="7.52" fill="#efeff4"/>
<rect x="464.38" y="597.19" width="3.89" height="7.52" fill="#efeff4"/>
<rect x="468.62" y="597.19" width="3.89" height="7.52" fill="#e8e3f1"/>
<rect x="472.86" y="597.19" width="3.89" height="7.52" fill="#e2dbee"/>
<rect x="477.09" y="597.19" width="3.89" height="7.52" fill="#d7cbe6"/>
<rect x="481.33" y="597.19" width="3.89" height="7.52" fill="#b9a5d3"/>
<rect x="485.56" y="597.19" width="3.89" height="7.52" fill="#5a3399"/>
<rect x="489.80" y="597.19" width="3.89" height="7.52" fill="#8c6fbb"/>
<rect x="494.03" y="597.19" width="3.89" height="7.52" fill="#ddd7e8"/>
<rect x="498.26" y="597.19" width="3.89" height="7.52" fill="#efeff4"/>
<rect x="290.75" y="605.26" width="3.89" height="7.52" fill="#f3f1f5"/>
<rect x="294.99" y="605.26" width="3.89" height="7.52" fill="#f3f1f5"/>
<rect x="299.22" y="605.26" width="3.89" height="7.52" fill="#f3f1f5"/>
<rect x="303.45" y="605.26" width="3.89" height="7.52" fill="#f3f1f5"/>
<rect x="307.69" y="605.26" width="3.89" height="7.52" fill="#f3f1f5"/>
<rect x="311.93" y="605.26" width="3.89" height="7.52" fill="#f3f1f5"/>
<rect x="316.16" y="605.26" width="3.89" height="7.52" fill="#f3f1f5"/>
<rect x="320.39" y="605.26" width="3.89" height="7.52" fill="#f3f1f5"/>
<rect x="324.63" y="605.26" width="3.89" height="7.52" fill="#f3f1f5"/>
<rect x="328.87" y="605.26" width="3.89" height="7.52" fill="#f3f1f5"/>
<rect x="333.10" y="605.26" width="3.89" height="7.52" fill="#f3f1f5"/>
<rect x="337.33" y="605.26" width="3.89" height="7.52" fill="#f3f1f5"/>
<rect x="341.57" y="605.26" width="3.89" height="7.52" fill="#f3f1f5"/>
<rect x="345.81" y="605.26" width="3.89" height="7.52" fill="#f3f1f5"/>
<rect x="350.04" y="605.26" width="3.89" height="7.52" fill="#f3f1f5"/>
<rect x="354.27" y="605.26" width="3.89" height="7.52" fill="#f3f1f5"/>
<rect x="358.51" y="605.26" width="3.89" height="7.52" fill="#f3f1f5"/>
<rect x="362.75" y="605.26" width="3.89" height="7.52" fill="#f3f1f5"/>
<rect x="366.98" y="605.26" width="3.89" height="7.52" fill="#f3f1f5"/>
<rect x="371.22" y="605.26" width="3.89" height="7.52" fill="#f3f1f5"/>
<rect x="375.45" y="605.26" width="3.89" height="7.52" fill="#f3f1f5"/>
<rect x="379.69" y="605.26" width="3.89" height="7.52" fill="#f3f1f5"/>
<rect x="383.92" y="605.26" width="3.89" height="7.52" fill="#f3f1f5"/>
<rect x="388.15" y="605.26" width="3.89" height="7.52" fill="#f3f1f5"/>
<rect x="392.39" y="605.26" width="3.89" height="7.52" fill="#f3f1f5"/>
<rect x="396.62" y="605.26" width="3.89" height="7.52" fill="#f3f1f5"/>
<rect x="400.86" y="605.26" width="3.89" height="7.52" fill="#f3f1f5"/>
<rect x="405.10" y="605.26" width="3.89" height="7.52" fill="#f3f1f5"/>
<rect x="409.33" y="605.26" width="3.89" height="7.52" fill="#f3f1f5"/>
<rect x="413.56" y="605.26" width="3.89" height="7.52" fill="#f3f1f5"/>
<rect x="417.80" y="605.26" width="3.89" height="7.52" fill="#f3f1f5"/>
<rect x="422.03" y="605.26" width="3.89" height="7.52" fill="#f3f1f5"/>
<rect x="426.27" y="605.26" width="3.89" height="7.52" fill="#f3f1f5"/>
<rect x="430.50" y="605.26" width="3.89" height="7.52" fill="#f3f1f5"/>
<rect x="434.74" y="605.26" width="3.89" height="7.52" fill="#f2ecf2"/>
<rect x="438.98" y="605.26" width="3.89" height="7.52" fill="#f3f1f5"/>
<rect x="443.21" y="605.26" width="3.89" height="7.52" fill="#f3f1f5"/>
<rect x="447.45" y="605.26" width="3.89" height="7.52" fill="#f3f1f5"/>
<rect x="451.68" y="605.26" width="3.89" height="7.52" fill="#f3f1f5"/>
<rect x="455.92" y="605.26" width="3.89" height="7.52" fill="#f3f1f5"/>
<rect x="460.15" y="605.26" width="3.89" height="7.52" fill="#f3f1f5"/>
<rect x="464.38" y="605.26" width="3.89" height="7.52" fill="#f3f1f5"/>
<rect x="468.62" y="605.26" width="3.89" height="7.52" fill="#f8d2dc"/>
<rect x="472.86" y="605.26" width="3.89" height="7.52" fill="#f49ab4"/>
<rect x="477.09" y="605.26" width="3.89" height="7.52" fill="#f8c9d6"/>
<rect x="481.33" y="605.26" width="3.89" height="7.52" fill="#f6e6eb"/>
<rect x="485.56" y="605.26" width="3.89" height="7.52" fill="#f2eaf0"/>
<rect x="489.80" y="605.26" width="3.89" height="7.52" fill="#f8dbe3"/>
<rect x="494.03" y="605.26" width="3.89" height="7.52" fill="#f7e2e8"/>
<rect x="498.26" y="605.26" width="3.89" height="7.52" fill="#f2e9ef"/>
<rect x="290.75" y="613.33" width="3.89" height="7.52" fill="#f2f0f3"/>
<rect x="294.99" y="613.33" width="3.89" height="7.52" fill="#f2f0f3"/>
<rect x="299.22" y="613.33" width="3.89" height="7.52" fill="#f2f0f3"/>
<rect x="303.45" y="613.33" width="3.89" height="7.52" fill="#f2f0f3"/>
<rect x="307.69" y="613.33" width="3.89" height="7.52" fill="#f2f0f3"/>
<rect x="311.93" y="613.33" width="3.89" height="7.52" fill="#f2f0f3"/>
<rect x="316.16" y="613.33" width="3.89" height="7.52" fill="#f2f0f3"/>
<rect x="320.39" y="613.33" width="3.89" height="7.52" fill="#f2f0f3"/>
<rect x="324.63" y="613.33" width="3.89" height="7.52" fill="#f2f0f3"/>
<rect x="328.87" y="613.33" width="3.89" height="7.52" fill="#f2f0f3"/>
<rect x="333.10" y="613.33" width="3.89" height="7.52" fill="#f2f0f3"/>
<rect x="337.33" y="613.33" width="3.89" height="7.52" fill="#f2f0f3"/>
<rect x="341.57" y="613.33" width="3.89" height="7.52" fill="#f2f0f3"/>
<rect x="345.81" y="613.33" width="3.89" height="7.52" fill="#f2f0f3"/>
<rect x="350.04" y="613.33" width="3.89" height="7.52" fill="#f2f0f3"/>
<rect x="354.27" y="613.33" width="3.89" height="7.52" fill="#f2f0f3"/>
<rect x="358.51" y="613.33" width="3.89" height="7.52" fill="#f2f0f3"/>
<rect x="362.75" y="613.33" width="3.89" height="7.52" fill="#f2f0f3"/>
<rect x="366.98" y="613.33" width="3.89" height="7.52" fill="#f2f0f3"/>
<rect x="371.22" y="613.33" width="3.89" height="7.52" fill="#f2f0f3"/>
<rect x="375.45" y="613.33" width="3.89" height="7.52" fill="#f2f0f3"/>
<rect x="379.69" y="613.33" width="3.89" height="7.52" fill="#f2f0f3"/>
<rect x="383.92" y="613.33" width="3.89" height="7.52" fill="#f2f0f3"/>
<rect x="388.15" y="613.33" width="3.89" height="7.52" fill="#f2f0f3"/>
<rect x="392.39" y="613.33" width="3.89" height="7.52" fill="#f2f0f3"/>
<rect x="396.62" y="613.33" width="3.89" height="7.52" fill="#f2f0f3"/>
<rect x="400.86" y="613.33" width="3.89" height="7.52" fill="#f2f0f3"/>
<rect x="405.10" y="613.33" width="3.89" height="7.52" fill="#f2f0f3"/>
<rect x="409.33" y="613.33" width="3.89" height="7.52" fill="#f2f0f3"/>
<rect x="413.56" y="613.33" width="3.89" height="7.52" fill="#f2f0f3"/>
<rect x="417.80" y="613.33" width="3.89" height="7.52" fill="#f2f0f3"/>
<rect x="422.03" y="613.33" width="3.89" height="7.52" fill="#f2f0f3"/>
<rect x="426.27" y="613.33" width="3.89" height="7.52" fill="#f2f0f3"/>
<rect x="430.50" y="613.33" width="3.89" height="7.52" fill="#f2f0f3"/>
<rect x="434.74" y="613.33" width="3.89" height="7.52" fill="#f2f0f3"/>
<rect x="438.98" y="613.33" width="3.89" height="7.52" fill="#f2f0f3"/>
<rect x="443.21" y="613.33" width="3.89" height="7.52" fill="#f2f0f3"/>
<rect x="447.45" y="613.33" width="3.89" height="7.52" fill="#f2f0f3"/>
<rect x="451.68" y="613.33" width="3.89" height="7.52" fill="#f2f0f3"/>
<rect x="455.92" y="613.33" width="3.89" height="7.52" fill="#f2f0f3"/>
<rect x="460.15" y="613.33" width="3.89" height="7.52" fill="#fbe9e4"/>
<rect x="464.38" y="613.33" width="3.89" height="7.52" fill="#f2f0f3"/>
<rect x="468.62" y="613.33" width="3.89" height="7.52" fill="#fcb4a2"/>
<rect x="472.86" y="613.33" width="3.89" height="7.52" fill="#d8191e"/>
<rect x="477.09" y="613.33" width="3.89" height="7.52" fill="#f3725c"/>
<rect x="481.33" y="613.33" width="3.89" height="7.52" fill="#fdcdbc"/>
<rect x="485.56" y="613.33" width="3.89" height="7.52" fill="#fde6dd"/>
<rect x="489.80" y="613.33" width="3.89" height="7.52" fill="#f2f0f3"/>
<rect x="494.03" y="613.33" width="3.89" height="7.52" fill="#f2f0f3"/>
<rect x="498.26" y="613.33" width="3.89" height="7.52" fill="#f2f0f3"/>
<text transform="translate(252.80 547.40)" font-size="8.0" fill="#a8cf8b" textLength="35.00" lengthAdjust="spacingAndGlyphs" stroke="#a8cf8b" stroke-width="0.15">9.5 dpc E</text>
<text transform="translate(216.00 555.45)" font-size="8.0" fill="#7dbf6c" textLength="71.80" lengthAdjust="spacingAndGlyphs" stroke="#7dbf6c" stroke-width="0.15">9.5 dpc E+HE+IAC</text>
<text transform="translate(248.90 563.50)" font-size="8.0" fill="#a9cde9" textLength="38.90" lengthAdjust="spacingAndGlyphs" stroke="#a9cde9" stroke-width="0.15">10.5 dpc E</text>
<text transform="translate(212.30 571.55)" font-size="8.0" fill="#42afbf" textLength="75.50" lengthAdjust="spacingAndGlyphs" stroke="#42afbf" stroke-width="0.15">10.5 dpc E+HE+IAC</text>
<text transform="translate(246.30 579.60)" font-size="8.0" fill="#1f7b3c" textLength="41.50" lengthAdjust="spacingAndGlyphs" stroke="#1f7b3c" stroke-width="0.15">9.5 dpc HE</text>
<text transform="translate(242.50 587.65)" font-size="8.0" fill="#2a7bbf" textLength="45.30" lengthAdjust="spacingAndGlyphs" stroke="#2a7bbf" stroke-width="0.15">10.5 dpc HE</text>
<text transform="translate(240.00 595.70)" font-size="8.0" fill="#c8aed7" textLength="47.80" lengthAdjust="spacingAndGlyphs" stroke="#c8aed7" stroke-width="0.15">10.5 dpc IAC</text>
<text transform="translate(213.80 603.75)" font-size="8.0" fill="#6a3e9b" textLength="74.00" lengthAdjust="spacingAndGlyphs" stroke="#6a3e9b" stroke-width="0.15">10.5 dpc CD45<tspan dy="-2.8" font-size="5.2">+</tspan><tspan dy="2.8">IAC</tspan></text>
<text transform="translate(240.00 611.80)" font-size="8.0" fill="#e8a3b6" textLength="47.80" lengthAdjust="spacingAndGlyphs" stroke="#e8a3b6" stroke-width="0.15">11.5 dpc IAC</text>
<text transform="translate(220.90 619.85)" font-size="8.0" fill="#d42128" textLength="66.90" lengthAdjust="spacingAndGlyphs" stroke="#d42128" stroke-width="0.15">11.5 dpc pre-HSC</text>
</svg>
</body></html>
